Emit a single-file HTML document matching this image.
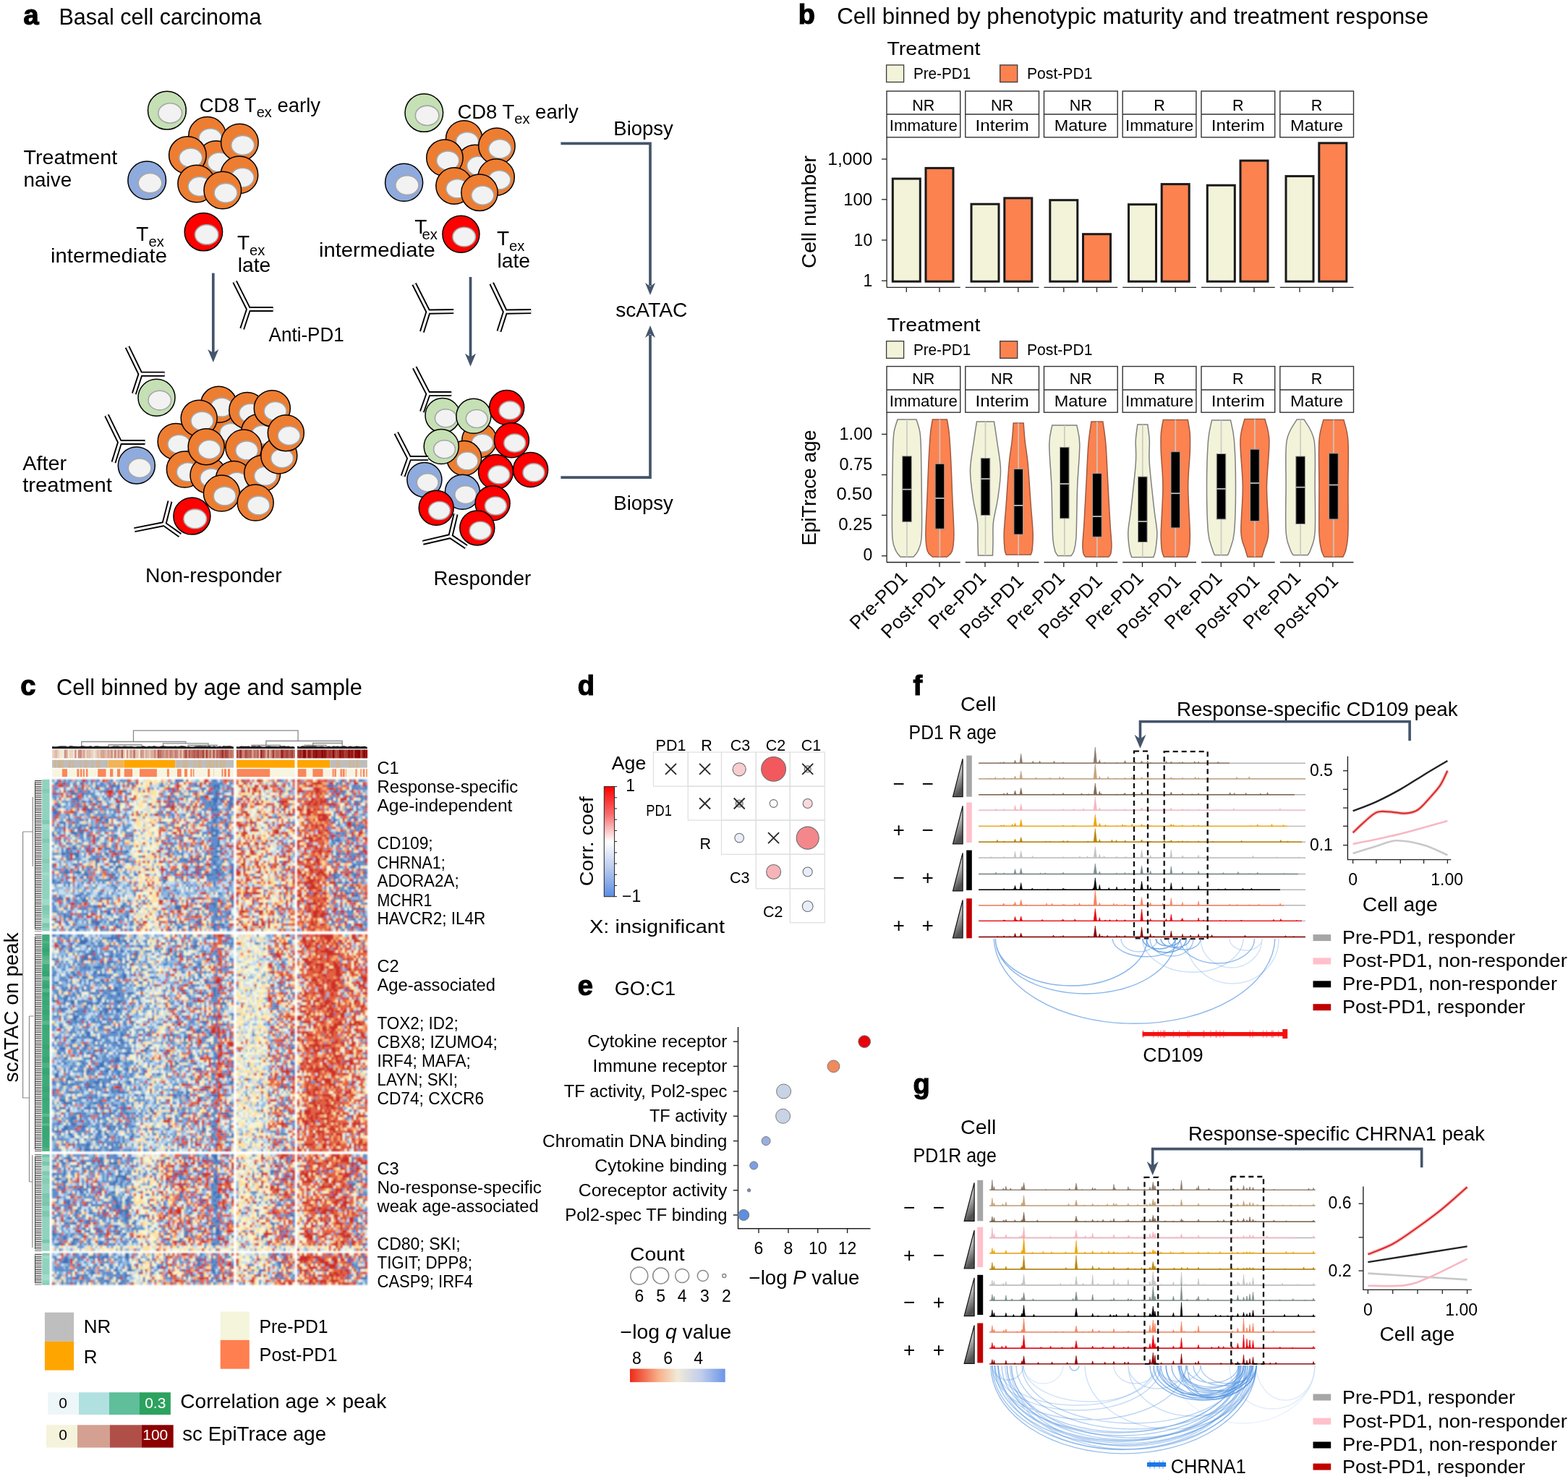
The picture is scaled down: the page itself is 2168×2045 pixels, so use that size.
<!DOCTYPE html>
<html><head><meta charset="utf-8"><title>Figure</title>
<style>html,body{margin:0;padding:0;background:#fff;}svg{display:block;}text{font-family:'Liberation Sans', Arial, sans-serif;}</style>
</head><body>
<svg width="2168" height="2045" viewBox="0 0 2168 2045">
<rect width="2168" height="2045" fill="#fff"/>
<text x="32.6" y="34.0" font-size="38" font-weight="bold" stroke="#000" stroke-width="1.2">a</text>
<text x="81.5" y="34.0" font-size="30.5" textLength="280" lengthAdjust="spacingAndGlyphs">Basal cell carcinoma</text>
<circle cx="230.9" cy="152.7" r="26.4" fill="#c5e0b4" stroke="#000" stroke-width="1.5"/>
<ellipse cx="235.2" cy="156.5" rx="16.4" ry="13.7" fill="#f2f2f2" stroke="#a6a6a6" stroke-width="1.6"/>
<circle cx="203.2" cy="249.4" r="26.3" fill="#8faadc" stroke="#000" stroke-width="1.5"/>
<ellipse cx="207.5" cy="253.2" rx="16.3" ry="13.7" fill="#f2f2f2" stroke="#a6a6a6" stroke-width="1.6"/>
<circle cx="286.6" cy="187.4" r="25.8" fill="#ed7d31" stroke="#000" stroke-width="1.5"/>
<ellipse cx="290.9" cy="191.2" rx="16.0" ry="13.4" fill="#f2f2f2" stroke="#a6a6a6" stroke-width="1.6"/>
<circle cx="298.8" cy="220.6" r="25.8" fill="#ed7d31" stroke="#000" stroke-width="1.5"/>
<ellipse cx="303.1" cy="224.4" rx="16.0" ry="13.4" fill="#f2f2f2" stroke="#a6a6a6" stroke-width="1.6"/>
<circle cx="331.4" cy="197.0" r="25.8" fill="#ed7d31" stroke="#000" stroke-width="1.5"/>
<ellipse cx="335.7" cy="200.8" rx="16.0" ry="13.4" fill="#f2f2f2" stroke="#a6a6a6" stroke-width="1.6"/>
<circle cx="259.4" cy="214.6" r="25.8" fill="#ed7d31" stroke="#000" stroke-width="1.5"/>
<ellipse cx="263.7" cy="218.4" rx="16.0" ry="13.4" fill="#f2f2f2" stroke="#a6a6a6" stroke-width="1.6"/>
<circle cx="330.9" cy="241.8" r="25.8" fill="#ed7d31" stroke="#000" stroke-width="1.5"/>
<ellipse cx="335.2" cy="245.6" rx="16.0" ry="13.4" fill="#f2f2f2" stroke="#a6a6a6" stroke-width="1.6"/>
<circle cx="271.7" cy="254.0" r="25.8" fill="#ed7d31" stroke="#000" stroke-width="1.5"/>
<ellipse cx="276.0" cy="257.8" rx="16.0" ry="13.4" fill="#f2f2f2" stroke="#a6a6a6" stroke-width="1.6"/>
<circle cx="307.8" cy="263.0" r="25.8" fill="#ed7d31" stroke="#000" stroke-width="1.5"/>
<ellipse cx="312.1" cy="266.8" rx="16.0" ry="13.4" fill="#f2f2f2" stroke="#a6a6a6" stroke-width="1.6"/>
<circle cx="281.4" cy="320.6" r="26.2" fill="#ff0000" stroke="#000" stroke-width="1.5"/>
<ellipse cx="285.7" cy="324.4" rx="16.2" ry="13.6" fill="#f2f2f2" stroke="#a6a6a6" stroke-width="1.6"/>
<circle cx="586.3" cy="156.0" r="26.3" fill="#c5e0b4" stroke="#000" stroke-width="1.5"/>
<ellipse cx="590.6" cy="159.8" rx="16.3" ry="13.7" fill="#f2f2f2" stroke="#a6a6a6" stroke-width="1.6"/>
<circle cx="558.6" cy="252.3" r="26.0" fill="#8faadc" stroke="#000" stroke-width="1.5"/>
<ellipse cx="562.9" cy="256.1" rx="16.1" ry="13.5" fill="#f2f2f2" stroke="#a6a6a6" stroke-width="1.6"/>
<circle cx="641.7" cy="191.9" r="25.2" fill="#ed7d31" stroke="#000" stroke-width="1.5"/>
<ellipse cx="646.0" cy="195.7" rx="15.6" ry="13.1" fill="#f2f2f2" stroke="#a6a6a6" stroke-width="1.6"/>
<circle cx="656.9" cy="225.5" r="25.2" fill="#ed7d31" stroke="#000" stroke-width="1.5"/>
<ellipse cx="661.2" cy="229.3" rx="15.6" ry="13.1" fill="#f2f2f2" stroke="#a6a6a6" stroke-width="1.6"/>
<circle cx="686.9" cy="202.1" r="25.2" fill="#ed7d31" stroke="#000" stroke-width="1.5"/>
<ellipse cx="691.2" cy="205.9" rx="15.6" ry="13.1" fill="#f2f2f2" stroke="#a6a6a6" stroke-width="1.6"/>
<circle cx="614.9" cy="218.2" r="25.2" fill="#ed7d31" stroke="#000" stroke-width="1.5"/>
<ellipse cx="619.2" cy="222.0" rx="15.6" ry="13.1" fill="#f2f2f2" stroke="#a6a6a6" stroke-width="1.6"/>
<circle cx="686.1" cy="245.0" r="25.2" fill="#ed7d31" stroke="#000" stroke-width="1.5"/>
<ellipse cx="690.4" cy="248.8" rx="15.6" ry="13.1" fill="#f2f2f2" stroke="#a6a6a6" stroke-width="1.6"/>
<circle cx="628.0" cy="257.0" r="25.2" fill="#ed7d31" stroke="#000" stroke-width="1.5"/>
<ellipse cx="632.3" cy="260.8" rx="15.6" ry="13.1" fill="#f2f2f2" stroke="#a6a6a6" stroke-width="1.6"/>
<circle cx="663.0" cy="266.3" r="25.2" fill="#ed7d31" stroke="#000" stroke-width="1.5"/>
<ellipse cx="667.3" cy="270.1" rx="15.6" ry="13.1" fill="#f2f2f2" stroke="#a6a6a6" stroke-width="1.6"/>
<circle cx="637.4" cy="323.8" r="25.5" fill="#ff0000" stroke="#000" stroke-width="1.5"/>
<ellipse cx="641.7" cy="327.6" rx="15.8" ry="13.3" fill="#f2f2f2" stroke="#a6a6a6" stroke-width="1.6"/>
<text x="275.7" y="154.9" font-size="27.5">CD8 T<tspan font-size="20" dy="7">ex</tspan><tspan dy="-7"> early</tspan></text>
<text x="32.6" y="226.8" font-size="28" textLength="129.6" lengthAdjust="spacingAndGlyphs">Treatment</text>
<text x="32.6" y="257.5" font-size="28" textLength="66.6" lengthAdjust="spacingAndGlyphs">naive</text>
<text x="188.3" y="332.8" font-size="28">T<tspan font-size="20.2" dy="8" dx="0">ex</tspan></text>
<text x="70.1" y="363.2" font-size="28" textLength="160.8" lengthAdjust="spacingAndGlyphs">intermediate</text>
<text x="327.9" y="344.5" font-size="28">T<tspan font-size="20.2" dy="8" dx="0">ex</tspan></text>
<text x="328.7" y="375.7" font-size="28" textLength="45.6" lengthAdjust="spacingAndGlyphs">late</text>
<text x="632.4" y="164.2" font-size="27.5">CD8 T<tspan font-size="20" dy="7">ex</tspan><tspan dy="-7"> early</tspan></text>
<text x="573.3" y="323.2" font-size="28">T<tspan font-size="20.2" dy="8" dx="-7">ex</tspan></text>
<text x="441.0" y="354.7" font-size="28" textLength="160.8" lengthAdjust="spacingAndGlyphs">intermediate</text>
<text x="687.0" y="339.2" font-size="28">T<tspan font-size="20.2" dy="8" dx="0">ex</tspan></text>
<text x="687.5" y="369.9" font-size="28" textLength="45.6" lengthAdjust="spacingAndGlyphs">late</text>
<text x="848.3" y="186.6" font-size="27.5">Biopsy</text>
<text x="851.2" y="438.4" font-size="27.5" textLength="99.1" lengthAdjust="spacingAndGlyphs">scATAC</text>
<text x="848.3" y="704.5" font-size="27.5">Biopsy</text>
<text x="371.6" y="472.4" font-size="27.5" textLength="104.1" lengthAdjust="spacingAndGlyphs">Anti-PD1</text>
<text x="31.2" y="650.3" font-size="28" textLength="60.9" lengthAdjust="spacingAndGlyphs">After</text>
<text x="31.2" y="680.2" font-size="28" textLength="123.7" lengthAdjust="spacingAndGlyphs">treatment</text>
<text x="201.0" y="805.2" font-size="28" textLength="188.8" lengthAdjust="spacingAndGlyphs">Non-responder</text>
<text x="599.4" y="809.2" font-size="28" textLength="134.8" lengthAdjust="spacingAndGlyphs">Responder</text>
<line x1="294.8" y1="377.6" x2="294.8" y2="489" stroke="#44546a" stroke-width="3.7"/>
<path d="M287.3 483L294.8 501L302.3 483L294.8 488z" fill="#44546a"/>
<line x1="650.5" y1="383" x2="650.5" y2="494.7" stroke="#44546a" stroke-width="3.7"/>
<path d="M643.0 488.7L650.5 506.7L658.0 488.7L650.5 493.7z" fill="#44546a"/>
<path d="M775.4 198.3H899V395" fill="none" stroke="#44546a" stroke-width="3.7"/>
<path d="M892 391L899 408L906 391L899 396z" fill="#44546a"/>
<path d="M775.4 660.1H899V463" fill="none" stroke="#44546a" stroke-width="3.7"/>
<path d="M892 467L899 450L906 467L899 462z" fill="#44546a"/>
<path d="M324.6 389.5L343.7 427.5L377.6 427.5M343.7 427.5L334.7 454.7" fill="none" stroke="#000" stroke-width="7" stroke-linejoin="miter"/>
<path d="M324.6 389.5L343.7 427.5L377.6 427.5M343.7 427.5L334.7 454.7" fill="none" stroke="#fff" stroke-width="3.2" stroke-linejoin="miter"/>
<path d="M572.6 392.6L592.1 431.1L627.1 430.6M592.1 431.1L583.4 458.9" fill="none" stroke="#000" stroke-width="7" stroke-linejoin="miter"/>
<path d="M572.6 392.6L592.1 431.1L627.1 430.6M592.1 431.1L583.4 458.9" fill="none" stroke="#fff" stroke-width="3.2" stroke-linejoin="miter"/>
<path d="M679.7 391.7L698.6 431.1L734.2 430.6M698.6 431.1L689.9 458.3" fill="none" stroke="#000" stroke-width="7" stroke-linejoin="miter"/>
<path d="M679.7 391.7L698.6 431.1L734.2 430.6M698.6 431.1L689.9 458.3" fill="none" stroke="#fff" stroke-width="3.2" stroke-linejoin="miter"/>
<circle cx="216.5" cy="549.8" r="25.5" fill="#c5e0b4" stroke="#000" stroke-width="1.5"/>
<ellipse cx="220.8" cy="553.6" rx="15.8" ry="13.3" fill="#f2f2f2" stroke="#a6a6a6" stroke-width="1.6"/>
<path d="M176.0 479.7L194.2 517.2L227.7 517.2M194.2 517.2L185.3 544.4" fill="none" stroke="#000" stroke-width="7" stroke-linejoin="miter"/>
<path d="M176.0 479.7L194.2 517.2L227.7 517.2M194.2 517.2L185.3 544.4" fill="none" stroke="#fff" stroke-width="3.2" stroke-linejoin="miter"/>
<circle cx="188.8" cy="643.5" r="25.5" fill="#8faadc" stroke="#000" stroke-width="1.5"/>
<ellipse cx="193.1" cy="647.3" rx="15.8" ry="13.3" fill="#f2f2f2" stroke="#a6a6a6" stroke-width="1.6"/>
<path d="M147.5 574.2L165.7 611.5L200.5 611.5M165.7 611.5L157.0 639.4" fill="none" stroke="#000" stroke-width="7" stroke-linejoin="miter"/>
<path d="M147.5 574.2L165.7 611.5L200.5 611.5M165.7 611.5L157.0 639.4" fill="none" stroke="#fff" stroke-width="3.2" stroke-linejoin="miter"/>
<circle cx="315.1" cy="594.6" r="25.0" fill="#ed7d31" stroke="#000" stroke-width="1.5"/>
<ellipse cx="319.4" cy="598.4" rx="15.5" ry="13.0" fill="#f2f2f2" stroke="#a6a6a6" stroke-width="1.6"/>
<circle cx="302.4" cy="559.3" r="25.0" fill="#ed7d31" stroke="#000" stroke-width="1.5"/>
<ellipse cx="306.7" cy="563.1" rx="15.5" ry="13.0" fill="#f2f2f2" stroke="#a6a6a6" stroke-width="1.6"/>
<circle cx="341.8" cy="567.5" r="25.0" fill="#ed7d31" stroke="#000" stroke-width="1.5"/>
<ellipse cx="346.1" cy="571.3" rx="15.5" ry="13.0" fill="#f2f2f2" stroke="#a6a6a6" stroke-width="1.6"/>
<circle cx="358.6" cy="597.3" r="25.0" fill="#ed7d31" stroke="#000" stroke-width="1.5"/>
<ellipse cx="362.9" cy="601.1" rx="15.5" ry="13.0" fill="#f2f2f2" stroke="#a6a6a6" stroke-width="1.6"/>
<circle cx="376.3" cy="564.7" r="25.0" fill="#ed7d31" stroke="#000" stroke-width="1.5"/>
<ellipse cx="380.6" cy="568.5" rx="15.5" ry="13.0" fill="#f2f2f2" stroke="#a6a6a6" stroke-width="1.6"/>
<circle cx="336.9" cy="619.1" r="25.0" fill="#ed7d31" stroke="#000" stroke-width="1.5"/>
<ellipse cx="341.2" cy="622.9" rx="15.5" ry="13.0" fill="#f2f2f2" stroke="#a6a6a6" stroke-width="1.6"/>
<circle cx="243.1" cy="610.4" r="25.0" fill="#ed7d31" stroke="#000" stroke-width="1.5"/>
<ellipse cx="247.4" cy="614.2" rx="15.5" ry="13.0" fill="#f2f2f2" stroke="#a6a6a6" stroke-width="1.6"/>
<circle cx="255.4" cy="649.0" r="25.0" fill="#ed7d31" stroke="#000" stroke-width="1.5"/>
<ellipse cx="259.7" cy="652.8" rx="15.5" ry="13.0" fill="#f2f2f2" stroke="#a6a6a6" stroke-width="1.6"/>
<circle cx="288.0" cy="657.1" r="25.0" fill="#ed7d31" stroke="#000" stroke-width="1.5"/>
<ellipse cx="292.3" cy="660.9" rx="15.5" ry="13.0" fill="#f2f2f2" stroke="#a6a6a6" stroke-width="1.6"/>
<circle cx="323.3" cy="662.5" r="25.0" fill="#ed7d31" stroke="#000" stroke-width="1.5"/>
<ellipse cx="327.6" cy="666.3" rx="15.5" ry="13.0" fill="#f2f2f2" stroke="#a6a6a6" stroke-width="1.6"/>
<circle cx="275.2" cy="578.3" r="25.0" fill="#ed7d31" stroke="#000" stroke-width="1.5"/>
<ellipse cx="279.5" cy="582.1" rx="15.5" ry="13.0" fill="#f2f2f2" stroke="#a6a6a6" stroke-width="1.6"/>
<circle cx="285.2" cy="617.7" r="25.0" fill="#ed7d31" stroke="#000" stroke-width="1.5"/>
<ellipse cx="289.5" cy="621.5" rx="15.5" ry="13.0" fill="#f2f2f2" stroke="#a6a6a6" stroke-width="1.6"/>
<circle cx="362.7" cy="654.4" r="25.0" fill="#ed7d31" stroke="#000" stroke-width="1.5"/>
<ellipse cx="367.0" cy="658.2" rx="15.5" ry="13.0" fill="#f2f2f2" stroke="#a6a6a6" stroke-width="1.6"/>
<circle cx="385.8" cy="629.9" r="25.0" fill="#ed7d31" stroke="#000" stroke-width="1.5"/>
<ellipse cx="390.1" cy="633.7" rx="15.5" ry="13.0" fill="#f2f2f2" stroke="#a6a6a6" stroke-width="1.6"/>
<circle cx="395.3" cy="598.7" r="25.0" fill="#ed7d31" stroke="#000" stroke-width="1.5"/>
<ellipse cx="399.6" cy="602.5" rx="15.5" ry="13.0" fill="#f2f2f2" stroke="#a6a6a6" stroke-width="1.6"/>
<circle cx="306.4" cy="682.1" r="25.0" fill="#ed7d31" stroke="#000" stroke-width="1.5"/>
<ellipse cx="310.7" cy="685.9" rx="15.5" ry="13.0" fill="#f2f2f2" stroke="#a6a6a6" stroke-width="1.6"/>
<circle cx="353.2" cy="695.1" r="25.0" fill="#ed7d31" stroke="#000" stroke-width="1.5"/>
<ellipse cx="357.5" cy="698.9" rx="15.5" ry="13.0" fill="#f2f2f2" stroke="#a6a6a6" stroke-width="1.6"/>
<circle cx="265.4" cy="713.6" r="25.5" fill="#ff0000" stroke="#000" stroke-width="1.5"/>
<ellipse cx="269.7" cy="717.4" rx="15.8" ry="13.3" fill="#f2f2f2" stroke="#a6a6a6" stroke-width="1.6"/>
<path d="M235.0 693.1L226.9 724.5L185.9 732.6M226.9 724.5L249.0 740.2" fill="none" stroke="#000" stroke-width="7" stroke-linejoin="miter"/>
<path d="M235.0 693.1L226.9 724.5L185.9 732.6M226.9 724.5L249.0 740.2" fill="none" stroke="#fff" stroke-width="3.2" stroke-linejoin="miter"/>
<circle cx="662.7" cy="608.8" r="24.0" fill="#ed7d31" stroke="#000" stroke-width="1.5"/>
<ellipse cx="667.0" cy="612.6" rx="14.9" ry="12.5" fill="#f2f2f2" stroke="#a6a6a6" stroke-width="1.6"/>
<circle cx="641.7" cy="633.6" r="24.0" fill="#ed7d31" stroke="#000" stroke-width="1.5"/>
<ellipse cx="646.0" cy="637.4" rx="14.9" ry="12.5" fill="#f2f2f2" stroke="#a6a6a6" stroke-width="1.6"/>
<circle cx="612.0" cy="574.4" r="24.0" fill="#c5e0b4" stroke="#000" stroke-width="1.5"/>
<ellipse cx="616.3" cy="578.2" rx="14.9" ry="12.5" fill="#f2f2f2" stroke="#a6a6a6" stroke-width="1.6"/>
<circle cx="654.9" cy="575.2" r="24.0" fill="#c5e0b4" stroke="#000" stroke-width="1.5"/>
<ellipse cx="659.2" cy="579.0" rx="14.9" ry="12.5" fill="#f2f2f2" stroke="#a6a6a6" stroke-width="1.6"/>
<circle cx="610.2" cy="617.5" r="24.0" fill="#c5e0b4" stroke="#000" stroke-width="1.5"/>
<ellipse cx="614.5" cy="621.3" rx="14.9" ry="12.5" fill="#f2f2f2" stroke="#a6a6a6" stroke-width="1.6"/>
<circle cx="700.7" cy="563.6" r="24.0" fill="#ff0000" stroke="#000" stroke-width="1.5"/>
<ellipse cx="705.0" cy="567.4" rx="14.9" ry="12.5" fill="#f2f2f2" stroke="#a6a6a6" stroke-width="1.6"/>
<circle cx="707.4" cy="608.8" r="24.0" fill="#ff0000" stroke="#000" stroke-width="1.5"/>
<ellipse cx="711.7" cy="612.6" rx="14.9" ry="12.5" fill="#f2f2f2" stroke="#a6a6a6" stroke-width="1.6"/>
<circle cx="685.5" cy="652.6" r="24.0" fill="#ff0000" stroke="#000" stroke-width="1.5"/>
<ellipse cx="689.8" cy="656.4" rx="14.9" ry="12.5" fill="#f2f2f2" stroke="#a6a6a6" stroke-width="1.6"/>
<circle cx="733.6" cy="649.6" r="24.0" fill="#ff0000" stroke="#000" stroke-width="1.5"/>
<ellipse cx="737.9" cy="653.4" rx="14.9" ry="12.5" fill="#f2f2f2" stroke="#a6a6a6" stroke-width="1.6"/>
<circle cx="586.9" cy="663.4" r="24.0" fill="#8faadc" stroke="#000" stroke-width="1.5"/>
<ellipse cx="591.2" cy="667.2" rx="14.9" ry="12.5" fill="#f2f2f2" stroke="#a6a6a6" stroke-width="1.6"/>
<circle cx="639.4" cy="680.3" r="24.0" fill="#8faadc" stroke="#000" stroke-width="1.5"/>
<ellipse cx="643.7" cy="684.1" rx="14.9" ry="12.5" fill="#f2f2f2" stroke="#a6a6a6" stroke-width="1.6"/>
<circle cx="603.2" cy="702.2" r="24.0" fill="#ff0000" stroke="#000" stroke-width="1.5"/>
<ellipse cx="607.5" cy="706.0" rx="14.9" ry="12.5" fill="#f2f2f2" stroke="#a6a6a6" stroke-width="1.6"/>
<circle cx="681.1" cy="695.7" r="24.0" fill="#ff0000" stroke="#000" stroke-width="1.5"/>
<ellipse cx="685.4" cy="699.5" rx="14.9" ry="12.5" fill="#f2f2f2" stroke="#a6a6a6" stroke-width="1.6"/>
<circle cx="659.8" cy="729.9" r="24.0" fill="#ff0000" stroke="#000" stroke-width="1.5"/>
<ellipse cx="664.1" cy="733.7" rx="14.9" ry="12.5" fill="#f2f2f2" stroke="#a6a6a6" stroke-width="1.6"/>
<path d="M573.2 508.1L592.1 544.6L624.2 544.6M592.1 544.6L583.4 569.4" fill="none" stroke="#000" stroke-width="7" stroke-linejoin="miter"/>
<path d="M573.2 508.1L592.1 544.6L624.2 544.6M592.1 544.6L583.4 569.4" fill="none" stroke="#fff" stroke-width="3.2" stroke-linejoin="miter"/>
<path d="M547.8 598.6L565.9 633.6L592.1 633.6M565.9 633.6L557.1 658.4" fill="none" stroke="#000" stroke-width="7" stroke-linejoin="miter"/>
<path d="M547.8 598.6L565.9 633.6L592.1 633.6M565.9 633.6L557.1 658.4" fill="none" stroke="#fff" stroke-width="3.2" stroke-linejoin="miter"/>
<path d="M630.1 710.9L622.8 741.5L584.8 750.3M622.8 741.5L644.6 756.1" fill="none" stroke="#000" stroke-width="7" stroke-linejoin="miter"/>
<path d="M630.1 710.9L622.8 741.5L584.8 750.3M622.8 741.5L644.6 756.1" fill="none" stroke="#fff" stroke-width="3.2" stroke-linejoin="miter"/>
<text x="1103.8" y="32.6" font-size="38" font-weight="bold" stroke="#000" stroke-width="1.2">b</text>
<text x="1157.2" y="32.6" font-size="31" textLength="818" lengthAdjust="spacingAndGlyphs">Cell binned by phenotypic maturity and treatment response</text>
<text x="1226.4" y="76.1" font-size="26" textLength="129" lengthAdjust="spacingAndGlyphs">Treatment</text>
<rect x="1225.6" y="89.9" width="24" height="23.6" fill="#f3f3da" stroke="#3a3a3a" stroke-width="1.3"/>
<rect x="1382.7" y="89.9" width="24" height="23.6" fill="#fc8250" stroke="#3a3a3a" stroke-width="1.3"/>
<text x="1262.9" y="109.3" font-size="22.5" textLength="79.4" lengthAdjust="spacingAndGlyphs">Pre-PD1</text>
<text x="1420.0" y="109.3" font-size="22.5" textLength="90.5" lengthAdjust="spacingAndGlyphs">Post-PD1</text>
<rect x="1226.0" y="126" width="101.7" height="63.8" fill="#fff" stroke="#333" stroke-width="1.4"/>
<line x1="1226.0" y1="158" x2="1327.7" y2="158" stroke="#333" stroke-width="1.4"/>
<text x="1276.8" y="152.5" font-size="21.5" text-anchor="middle">NR</text>
<text x="1276.8" y="181.2" font-size="22" text-anchor="middle" textLength="94" lengthAdjust="spacingAndGlyphs">Immature</text>
<rect x="1334.8" y="126" width="101.7" height="63.8" fill="#fff" stroke="#333" stroke-width="1.4"/>
<line x1="1334.8" y1="158" x2="1436.5" y2="158" stroke="#333" stroke-width="1.4"/>
<text x="1385.6" y="152.5" font-size="21.5" text-anchor="middle">NR</text>
<text x="1385.6" y="181.2" font-size="22" text-anchor="middle" textLength="74" lengthAdjust="spacingAndGlyphs">Interim</text>
<rect x="1443.5" y="126" width="101.7" height="63.8" fill="#fff" stroke="#333" stroke-width="1.4"/>
<line x1="1443.5" y1="158" x2="1545.2" y2="158" stroke="#333" stroke-width="1.4"/>
<text x="1494.3" y="152.5" font-size="21.5" text-anchor="middle">NR</text>
<text x="1494.3" y="181.2" font-size="22" text-anchor="middle" textLength="73" lengthAdjust="spacingAndGlyphs">Mature</text>
<rect x="1552.2" y="126" width="101.7" height="63.8" fill="#fff" stroke="#333" stroke-width="1.4"/>
<line x1="1552.2" y1="158" x2="1654.0" y2="158" stroke="#333" stroke-width="1.4"/>
<text x="1603.1" y="152.5" font-size="21.5" text-anchor="middle">R</text>
<text x="1603.1" y="181.2" font-size="22" text-anchor="middle" textLength="94" lengthAdjust="spacingAndGlyphs">Immature</text>
<rect x="1661.0" y="126" width="101.7" height="63.8" fill="#fff" stroke="#333" stroke-width="1.4"/>
<line x1="1661.0" y1="158" x2="1762.7" y2="158" stroke="#333" stroke-width="1.4"/>
<text x="1711.8" y="152.5" font-size="21.5" text-anchor="middle">R</text>
<text x="1711.8" y="181.2" font-size="22" text-anchor="middle" textLength="74" lengthAdjust="spacingAndGlyphs">Interim</text>
<rect x="1769.8" y="126" width="101.7" height="63.8" fill="#fff" stroke="#333" stroke-width="1.4"/>
<line x1="1769.8" y1="158" x2="1871.5" y2="158" stroke="#333" stroke-width="1.4"/>
<text x="1820.6" y="152.5" font-size="21.5" text-anchor="middle">R</text>
<text x="1820.6" y="181.2" font-size="22" text-anchor="middle" textLength="73" lengthAdjust="spacingAndGlyphs">Mature</text>
<line x1="1226.1" y1="189.8" x2="1226.1" y2="397.4" stroke="#222" stroke-width="1.3"/>
<line x1="1219" y1="220" x2="1226" y2="220" stroke="#222" stroke-width="1.3"/>
<text x="1206.2" y="228.0" font-size="23" text-anchor="end" textLength="62" lengthAdjust="spacingAndGlyphs">1,000</text>
<line x1="1219" y1="275.8" x2="1226" y2="275.8" stroke="#222" stroke-width="1.3"/>
<text x="1206.2" y="283.8" font-size="23" text-anchor="end" textLength="40" lengthAdjust="spacingAndGlyphs">100</text>
<line x1="1219" y1="332" x2="1226" y2="332" stroke="#222" stroke-width="1.3"/>
<text x="1206.2" y="340.0" font-size="23" text-anchor="end">10</text>
<line x1="1219" y1="388.2" x2="1226" y2="388.2" stroke="#222" stroke-width="1.3"/>
<text x="1206.2" y="396.2" font-size="23" text-anchor="end">1</text>
<text x="0" y="0" font-size="28" text-anchor="middle" transform="translate(1127.5 293) rotate(-90)" textLength="156" lengthAdjust="spacingAndGlyphs">Cell number</text>
<rect x="1234.3" y="247.1" width="38" height="142.1" fill="#f3f3da" stroke="#1a1a1a" stroke-width="3"/>
<rect x="1280.0" y="232.4" width="38" height="156.8" fill="#fc8250" stroke="#1a1a1a" stroke-width="3"/>
<line x1="1226.0" y1="397.4" x2="1327.7" y2="397.4" stroke="#222" stroke-width="1.3"/>
<line x1="1253.3" y1="397.4" x2="1253.3" y2="404" stroke="#222" stroke-width="1.3"/>
<line x1="1299.0" y1="397.4" x2="1299.0" y2="404" stroke="#222" stroke-width="1.3"/>
<rect x="1343.0" y="282.2" width="38" height="107.0" fill="#f3f3da" stroke="#1a1a1a" stroke-width="3"/>
<rect x="1388.8" y="273.9" width="38" height="115.3" fill="#fc8250" stroke="#1a1a1a" stroke-width="3"/>
<line x1="1334.8" y1="397.4" x2="1436.5" y2="397.4" stroke="#222" stroke-width="1.3"/>
<line x1="1362.0" y1="397.4" x2="1362.0" y2="404" stroke="#222" stroke-width="1.3"/>
<line x1="1407.8" y1="397.4" x2="1407.8" y2="404" stroke="#222" stroke-width="1.3"/>
<rect x="1451.8" y="276.7" width="38" height="112.5" fill="#f3f3da" stroke="#1a1a1a" stroke-width="3"/>
<rect x="1497.5" y="323.7" width="38" height="65.5" fill="#fc8250" stroke="#1a1a1a" stroke-width="3"/>
<line x1="1443.5" y1="397.4" x2="1545.2" y2="397.4" stroke="#222" stroke-width="1.3"/>
<line x1="1470.8" y1="397.4" x2="1470.8" y2="404" stroke="#222" stroke-width="1.3"/>
<line x1="1516.5" y1="397.4" x2="1516.5" y2="404" stroke="#222" stroke-width="1.3"/>
<rect x="1560.5" y="282.7" width="38" height="106.5" fill="#f3f3da" stroke="#1a1a1a" stroke-width="3"/>
<rect x="1606.2" y="254.6" width="38" height="134.6" fill="#fc8250" stroke="#1a1a1a" stroke-width="3"/>
<line x1="1552.2" y1="397.4" x2="1654.0" y2="397.4" stroke="#222" stroke-width="1.3"/>
<line x1="1579.5" y1="397.4" x2="1579.5" y2="404" stroke="#222" stroke-width="1.3"/>
<line x1="1625.2" y1="397.4" x2="1625.2" y2="404" stroke="#222" stroke-width="1.3"/>
<rect x="1669.3" y="256.2" width="38" height="133.0" fill="#f3f3da" stroke="#1a1a1a" stroke-width="3"/>
<rect x="1715.0" y="222.1" width="38" height="167.1" fill="#fc8250" stroke="#1a1a1a" stroke-width="3"/>
<line x1="1661.0" y1="397.4" x2="1762.7" y2="397.4" stroke="#222" stroke-width="1.3"/>
<line x1="1688.3" y1="397.4" x2="1688.3" y2="404" stroke="#222" stroke-width="1.3"/>
<line x1="1734.0" y1="397.4" x2="1734.0" y2="404" stroke="#222" stroke-width="1.3"/>
<rect x="1778.0" y="243.6" width="38" height="145.6" fill="#f3f3da" stroke="#1a1a1a" stroke-width="3"/>
<rect x="1823.8" y="197.8" width="38" height="191.4" fill="#fc8250" stroke="#1a1a1a" stroke-width="3"/>
<line x1="1769.8" y1="397.4" x2="1871.5" y2="397.4" stroke="#222" stroke-width="1.3"/>
<line x1="1797.0" y1="397.4" x2="1797.0" y2="404" stroke="#222" stroke-width="1.3"/>
<line x1="1842.8" y1="397.4" x2="1842.8" y2="404" stroke="#222" stroke-width="1.3"/>
<text x="1226.4" y="458.2" font-size="26" textLength="129" lengthAdjust="spacingAndGlyphs">Treatment</text>
<rect x="1225.6" y="471.7" width="24" height="23.6" fill="#f3f3da" stroke="#3a3a3a" stroke-width="1.3"/>
<rect x="1382.7" y="471.7" width="24" height="23.6" fill="#fc8250" stroke="#3a3a3a" stroke-width="1.3"/>
<text x="1262.9" y="490.5" font-size="22.5" textLength="79.4" lengthAdjust="spacingAndGlyphs">Pre-PD1</text>
<text x="1420.0" y="490.5" font-size="22.5" textLength="90.5" lengthAdjust="spacingAndGlyphs">Post-PD1</text>
<rect x="1226.0" y="506.6" width="101.7" height="63.6" fill="#fff" stroke="#333" stroke-width="1.4"/>
<line x1="1226.0" y1="539" x2="1327.7" y2="539" stroke="#333" stroke-width="1.4"/>
<text x="1276.8" y="530.5" font-size="21.5" text-anchor="middle">NR</text>
<text x="1276.8" y="562.0" font-size="22" text-anchor="middle" textLength="94" lengthAdjust="spacingAndGlyphs">Immature</text>
<rect x="1334.8" y="506.6" width="101.7" height="63.6" fill="#fff" stroke="#333" stroke-width="1.4"/>
<line x1="1334.8" y1="539" x2="1436.5" y2="539" stroke="#333" stroke-width="1.4"/>
<text x="1385.6" y="530.5" font-size="21.5" text-anchor="middle">NR</text>
<text x="1385.6" y="562.0" font-size="22" text-anchor="middle" textLength="74" lengthAdjust="spacingAndGlyphs">Interim</text>
<rect x="1443.5" y="506.6" width="101.7" height="63.6" fill="#fff" stroke="#333" stroke-width="1.4"/>
<line x1="1443.5" y1="539" x2="1545.2" y2="539" stroke="#333" stroke-width="1.4"/>
<text x="1494.3" y="530.5" font-size="21.5" text-anchor="middle">NR</text>
<text x="1494.3" y="562.0" font-size="22" text-anchor="middle" textLength="73" lengthAdjust="spacingAndGlyphs">Mature</text>
<rect x="1552.2" y="506.6" width="101.7" height="63.6" fill="#fff" stroke="#333" stroke-width="1.4"/>
<line x1="1552.2" y1="539" x2="1654.0" y2="539" stroke="#333" stroke-width="1.4"/>
<text x="1603.1" y="530.5" font-size="21.5" text-anchor="middle">R</text>
<text x="1603.1" y="562.0" font-size="22" text-anchor="middle" textLength="94" lengthAdjust="spacingAndGlyphs">Immature</text>
<rect x="1661.0" y="506.6" width="101.7" height="63.6" fill="#fff" stroke="#333" stroke-width="1.4"/>
<line x1="1661.0" y1="539" x2="1762.7" y2="539" stroke="#333" stroke-width="1.4"/>
<text x="1711.8" y="530.5" font-size="21.5" text-anchor="middle">R</text>
<text x="1711.8" y="562.0" font-size="22" text-anchor="middle" textLength="74" lengthAdjust="spacingAndGlyphs">Interim</text>
<rect x="1769.8" y="506.6" width="101.7" height="63.6" fill="#fff" stroke="#333" stroke-width="1.4"/>
<line x1="1769.8" y1="539" x2="1871.5" y2="539" stroke="#333" stroke-width="1.4"/>
<text x="1820.6" y="530.5" font-size="21.5" text-anchor="middle">R</text>
<text x="1820.6" y="562.0" font-size="22" text-anchor="middle" textLength="73" lengthAdjust="spacingAndGlyphs">Mature</text>
<line x1="1226.1" y1="570.2" x2="1226.1" y2="777.5" stroke="#222" stroke-width="1.3"/>
<line x1="1219" y1="600.4" x2="1226" y2="600.4" stroke="#222" stroke-width="1.3"/>
<line x1="1219" y1="656.5" x2="1226" y2="656.5" stroke="#222" stroke-width="1.3"/>
<line x1="1219" y1="712.4" x2="1226" y2="712.4" stroke="#222" stroke-width="1.3"/>
<line x1="1219" y1="768.6" x2="1226" y2="768.6" stroke="#222" stroke-width="1.3"/>
<text x="1206.2" y="608.0" font-size="23" text-anchor="end" textLength="45.6" lengthAdjust="spacingAndGlyphs">1.00</text>
<text x="1206.2" y="649.6" font-size="23" text-anchor="end" textLength="45.6" lengthAdjust="spacingAndGlyphs">0.75</text>
<text x="1206.2" y="691.1" font-size="23" text-anchor="end" textLength="49.8" lengthAdjust="spacingAndGlyphs">0.50</text>
<text x="1206.2" y="732.6" font-size="23" text-anchor="end" textLength="47" lengthAdjust="spacingAndGlyphs">0.25</text>
<text x="1206.2" y="775.0" font-size="23" text-anchor="end">0</text>
<text x="0" y="0" font-size="28" text-anchor="middle" transform="translate(1127.5 674.5) rotate(-90)" textLength="160" lengthAdjust="spacingAndGlyphs">EpiTrace age</text>
<path d="M1241.0 580.0L1267.0 580.0C1267.8 583.0 1270.9 590.5 1272.0 598.0C1273.1 605.5 1273.1 608.0 1273.5 625.0C1273.9 642.0 1274.4 680.0 1274.5 700.0C1274.6 720.0 1274.9 734.7 1274.0 745.0C1273.1 755.3 1270.8 757.8 1269.0 762.0C1267.2 766.2 1264.0 768.7 1263.0 770.0L1245.0 770.0C1244.0 768.7 1240.8 766.2 1239.0 762.0C1237.2 757.8 1234.9 755.3 1234.0 745.0C1233.1 734.7 1233.4 720.0 1233.5 700.0C1233.6 680.0 1234.1 642.0 1234.5 625.0C1234.9 608.0 1234.9 605.5 1236.0 598.0C1237.1 590.5 1240.2 583.0 1241.0 580.0z" fill="#f3f3da" stroke="#808080" stroke-width="1.5"/>
<line x1="1254.0" y1="580.0" x2="1254.0" y2="770.0" stroke="#c9c9c0" stroke-width="1.6"/>
<rect x="1247.7" y="630.8" width="12.6" height="90.8" fill="#000" stroke="#999" stroke-width="1"/>
<line x1="1247.7" y1="676.7" x2="1260.3" y2="676.7" stroke="#bbb" stroke-width="1.8"/>
<path d="M1289.4 580.0L1309.4 580.0C1309.9 583.3 1311.5 590.0 1312.4 600.0C1313.3 610.0 1314.2 625.0 1314.9 640.0C1315.7 655.0 1316.2 673.3 1316.9 690.0C1317.6 706.7 1319.0 728.0 1318.9 740.0C1318.8 752.0 1318.0 757.0 1316.4 762.0C1314.8 767.0 1310.6 768.7 1309.4 770.0L1289.4 770.0C1288.2 768.7 1284.0 767.0 1282.4 762.0C1280.8 757.0 1280.0 752.0 1279.9 740.0C1279.8 728.0 1281.2 706.7 1281.9 690.0C1282.6 673.3 1283.2 655.0 1283.9 640.0C1284.7 625.0 1285.5 610.0 1286.4 600.0C1287.3 590.0 1288.9 583.3 1289.4 580.0z" fill="#fc8250" stroke="#a05a40" stroke-width="1.5"/>
<line x1="1299.4" y1="580.0" x2="1299.4" y2="770.0" stroke="#c9c9c0" stroke-width="1.6"/>
<rect x="1293.1" y="641.3" width="12.6" height="89.9" fill="#000" stroke="#999" stroke-width="1"/>
<line x1="1293.1" y1="688.9" x2="1305.7" y2="688.9" stroke="#bbb" stroke-width="1.8"/>
<path d="M1350.5 583.0L1374.5 583.0C1375.2 587.5 1377.0 598.8 1378.5 610.0C1380.0 621.2 1383.3 636.7 1383.5 650.0C1383.7 663.3 1381.2 678.0 1379.5 690.0C1377.8 702.0 1374.6 712.0 1373.5 722.0C1372.4 732.0 1373.2 742.3 1373.0 750.0C1372.8 757.7 1372.6 765.0 1372.5 768.0L1352.5 768.0C1352.4 765.0 1352.2 757.7 1352.0 750.0C1351.8 742.3 1352.6 732.0 1351.5 722.0C1350.4 712.0 1347.2 702.0 1345.5 690.0C1343.8 678.0 1341.3 663.3 1341.5 650.0C1341.7 636.7 1345.0 621.2 1346.5 610.0C1348.0 598.8 1349.8 587.5 1350.5 583.0z" fill="#f3f3da" stroke="#808080" stroke-width="1.5"/>
<line x1="1362.5" y1="583.0" x2="1362.5" y2="768.0" stroke="#c9c9c0" stroke-width="1.6"/>
<rect x="1356.2" y="633.6" width="12.6" height="78.8" fill="#000" stroke="#999" stroke-width="1"/>
<line x1="1356.2" y1="662.1" x2="1368.8" y2="662.1" stroke="#bbb" stroke-width="1.8"/>
<path d="M1401.2 585.0L1415.2 585.0C1415.5 589.2 1416.2 600.7 1417.2 610.0C1418.2 619.3 1419.9 626.5 1421.2 641.0C1422.5 655.5 1424.0 680.8 1425.2 697.0C1426.4 713.2 1427.9 727.5 1428.2 738.0C1428.5 748.5 1427.7 755.2 1427.2 760.0C1426.7 764.8 1425.5 765.8 1425.2 767.0L1391.2 767.0C1390.9 765.8 1389.7 764.8 1389.2 760.0C1388.7 755.2 1387.9 748.5 1388.2 738.0C1388.5 727.5 1390.0 713.2 1391.2 697.0C1392.4 680.8 1393.9 655.5 1395.2 641.0C1396.5 626.5 1398.2 619.3 1399.2 610.0C1400.2 600.7 1400.9 589.2 1401.2 585.0z" fill="#fc8250" stroke="#a05a40" stroke-width="1.5"/>
<line x1="1408.2" y1="585.0" x2="1408.2" y2="767.0" stroke="#c9c9c0" stroke-width="1.6"/>
<rect x="1401.9" y="648.5" width="12.6" height="90.5" fill="#000" stroke="#999" stroke-width="1"/>
<line x1="1401.9" y1="698.9" x2="1414.5" y2="698.9" stroke="#bbb" stroke-width="1.8"/>
<path d="M1454.8 588.0L1488.8 588.0C1489.5 592.3 1492.6 600.5 1492.8 614.0C1493.0 627.5 1490.5 653.0 1489.8 669.0C1489.1 685.0 1489.1 697.3 1488.8 710.0C1488.5 722.7 1488.5 736.3 1487.8 745.0C1487.1 753.7 1486.0 758.1 1484.8 762.0C1483.6 765.9 1481.5 767.5 1480.8 768.6L1462.8 768.6C1462.1 767.5 1460.0 765.9 1458.8 762.0C1457.6 758.1 1456.5 753.7 1455.8 745.0C1455.1 736.3 1455.1 722.7 1454.8 710.0C1454.5 697.3 1454.5 685.0 1453.8 669.0C1453.1 653.0 1450.6 627.5 1450.8 614.0C1451.0 600.5 1454.1 592.3 1454.8 588.0z" fill="#f3f3da" stroke="#808080" stroke-width="1.5"/>
<line x1="1471.8" y1="588.0" x2="1471.8" y2="768.6" stroke="#c9c9c0" stroke-width="1.6"/>
<rect x="1465.5" y="618.4" width="12.6" height="98.5" fill="#000" stroke="#999" stroke-width="1"/>
<line x1="1465.5" y1="669" x2="1478.1" y2="669" stroke="#bbb" stroke-width="1.8"/>
<path d="M1508.9 583.0L1524.9 583.0C1525.6 588.2 1527.7 599.7 1528.9 614.0C1530.1 628.3 1530.9 650.7 1531.9 669.0C1532.9 687.3 1534.1 710.2 1534.9 724.0C1535.7 737.8 1536.7 745.2 1536.9 752.0C1537.1 758.8 1536.6 762.0 1535.9 765.0C1535.2 768.0 1533.4 769.2 1532.9 770.0L1500.9 770.0C1500.4 769.2 1498.6 768.0 1497.9 765.0C1497.2 762.0 1496.7 758.8 1496.9 752.0C1497.1 745.2 1498.1 737.8 1498.9 724.0C1499.7 710.2 1500.9 687.3 1501.9 669.0C1502.9 650.7 1503.7 628.3 1504.9 614.0C1506.1 599.7 1508.2 588.2 1508.9 583.0z" fill="#fc8250" stroke="#a05a40" stroke-width="1.5"/>
<line x1="1516.9" y1="583.0" x2="1516.9" y2="770.0" stroke="#c9c9c0" stroke-width="1.6"/>
<rect x="1510.6" y="654.6" width="12.6" height="87.7" fill="#000" stroke="#999" stroke-width="1"/>
<line x1="1510.6" y1="714.1" x2="1523.2" y2="714.1" stroke="#bbb" stroke-width="1.8"/>
<path d="M1572.8 587.0L1586.8 587.0C1587.2 590.7 1588.9 600.0 1589.3 609.0C1589.7 618.0 1588.2 625.2 1589.3 641.0C1590.4 656.8 1594.0 688.2 1595.8 704.0C1597.5 719.8 1599.5 726.7 1599.8 736.0C1600.1 745.3 1598.6 754.2 1597.8 760.0C1597.0 765.8 1595.3 768.8 1594.8 770.6L1564.8 770.6C1564.3 768.8 1562.6 765.8 1561.8 760.0C1561.0 754.2 1559.5 745.3 1559.8 736.0C1560.1 726.7 1562.0 719.8 1563.8 704.0C1565.5 688.2 1569.2 656.8 1570.3 641.0C1571.4 625.2 1569.9 618.0 1570.3 609.0C1570.7 600.0 1572.4 590.7 1572.8 587.0z" fill="#f3f3da" stroke="#808080" stroke-width="1.5"/>
<line x1="1579.8" y1="587.0" x2="1579.8" y2="770.6" stroke="#c9c9c0" stroke-width="1.6"/>
<rect x="1573.5" y="659.1" width="12.6" height="90.4" fill="#000" stroke="#999" stroke-width="1"/>
<line x1="1573.5" y1="721" x2="1586.1" y2="721" stroke="#bbb" stroke-width="1.8"/>
<path d="M1608.3 580.5L1642.3 580.5C1642.8 583.8 1644.8 592.6 1645.3 600.0C1645.8 607.4 1645.7 612.9 1645.3 625.0C1644.9 637.1 1642.7 654.2 1642.7 672.7C1642.7 691.2 1645.0 721.5 1645.3 736.0C1645.6 750.5 1645.0 754.3 1644.3 760.0C1643.6 765.7 1641.8 768.3 1641.3 770.0L1609.3 770.0C1608.8 768.3 1607.0 765.7 1606.3 760.0C1605.6 754.3 1605.0 750.5 1605.3 736.0C1605.6 721.5 1607.9 691.2 1607.9 672.7C1607.9 654.2 1605.7 637.1 1605.3 625.0C1604.9 612.9 1604.8 607.4 1605.3 600.0C1605.8 592.6 1607.8 583.8 1608.3 580.5z" fill="#fc8250" stroke="#a05a40" stroke-width="1.5"/>
<line x1="1625.3" y1="580.5" x2="1625.3" y2="770.0" stroke="#c9c9c0" stroke-width="1.6"/>
<rect x="1619.0" y="624.7" width="12.6" height="105.2" fill="#000" stroke="#999" stroke-width="1"/>
<line x1="1619.0" y1="682.2" x2="1631.6" y2="682.2" stroke="#bbb" stroke-width="1.8"/>
<path d="M1675.5 581.0L1701.5 581.0C1702.3 585.8 1705.3 594.2 1706.5 609.5C1707.7 624.8 1708.5 651.6 1708.5 672.7C1708.5 693.8 1707.8 721.5 1706.5 736.0C1705.2 750.5 1702.0 754.8 1700.5 760.0C1699.0 765.2 1698.0 766.2 1697.5 767.5L1679.5 767.5C1679.0 766.2 1678.0 765.2 1676.5 760.0C1675.0 754.8 1671.8 750.5 1670.5 736.0C1669.2 721.5 1668.5 693.8 1668.5 672.7C1668.5 651.6 1669.3 624.8 1670.5 609.5C1671.7 594.2 1674.7 585.8 1675.5 581.0z" fill="#f3f3da" stroke="#808080" stroke-width="1.5"/>
<line x1="1688.5" y1="581.0" x2="1688.5" y2="767.5" stroke="#c9c9c0" stroke-width="1.6"/>
<rect x="1682.2" y="627.5" width="12.6" height="90.4" fill="#000" stroke="#999" stroke-width="1"/>
<line x1="1682.2" y1="675.9" x2="1694.8" y2="675.9" stroke="#bbb" stroke-width="1.8"/>
<path d="M1720.9 579.5L1748.9 579.5C1749.9 584.5 1754.5 594.0 1754.9 609.5C1755.3 625.0 1751.7 651.6 1751.5 672.7C1751.3 693.8 1754.5 721.5 1753.9 736.0C1753.3 750.5 1749.4 754.3 1747.9 760.0C1746.4 765.7 1745.4 768.3 1744.9 770.0L1724.9 770.0C1724.4 768.3 1723.4 765.7 1721.9 760.0C1720.4 754.3 1716.5 750.5 1715.9 736.0C1715.3 721.5 1718.5 693.8 1718.3 672.7C1718.1 651.6 1714.5 625.0 1714.9 609.5C1715.3 594.0 1719.9 584.5 1720.9 579.5z" fill="#fc8250" stroke="#a05a40" stroke-width="1.5"/>
<line x1="1734.9" y1="579.5" x2="1734.9" y2="770.0" stroke="#c9c9c0" stroke-width="1.6"/>
<rect x="1728.6" y="621.2" width="12.6" height="99.2" fill="#000" stroke="#999" stroke-width="1"/>
<line x1="1728.6" y1="668" x2="1741.2" y2="668" stroke="#bbb" stroke-width="1.8"/>
<path d="M1793.1 580.0L1803.1 580.0C1805.4 584.9 1814.6 594.0 1817.1 609.5C1819.6 625.0 1817.9 651.6 1818.1 672.7C1818.3 693.8 1819.1 721.5 1818.1 736.0C1817.1 750.5 1813.8 754.8 1812.1 760.0C1810.4 765.2 1808.8 766.2 1808.1 767.5L1788.1 767.5C1787.4 766.2 1785.8 765.2 1784.1 760.0C1782.4 754.8 1779.1 750.5 1778.1 736.0C1777.1 721.5 1777.9 693.8 1778.1 672.7C1778.3 651.6 1776.6 625.0 1779.1 609.5C1781.6 594.0 1790.8 584.9 1793.1 580.0z" fill="#f3f3da" stroke="#808080" stroke-width="1.5"/>
<line x1="1798.1" y1="580.0" x2="1798.1" y2="767.5" stroke="#c9c9c0" stroke-width="1.6"/>
<rect x="1791.8" y="631" width="12.6" height="93.5" fill="#000" stroke="#999" stroke-width="1"/>
<line x1="1791.8" y1="673.7" x2="1804.4" y2="673.7" stroke="#bbb" stroke-width="1.8"/>
<path d="M1829.9 580.5L1857.9 580.5C1858.9 585.3 1862.9 594.1 1863.9 609.5C1864.9 624.9 1863.9 651.6 1863.9 672.7C1863.9 693.8 1864.4 721.5 1863.9 736.0C1863.4 750.5 1862.1 754.3 1860.9 760.0C1859.7 765.7 1857.6 768.3 1856.9 770.0L1830.9 770.0C1830.2 768.3 1828.1 765.7 1826.9 760.0C1825.7 754.3 1824.4 750.5 1823.9 736.0C1823.4 721.5 1823.9 693.8 1823.9 672.7C1823.9 651.6 1822.9 624.9 1823.9 609.5C1824.9 594.1 1828.9 585.3 1829.9 580.5z" fill="#fc8250" stroke="#a05a40" stroke-width="1.5"/>
<line x1="1843.9" y1="580.5" x2="1843.9" y2="770.0" stroke="#c9c9c0" stroke-width="1.6"/>
<rect x="1837.6" y="626.9" width="12.6" height="91.0" fill="#000" stroke="#999" stroke-width="1"/>
<line x1="1837.6" y1="670.5" x2="1850.2" y2="670.5" stroke="#bbb" stroke-width="1.8"/>
<line x1="1226.0" y1="777.5" x2="1327.7" y2="777.5" stroke="#222" stroke-width="1.3"/>
<line x1="1253.3" y1="777.5" x2="1253.3" y2="784" stroke="#222" stroke-width="1.3"/>
<text x="0" y="0" font-size="26" text-anchor="end" transform="translate(1256.3 801) rotate(-45)" textLength="100" lengthAdjust="spacingAndGlyphs">Pre-PD1</text>
<line x1="1299.0" y1="777.5" x2="1299.0" y2="784" stroke="#222" stroke-width="1.3"/>
<text x="0" y="0" font-size="26" text-anchor="end" transform="translate(1308.0 805) rotate(-45)" textLength="112" lengthAdjust="spacingAndGlyphs">Post-PD1</text>
<line x1="1334.8" y1="777.5" x2="1436.5" y2="777.5" stroke="#222" stroke-width="1.3"/>
<line x1="1362.0" y1="777.5" x2="1362.0" y2="784" stroke="#222" stroke-width="1.3"/>
<text x="0" y="0" font-size="26" text-anchor="end" transform="translate(1365.0 801) rotate(-45)" textLength="100" lengthAdjust="spacingAndGlyphs">Pre-PD1</text>
<line x1="1407.8" y1="777.5" x2="1407.8" y2="784" stroke="#222" stroke-width="1.3"/>
<text x="0" y="0" font-size="26" text-anchor="end" transform="translate(1416.8 805) rotate(-45)" textLength="112" lengthAdjust="spacingAndGlyphs">Post-PD1</text>
<line x1="1443.5" y1="777.5" x2="1545.2" y2="777.5" stroke="#222" stroke-width="1.3"/>
<line x1="1470.8" y1="777.5" x2="1470.8" y2="784" stroke="#222" stroke-width="1.3"/>
<text x="0" y="0" font-size="26" text-anchor="end" transform="translate(1473.8 801) rotate(-45)" textLength="100" lengthAdjust="spacingAndGlyphs">Pre-PD1</text>
<line x1="1516.5" y1="777.5" x2="1516.5" y2="784" stroke="#222" stroke-width="1.3"/>
<text x="0" y="0" font-size="26" text-anchor="end" transform="translate(1525.5 805) rotate(-45)" textLength="112" lengthAdjust="spacingAndGlyphs">Post-PD1</text>
<line x1="1552.2" y1="777.5" x2="1654.0" y2="777.5" stroke="#222" stroke-width="1.3"/>
<line x1="1579.5" y1="777.5" x2="1579.5" y2="784" stroke="#222" stroke-width="1.3"/>
<text x="0" y="0" font-size="26" text-anchor="end" transform="translate(1582.5 801) rotate(-45)" textLength="100" lengthAdjust="spacingAndGlyphs">Pre-PD1</text>
<line x1="1625.2" y1="777.5" x2="1625.2" y2="784" stroke="#222" stroke-width="1.3"/>
<text x="0" y="0" font-size="26" text-anchor="end" transform="translate(1634.2 805) rotate(-45)" textLength="112" lengthAdjust="spacingAndGlyphs">Post-PD1</text>
<line x1="1661.0" y1="777.5" x2="1762.7" y2="777.5" stroke="#222" stroke-width="1.3"/>
<line x1="1688.3" y1="777.5" x2="1688.3" y2="784" stroke="#222" stroke-width="1.3"/>
<text x="0" y="0" font-size="26" text-anchor="end" transform="translate(1691.3 801) rotate(-45)" textLength="100" lengthAdjust="spacingAndGlyphs">Pre-PD1</text>
<line x1="1734.0" y1="777.5" x2="1734.0" y2="784" stroke="#222" stroke-width="1.3"/>
<text x="0" y="0" font-size="26" text-anchor="end" transform="translate(1743.0 805) rotate(-45)" textLength="112" lengthAdjust="spacingAndGlyphs">Post-PD1</text>
<line x1="1769.8" y1="777.5" x2="1871.5" y2="777.5" stroke="#222" stroke-width="1.3"/>
<line x1="1797.0" y1="777.5" x2="1797.0" y2="784" stroke="#222" stroke-width="1.3"/>
<text x="0" y="0" font-size="26" text-anchor="end" transform="translate(1800.0 801) rotate(-45)" textLength="100" lengthAdjust="spacingAndGlyphs">Pre-PD1</text>
<line x1="1842.8" y1="777.5" x2="1842.8" y2="784" stroke="#222" stroke-width="1.3"/>
<text x="0" y="0" font-size="26" text-anchor="end" transform="translate(1851.8 805) rotate(-45)" textLength="112" lengthAdjust="spacingAndGlyphs">Post-PD1</text>
<text x="28.2" y="961.4" font-size="38" font-weight="bold" stroke="#000" stroke-width="1.2">c</text>
<text x="78.0" y="961.4" font-size="31" textLength="422.8" lengthAdjust="spacingAndGlyphs">Cell binned by age and sample</text>
<defs><filter id="hb" x="-0.01" y="-0.01" width="1.02" height="1.02"><feGaussianBlur stdDeviation="1.05"/></filter></defs>
<g filter="url(#hb)">
<g transform="translate(72.1 1077.8) scale(3.1362 3.6155)" fill="none" stroke-width="1.04">
<path stroke="#3f6fb5" d="M0.5 5v1m0 4v1m0 1v1m0 4v1m0 2v2m0 3v1m0 4v1m0 1v2m0 4v2m0 2v1m0 2v1m0 1v1m0 5v1m0 1v1M1.5 1v1m0 5v1m0 3v3m0 4v1m0 27v1m0 3v1m0 6v1M2.5 0v2m0 3v1m0 3v2m0 1v1m0 7v1m0 18v1m0 5v1m0 8v1M3.5 10v1m0 5v1m0 4v1m0 1v1m0 11v1m0 3v1m0 4v2m0 2v1M4.5 1v1m0 14v1m0 9v3m0 16v1M5.5 0v1m0 2v1m0 6v1m0 5v2m0 5v1m0 1v1m0 2v1m0 4v1m0 1v1m0 4v1m0 8v1m0 1v3M6.5 6v1m0 6v1m0 10v1m0 1v2m0 1v1m0 4v2m0 2v1m0 15v2M7.5 4v1m0 9v2m0 2v1m0 2v1m0 6v1m0 1v1m0 4v1m0 1v1m0 1v2m0 4v2m0 3v1m0 1v1M8.5 5v1m0 14v1m0 6v1m0 20v1m0 3v2M9.5 4v2m0 1v1m0 12v1m0 4v2m0 1v1m0 3v1m0 7v1M10.5 5v1m0 1v1m0 4v2m0 3v1m0 2v2m0 4v1m0 1v2m0 2v1m0 2v1m0 1v1m0 6v1m0 1v1m0 1v1m0 2v1m0 1v2m0 2v1M11.5 3v1m0 3v2m0 1v1m0 3v1m0 1v1m0 1v2m0 8v2m0 1v1m0 2v2m0 4v1m0 3v1m0 7v1m0 4v1M12.5 1v1m0 2v1m0 10v1m0 1v2m0 1v1m0 14v1m0 1v1m0 6v1m0 2v1m0 1v1m0 1v1m0 4v1M13.5 1v1m0 3v2m0 1v1m0 10v2m0 2v1m0 10v1m0 2v1m0 1v1m0 3v1m0 2v1m0 5v1m0 3v1M14.5 8v1m0 26v2m0 1v1m0 6v2m0 2v1m0 1v1m0 1v1m0 2v1M15.5 10v2m0 3v1m0 1v1m0 3v1m0 14v2m0 8v1m0 4v1m0 2v1M16.5 4v1m0 3v1m0 2v2m0 5v1m0 1v1m0 5v2m0 2v1m0 3v1m0 3v1M17.5 0v2m0 3v1m0 2v1m0 3v1m0 5v2m0 18v1m0 11v1m0 1v1m0 1v1M18.5 29v1m0 9v1m0 1v1m0 3v1m0 2v1m0 5v1M19.5 2v2m0 3v1m0 1v1m0 1v1m0 2v1m0 3v1m0 9v1m0 1v3m0 4v1m0 2v1m0 7v1m0 1v1m0 3v2M20.5 0v1m0 7v1m0 13v1m0 8v1m0 22v2M21.5 1v1m0 6v1m0 5v2m0 2v1m0 14v1m0 2v1m0 1v1m0 4v1m0 1v1m0 4v1m0 5v2M22.5 14v1m0 19v1m0 4v1m0 5v1m0 1v2M23.5 4v1m0 2v1m0 2v1m0 4v1m0 2v1m0 1v1m0 3v3m0 1v1m0 5v1m0 3v1m0 9v1m0 5v1M24.5 3v1m0 2v1m0 8v2m0 1v1m0 7v1m0 1v2m0 6v1m0 1v1m0 6v1m0 4v2m0 1v1m0 2v2M25.5 1v1m0 5v1m0 6v1m0 2v1m0 8v1m0 4v1m0 1v1m0 3v2m0 6v1m0 4v2m0 2v1M26.5 0v1m0 1v2m0 2v1m0 9v1m0 8v1m0 1v1m0 3v1m0 1v1m0 2v1m0 3v1m0 2v1m0 11v1m0 1v1M27.5 2v1m0 2v1m0 6v1m0 1v1m0 3v1m0 2v1m0 5v1m0 3v2m0 3v1m0 5v1m0 10v2M28.5 4v1m0 5v1m0 7v1m0 2v1m0 7v3m0 1v2m0 2v1m0 3v1m0 9v1m0 3v2M29.5 2v2m0 2v1m0 2v3m0 3v1m0 17v1m0 8v1m0 1v1m0 4v1m0 3v1m0 2v1M30.5 0v1m0 7v1m0 16v1m0 1v1m0 5v1m0 14v1m0 3v1m0 4v1M31.5 4v1m0 3v1m0 8v1m0 6v1m0 19v1m0 2v2M32.5 4v1m0 8v1m0 13v1m0 3v1m0 2v1m0 17v1M33.5 1v1m0 3v1m0 2v1m0 2v1m0 2v1m0 12v1m0 3v1m0 4v1m0 3v1m0 5v1m0 4v3M34.5 29v1m0 25v1m0 1v1M35.5 1v2m0 18v1m0 1v1m0 30v1M36.5 36v1m0 3v1m0 2v1M37.5 36v1m0 5v1m0 13v1M38.5 3v1m0 9v1m0 33v1m0 1v1M39.5 55v1M40.5 14v1m0 29v1m0 1v2M42.5 27v1m0 6v1m0 1v1M43.5 47v1M45.5 31v1M47.5 16v1m0 1v1m0 7v1m0 23v2m0 2v1M48.5 1v2m0 2v1m0 10v1m0 19v1M49.5 10v1m0 5v1m0 21v2m0 5v1m0 5v1M50.5 12v1m0 12v1m0 12v1m0 6v1M51.5 8v1m0 1v1m0 1v1m0 10v1m0 3v3m0 14v1m0 7v1m0 1v1m0 2v1M52.5 1v1m0 1v1m0 4v1m0 10v1m0 15v1m0 9v1m0 9v1m0 1v1M53.5 6v1m0 1v1m0 4v2m0 3v1m0 3v1m0 2v1m0 2v1m0 16v1m0 8v1M54.5 0v1m0 3v1m0 2v1m0 18v1m0 7v2m0 1v1m0 4v1m0 3v1m0 1v2m0 4v2M55.5 0v1m0 7v1m0 18v1m0 3v1m0 2v1m0 8v1m0 4v2m0 6v2M56.5 0v1m0 20v1m0 8v1m0 17v2m0 4v1m0 1v1M57.5 0v1m0 16v1m0 5v1m0 2v1m0 1v1m0 4v1m0 2v1m0 1v1m0 16v1m0 1v1M58.5 6v1m0 6v1m0 16v1m0 3v1m0 4v1m0 15v1M59.5 18v1m0 2v1m0 9v1m0 3v1m0 4v1m0 8v1m0 2v1M60.5 4v1m0 31v1m0 4v1m0 9v1m0 4v2M61.5 9v1m0 2v1m0 1v1m0 16v2m0 4v1m0 2v1m0 5v1M62.5 11v1m0 2v1m0 7v1m0 2v1m0 4v1m0 4v1m0 1v1m0 8v1m0 2v1m0 6v1M63.5 1v2m0 1v1m0 1v2m0 8v1m0 5v1m0 3v1m0 3v1m0 2v1m0 1v1m0 6v1m0 2v1m0 3v1m0 1v1m0 2v1M64.5 20v1m0 8v1m0 1v2m0 1v1m0 1v1m0 12v1m0 1v1m0 2v2M65.5 13v1m0 12v1m0 2v1m0 4v1m0 2v1m0 15v1m0 1v1M66.5 3v2m0 1v1m0 4v1m0 2v1m0 6v1m0 11v1m0 11v1m0 2v1m0 1v1M67.5 3v1m0 3v1m0 4v1m0 7v1m0 8v2m0 1v1m0 3v1m0 10v2m0 2v1M68.5 5v1m0 11v1m0 10v1m0 7v2m0 17v1M69.5 5v1m0 2v2m0 6v1m0 5v1m0 2v1m0 7v1m0 2v1m0 1v1m0 8v1m0 2v1M70.5 5v1m0 1v1m0 2v3m0 4v5m0 2v2m0 2v1m0 1v1m0 5v1m0 10v1m0 6v1m0 1v1M71.5 0v1m0 1v2m0 3v3m0 1v1m0 3v2m0 2v1m0 1v1m0 4v1m0 2v1m0 1v2m0 1v1m0 4v2m0 4v1m0 1v2m0 6v3M72.5 2v1m0 1v5m0 1v2m0 1v2m0 2v1m0 1v3m0 3v1m0 1v1m0 1v1m0 4v2m0 1v1m0 13v2m0 2v1M73.5 2v2m0 19v3m0 1v1m0 1v1m0 3v1m0 1v1m0 7v1m0 1v1m0 3v1m0 5v1M74.5 1v1m0 5v2m0 6v1m0 9v1m0 1v2m0 5v1m0 1v1m0 11v1m0 6v1M75.5 6v2m0 11v1m0 10v2m0 3v1m0 1v1m0 9v1m0 4v1m0 2v2M76.5 4v1m0 11v2m0 20v1m0 15v1M77.5 2v1m0 3v1m0 6v1m0 3v1m0 2v2m0 8v1m0 10v2m0 8v1m0 4v2M78.5 7v5m0 2v1m0 8v1m0 2v1m0 8v1m0 4v1m0 4v1m0 4v2M79.5 4v1m0 2v1m0 1v1m0 22v7m0 7v3"/>
<path stroke="#5d8fcc" d="M0.5 0v1m0 2v1m0 2v1m0 6v2m0 13v1m0 7v2m0 6v1m0 3v3m0 6v1M1.5 2v3m0 1v1m0 8v1m0 3v1m0 1v1m0 1v2m0 3v1m0 1v1m0 3v1m0 3v3m0 4v1m0 2v2m0 4v1M2.5 3v1m0 4v1m0 9v1m0 4v1m0 2v1m0 1v1m0 5v1m0 2v1m0 12v2m0 4v1M3.5 4v1m0 4v1m0 3v1m0 4v3m0 4v1m0 5v2m0 1v1m0 3v1m0 12v1m0 1v1m0 3v1M4.5 8v1m0 6v1m0 2v1m0 10v1m0 5v3m0 8v2m0 2v2M5.5 2v1m0 5v1m0 5v1m0 5v1m0 1v1m0 8v1m0 2v1m0 4v1m0 14v1m0 2v1M6.5 1v1m0 6v2m0 1v1m0 16v1m0 1v1m0 1v1m0 3v1m0 2v1m0 6v1m0 2v1m0 1v2M7.5 0v3m0 10v1m0 3v1m0 6v1m0 2v1m0 1v1m0 17v1m0 3v1m0 3v1m0 1v1M8.5 0v1m0 2v1m0 3v4m0 4v3m0 6v1m0 1v1m0 23v1m0 5v2M9.5 1v2m0 6v2m0 2v1m0 4v2m0 10v1m0 3v3m0 6v1m0 2v1m0 2v1m0 6v1M10.5 0v2m0 4v1m0 1v2m0 5v2m0 1v1m0 6v1m0 4v1m0 14v1m0 1v1m0 7v1M11.5 4v2m0 9v1m0 4v1m0 3v1m0 5v1m0 1v2m0 2v1m0 4v1m0 4v2m0 1v1m0 3v1m0 2v1M12.5 3v1m0 5v2m0 2v1m0 7v2m0 1v1m0 1v1m0 3v1m0 12v1m0 1v1M13.5 4v1m0 5v1m0 2v1m0 1v1m0 1v1m0 3v2m0 4v1m0 8v1m0 8v1m0 2v4m0 2v1M14.5 5v1m0 11v2m0 6v2m0 1v2m0 1v1m0 9v2m0 1v1m0 12v1M15.5 0v2m0 1v4m0 5v2m0 6v1m0 1v1m0 2v1m0 7v3m0 3v1m0 3v2m0 3v3m0 4v1M16.5 2v1m0 2v1m0 1v1m0 1v1m0 3v2m0 7v3m0 8v1m0 2v1m0 6v1m0 1v1m0 1v2M17.5 3v1m0 2v1m0 3v1m0 4v3m0 3v1m0 4v1m0 1v3m0 4v2m0 5v1m0 5v1m0 4v1m0 1v1M18.5 4v4m0 2v2m0 6v1m0 11v1m0 3v1m0 14v2m0 2v1m0 1v1m0 1v1M19.5 0v2m0 4v1m0 1v1m0 4v1m0 3v1m0 2v1m0 1v2m0 1v1m0 3v1m0 3v1m0 4v1m0 6v1m0 3v1m0 1v1M20.5 2v1m0 9v2m0 2v2m0 1v1m0 5v1m0 3v1m0 8v2m0 3v2m0 1v1M21.5 2v1m0 1v1m0 5v1m0 2v1m0 2v1m0 2v1m0 1v1m0 6v2m0 12v1m0 6v1m0 1v1m0 1v2M22.5 1v2m0 1v1m0 1v1m0 3v2m0 1v1m0 3v3m0 1v1m0 2v1m0 4v1m0 1v1m0 1v1m0 4v1m0 11v1m0 2v1m0 3v1M23.5 2v2m0 1v1m0 5v3m0 2v1m0 2v1m0 2v2m0 3v1m0 17v1m0 11v1M24.5 1v1m0 6v2m0 4v1m0 19v2m0 4v1m0 2v2m0 4v1M25.5 0v1m0 2v1m0 5v1m0 1v2m0 6v1m0 1v1m0 8v1m0 18v1m0 5v1M26.5 11v1m0 1v2m0 4v1m0 1v1m0 8v1m0 4v1m0 3v1m0 5v3m0 1v1m0 1v2m0 1v1M27.5 7v1m0 3v1m0 1v1m0 3v1m0 1v1m0 2v1m0 1v3m0 7v1m0 2v2m0 1v2M28.5 2v2m0 8v1m0 1v1m0 4v1m0 2v1m0 12v1m0 2v1m0 14v1M29.5 1v1m0 25v4m0 1v1m0 3v1m0 2v1m0 14v1M30.5 6v2m0 7v1m0 7v1m0 6v1m0 18v1m0 3v1m0 1v2M31.5 0v2m0 9v1m0 1v1m0 2v1m0 1v2m0 2v2m0 3v2m0 6v1m0 2v1m0 2v1m0 9v1m0 1v1M32.5 0v1m0 4v1m0 6v1m0 5v3m0 1v1m0 2v1m0 2v1m0 1v1m0 4v2m0 10v2m0 1v2M33.5 15v1m0 1v2m0 1v3m0 6v2m0 17v1m0 1v1M34.5 1v1m0 5v1m0 3v1m0 5v1m0 2v1m0 4v2m0 4v1m0 5v1m0 8v1m0 1v2m0 4v1M35.5 10v1m0 4v1m0 4v1m0 1v1m0 2v1m0 5v2m0 9v1m0 6v1m0 5v1m0 1v1M36.5 35v1m0 8v1M37.5 39v1m0 6v1m0 3v1M38.5 4v1m0 24v1m0 12v1M39.5 1v1m0 10v1m0 7v1m0 6v1m0 1v1m0 23v1M40.5 33v1m0 6v1M41.5 41v1M42.5 9v1m0 36v1M43.5 13v1m0 8v1m0 1v1m0 32v1M44.5 3v1M45.5 10v1m0 25v1M46.5 3v1m0 3v1m0 4v1m0 20v1m0 18v1M47.5 2v1m0 4v1m0 1v1m0 1v3m0 8v1m0 2v1m0 2v1m0 5v1M48.5 10v1m0 2v1m0 10v1m0 12v2m0 4v1M49.5 4v1m0 1v1m0 4v1m0 1v2m0 8v1m0 7v1m0 9v2M50.5 6v1m0 2v1m0 7v2m0 2v1m0 4v1m0 7v3m0 12v1M51.5 2v1m0 1v1m0 9v1m0 4v1m0 1v2m0 1v1m0 7v2m0 1v1m0 7v1m0 7v1m0 1v1M52.5 4v1m0 1v2m0 1v1m0 2v2m0 2v2m0 3v1m0 3v3m0 19v1m0 1v1M53.5 5v1m0 11v1m0 6v1m0 5v1m0 4v2m0 5v1m0 9v1m0 3v1M54.5 1v1m0 1v1m0 2v1m0 3v1m0 10v1m0 1v2m0 2v1m0 1v1m0 2v1m0 5v1m0 1v2m0 11v1M55.5 7v1m0 1v1m0 1v1m0 10v1m0 5v1m0 8v1m0 8v1m0 4v1m0 3v1M56.5 4v2m0 8v1m0 3v1m0 3v1m0 5v1m0 2v1m0 5v1M57.5 5v1m0 3v1m0 3v1m0 4v1m0 3v1m0 2v1m0 1v1m0 1v3m0 14v1M58.5 9v1m0 10v1m0 10v1m0 4v1M59.5 6v2m0 4v1m0 4v1m0 6v2m0 1v1m0 2v1m0 12v1M60.5 2v1m0 3v1m0 4v1m0 2v1m0 1v1m0 4v1m0 6v2m0 3v1m0 5v1m0 4v1m0 3v1m0 1v1m0 1v1m0 1v2M61.5 2v1m0 1v1m0 16v1m0 13v1m0 9v1m0 7v1m0 3v1M62.5 1v2m0 1v1m0 3v1m0 4v1m0 2v1m0 16v1m0 19v1m0 1v1M63.5 14v1m0 5v1m0 10v1m0 8v1M64.5 2v1m0 12v2m0 7v1m0 25v1m0 2v1M65.5 3v1m0 2v2m0 1v1m0 2v1m0 2v1m0 3v1m0 2v1m0 2v1m0 5v1m0 3v2m0 19v1M66.5 7v2m0 11v1m0 6v1m0 2v2m0 2v1m0 6v1M67.5 8v4m0 1v2m0 2v1m0 4v1m0 5v1m0 5v1m0 7v1m0 6v1M68.5 2v1m0 1v1m0 3v4m0 4v1m0 2v3m0 1v2m0 13v1m0 15v1M69.5 2v1m0 7v1m0 7v2m0 7v1m0 9v1m0 3v1m0 6v2M70.5 0v3m0 1v1m0 3v2m0 3v1m0 1v2m0 5v2m0 3v1m0 1v1m0 1v5m0 1v2m0 3v1m0 2v1m0 2v3m0 1v2M71.5 1v1m0 2v3m0 3v1m0 1v1m0 1v1m0 3v1m0 3v4m0 1v2m0 1v1m0 4v4m0 4v1m0 2v1m0 2v6M72.5 0v2m0 1v1m0 5v1m0 2v1m0 2v2m0 1v1m0 3v3m0 1v1m0 1v1m0 1v4m0 2v1m0 1v1m0 2v1m0 3v6m0 2v1m0 2v2M73.5 1v1m0 2v1m0 1v2m0 1v1m0 1v2m0 1v1m0 1v1m0 2v2m0 9v1m0 1v1m0 1v1m0 2v2m0 2v1m0 10v2m0 3v1M74.5 0v1m0 4v1m0 3v1m0 4v1m0 5v1m0 10v2m0 2v1m0 7v2m0 5v1m0 1v3m0 1v1M75.5 1v2m0 1v2m0 7v1m0 1v1m0 10v1m0 9v1m0 1v1m0 7v1m0 1v1m0 1v1M76.5 7v1m0 3v1m0 6v2m0 2v1m0 1v2m0 7v1m0 2v1m0 10v1m0 2v4m0 2v1M77.5 4v1m0 4v3m0 2v1m0 1v1m0 11v1m0 21v1m0 3v1M78.5 0v4m0 2v1m0 6v1m0 1v1m0 4v1m0 1v1m0 6v1m0 1v2m0 1v1m0 11v1m0 10v1M79.5 1v1m0 4v1m0 1v1m0 3v1m0 3v1m0 4v2m0 5v1m0 14v1m0 8v1"/>
<path stroke="#8fb8df" d="M0.5 7v1m0 14v2m0 3v1m0 1v1m0 4v1m0 11v1M1.5 10v1m0 25v1m0 4v2m0 9v1M2.5 6v1m0 4v1m0 4v1m0 2v1m0 4v1m0 6v1m0 6v1m0 2v3m0 5v1M3.5 6v1m0 7v2m0 1v1m0 10v1m0 1v1m0 2v1m0 3v1m0 3v1m0 8v1M4.5 0v1m0 9v1m0 2v2m0 4v1m0 4v1m0 8v1m0 5v1m0 1v1m0 2v1m0 3v1m0 3v1M5.5 7v1m0 5v1m0 13v1m0 1v1m0 7v2m0 3v1m0 1v1m0 3v1M6.5 0v1m0 3v1m0 5v1m0 20v1m0 9v1m0 1v1m0 3v1m0 2v1M7.5 5v1m0 2v1m0 1v2m0 10v1m0 2v1m0 5v1m0 1v2m0 6v2M8.5 18v1m0 3v1m0 2v1m0 5v2m0 6v1m0 3v1m0 2v1M9.5 3v1m0 10v2m0 5v1m0 1v1m0 3v1m0 13v1m0 2v1m0 8v2M10.5 11v1m0 10v1m0 1v1m0 2v1m0 10v1m0 2v1m0 8v1m0 1v1m0 3v1M11.5 0v1m0 1v1m0 9v1m0 4v1m0 4v1m0 3v1m0 11v2m0 2v2m0 10v2M12.5 0v1m0 1v1m0 5v1m0 16v1m0 1v3m0 6v1m0 2v3m0 4v1m0 6v1m0 1v1m0 1v1M13.5 7v1m0 10v1m0 5v1m0 4v1m0 1v2m0 5v1m0 1v1m0 1v1m0 1v1m0 8v1m0 1v1m0 1v1M14.5 1v1m0 11v1m0 1v1m0 7v1m0 3v1m0 6v1m0 20v1M15.5 8v1m0 5v1m0 1v1m0 6v1m0 14v1m0 14v1m0 3v1M16.5 0v1m0 18v1m0 11v1m0 8v2m0 2v1m0 5v1m0 4v1m0 1v1M17.5 2v1m0 19v1m0 1v2m0 8v1m0 5v2m0 1v1m0 2v1m0 2v1m0 6v1M18.5 3v1m0 8v2m0 1v3m0 19v1m0 18v1M19.5 19v1m0 4v1m0 11v1m0 4v1m0 2v1m0 1v1M20.5 4v1m0 1v1m0 2v1m0 1v1m0 9v1m0 1v1m0 12v2m0 7v1m0 3v1m0 6v1M21.5 5v1m0 6v1m0 7v1m0 3v1m0 2v1m0 2v1m0 4v1m0 8v1M22.5 7v1m0 7v1m0 10v2m0 13v1m0 1v1m0 7v1m0 2v2M23.5 1v1m0 6v1m0 30v1m0 1v1m0 2v1m0 7v2m0 1v1M24.5 7v1m0 3v1m0 1v1m0 5v1m0 1v1m0 1v2m0 12v1m0 4v1m0 12v1M25.5 10v1m0 2v1m0 14v2m0 4v2m0 4v2m0 2v1m0 2v1M26.5 1v1m0 22v1m0 1v1m0 11v1m0 2v1m0 2v1M27.5 4v1m0 15v1m0 2v1m0 5v1m0 5v1m0 7v1m0 4v1m0 6v1M28.5 0v1m0 8v1m0 5v1m0 1v1m0 9v1m0 12v1m0 2v3m0 2v3M29.5 0v1m0 6v1m0 5v1m0 10v1m0 10v1m0 1v1m0 2v1m0 10v2m0 2v1M30.5 12v1m0 1v1m0 4v2m0 11v1m0 1v1m0 4v1m0 2v1m0 8v1M31.5 3v1m0 21v1m0 5v1m0 1v1m0 6v1m0 2v1m0 2v1m0 5v1m0 1v2m0 1v1M32.5 2v1m0 6v2m0 3v1m0 2v1m0 8v1m0 13v4M33.5 13v1m0 2v1m0 8v2m0 1v1m0 8v1m0 1v1m0 5v1m0 8v1m0 2v1M34.5 4v1m0 17v2m0 11v1m0 2v1m0 1v3m0 13v1M35.5 8v1m0 3v1m0 6v1m0 10v1m0 6v1m0 5v1m0 8v2M36.5 0v2m0 28v1m0 1v1m0 18v1M37.5 21v1M38.5 19v1m0 34v1m0 1v1M39.5 25v2m0 19v1m0 1v1M40.5 6v1m0 10v1m0 4v1M41.5 8v1m0 40v1M42.5 6v1m0 43v1m0 2v1M43.5 2v2M44.5 13v1m0 6v1m0 11v2m0 6v1m0 8v1m0 4v1m0 1v1M45.5 22v2m0 4v1m0 1v1M46.5 16v1m0 23v1m0 9v1M47.5 1v1m0 4v1m0 23v1m0 6v1m0 7v1m0 10v1M48.5 11v1m0 2v1m0 10v1m0 13v4m0 1v1M49.5 2v1m0 2v1m0 1v1m0 9v1m0 8v1m0 1v1m0 14v2m0 2v1m0 8v1M50.5 1v1m0 5v1m0 8v1m0 3v1m0 2v1m0 7v2m0 7v1m0 1v3m0 3v1M51.5 42v1m0 2v1m0 3v2M52.5 0v1m0 13v1m0 7v2m0 12v1m0 3v1m0 1v1m0 5v1m0 4v1M53.5 1v1m0 25v1m0 3v1m0 8v2m0 1v1m0 4v2M54.5 8v1m0 7v1m0 11v1m0 10v1m0 3v1m0 1v1m0 5v1M55.5 24v1m0 14v1m0 2v1m0 1v1m0 2v1M56.5 6v1m0 3v1m0 2v1m0 21v1m0 2v1m0 3v2m0 11v1M57.5 3v1m0 2v1m0 4v1m0 2v1m0 9v1m0 9v1m0 4v2m0 3v1m0 11v1M58.5 4v1m0 5v1m0 3v1m0 6v1m0 5v1m0 7v1m0 5v3m0 8v1M59.5 8v1m0 11v1m0 11v1m0 4v1m0 1v1m0 4v2m0 9v1M60.5 5v1m0 3v1m0 14v2m0 4v1m0 3v1m0 2v1m0 2v1m0 1v2m0 3v1M61.5 6v1m0 11v1m0 9v1m0 4v1m0 9v1m0 5v1m0 1v1m0 2v1M62.5 7v1m0 11v1m0 16v1m0 2v5m0 3v1m0 2v1m0 3v1M63.5 0v1m0 16v1m0 7v1m0 2v1m0 10v1m0 3v1M64.5 0v1m0 3v1m0 5v1m0 1v1m0 9v2m0 1v1m0 1v1m0 9v1m0 2v1m0 1v1m0 1v1m0 11v1M65.5 23v1m0 4v1m0 10v1m0 2v1m0 1v1M66.5 1v1m0 40v1m0 4v1m0 3v1M67.5 5v1m0 21v1m0 5v1m0 18v1m0 4v1M68.5 14v1m0 7v1m0 16v1m0 3v1m0 7v1m0 4v1M69.5 17v1m0 17v1m0 6v2m0 12v1M70.5 39v1m0 1v1M71.5 20v1m0 20v2M72.5 39v2m0 1v1M73.5 8v1m0 6v1m0 2v1m0 2v1m0 9v1m0 12v1M74.5 2v2m0 7v1m0 18v1m0 2v1m0 3v1m0 1v1m0 5v1M75.5 10v2m0 2v1m0 2v1m0 5v1m0 3v1m0 13v5m0 5v1m0 5v1M76.5 2v2m0 8v1m0 7v1m0 2v1m0 2v1m0 1v2m0 13v1m0 1v2m0 8v1M77.5 15v1m0 11v1m0 3v1m0 1v4m0 2v1m0 4v1m0 8v1m0 1v1M78.5 4v1m0 25v1m0 7v1m0 2v2m0 1v1m0 4v1M79.5 13v1m0 10v1m0 1v1m0 3v1m0 8v4m0 10v1m0 2v1"/>
<path stroke="#c5def0" d="M0.5 1v1m0 7v1m0 9v1m0 6v1m0 13v1m0 2v1m0 7v1M1.5 0v1m0 15v2m0 8v1m0 4v1m0 5v1m0 9v1M2.5 4v1m0 2v1m0 13v1m0 3v1m0 4v1m0 2v1m0 6v1m0 3v1m0 2v2m0 3v2m0 3v1M3.5 3v1m0 22v2m0 8v1m0 5v2M4.5 17v1m0 2v1m0 1v1m0 8v2m0 7v1m0 1v2m0 10v1M5.5 5v1m0 3v1m0 1v1m0 14v1m0 14v1m0 1v1m0 1v1m0 1v1m0 7v2M6.5 3v1m0 10v1m0 1v3m0 2v1m0 1v1m0 16v1m0 12v1m0 2v1M7.5 7v1m0 1v1m0 10v1m0 11v1m0 3v1m0 1v1m0 4v2m0 4v1m0 4v1m0 1v1M8.5 1v1m0 12v1m0 18v1m0 7v1m0 3v1M9.5 31v1m0 1v1m0 16v1m0 1v1M10.5 36v1m0 2v2m0 1v2m0 5v1M11.5 13v1m0 23v1m0 7v1M12.5 11v1m0 4v1m0 6v1m0 9v1m0 20v1M13.5 12v1m0 1v1m0 15v1m0 10v1M14.5 3v1m0 2v2m0 12v1m0 1v1m0 7v1m0 8v1m0 3v1m0 6v1m0 1v1m0 1v1M15.5 7v1m0 1v1m0 18v1m0 1v2m0 8v1m0 1v1M16.5 1v1m0 14v1m0 12v1m0 12v1m0 3v1m0 6v1m0 2v1M17.5 4v1m0 27v1m0 6v1m0 4v1M18.5 1v1m0 6v1m0 10v1m0 5v1m0 2v1m0 13v3m0 2v1m0 4v1M19.5 4v2m0 21v1m0 7v1m0 3v1m0 3v1m0 3v1M20.5 1v1m0 38v1m0 1v1m0 10v1M21.5 0v1m0 5v1m0 10v1m0 4v1m0 8v2m0 4v1m0 1v3m0 13v1M22.5 3v1m0 5v1m0 13v1m0 8v1m0 7v1m0 3v1M23.5 6v1m0 22v1m0 3v1m0 6v1m0 1v2m0 5v1m0 1v1M24.5 2v1m0 24v1m0 3v1m0 1v1m0 7v1m0 10v1m0 1v1M25.5 8v1m0 33v1m0 3v1m0 5v1M26.5 8v1m0 3v1m0 19v1m0 9v1m0 5v1M27.5 3v1m0 2v1m0 1v2m0 23v1m0 5v1m0 4v1m0 1v1m0 4v1M28.5 5v2m0 6v1m0 6v1m0 15v1m0 5v1m0 11v1m0 2v1M29.5 16v1m0 1v1m0 2v1m0 3v1m0 12v1m0 4v1M30.5 2v1m0 14v2m0 3v1m0 1v1m0 11v1m0 3v2m0 1v2m0 1v2M31.5 6v1m0 5v1m0 2v1m0 10v1m0 2v1m0 6v1m0 2v1m0 5v1M32.5 15v1m0 13v1m0 2v1m0 6v1m0 9v1m0 4v1m0 1v1M33.5 3v2m0 1v2m0 2v1m0 1v1m0 22v1m0 5v4m0 4v1m0 5v2M34.5 3v1m0 4v1m0 4v1m0 1v2m0 1v2m0 7v2m0 3v1m0 10v1m0 1v1m0 5v2M35.5 11v1m0 5v2m0 5v1m0 4v1m0 5v1m0 3v2m0 3v4m0 8v1M36.5 3v1m0 12v1m0 4v1m0 5v1m0 6v1m0 13v1m0 6v1M37.5 8v2m0 9v1m0 2v1m0 9v1m0 2v1m0 1v2m0 1v1m0 8v1M38.5 7v1m0 6v1m0 8v1m0 9v2m0 13v1m0 2v1m0 1v1M39.5 3v1m0 11v1m0 6v1m0 8v1m0 9v1m0 9v1M40.5 0v1m0 2v1m0 3v1m0 3v1m0 4v1m0 1v1m0 1v1m0 4v1m0 1v1m0 7v1m0 3v1m0 2v1M41.5 11v1m0 7v1m0 5v1m0 4v1m0 2v1m0 10v1m0 1v1m0 4v1M42.5 7v1m0 2v3m0 3v1m0 1v1m0 4v1m0 4v1m0 1v1M43.5 5v1m0 1v1m0 6v1m0 8v1m0 3v1m0 8v1m0 17v1M44.5 2v1m0 11v1m0 16v1m0 4v1M45.5 2v1m0 6v1m0 1v1m0 5v1m0 8v1m0 14v1m0 9v1m0 4v2M46.5 2v1m0 11v1m0 26v2m0 5v1m0 2v1M47.5 3v2m0 12v1m0 17v1m0 8v1M48.5 7v1m0 13v1m0 5v3m0 15v1m0 2v1m0 1v1m0 5v1M49.5 20v2m0 3v1m0 3v1m0 3v1m0 1v2m0 11v1m0 3v1m0 2v1M50.5 0v1m0 3v2m0 21v1m0 5v1m0 5v1m0 7v1M51.5 18v1m0 11v1m0 8v2m0 5v2m0 7v1M52.5 39v1m0 1v1m0 2v1M53.5 12v1m0 10v1m0 8v1m0 6v1M54.5 13v2m0 10v1m0 18v1m0 7v1m0 3v2M55.5 6v1m0 8v1m0 13v1m0 2v1m0 8v1m0 3v1M56.5 8v1m0 3v1m0 26v1m0 1v1m0 2v1M57.5 8v1m0 3v1m0 28v1m0 1v1m0 6v1m0 1v1M58.5 16v1m0 11v1m0 11v1m0 3v1m0 1v1M59.5 2v1m0 1v1m0 10v1m0 3v1m0 8v1m0 13v1m0 7v1m0 3v1m0 2v1M60.5 12v1m0 10v1m0 11v1m0 2v1M61.5 0v1m0 14v1m0 18v1m0 3v2m0 1v1m0 2v1M62.5 0v1m0 2v1m0 22v3m0 5v1m0 9v1m0 6v1M63.5 12v1m0 5v1m0 4v1m0 14v1m0 2v1m0 4v1m0 1v1M64.5 3v1m0 39v1m0 2v2M65.5 8v1m0 2v1m0 28v2M66.5 13v1m0 4v2m0 6v1m0 12v1m0 4v1m0 8v1M67.5 2v1m0 16v1m0 3v1m0 7v1m0 8v2m0 4v1M68.5 26v1m0 14v2m0 3v1M69.5 0v1m0 5v1m0 5v2m0 1v1m0 8v1m0 6v1m0 12v1m0 7v2M70.5 6v1m0 37v1m0 12v1M71.5 33v1m0 10v1M72.5 54v1M73.5 0v1m0 9v1m0 15v1m0 1v1m0 11v1m0 1v1M74.5 4v1m0 14v1m0 3v2m0 15v3M75.5 9v1m0 11v1m0 2v1m0 4v1m0 9v1m0 9v1m0 4v1M76.5 5v1m0 8v1m0 20v1m0 3v2m0 1v1m0 14v1M77.5 19v1m0 6v1m0 2v1m0 2v1m0 4v2m0 1v1M78.5 12v1m0 11v1m0 2v2m0 8v1M79.5 2v1m0 16v2m0 10v1m0 17v1m0 1v1m0 5v1"/>
<path stroke="#f5f5d6" d="M0.5 24v1m0 6v1m0 9v1m0 12v1M1.5 25v1m0 3v1m0 5v1m0 7v1m0 11v1M2.5 29v1m0 2v1m0 22v1M3.5 29v1m0 10v1m0 15v1M4.5 3v2m0 2v1m0 1v1m0 1v2m0 10v1m0 31v1M5.5 15v1m0 8v1m0 25v1M6.5 19v2m0 23v1M7.5 3v1m0 44v1M8.5 2v1m0 20v1m0 12v1m0 1v1m0 1v1m0 1v1m0 1v1m0 10v1M9.5 6v1m0 15v1m0 6v1m0 27v1M10.5 19v1m0 11v1M11.5 1v1m0 48v1M12.5 12v1m0 18v1m0 2v1m0 15v1M13.5 26v1m0 1v1m0 6v1M14.5 21v1m0 2v1m0 7v1m0 4v1m0 2v1M15.5 18v1M16.5 6v1m0 3v1m0 4v1m0 35v1M17.5 47v1m0 9v1M18.5 20v1m0 19v1M19.5 12v1m0 13v1M20.5 5v1m0 18v1m0 7v1m0 1v2m0 5v1m0 8v2m0 5v1M21.5 7v1m0 39v1M22.5 5v1m0 14v1m0 1v1m0 26v1m0 2v1M23.5 9v1m0 11v1m0 9v1m0 15v1M24.5 12v1m0 17v1m0 8v1m0 8v1M25.5 15v1m0 2v1m0 1v1m0 3v1m0 18v1m0 12v1M26.5 7v1m0 10v1m0 15v1m0 15v1m0 2v1m0 2v1M27.5 0v1m0 14v2m0 13v1m0 21v1M28.5 1v1m0 14v1m0 6v1m0 8v1m0 19v1M29.5 19v2m0 20v1m0 6v1M30.5 3v1m0 6v2m0 1v1m0 7v1m0 7v1m0 1v1m0 13v1M31.5 5v1m0 1v1m0 1v2m0 23v1m0 21v1M32.5 33v1m0 3v1m0 6v2m0 7v1M33.5 19v1m0 12v1m0 5v1M34.5 6v1m0 2v1m0 2v1m0 1v1m0 18v1m0 19v1M35.5 4v3m0 2v1m0 4v1m0 1v1m0 9v2m0 8v1m0 11v1m0 2v1M36.5 5v1m0 2v4m0 2v1m0 2v2m0 3v1m0 3v1m0 1v2m0 7v1m0 9v1m0 1v1m0 2v1m0 3v2M37.5 10v2m0 6v1m0 1v1m0 2v2m0 1v1m0 1v1m0 1v1m0 12v3m0 7v1M38.5 0v3m0 2v2m0 1v1m0 2v2m0 5v1m0 1v1m0 1v1m0 2v2m0 1v1m0 9v1m0 2v1m0 1v1m0 2v1m0 3v1M39.5 0v1m0 6v1m0 3v1m0 4v2m0 1v1m0 3v1m0 4v1m0 1v1m0 1v1m0 1v1m0 1v1m0 3v1m0 2v1m0 1v1m0 3v2M40.5 1v2m0 2v1m0 3v2m0 1v1m0 8v1m0 1v1m0 2v1m0 5v1m0 3v3m0 4v1m0 1v1m0 2v1m0 3v2m0 2v2M41.5 4v2m0 3v1m0 4v2m0 4v1m0 1v1m0 3v1m0 1v1m0 6v1m0 3v1m0 3v1m0 4v1m0 1v1m0 2v1M42.5 1v1m0 6v1m0 4v1m0 1v1m0 1v1m0 3v2m0 1v3m0 8v1m0 2v1m0 2v1m0 1v1m0 1v1m0 8v3M43.5 8v1m0 8v1m0 1v1m0 6v1m0 4v2m0 4v1m0 1v1m0 2v1m0 1v2m0 2v2m0 2v2m0 1v2M44.5 0v2m0 4v1m0 2v1m0 1v2m0 5v2m0 2v5m0 8v1m0 7v1m0 3v1m0 3v1m0 3v1m0 1v1M45.5 3v1m0 3v1m0 6v1m0 3v4m0 3v1m0 1v1m0 5v2m0 2v1m0 1v1m0 7v2m0 3v2M46.5 0v1m0 3v3m0 4v1m0 3v1m0 1v2m0 1v2m0 4v1m0 3v2m0 2v3m0 1v1m0 6v1m0 1v1m0 6v2M47.5 0v1m0 22v2m0 11v1m0 2v1m0 8v2m0 7v1M48.5 3v1m0 4v2m0 10v1m0 1v1m0 7v1m0 1v1m0 20v1m0 1v1M49.5 9v1m0 2v1m0 2v1m0 16v1m0 7v1m0 5v1m0 6v1m0 3v1M50.5 11v1m0 2v2m0 34v1M51.5 5v1m0 5v1m0 3v1m0 4v1m0 13v1m0 2v1M52.5 2v1m0 12v1m0 2v1m0 11v1m0 1v1m0 5v1m0 12v1m0 4v1M53.5 0v1m0 1v1m0 18v1m0 15v1m0 15v1M54.5 19v1M55.5 12v1m0 7v1m0 2v1m0 29v1M56.5 1v1m0 1v1m0 7v1m0 4v2m0 9v1m0 4v3m0 5v1m0 6v1M57.5 1v1m0 13v2m0 2v1m0 22v1m0 2v1m0 7v1M58.5 0v1m0 1v2m0 14v1m0 3v2m0 14v1m0 8v1m0 2v1M59.5 1v1m0 7v1m0 3v1m0 8v1m0 6v1m0 11v1m0 14v1M60.5 0v1m0 6v2m0 4v1m0 1v1m0 2v1m0 8v1m0 4v1m0 13v1M61.5 5v1m0 1v1m0 18v1m0 15v1M62.5 15v1m0 5v1m0 10v1m0 5v1M63.5 3v1m0 17v1m0 22v1M64.5 9v1m0 1v1m0 2v1m0 3v1m0 7v1m0 21v1m0 8v1M65.5 0v1m0 4v1m0 10v1m0 3v2m0 5v1m0 4v1m0 5v1m0 7v1m0 1v1m0 1v1M66.5 12v1m0 9v1m0 2v1m0 2v1m0 6v1m0 2v1m0 10v1m0 7v1M67.5 4v1m0 11v1m0 1v1m0 2v1m0 15v2m0 5v1m0 9v1M68.5 1v1m0 1v1m0 8v1m0 16v2m0 19v1m0 2v1M69.5 14v1M72.5 43v2M74.5 6v1m0 3v1m0 2v1m0 3v1m0 3v1m0 35v1M75.5 18v1M76.5 32v1m0 11v1M77.5 1v1m0 3v1m0 1v1m0 15v1M78.5 5v1m0 12v1m0 24v1m0 8v1m0 1v1M79.5 11v1m0 5v1m0 5v1m0 26v1m0 3v1"/>
<path stroke="#fde2a0" d="M0.5 8v1m0 9v1m0 37v1M1.5 20v1m0 6v1m0 23v1m0 4v1M2.5 15v1m0 19v1M3.5 8v1m0 2v1m0 37v1M4.5 49v1M5.5 6v1m0 23v1m0 1v1m0 13v1M6.5 7v1m0 17v1m0 31v1M8.5 13v1m0 7v1m0 32v1M9.5 11v1m0 5v1m0 6v1M11.5 23v1m0 1v1M12.5 42v1M13.5 16v1M14.5 16v1M15.5 24v1m0 4v1m0 2v1m0 12v1M16.5 3v1m0 50v1M17.5 13v1m0 31v1M18.5 2v1m0 28v3m0 12v1M19.5 10v1m0 10v1m0 20v1M20.5 33v1m0 13v1M21.5 3v1m0 19v1M22.5 8v1m0 19v1m0 17v1M23.5 37v1m0 8v1M25.5 16v1m0 5v1m0 2v1m0 6v1m0 15v1m0 4v1M26.5 10v1M27.5 10v1m0 34v1M28.5 46v2M29.5 26v1m0 7v1m0 12v1m0 9v1M30.5 1v1m0 7v1m0 25v1m0 1v2M31.5 20v2m0 20v1M32.5 1v1m0 14v1m0 6v1m0 22v1M33.5 23v1m0 9v2m0 12v1M34.5 2v1m0 21v1m0 11v1m0 7v1M35.5 0v1m0 27v1m0 5v1m0 3v1m0 2v1M36.5 4v1m0 7v2m0 6v1m0 2v3m0 7v1m0 4v1m0 2v1m0 3v2m0 3v1m0 3v1M37.5 2v6m0 6v4m0 9v1m0 1v1m0 1v1m0 1v2m0 12v1m0 3v2m0 2v1M38.5 9v2m0 4v3m0 3v1m0 2v1m0 5v1m0 5v2m0 1v2m0 11v1M39.5 2v1m0 1v3m0 1v3m0 2v2m0 3v1m0 2v1m0 2v1m0 8v1m0 1v1m0 1v3m0 4v1m0 7v1m0 1v1m0 2v1M40.5 13v1m0 1v1m0 12v1m0 1v1m0 3v1m0 14v3M41.5 0v4m0 3v1m0 2v1m0 1v1m0 3v3m0 2v1m0 1v2m0 2v1m0 1v1m0 1v2m0 4v1m0 2v1m0 1v1m0 12v2M42.5 0v1m0 1v1m0 2v1m0 8v1m0 4v2m0 8v1m0 2v2m0 8v1m0 1v1m0 2v3m0 1v2m0 4v1M43.5 0v1m0 3v1m0 1v1m0 3v3m0 2v1m0 2v1m0 1v2m0 3v1m0 2v3m0 2v3m0 5v1m0 4v1m0 3v1M44.5 4v2m0 1v2m0 6v2m0 4v1m0 5v1m0 1v2m0 7v1m0 3v1m0 1v3m0 1v1m0 1v1m0 1v2M45.5 0v2m0 2v3m0 1v1m0 3v1m0 3v1m0 7v1m0 7v1m0 2v1m0 2v1m0 1v1m0 1v5m0 3v1m0 3v2M46.5 1v1m0 7v2m0 8v1m0 4v2m0 2v2m0 2v1m0 4v1m0 1v1m0 6v1m0 2v1m0 6v2M47.5 32v2m0 6v1m0 2v1m0 9v1M48.5 15v1m0 1v1m0 33v1M49.5 0v2m0 20v1m0 4v1M50.5 2v1m0 26v2m0 22v1M51.5 1v1m0 14v1m0 8v1m0 12v1M52.5 20v1m0 16v1m0 14v1M53.5 19v1m0 6v1m0 2v1m0 8v1m0 8v1m0 7v1m0 1v1M54.5 5v1m0 3v1m0 1v1m0 5v1m0 13v1m0 18v1M55.5 5v1m0 4v1m0 6v1m0 7v2m0 3v1m0 2v1m0 1v1m0 2v1m0 15v1M56.5 29v1m0 16v1m0 10v1M57.5 2v1m0 1v1m0 15v1m0 28v1M58.5 5v1m0 1v2m0 2v2m0 13v1m0 2v1m0 7v1m0 7v1m0 5v1m0 2v1m0 1v1M59.5 5v1m0 8v1m0 8v1M60.5 17v1m0 8v1m0 22v1M61.5 3v1m0 6v2m0 4v1m0 2v1m0 3v1m0 31v1M62.5 6v1m0 2v1m0 19v1m0 18v1m0 8v1M63.5 8v1m0 41v1M64.5 1v1m0 15v1m0 3v1m0 17v1M65.5 4v1m0 13v1m0 11v1m0 20v1M66.5 0v1m0 1v1m0 2v1m0 4v1m0 18v1m0 2v1m0 19v1m0 1v1m0 1v1M67.5 24v1m0 25v1m0 4v2M68.5 25v1m0 31v1M69.5 21v1m0 7v1m0 4v1m0 11v1m0 7v1M70.5 40v1m0 2v1M73.5 47v1m0 3v1M75.5 12v1m0 19v1M76.5 8v1m0 22v1M77.5 22v1m0 22v1m0 1v1M78.5 47v1M79.5 14v2"/>
<path stroke="#f7a86a" d="M0.5 52v1M1.5 8v1M2.5 27v1M4.5 53v1M6.5 33v1m0 8v1M7.5 19v1M8.5 37v1M9.5 0v1M10.5 4v1m0 29v1M11.5 48v1M12.5 38v1M13.5 9v1m0 37v1M14.5 2v1m0 11v1m0 18v1M15.5 2v1M16.5 17v1m0 14v1m0 16v1M17.5 7v1m0 23v1M18.5 38v1M20.5 7v1m0 6v1m0 12v1m0 24v1M21.5 25v1m0 8v1M22.5 12v1m0 23v2M23.5 17v1m0 38v1M24.5 17v1m0 7v1M25.5 23v1m0 15v1m0 17v1M26.5 9v1M30.5 16v1M31.5 32v1m0 17v1M32.5 3v1m0 20v1m0 13v1M33.5 24v1M34.5 30v1m0 3v1M35.5 33v1M38.5 31v1M39.5 47v1M40.5 8v1m0 32v1M42.5 37v1M43.5 16v1m0 21v1M44.5 37v1M45.5 15v1M46.5 22v1M47.5 14v1M48.5 0v1m0 3v1M49.5 3v1m0 14v1m0 31v1M50.5 13v1m0 5v1m0 26v1m0 5v1m0 1v3M52.5 28v1m0 4v1M53.5 7v1M55.5 14v1M56.5 26v1m0 25v1M57.5 32v1m0 14v1M60.5 20v1M61.5 17v1M62.5 24v1M63.5 11v1m0 1v1m0 18v1m0 4v1m0 15v1M64.5 5v2M66.5 15v1m0 30v1M68.5 33v2m0 10v1M69.5 7v1m0 32v1m0 4v1m0 9v1m0 1v1M70.5 51v1M71.5 17v1M73.5 17v1m0 30v1m0 5v1M74.5 29v1m0 19v1M75.5 20v1m0 4v1m0 8v1m0 18v1M76.5 10v1m0 26v1m0 10v1M77.5 48v1M78.5 17v1m0 18v1M79.5 18v1"/>
<path stroke="#e4613f" d="M0.5 2v1m0 1v1m0 10v2M1.5 22v1m0 10v1M2.5 2v1m0 11v1m0 7v1m0 13v1m0 9v1M3.5 1v1m0 3v1m0 40v1m0 5v1M4.5 6v1m0 18v1m0 4v1m0 3v1m0 22v1M5.5 12v1m0 8v1m0 14v1M6.5 2v1m0 2v1m0 6v1m0 2v1m0 6v1m0 25v1M7.5 6v1m0 5v1m0 3v1m0 6v1m0 29v1M8.5 6v1m0 4v1m0 23v1M9.5 39v1m0 2v1m0 2v1m0 2v1m0 2v1M10.5 3v1m0 6v1m0 3v1m0 8v1M11.5 21v1m0 29v1M12.5 5v3m0 6v1m0 33v1m0 3v1M13.5 25v1M14.5 4v1m0 4v1m0 2v1m0 35v1M15.5 19v1m0 21v1m0 5v1m0 8v1M16.5 35v1m0 1v1M17.5 9v1m0 4v1m0 5v1m0 2v1m0 13v1M18.5 0v1m0 26v1m0 7v2M19.5 15v2m0 17v1m0 17v1m0 4v1M20.5 18v1m0 1v1m0 7v1M21.5 9v1m0 1v1m0 36v1M22.5 25v1m0 4v1m0 4v1M23.5 0v1m0 13v1m0 17v1m0 2v2M24.5 0v1m0 4v1m0 14v1m0 25v2M26.5 5v1m0 9v1m0 1v1m0 2v1m0 7v1M27.5 47v1m0 2v1m0 5v1M28.5 11v1m0 12v1m0 1v1m0 12v1M29.5 4v2m0 8v1m0 7v2m0 7v1m0 13v2m0 3v1M30.5 5v1m0 22v1m0 25v1M32.5 8v1m0 2v1M33.5 9v1M34.5 0v1m0 46v1M35.5 3v1M36.5 2v1m0 4v1m0 23v1m0 7v1m0 2v1m0 10v1M37.5 13v1m0 11v1m0 15v1m0 12v1m0 2v1M38.5 32v1m0 11v2m0 11v1M39.5 56v1M40.5 19v1m0 35v1M41.5 6v1m0 6v1m0 24v1m0 6v1m0 1v1m0 9v1M42.5 4v1m0 34v1M43.5 40v1m0 10v1M44.5 41v1M45.5 49v1M46.5 8v1m0 35v1M47.5 5v1m0 4v1m0 4v1m0 3v1m0 1v1m0 7v1m0 8v1m0 2v1m0 10v1M48.5 6v1m0 11v2m0 27v1m0 1v1m0 4v1M49.5 54v1M50.5 3v1m0 4v1m0 13v1m0 1v1m0 26v1m0 5v1M51.5 0v1m0 12v1m0 3v1m0 13v1m0 4v1m0 11v1M52.5 11v1m0 17v1m0 4v1m0 8v1M53.5 15v1m0 17v2m0 15v2M54.5 2v1m0 12v1m0 2v1m0 3v1m0 7v1m0 2v1M55.5 4v1m0 8v1m0 5v1m0 1v1m0 14v1m0 3v1m0 11v1M56.5 2v1m0 4v1m0 1v1m0 5v1m0 8v2m0 10v1m0 8v1m0 5v1m0 1v1M57.5 35v1m0 12v1m0 2v1M58.5 15v1m0 1v1m0 7v1m0 6v2m0 14v1m0 4v1m0 3v1M59.5 3v1m0 6v1m0 40v1m0 1v1M60.5 1v1m0 1v1m0 15v1m0 25v1m0 7v1M61.5 1v1m0 6v1m0 4v1m0 8v1m0 1v1m0 22v2m0 1v1m0 1v1M62.5 5v1m0 11v2m0 1v1m0 10v1m0 20v1M63.5 10v1m0 4v1m0 3v1m0 4v1m0 4v1m0 6v1m0 18v2M64.5 7v2m0 10v1m0 8v1m0 23v1M65.5 17v1m0 15v1m0 9v1m0 5v1m0 2v1m0 4v1M66.5 16v2m0 6v1m0 11v1m0 18v1M67.5 25v2m0 8v1m0 9v1M68.5 7v1m0 5v1m0 1v1m0 15v1m0 8v1m0 3v1m0 2v1M69.5 3v1m0 7v1m0 14v1m0 1v1m0 10v1M70.5 46v1m0 8v1M73.5 39v1m0 16v1M74.5 16v1m0 1v1m0 27v1M75.5 0v1m0 2v1m0 12v1m0 5v1m0 17v1M76.5 1v1m0 7v1m0 11v1m0 8v1m0 3v1M77.5 0v1m0 23v1m0 21v1m0 2v1M78.5 16v1m0 2v1m0 13v1m0 14v1m0 4v1m0 2v1M79.5 0v1m0 9v1m0 16v1m0 1v1"/>
<path stroke="#cc2d27" d="M0.5 11v1m0 23v1M1.5 5v1m0 3v1m0 4v1m0 17v1m0 11v1m0 8v1M2.5 13v1m0 3v1M3.5 0v1m0 1v1m0 4v1m0 4v1m0 9v1m0 1v1m0 22v1m0 6v2M4.5 2v1m0 2v1m0 15v1m0 16v1m0 17v1M5.5 1v1m0 2v1m0 13v2M6.5 37v1m0 7v1M7.5 26v1M8.5 4v1m0 7v1m0 6v1m0 8v3m0 3v1m0 12v1m0 1v1m0 1v1M9.5 8v1m0 3v1m0 3v1m0 20v2m0 8v1m0 7v1M10.5 2v1m0 30v1M11.5 6v1m0 2v1m0 1v1m0 15v1M12.5 19v1m0 12v1M13.5 0v1m0 1v2m0 7v1m0 21v1M14.5 0v1m0 9v2m0 7v1m0 27v1M15.5 26v2m0 24v1M16.5 21v1m0 3v1m0 2v1m0 10v1m0 12v1M17.5 11v1m0 15v1m0 5v1m0 17v1M18.5 9v1m0 4v1m0 6v4m0 1v1m0 24v1M19.5 53v1m0 2v1M20.5 3v1m0 6v1m0 4v1m0 10v1m0 3v1m0 17v1M21.5 26v1m0 19v1m0 5v1M22.5 0v1m0 15v1m0 25v1m0 13v1M23.5 30v1m0 19v1M24.5 4v1m0 5v1m0 11v1m0 9v1M25.5 2v1m0 1v3m0 20v1m0 8v1M26.5 4v1m0 17v2m0 5v1m0 7v1M27.5 1v1m0 26v1m0 20v1m0 7v1M28.5 7v2m0 16v1m0 2v1M29.5 8v1m0 3v1m0 4v1M30.5 4v1m0 21v1m0 23v1M31.5 2v1m0 11v1m0 15v1m0 6v1m0 11v1M32.5 6v2m0 13v1m0 33v1m0 1v1M33.5 0v1m0 1v1M34.5 5v1m0 4v1m0 10v1m0 17v1m0 10v1M35.5 7v1m0 5v1m0 36v1M36.5 6v1m0 8v1m0 3v1M37.5 0v2m0 10v1m0 35v1M38.5 27v1m0 7v1m0 19v1M39.5 42v1M40.5 4v1m0 19v1m0 4v1m0 1v1m0 22v1M41.5 34v1m0 1v1m0 15v1m0 1v1M42.5 3v1m0 27v1m0 8v1M43.5 1v1m0 7v1m0 33v1M44.5 10v1m0 6v1m0 10v1m0 5v1m0 4v1M45.5 13v1m0 15v1M46.5 13v1m0 9v1m0 3v1m0 15v1m0 9v1M47.5 8v1m0 11v1m0 6v1m0 3v1m0 10v1m0 3v2m0 7v1M48.5 12v1m0 10v1m0 2v1m0 4v1m0 1v3m0 10v1m0 5v1m0 4v1M49.5 8v1m0 10v1m0 4v1m0 5v1m0 3v1m0 2v1m0 11v1M50.5 10v1m0 17v1m0 8v1m0 3v1M51.5 3v1m0 2v2m0 1v1m0 16v1m0 14v1m0 14v1M52.5 5v1m0 4v1m0 13v1m0 6v1m0 14v1m0 3v1m0 3v1M53.5 3v2m0 4v3m0 4v1m0 3v1m0 23v1m0 1v1M54.5 12v1m0 7v1m0 15v1m0 10v1M55.5 1v3m0 12v1m0 1v1m0 31v1M56.5 19v2m0 2v1m0 26v1M57.5 7v1m0 2v1m0 10v1m0 15v1m0 16v1M58.5 1v1m0 17v1m0 4v1m0 24v1M59.5 0v1m0 10v1m0 4v1m0 9v1m0 6v2m0 1v1m0 1v1m0 7v3M60.5 10v1m0 11v1m0 8v1M61.5 20v1m0 4v1m0 1v1m0 1v2m0 5v1m0 19v1M62.5 10v1m0 1v1m0 10v1m0 21v1M63.5 5v1m0 3v1m0 17v1m0 6v1m0 12v1m0 4v1m0 4v1M64.5 13v1m0 16v1m0 2v1m0 1v1m0 2v1m0 2v1m0 3v1M65.5 1v2m0 7v1m0 3v1m0 9v1m0 20v1m0 1v1m0 6v1M66.5 9v1m0 13v1m0 13v1m0 2v1m0 2v1M67.5 0v2m0 4v1m0 8v1m0 23v1m0 3v1m0 9v1M68.5 0v1m0 5v1m0 11v1m0 8v1m0 4v1m0 2v1m0 12v2m0 2v1M69.5 1v1m0 2v1m0 15v1m0 2v1m0 6v1m0 1v1m0 18v1M70.5 3v1m0 10v1m0 11v1M71.5 13v1M73.5 5v1m0 7v1m0 8v1m0 13v1m0 9v1m0 3v1M74.5 12v1m0 9v1m0 3v1m0 11v1m0 8v1m0 3v1M75.5 8v1m0 19v1m0 4v1M76.5 0v1m0 5v1m0 6v1m0 1v1m0 11v1m0 13v1m0 7v1M77.5 3v1m0 4v1m0 3v1m0 5v1m0 6v1m0 17v1m0 8v1M78.5 21v1m0 3v1m0 13v1m0 15v1M79.5 3v1m0 1v1m0 19v1m0 18v2m0 9v1"/>
</g>
<g transform="translate(326.9 1077.8) scale(3.1000 3.6155)" fill="none" stroke-width="1.04">
<path stroke="#3f6fb5" d="M1.5 7v1M3.5 0v1M4.5 6v1m0 3v1m0 33v1M7.5 36v1m0 3v1M8.5 16v1M9.5 37v1m0 12v1m0 3v1M10.5 6v1M11.5 14v1m0 42v1M13.5 7v1m0 34v1M16.5 1v1m0 15v1M17.5 7v1m0 6v1m0 7v1m0 26v1M18.5 8v1m0 40v1M19.5 0v1m0 30v1m0 3v1m0 15v1M20.5 11v1m0 14v1m0 9v1m0 16v1m0 2v1M21.5 33v1m0 10v2m0 6v1M22.5 13v1m0 41v1M23.5 1v1m0 2v1m0 10v1m0 1v1M24.5 48v1M25.5 3v1m0 3v1m0 5v1m0 2v1m0 7v1m0 9v1m0 9v1"/>
<path stroke="#5d8fcc" d="M0.5 57v1M2.5 26v1m0 27v1M3.5 28v1M5.5 44v1M6.5 36v1m0 12v1m0 6v1M8.5 46v1M11.5 18v1M12.5 16v1m0 12v1m0 13v1m0 5v1m0 6v1M13.5 10v1m0 13v1m0 3v2M14.5 18v1M15.5 32v1m0 8v1M16.5 14v1m0 8v1m0 30v1M17.5 13v1M18.5 2v1m0 11v1m0 3v1m0 7v1m0 13v1m0 9v1m0 2v1M19.5 7v1m0 1v1m0 30v1M20.5 0v1m0 22v1m0 4v1m0 2v1m0 2v1m0 19v1M21.5 24v1M22.5 18v1m0 5v1m0 15v1m0 8v1M23.5 2v1m0 7v1m0 10v1m0 19v1M24.5 9v1m0 6v1m0 10v1m0 2v1m0 3v1m0 2v1M25.5 23v1m0 4v1m0 16v1"/>
<path stroke="#8fb8df" d="M0.5 7v1m0 15v1m0 9v1m0 11v1m0 3v1M1.5 19v1m0 2v1m0 11v1M2.5 18v1m0 38v1M3.5 3v1m0 7v1m0 2v1m0 1v1m0 9v1m0 14v1m0 5v1M4.5 34v1M5.5 16v1m0 9v1m0 5v1m0 7v1m0 8v1m0 1v1M6.5 2v1m0 3v1m0 11v1m0 6v1m0 6v1m0 6v1m0 10v2M7.5 31v1m0 2v1m0 13v1M8.5 18v1m0 6v1m0 1v1m0 19v1m0 4v1m0 1v1m0 1v1M9.5 11v1m0 9v1m0 1v1m0 23v1m0 4v2M10.5 13v1m0 9v1m0 2v1M11.5 1v1m0 39v1M12.5 4v1M13.5 1v1m0 3v1m0 48v1M14.5 22v1m0 14v1m0 3v1m0 5v1m0 4v1M15.5 0v1m0 34v1m0 11v1M16.5 7v1m0 5v1m0 35v1m0 2v1M17.5 10v1m0 26v2M18.5 4v1m0 11v1m0 5v2m0 1v1m0 10v1m0 1v1m0 12v1m0 5v1M19.5 20v1m0 4v1m0 1v1m0 11v1m0 14v1M20.5 1v1m0 1v1m0 1v1m0 7v1m0 8v1m0 2v1m0 7v1m0 8v2m0 4v1m0 1v1m0 1v1M21.5 0v1m0 2v2m0 14v1m0 7v1m0 9v1m0 9v1m0 3v1M22.5 1v1m0 4v1m0 10v1m0 5v1m0 2v1m0 5v1m0 3v1m0 16v1m0 3v1M23.5 5v1m0 5v1m0 10v1m0 19v1m0 10v1m0 3v1M24.5 0v1m0 2v1m0 1v1m0 23v1m0 14v1m0 2v1M25.5 4v2m0 9v1m0 13v1m0 1v1m0 17v1"/>
<path stroke="#c5def0" d="M0.5 18v1m0 11v1m0 1v1m0 17v1M1.5 4v1m0 4v1m0 2v1m0 1v1m0 23v1m0 1v1m0 3v1m0 7v1m0 3v1M2.5 8v1m0 25v1m0 2v1m0 8v1M3.5 15v1m0 21v1m0 2v1m0 7v1M4.5 8v1m0 10v1m0 6v1m0 3v1m0 17v1M5.5 1v1m0 21v1m0 7v1m0 7v1m0 2v1m0 10v1m0 3v1M6.5 0v1m0 11v1m0 1v1m0 5v1m0 9v1m0 9v1M7.5 44v1m0 6v1M8.5 1v1m0 4v1m0 1v1m0 1v1m0 2v2m0 19v1m0 1v1m0 3v1m0 3v1m0 3v1M9.5 7v1m0 19v1m0 10v1m0 1v1m0 16v1M10.5 3v1m0 10v1m0 2v1m0 2v1m0 10v1m0 4v1m0 3v1M11.5 3v1m0 21v1m0 4v1m0 4v1M12.5 6v1m0 11v2m0 21v1M13.5 11v1m0 3v1m0 9v1m0 5v1m0 6v1m0 4v1m0 9v1M14.5 1v2m0 1v1m0 2v1m0 5v1m0 1v2m0 2v1m0 4v1m0 5v1m0 2v1m0 12v1M15.5 4v1m0 1v1m0 1v1m0 1v2m0 4v2m0 1v1m0 2v1m0 1v1m0 2v1m0 1v1m0 15v1m0 2v1M16.5 8v1m0 16v1m0 1v2m0 7v1m0 5v1m0 1v1m0 12v1M17.5 5v1m0 5v1m0 4v2m0 3v1m0 2v1m0 1v3m0 13v1M18.5 6v1m0 5v1m0 21v1m0 9v2M19.5 2v1m0 8v1m0 12v1m0 1v1m0 1v1m0 27v1M20.5 19v1m0 1v1M21.5 6v1m0 7v1m0 1v1m0 1v1m0 4v1m0 11v1M22.5 22v1m0 5v1m0 1v1m0 19v2m0 2v1m0 1v1M23.5 14v1m0 9v1m0 10v1m0 2v1m0 9v1M24.5 2v1m0 14v1m0 14v1m0 3v1m0 19v1M25.5 30v1m0 11v1m0 4v1"/>
<path stroke="#f5f5d6" d="M0.5 3v3m0 4v1m0 4v1m0 3v1m0 7v1m0 9v1m0 2v1m0 10v2m0 1v1m0 1v1M1.5 1v1m0 1v1m0 2v1m0 8v1m0 5v1m0 3v1m0 19v4m0 6v1M2.5 14v2m0 3v1m0 2v2m0 7v1m0 3v2m0 4v1M3.5 2v1m0 4v1m0 15v1m0 1v1m0 3v1m0 8v1m0 10v1m0 3v1M4.5 3v2m0 6v1m0 6v1m0 6v1m0 2v1m0 3v1m0 13v2m0 5v1M5.5 9v2m0 1v1m0 5v3m0 6v1m0 7v1m0 10v1m0 8v1M6.5 4v1m0 2v1m0 5v1m0 7v2m0 1v1m0 8v1m0 3v1m0 3v1m0 3v1m0 1v1m0 4v1m0 1v1M7.5 1v2m0 3v1m0 4v3m0 1v1m0 1v1m0 2v1m0 3v1m0 4v2m0 1v1m0 2v1m0 2v1m0 11v1m0 2v1M8.5 0v1m0 4v1m0 5v2m0 8v1m0 7v1m0 21v1m0 1v1M9.5 1v1m0 3v1m0 4v1m0 5v1m0 3v1m0 13v1m0 1v1m0 7v1m0 3v1m0 2v1M10.5 2v1m0 5v1m0 1v1m0 5v1m0 1v1m0 6v1m0 2v1m0 3v1m0 5v1m0 3v1m0 1v1m0 1v1m0 2v1m0 2v1m0 1v2m0 1v1M11.5 4v2m0 1v1m0 2v1m0 1v1m0 3v2m0 1v2m0 1v1m0 4v1m0 3v1m0 2v1m0 7v2M12.5 0v1m0 4v1m0 1v1m0 1v1m0 1v1m0 5v1m0 10v1m0 1v1m0 5v2m0 8v3m0 1v1m0 1v2M13.5 4v1m0 1v1m0 5v1m0 1v1m0 3v1m0 1v2m0 8v1m0 1v1m0 3v2m0 1v3m0 2v1m0 1v1m0 5v1m0 2v2M14.5 6v1m0 4v1m0 9v1m0 5v1m0 1v1m0 4v2m0 12v2m0 7v1M15.5 3v1m0 1v1m0 7v1m0 1v1m0 4v1m0 4v2m0 4v1m0 4v1m0 7v1m0 8v1m0 1v2M16.5 5v1m0 9v1m0 10v1m0 4v1m0 13v2M17.5 0v1m0 7v2m0 13v1m0 15v1m0 1v1m0 3v1m0 2v1m0 2v2m0 2v1M18.5 1v1m0 5v1m0 2v1m0 16v1m0 1v3m0 1v1m0 1v1m0 3v1m0 2v2m0 2v1m0 5v1M19.5 15v2m0 5v1m0 7v1m0 1v1m0 9v1m0 10v1m0 1v1M20.5 12v1m0 5v1m0 11v1m0 8v1m0 1v1m0 3v1M21.5 15v1m0 23v1m0 2v1m0 3v1m0 1v1M22.5 2v1m0 2v1m0 5v2m0 2v1m0 3v1m0 13v1m0 18v1M23.5 0v1m0 2v1m0 19v1m0 8v1m0 12v1m0 1v1m0 8v1M24.5 1v1m0 4v1m0 1v1m0 1v1m0 1v1m0 2v1m0 4v2m0 1v1m0 1v1m0 12v1m0 13v1M25.5 14v1m0 3v1m0 2v2m0 3v1m0 5v1m0 13v1m0 1v1"/>
<path stroke="#fde2a0" d="M0.5 2v1m0 3v1m0 4v2m0 8v2m0 6v1m0 18v1M1.5 0v1m0 9v1m0 9v1m0 6v1m0 1v1m0 2v1m0 4v1m0 11v1M2.5 1v1m0 3v1m0 18v1m0 5v1m0 8v1m0 2v3m0 8v1m0 2v1M3.5 5v1m0 7v1m0 31v1m0 5v1m0 2v1m0 2v1M4.5 5v1m0 15v2m0 4v1m0 3v1m0 1v1m0 1v1m0 15v1m0 2v1M5.5 2v1m0 2v2m0 4v1m0 3v1m0 1v1m0 10v1m0 1v1m0 16v1m0 8v1M6.5 3v1m0 1v1m0 2v1m0 2v1m0 17v1m0 4v2m0 6v1m0 3v1m0 8v1M7.5 7v1m0 1v1m0 4v1m0 8v1m0 2v1m0 12v1M8.5 15v1m0 4v1m0 1v1m0 3v1m0 6v1m0 4v2m0 17v1M9.5 13v1m0 3v2m0 9v3m0 11v1M10.5 11v1m0 7v1m0 4v1m0 2v1M11.5 6v1m0 8v1m0 5v1m0 11v1m0 3v1m0 1v1m0 4v1m0 1v1m0 1v2m0 2v1M12.5 1v1m0 6v1m0 5v2m0 4v1m0 1v2m0 3v1m0 4v1m0 2v1m0 2v1m0 1v1m0 4v1m0 5v1m0 5v1M13.5 0v1m0 7v1m0 8v1m0 4v1m0 3v1m0 6v2m0 16v1m0 5v1M14.5 8v1m0 1v1m0 1v1m0 10v1m0 2v1m0 13v1m0 1v1m0 7v1M15.5 1v1m0 5v1m0 22v1m0 6v2m0 1v1m0 5v1m0 2v1m0 2v1m0 4v1M16.5 18v1m0 3v1m0 1v1m0 4v2m0 4v1m0 1v4m0 6v1m0 7v2M17.5 12v1m0 2v1m0 9v1m0 8v1m0 8v2m0 1v1m0 3v1m0 2v2m0 2v1M18.5 5v1m0 3v1m0 11v1m0 33v2M19.5 1v1m0 11v1m0 5v1m0 14v1m0 1v1m0 1v1m0 8v1M20.5 6v1m0 3v1m0 3v1m0 29v1m0 2v1M21.5 5v1m0 15v1m0 8v1m0 23v1m0 1v1M22.5 3v2m0 33v1m0 6v1M23.5 8v1m0 10v2m0 15v2m0 1v2m0 2v2m0 1v1m0 4v1m0 2v1M24.5 11v1m0 2v1m0 13v1m0 2v1m0 1v1m0 5v2m0 13v1M25.5 8v1m0 1v1m0 32v1m0 8v1m0 3v1"/>
<path stroke="#f7a86a" d="M0.5 42v1M1.5 5v1m0 5v1m0 19v1m0 10v1m0 10v1M2.5 6v1m0 9v1m0 16v1m0 13v1M3.5 39v1m0 2v1m0 3v1m0 8v1M4.5 2v1m0 12v1m0 24v1m0 14v1M5.5 14v1m0 6v1m0 14v1m0 11v1M6.5 9v1m0 43v1M7.5 25v1m0 30v1M8.5 23v1m0 11v1m0 9v1m0 3v1M9.5 3v2m0 1v1m0 7v1m0 41v1M10.5 21v1M11.5 9v1m0 1v1m0 1v1m0 9v1m0 5v1m0 10v1m0 4v1m0 10v1M12.5 12v2m0 7v1m0 3v1m0 8v1M13.5 19v1m0 29v1M14.5 0v1m0 2v1m0 1v1m0 25v1m0 4v1m0 1v1m0 4v1M15.5 12v1m0 21v1m0 4v1m0 2v1M16.5 34v1m0 8v1M17.5 3v1m0 2v1m0 11v1M18.5 13v1m0 27v1m0 5v1M19.5 33v1m0 3v1m0 6v1m0 1v1m0 2v1m0 2v1M20.5 35v1m0 10v1m0 10v1M21.5 13v1m0 12v1m0 26v1M22.5 14v1m0 14v1m0 14v1M23.5 28v1M24.5 19v1m0 30v1m0 6v1M25.5 9v1m0 10v1m0 6v1m0 26v1"/>
<path stroke="#e4613f" d="M0.5 0v1m0 13v1m0 2v1m0 6v1m0 3v1m0 2v1m0 6v2m0 7v1m0 7v1M1.5 8v1m0 4v1m0 2v1m0 6v2m0 5v1m0 5v1m0 4v1m0 1v1m0 6v1M2.5 2v2m0 7v3m0 6v2m0 3v1m0 2v1m0 9v1m0 6v1m0 5v2M3.5 8v3m0 6v2m0 3v1m0 4v1m0 8v1m0 6v1m0 8v1M4.5 0v2m0 5v1m0 6v1m0 2v1m0 5v2m0 12v1m0 1v1m0 5v1m0 4v1M5.5 8v1m0 13v1m0 10v1m0 3v1m0 7v1m0 4v1m0 1v1m0 1v1M6.5 10v1m0 6v1m0 5v1m0 4v1m0 2v1m0 6v1m0 4v1m0 13v1M7.5 0v1m0 3v1m0 5v1m0 22v1m0 3v1m0 3v2m0 2v1m0 3v1m0 7v1M8.5 28v1m0 1v3m0 8v2M9.5 12v1m0 2v1m0 6v1m0 2v1m0 13v1m0 6v1m0 2v1M10.5 1v1m0 3v1m0 1v1m0 1v1m0 5v1m0 14v1m0 2v1m0 5v1m0 3v1m0 1v1m0 2v1m0 4v1M11.5 0v1m0 1v1m0 21v1m0 3v1m0 3v1m0 18v1M12.5 2v1m0 7v1m0 15v1m0 12v1m0 2v1m0 11v1M13.5 9v1m0 17v1m0 20v1m0 1v1M14.5 20v1m0 7v1m0 16v1m0 5v1M15.5 9v1m0 8v1m0 2v1m0 21v1m0 7v1m0 2v1M16.5 0v1m0 1v3m0 4v1m0 9v2m0 11v2m0 7v1m0 6v1m0 1v1M17.5 1v1m0 2v1m0 24v1m0 2v1m0 3v1m0 10v1m0 8v1M18.5 3v1m0 7v1m0 3v1m0 1v1m0 6v1m0 12v1M19.5 4v1m0 1v1m0 14v1m0 23v1m0 4v1M20.5 2v1m0 4v1m0 7v3m0 11v1m0 7v1m0 2v1m0 14v1M21.5 1v1m0 5v1m0 1v1m0 2v1m0 7v1m0 1v1m0 2v1m0 8v1m0 3v1m0 1v1m0 2v1m0 5v2m0 4v1M22.5 0v1m0 6v1m0 1v1m0 6v1m0 17v2m0 1v1m0 1v1m0 3v1M23.5 6v2m0 1v1m0 6v1m0 1v1m0 6v2m0 4v1m0 18v1m0 4v1M24.5 4v1m0 30v1m0 6v1m0 6v1m0 3v1m0 1v1M25.5 1v2m0 3v1m0 29v2m0 2v2m0 8v2m0 1v1"/>
<path stroke="#cc2d27" d="M0.5 1v1m0 6v2m0 3v1m0 2v1m0 3v1m0 4v2m0 7v3m0 4v1m0 1v2m0 1v1m0 6v1M1.5 2v1m0 14v2m0 7v1m0 1v1m0 4v1m0 1v1m0 3v1m0 11v1m0 2v1m0 2v1M2.5 0v1m0 3v1m0 2v1m0 1v2m0 6v1m0 9v1m0 1v1m0 2v1m0 7v1m0 7v3m0 4v1M3.5 1v1m0 2v1m0 1v1m0 5v1m0 6v3m0 2v1m0 5v6m0 8v1m0 5v1m0 5v1M4.5 9v1m0 2v2m0 2v1m0 3v1m0 8v1m0 6v1m0 1v1m0 2v3m0 5v1m0 2v1m0 3v2M5.5 0v1m0 2v2m0 2v1m0 5v1m0 10v2m0 3v1m0 4v1m0 3v1m0 2v1m0 1v1M6.5 1v1m0 13v2m0 2v1m0 6v2m0 16v1m0 3v1M7.5 3v1m0 1v1m0 2v1m0 7v1m0 1v2m0 1v2m0 4v2m0 14v1m0 2v2m0 4v1m0 1v2M8.5 2v3m0 2v1m0 1v1m0 7v1m0 1v1m0 4v1m0 12v1m0 5v1m0 6v1m0 4v1M9.5 0v1m0 1v1m0 5v2m0 9v1m0 4v1m0 1v1m0 4v3m0 1v1m0 5v1m0 1v1m0 1v1m0 9v1M10.5 0v1m0 3v1m0 7v1m0 9v1m0 6v1m0 4v2m0 1v1m0 3v1m0 5v1m0 2v2m0 4v1M11.5 8v1m0 17v1m0 9v1m0 1v1m0 8v1m0 2v1m0 2v3M12.5 3v1m0 20v1m0 6v1m0 1v1m0 10v1m0 10v1M13.5 2v2m0 9v1m0 2v1m0 6v1m0 11v1m0 9v1m0 1v1M14.5 9v1m0 4v1m0 2v1m0 7v1m0 6v1m0 6v1m0 4v1m0 8v4M15.5 2v1m0 11v1m0 8v1m0 4v1m0 4v1m0 16v1M16.5 6v1m0 3v3m0 3v1m0 4v1m0 29v1m0 1v1M17.5 2v1m0 16v2m0 9v2m0 1v1m0 1v1m0 4v1M18.5 0v1m0 18v2m0 7v1m0 3v1m0 15v1m0 5v1M19.5 3v1m0 1v1m0 2v1m0 1v1m0 1v1m0 1v1m0 2v2m0 4v1m0 5v1m0 11v1m0 1v1m0 4v1m0 8v1M20.5 4v1m0 3v2m0 10v1m0 3v1m0 2v1m0 4v1m0 5v1m0 10v1m0 1v1M21.5 2v1m0 5v1m0 1v2m0 5v1m0 10v2m0 1v2m0 3v1m0 4v1m0 15v1M22.5 8v1m0 1v1m0 9v2m0 3v1m0 1v1m0 3v1m0 9v2m0 3v3M23.5 12v2m0 13v1m0 1v2m0 2v2m0 14v1m0 2v1M24.5 7v1m0 5v1m0 4v1m0 3v1m0 1v1m0 1v1m0 14v1m0 1v1m0 1v2m0 4v1M25.5 0v1m0 10v2m0 4v1m0 1v1m0 5v1m0 7v1m0 1v1m0 2v2m0 15v1m0 1v1"/>
</g>
<g transform="translate(411.1 1077.8) scale(3.1194 3.6155)" fill="none" stroke-width="1.04">
<path stroke="#3f6fb5" d="M0.5 18v1m0 38v1M1.5 1v1m0 5v1M2.5 29v1M3.5 46v1m0 9v1M4.5 10v1m0 29v1M5.5 24v1m0 18v1M12.5 41v1m0 10v1M13.5 2v1m0 4v2m0 9v1m0 31v1m0 3v1M14.5 2v1m0 7v1m0 10v1m0 9v1m0 9v1m0 9v1M15.5 2v1m0 4v1m0 15v1m0 1v1m0 1v1m0 8v1m0 9v1m0 3v1m0 2v2M16.5 10v1m0 4v2m0 7v1m0 4v1m0 6v3m0 6v1M17.5 1v1m0 1v2m0 2v1m0 12v1m0 2v1m0 4v1m0 1v2m0 3v1m0 1v1m0 2v1m0 2v1m0 7v1M18.5 6v1m0 3v1m0 1v1m0 3v2m0 2v1m0 1v2m0 4v1m0 7v1m0 2v1m0 12v1m0 3v1M19.5 0v2m0 16v1m0 11v1m0 2v1m0 5v1m0 2v1m0 1v1m0 1v1m0 4v1m0 2v1M20.5 4v2m0 2v1m0 11v1m0 4v1m0 5v1m0 8v1m0 10v1m0 1v1m0 3v1M21.5 13v1m0 17v1m0 3v1m0 3v1m0 2v2m0 3v1m0 8v1M22.5 8v1m0 2v2m0 5v1m0 3v1m0 3v1m0 12v1m0 3v1m0 1v1m0 4v1m0 1v1M23.5 6v2m0 6v1m0 7v1m0 2v1m0 7v1m0 7v1m0 10v1m0 2v1M24.5 3v1m0 7v1m0 2v1m0 2v1m0 4v1m0 3v1m0 3v1m0 2v1m0 1v1m0 3v1m0 1v1m0 7v2m0 2v1m0 3v1M25.5 2v1m0 5v1m0 3v1m0 1v1m0 2v2m0 6v1m0 3v1m0 2v2m0 2v2m0 1v1m0 1v1m0 2v1m0 1v1m0 6v1M26.5 3v1m0 2v1m0 1v4m0 3v1m0 3v1m0 4v1m0 3v1m0 2v1m0 4v1m0 1v2m0 3v2m0 4v1M27.5 0v1m0 1v1m0 3v1m0 10v1m0 11v1m0 2v2m0 15v1m0 1v1M28.5 0v1m0 2v1m0 2v3m0 9v1m0 6v1m0 1v2m0 8v1m0 1v1m0 2v1m0 3v1m0 2v1m0 7v1M29.5 13v1m0 4v1m0 6v1m0 3v1m0 1v1m0 2v1m0 1v1m0 8v1m0 3v1m0 1v1m0 5v1M30.5 2v2m0 3v1m0 1v1m0 2v1m0 1v1m0 4v1m0 12v1m0 2v1m0 1v1m0 9v1m0 7v1"/>
<path stroke="#5d8fcc" d="M0.5 20v1m0 8v1m0 19v1M1.5 9v1m0 37v1M2.5 0v1m0 4v1M3.5 4v1m0 2v1m0 15v1m0 26v1m0 4v1M4.5 16v1m0 2v1M5.5 29v1M6.5 43v1M8.5 33v1M10.5 43v1M12.5 26v1M13.5 5v1m0 25v1m0 6v1m0 10v1M14.5 0v1m0 3v1m0 2v1m0 8v1m0 1v2m0 2v1m0 14v2m0 3v1m0 6v1m0 5v1M15.5 4v1m0 1v1m0 3v1m0 3v1m0 5v1m0 3v1m0 3v1m0 1v3m0 10v1m0 3v1m0 7v1M16.5 0v1m0 1v1m0 2v2m0 1v1m0 3v3m0 8v1m0 9v1m0 7v1m0 6v1m0 3v1m0 1v1M17.5 2v1m0 5v1m0 6v1m0 1v1m0 3v2m0 2v1m0 1v1m0 1v1m0 6v1m0 2v1m0 5v1m0 1v2m0 1v1M18.5 1v1m0 2v1m0 6v1m0 12v1m0 1v1m0 3v1m0 2v1m0 3v1m0 4v1m0 2v1m0 4v1m0 3v1M19.5 2v1m0 2v1m0 8v1m0 5v2m0 1v1m0 2v1m0 1v1m0 2v1m0 4v1m0 1v1m0 2v1m0 7v1m0 6v2M20.5 6v1m0 9v1m0 4v1m0 5v2m0 1v1m0 3v1m0 2v1m0 3v2m0 6v1m0 2v1m0 1v1M21.5 0v2m0 2v1m0 5v2m0 4v2m0 1v2m0 2v2m0 3v1m0 9v1m0 9v1m0 1v1M22.5 2v1m0 12v1m0 14v1m0 10v1m0 7v1m0 1v1m0 3v3M23.5 4v1m0 3v2m0 2v1m0 2v1m0 3v2m0 3v1m0 3v1m0 1v1m0 11v2m0 1v1m0 4v2m0 1v1m0 2v1M24.5 0v1m0 1v1m0 2v1m0 4v1m0 2v1m0 2v1m0 2v1m0 3v1m0 3v3m0 1v2m0 3v1m0 9v1m0 4v1M25.5 3v1m0 12v1m0 4v3m0 4v1m0 14v1m0 10v1m0 1v1M26.5 2v1m0 11v1m0 3v1m0 13v1m0 1v1m0 7v1m0 11v1m0 1v1M27.5 3v1m0 4v1m0 2v1m0 4v1m0 1v2m0 7v1m0 3v1m0 3v1m0 1v1m0 6v3m0 6v1m0 3v1M28.5 5v1m0 4v1m0 2v1m0 3v1m0 5v1m0 7v2m0 1v1m0 3v1m0 8v1m0 2v1m0 2v1M29.5 0v1m0 2v2m0 1v2m0 2v2m0 5v1m0 10v1m0 1v1m0 1v1m0 4v1m0 1v1m0 3v1m0 3v1m0 4v1m0 1v2M30.5 20v1m0 4v2m0 7v1m0 1v1m0 15v1m0 1v1m0 1v1"/>
<path stroke="#8fb8df" d="M0.5 27v1M1.5 26v1m0 6v1m0 3v1m0 19v1M2.5 27v1m0 2v1m0 7v1M3.5 14v1m0 32v1M4.5 27v1M5.5 46v1M6.5 26v1m0 21v1M7.5 30v1M8.5 19v1M10.5 10v1M11.5 29v1m0 11v1M12.5 11v1M13.5 1v1M14.5 24v2m0 17v1m0 3v1M15.5 11v1m0 3v1m0 36v1m0 4v1M16.5 20v1m0 1v1m0 33v1M18.5 0v1m0 14v1m0 18v1m0 13v1M19.5 17v1m0 4v1M20.5 11v1m0 6v1m0 3v2m0 5v1m0 3v1m0 5v1M21.5 5v1m0 24v1m0 6v1M22.5 13v1m0 15v1m0 12v1m0 1v1M23.5 1v1m0 34v1m0 11v1M24.5 6v1m0 2v1m0 27v1m0 7v1M25.5 35v1m0 9v1m0 2v1m0 3v1M26.5 4v2m0 39v1m0 11v1M27.5 13v2m0 7v1m0 1v1m0 1v1M28.5 2v1m0 8v1m0 2v2m0 13v1m0 21v1m0 2v1M29.5 40v1m0 15v1M30.5 0v1m0 3v2m0 7v1m0 7v1m0 7v1m0 9v1m0 10v2"/>
<path stroke="#c5def0" d="M0.5 15v1m0 12v1m0 24v1m0 2v1M1.5 5v1M2.5 21v1m0 11v1m0 6v1m0 2v1M3.5 51v1M4.5 1v1m0 40v1M5.5 3v1m0 23v1m0 23v1M6.5 3v1m0 16v1M7.5 6v1m0 17v1m0 11v1M8.5 20v1m0 3v1M9.5 25v1M10.5 33v1m0 20v1M13.5 52v1M14.5 11v1m0 11v1m0 6v1M15.5 19v1m0 24v1m0 6v1M16.5 19v1m0 6v2m0 14v1M17.5 13v1m0 4v1m0 5v1m0 13v1m0 13v1M18.5 8v1m0 38v1M19.5 37v1M20.5 17v1m0 28v1m0 1v1M22.5 7v1m0 13v1m0 11v1m0 4v1m0 1v1m0 7v1m0 5v1M23.5 2v1m0 31v1m0 4v1M24.5 1v1m0 40v1M25.5 10v1m0 13v1m0 6v1m0 6v1M26.5 7v1m0 22v1m0 2v1m0 19v1M27.5 1v1m0 8v1m0 1v1m0 25v1M28.5 4v1m0 7v1m0 9v1m0 1v1m0 19v1M29.5 8v1m0 44v1M30.5 38v1m0 10v1"/>
<path stroke="#f5f5d6" d="M0.5 9v1m0 2v1m0 3v2m0 4v1m0 18v1M1.5 6v1m0 15v1m0 1v1m0 5v1m0 17v1M2.5 15v1m0 2v1m0 7v1m0 8v1m0 8v1m0 3v1m0 3v1M3.5 12v1m0 3v1m0 8v1m0 8v1m0 6v1m0 3v1M4.5 3v1m0 17v1m0 1v1m0 10v1m0 18v1M5.5 7v1m0 44v1M6.5 31v1M7.5 0v1M10.5 39v1m0 13v1M11.5 49v1M12.5 6v1m0 18v1M13.5 6v1m0 5v1m0 20v3m0 3v1m0 1v2m0 5v1M14.5 8v1m0 5v1m0 14v1m0 3v2m0 5v1m0 4v1m0 4v1m0 3v1M15.5 12v2m0 21v1m0 4v1M16.5 7v1m0 9v1m0 10v1m0 28v1M17.5 14v1m0 1v1m0 38v1M18.5 35v1m0 4v1m0 5v1m0 2v1M19.5 6v1m0 2v2m0 4v1m0 16v1m0 1v1M20.5 9v1m0 2v1m0 11v1m0 13v1M21.5 49v1m0 3v1M22.5 0v1m0 3v1m0 5v1M23.5 3v1m0 9v1m0 12v1m0 5v1m0 16v1m0 4v1M24.5 8v1m0 3v1m0 12v1m0 28v2M25.5 7v1m0 3v1m0 38v1M26.5 20v1m0 6v1m0 23v1M27.5 42v1m0 4v1m0 6v1M28.5 1v1m0 7v1m0 20v1m0 2v1M29.5 9v1m0 4v1m0 4v1m0 3v1M30.5 33v1m0 12v1"/>
<path stroke="#fde2a0" d="M0.5 6v1m0 6v1m0 19v1m0 11v1m0 5v1M1.5 2v1m0 11v2m0 2v1m0 21v1M2.5 3v1m0 4v1m0 11v1m0 3v1m0 17v1m0 6v1m0 3v1M3.5 3v1m0 6v2m0 17v1m0 1v1m0 11v1m0 13v1M4.5 6v1m0 22v1m0 6v1m0 18v1M6.5 37v1M8.5 15v1M9.5 12v1m0 40v1M11.5 28v1m0 2v2m0 7v1M12.5 10v1m0 1v1M13.5 30v1m0 13v1m0 1v1M14.5 5v1m0 6v1M15.5 34v1m0 6v1m0 14v1M16.5 1v1m0 9v1m0 13v1m0 6v1m0 20v1M17.5 0v1m0 45v1M18.5 7v1m0 6v1m0 4v1m0 23v1m0 13v1M19.5 11v1m0 4v1m0 8v1m0 3v1m0 10v1m0 11v1M20.5 1v1m0 1v1m0 22v1m0 5v1m0 14v1m0 7v2M21.5 15v1m0 2v1m0 22v1m0 4v1m0 10v1M22.5 5v1m0 13v1m0 12v1m0 14v1M23.5 5v1m0 15v1m0 22v1M24.5 15v1m0 2v1M25.5 27v1m0 6v1M26.5 0v1m0 40v1m0 5v2M27.5 7v1m0 7v1m0 36v1M28.5 26v1m0 9v1m0 11v1M29.5 5v1m0 15v1m0 11v1M30.5 48v1"/>
<path stroke="#f7a86a" d="M0.5 38v1M1.5 10v1m0 5v2m0 1v1m0 7v2m0 5v1m0 15v2m0 3v2M2.5 2v1m0 9v1m0 1v1m0 32v1M3.5 0v1m0 23v1m0 12v2m0 15v1M4.5 35v1m0 9v1m0 5v1M5.5 1v1m0 3v1m0 8v1m0 2v2m0 1v1m0 7v1m0 24v1M6.5 11v1m0 1v3m0 5v1m0 24v1m0 9v1M7.5 2v1m0 2v1m0 8v1m0 1v1m0 5v1m0 10v1m0 8v1m0 5v2m0 3v1M8.5 0v1m0 13v1m0 13v1m0 8v1m0 2v1m0 16v1M9.5 2v1m0 13v1m0 4v1m0 7v1m0 14v1m0 2v1m0 6v2m0 1v1M10.5 2v1m0 3v1m0 5v1m0 5v1m0 11v2M11.5 1v1m0 1v1m0 1v1m0 10v1m0 5v1m0 10v1m0 3v2m0 3v1m0 1v1m0 9v1m0 2v1M12.5 1v1m0 1v1m0 13v1m0 2v1m0 2v2m0 6v2m0 2v1m0 11v1M13.5 4v1m0 5v1m0 10v1m0 2v1m0 11v1m0 3v1m0 2v1m0 9v1m0 1v2M14.5 28v1m0 15v1m0 1v1m0 1v1M15.5 17v1m0 8v1m0 11v1m0 6v1m0 2v2M16.5 30v1M17.5 19v1M18.5 2v1m0 6v1m0 8v1m0 12v1M19.5 55v1M20.5 10v1m0 25v1m0 6v1m0 1v1M21.5 3v1m0 4v1m0 13v1m0 3v2m0 4v1m0 18v1M22.5 14v1m0 5v1m0 4v1M23.5 10v1m0 12v1m0 13v1M25.5 4v1m0 15v1m0 5v1m0 13v1m0 10v1m0 5v1M26.5 13v1m0 2v1m0 4v1M27.5 23v1m0 15v1M28.5 21v1m0 13v1m0 4v2m0 3v1M29.5 16v1m0 3v1m0 21v1m0 1v1m0 1v1m0 1v1M30.5 8v1"/>
<path stroke="#e4613f" d="M0.5 1v3m0 1v1m0 1v2m0 12v1m0 10v1m0 3v2m0 2v1m0 2v1m0 6v1m0 3v2M1.5 0v1m0 7v1m0 4v1m0 7v1m0 3v1m0 6v1m0 3v1m0 1v2m0 1v2m0 2v2m0 6v2M2.5 1v1m0 4v2m0 1v1m0 1v1m0 5v1m0 4v2m0 1v1m0 5v1m0 2v1m0 4v1m0 10v1m0 4v1M3.5 2v1m0 2v2m0 2v1m0 3v1m0 1v1m0 1v1m0 1v2m0 7v1m0 1v1m0 1v1m0 2v1m0 6v1m0 1v1m0 3v1m0 4v1M4.5 0v1m0 1v1m0 1v2m0 1v2m0 5v1m0 3v1m0 1v1m0 5v1m0 1v1m0 3v1m0 5v1m0 7v1m0 1v2m0 2v1m0 1v1m0 1v2M5.5 0v1m0 3v1m0 1v1m0 3v1m0 4v1m0 10v1m0 4v2m0 2v2m0 3v1m0 3v2m0 8v2m0 1v1M6.5 0v2m0 2v1m0 1v1m0 2v2m0 5v1m0 1v2m0 4v1m0 2v3m0 2v2m0 2v1m0 5v1m0 1v2m0 3v4M7.5 4v1m0 3v1m0 1v1m0 1v2m0 3v4m0 2v1m0 1v2m0 1v2m0 1v1m0 2v2m0 3v1m0 5v1m0 8v1m0 1v1M8.5 2v1m0 3v2m0 2v4m0 2v1m0 5v1m0 4v1m0 4v1m0 2v1m0 2v2m0 2v1m0 1v3m0 1v1m0 4v1m0 1v2M9.5 5v1m0 1v4m0 6v2m0 4v2m0 1v1m0 1v1m0 4v2m0 2v1m0 2v2m0 1v1m0 1v1m0 3v1m0 1v2m0 3v1M10.5 0v1m0 2v2m0 6v1m0 2v1m0 1v1m0 2v1m0 1v1m0 1v3m0 3v1m0 2v1m0 3v3m0 2v1m0 3v2m0 2v2m0 5v2M11.5 0v1m0 1v1m0 1v1m0 1v2m0 1v4m0 6v3m0 1v1m0 1v3m0 2v1m0 3v1m0 11v3m0 4v1m0 2v1M12.5 2v1m0 1v2m0 3v1m0 6v1m0 1v1m0 3v1m0 4v2m0 1v1m0 2v1m0 4v3m0 1v1m0 1v1m0 3v3m0 3v4M13.5 0v1m0 2v1m0 7v1m0 1v1m0 1v3m0 2v1m0 2v1m0 2v1m0 1v1m0 3v1m0 12v1m0 11v1M14.5 6v1m0 6v1m0 3v1m0 8v1m0 5v1m0 19v1m0 3v1M15.5 0v1m0 7v1m0 9v1m0 10v1m0 7v1m0 4v1M16.5 3v1m0 30v1m0 11v2m0 3v1m0 3v1M17.5 6v1m0 2v3m0 14v1m0 5v3m0 6v1m0 2v1m0 8v2M18.5 3v1m0 9v1m0 7v1m0 5v1m0 10v1m0 2v1m0 9v1m0 1v1M19.5 3v1m0 23v1m0 25v1M20.5 2v1m0 11v1m0 4v1m0 15v1M21.5 2v1m0 9v1m0 1v1m0 10v1m0 7v2m0 9v2M22.5 6v1m0 2v1m0 13v1m0 7v1m0 3v1m0 1v1m0 15v1M23.5 18v1m0 8v1m0 3v1m0 8v1m0 6v1m0 9v1M24.5 7v1m0 26v1m0 12v1M25.5 6v1m0 6v1m0 5v1m0 22v1M26.5 17v1m0 5v1m0 5v1m0 5v1m0 1v1M27.5 4v2m0 24v1m0 9v1m0 2v1m0 6v1m0 5v1M28.5 43v1m0 8v1M29.5 12v1m0 11v1m0 13v1m0 2v1M30.5 1v1m0 9v1m0 3v1m0 1v1m0 6v1m0 15v3m0 1v1m0 12v1"/>
<path stroke="#cc2d27" d="M0.5 0v1m0 3v1m0 5v2m0 2v1m0 4v1m0 3v4m0 3v2m0 2v2m0 3v1m0 2v1m0 1v1m0 1v3m0 3v1M1.5 3v2m0 6v2m0 7v1m0 2v1m0 5v1m0 1v1m0 3v1m0 7v2m0 4v1m0 2v1M2.5 4v1m0 5v1m0 2v1m0 2v1m0 2v1m0 8v1m0 3v1m0 3v2m0 3v1m0 3v2m0 4v1m0 2v1m0 1v2M3.5 1v1m0 6v1m0 9v1m0 2v2m0 3v2m0 5v1m0 2v1m0 2v2m0 8v1m0 2v1M4.5 9v1m0 1v3m0 1v1m0 1v1m0 4v1m0 1v2m0 4v2m0 1v1m0 3v1m0 1v1m0 1v1m0 1v2m0 2v1m0 2v1M5.5 2v1m0 5v2m0 1v3m0 2v1m0 2v1m0 1v3m0 1v1m0 4v1m0 2v2m0 2v3m0 1v2m0 4v4m0 5v1M6.5 2v1m0 2v1m0 1v2m0 3v1m0 4v1m0 4v2m0 1v1m0 4v1m0 3v2m0 2v4m0 5v1m0 5v3m0 1v1M7.5 1v1m0 1v1m0 3v1m0 1v1m0 1v1m0 3v1m0 5v1m0 5v1m0 4v1m0 4v2m0 1v2m0 1v2m0 1v2m0 2v3m0 2v1m0 1v1M8.5 1v1m0 1v3m0 2v2m0 7v2m0 2v1m0 1v1m0 1v2m0 2v3m0 2v1m0 1v1m0 4v1m0 1v1m0 3v1m0 1v4m0 1v1M9.5 0v2m0 1v2m0 1v1m0 4v1m0 1v3m0 3v2m0 1v1m0 4v1m0 2v3m0 2v2m0 1v2m0 2v1m0 3v1m0 1v1m0 1v1M10.5 1v1m0 3v1m0 1v3m0 3v1m0 1v1m0 1v1m0 2v1m0 1v1m0 3v3m0 5v2m0 4v1m0 1v1m0 1v1m0 2v2m0 2v2m0 2v1M11.5 8v1m0 4v3m0 1v2m0 5v1m0 10v2m0 2v1m0 3v1m0 1v1m0 4v3m0 2v1M12.5 0v1m0 6v2m0 4v3m0 3v1m0 1v1m0 7v1m0 4v1m0 1v2m0 5v1m0 1v2m0 4v1m0 1v1M13.5 9v1m0 4v1m0 4v1m0 2v1m0 2v1m0 1v1m0 1v1m0 7v1m0 9v1m0 3v1M14.5 1v1m0 1v1m0 5v1m0 5v1m0 4v1m0 6v1m0 7v2m0 2v1m0 13v1m0 3v1M15.5 1v1m0 1v1m0 1v1m0 3v1m0 6v1m0 4v2m0 10v1m0 5v1M16.5 4v1m0 4v1m0 8v1m0 2v1m0 9v1m0 3v1m0 3v2m0 2v2m0 4v2M17.5 5v1m0 6v1m0 29v1m0 6v1m0 6v2M18.5 5v1m0 19v1m0 3v1m0 2v1m0 11v1m0 10v1M19.5 4v1m0 2v2m0 3v2m0 5v1m0 4v1m0 10v1m0 7v1m0 1v1m0 1v2m0 1v1M20.5 0v1m0 6v1m0 5v1m0 1v1m0 28v1m0 5v1M21.5 6v2m0 1v1m0 11v1m0 7v1m0 6v1m0 3v1m0 11v1m0 1v2M22.5 1v1m0 1v1m0 12v2m0 6v1m0 2v2m0 5v1m0 1v1m0 9v1M23.5 0v1m0 10v1m0 4v2m0 11v1m0 5v1m0 2v1m0 7v1M24.5 4v1m0 15v2m0 2v1m0 13v1m0 1v1m0 2v2m0 3v1m0 3v1m0 3v1M25.5 0v2m0 3v1m0 3v1m0 5v1m0 14v1m0 16v1m0 1v1m0 5v1M26.5 1v1m0 10v1m0 9v1m0 2v2m0 13v1m0 5v1m0 3v1m0 1v1m0 2v1M27.5 9v1m0 10v2m0 3v1m0 2v1m0 5v1m0 1v1m0 4v1m0 6v1m0 6v1M28.5 16v1m0 2v2m0 34v2M29.5 1v2m0 12v1m0 6v1m0 3v2m0 7v1m0 14v1M30.5 6v1m0 3v1m0 5v1m0 1v1m0 3v2m0 3v2m0 1v2m0 11v1m0 1v1m0 7v1"/>
</g>
<g transform="translate(72.1 1292.1) scale(3.1362 3.6120)" fill="none" stroke-width="1.04">
<path stroke="#3f6fb5" d="M0.5 0v1m0 8v1m0 2v1m0 2v1m0 3v1m0 4v2m0 10v1m0 5v1m0 13v1m0 2v1m0 1v1m0 12v1m0 2v2M1.5 11v1m0 2v1m0 3v1m0 6v1m0 5v1m0 7v2m0 2v1m0 3v1m0 2v2m0 1v2m0 4v1m0 6v1m0 2v1m0 5v1M2.5 1v1m0 7v1m0 2v1m0 5v1m0 3v2m0 6v1m0 8v1m0 5v1m0 6v3m0 12v1m0 4v1m0 1v2m0 1v1m0 3v1M3.5 0v1m0 2v1m0 2v1m0 4v1m0 5v1m0 1v1m0 7v2m0 2v1m0 2v2m0 2v1m0 4v1m0 1v1m0 9v1m0 3v1m0 3v1m0 2v1m0 5v1m0 3v1m0 1v1m0 3v1M4.5 0v1m0 3v2m0 2v1m0 1v1m0 9v1m0 1v1m0 5v2m0 5v1m0 7v2m0 3v1m0 5v1m0 1v2m0 3v1m0 1v1m0 2v1m0 7v1M5.5 4v1m0 16v1m0 2v3m0 1v1m0 3v1m0 10v1m0 1v1m0 1v1m0 1v1m0 1v2m0 4v1m0 5v2m0 1v1m0 2v1m0 3v2m0 5v1M6.5 10v1m0 6v1m0 2v1m0 2v2m0 3v1m0 4v1m0 5v1m0 7v1m0 7v2m0 2v1m0 4v1m0 2v1m0 5v2m0 4v1M7.5 0v1m0 15v1m0 4v1m0 5v1m0 26v2m0 4v1m0 3v1m0 1v2m0 7v2M8.5 3v4m0 5v1m0 1v1m0 3v1m0 2v1m0 3v2m0 1v1m0 5v1m0 2v1m0 2v1m0 1v2m0 6v2m0 3v1m0 1v1m0 2v1m0 1v1m0 1v1m0 5v3m0 3v2M9.5 7v1m0 3v1m0 2v2m0 6v2m0 1v2m0 3v3m0 2v2m0 3v2m0 7v1m0 5v1m0 1v1m0 2v1m0 2v1m0 5v2m0 1v2m0 3v1m0 3v1M10.5 1v1m0 2v1m0 4v2m0 4v1m0 8v1m0 4v1m0 1v3m0 6v1m0 13v1m0 1v1m0 6v1m0 4v1m0 1v1m0 1v1M11.5 0v1m0 10v1m0 4v1m0 4v2m0 2v1m0 3v1m0 1v1m0 7v1m0 6v1m0 10v1m0 2v1m0 5v1m0 1v1m0 4v1m0 1v1m0 2v3M12.5 1v3m0 13v2m0 4v1m0 6v1m0 5v1m0 7v1m0 3v1m0 1v1m0 5v1m0 1v2m0 2v1m0 5v1m0 1v2m0 4v1m0 4v2M13.5 0v1m0 1v2m0 5v2m0 5v1m0 3v2m0 3v1m0 3v1m0 2v1m0 5v1m0 1v1m0 4v1m0 3v1m0 2v1m0 7v1m0 6v1m0 5v2m0 5v1M14.5 1v3m0 4v2m0 2v1m0 3v1m0 8v1m0 1v2m0 10v1m0 1v3m0 3v1m0 9v1m0 4v1m0 3v1m0 1v1m0 4v1m0 4v1m0 3v1M15.5 2v1m0 1v1m0 2v3m0 6v1m0 9v1m0 6v3m0 1v2m0 3v1m0 2v1m0 6v2m0 2v1m0 1v2m0 3v1m0 2v1m0 13v3M16.5 4v1m0 2v1m0 4v2m0 3v2m0 2v1m0 4v1m0 2v1m0 7v3m0 5v1m0 1v1m0 3v2m0 4v2m0 6v2m0 2v1m0 2v1m0 7v1m0 1v1M17.5 1v1m0 1v1m0 1v3m0 1v2m0 6v1m0 4v1m0 3v2m0 11v1m0 3v1m0 3v1m0 10v1m0 3v2m0 12v1m0 1v1M18.5 4v1m0 1v1m0 1v2m0 2v1m0 1v3m0 5v1m0 9v2m0 5v3m0 2v3m0 2v1m0 2v1m0 3v1m0 1v1m0 5v1m0 1v1m0 4v1m0 10v1M19.5 9v1m0 2v1m0 1v1m0 6v1m0 4v1m0 13v1m0 5v2m0 2v1m0 5v2m0 1v1m0 1v2m0 1v1m0 1v3m0 5v1m0 2v2M20.5 3v1m0 8v1m0 2v1m0 2v1m0 3v1m0 1v3m0 1v1m0 3v1m0 8v1m0 8v2m0 1v1m0 1v2m0 11v1m0 1v2m0 1v1m0 1v2m0 5v1M21.5 2v1m0 1v1m0 7v1m0 1v2m0 1v1m0 5v2m0 4v2m0 2v1m0 1v1m0 7v1m0 1v1m0 3v2m0 1v1m0 2v1m0 3v1m0 3v2m0 10v1m0 1v1m0 3v1M22.5 1v1m0 5v2m0 1v2m0 3v1m0 1v2m0 2v1m0 1v1m0 2v1m0 1v1m0 3v1m0 1v1m0 4v1m0 2v1m0 1v1m0 3v3m0 2v1m0 2v3m0 3v1m0 2v2m0 2v1m0 2v1m0 7v1M23.5 15v1m0 6v1m0 2v2m0 1v3m0 1v1m0 1v1m0 8v1m0 2v1m0 5v1m0 5v1m0 1v1m0 7v1m0 3v1m0 2v2m0 4v1M24.5 1v1m0 8v2m0 7v2m0 3v1m0 1v1m0 1v2m0 3v1m0 2v1m0 3v1m0 3v1m0 6v2m0 7v1m0 1v2m0 10v1m0 1v3m0 1v1M25.5 1v1m0 1v2m0 3v1m0 1v1m0 1v1m0 2v2m0 4v1m0 1v1m0 3v1m0 6v1m0 1v1m0 4v1m0 6v2m0 1v1m0 2v3m0 5v1m0 3v1m0 1v2m0 3v2m0 2v1m0 4v1M26.5 0v3m0 1v1m0 1v3m0 1v1m0 6v1m0 3v1m0 1v1m0 5v1m0 3v1m0 3v1m0 15v1m0 1v1m0 2v3m0 3v1m0 3v1m0 1v1m0 4v1m0 4v3M27.5 1v1m0 11v2m0 5v2m0 6v1m0 3v1m0 2v1m0 1v1m0 3v1m0 3v1m0 2v1m0 2v1m0 13v1m0 1v1m0 5v2m0 2v1m0 1v1M28.5 0v2m0 4v1m0 1v1m0 7v1m0 3v2m0 3v1m0 2v2m0 2v1m0 3v1m0 4v1m0 5v2m0 2v1m0 11v1m0 1v1m0 9v1m0 4v1M29.5 1v2m0 6v1m0 8v1m0 3v2m0 1v2m0 1v2m0 5v2m0 3v1m0 1v1m0 2v1m0 1v2m0 3v3m0 1v2m0 1v2m0 10v2m0 1v1m0 2v1m0 1v1m0 1v1M30.5 0v1m0 4v2m0 2v2m0 1v1m0 12v1m0 6v1m0 4v5m0 1v1m0 6v1m0 4v1m0 1v2m0 1v1m0 8v1m0 10v1M31.5 2v1m0 3v1m0 7v4m0 1v1m0 3v1m0 12v1m0 1v1m0 2v1m0 3v1m0 8v1m0 5v1m0 3v4m0 2v1m0 6v3M32.5 2v2m0 6v1m0 4v2m0 17v1m0 2v1m0 5v1m0 1v2m0 2v1m0 1v1m0 1v1m0 12v1m0 1v1m0 3v1m0 2v1m0 4v1M33.5 3v1m0 2v1m0 3v1m0 11v1m0 4v1m0 2v1m0 5v1m0 7v2m0 5v1m0 4v1m0 5v1m0 1v1m0 3v3m0 1v1M34.5 2v1m0 6v1m0 1v1m0 1v1m0 3v1m0 1v1m0 2v1m0 8v2m0 2v1m0 1v1m0 5v1m0 1v1m0 7v1m0 2v1m0 14v1m0 5v2m0 3v1M35.5 4v1m0 4v1m0 12v1m0 1v1m0 2v1m0 5v2m0 16v1m0 13v1m0 7v1m0 2v2M36.5 0v1m0 8v1m0 9v1m0 20v2m0 8v1m0 4v1m0 3v1m0 1v1m0 6v1m0 1v1M37.5 2v1m0 3v3m0 4v1m0 3v1m0 5v2m0 9v1m0 2v1m0 11v1m0 1v1m0 9v1m0 7v1M38.5 4v1m0 5v1m0 7v1m0 1v1m0 4v2m0 9v1m0 8v1m0 12v2m0 8v1m0 11v1M39.5 4v2m0 7v1m0 1v1m0 2v1m0 1v2m0 1v1m0 14v1m0 7v2m0 13v1m0 5v1M40.5 17v1m0 10v1m0 7v2m0 1v1m0 4v1m0 3v1m0 2v3m0 3v1m0 3v1m0 20v1M41.5 2v1m0 3v1m0 2v1m0 28v1m0 4v2m0 2v1m0 16v1m0 3v1m0 5v1M42.5 11v1m0 6v1m0 8v1m0 9v1m0 5v1m0 6v1m0 4v1M43.5 12v1m0 3v1m0 3v1m0 15v1m0 1v1m0 3v1m0 5v1m0 11v1m0 5v2m0 1v1M44.5 7v1m0 8v1m0 12v1m0 20v1m0 2v1m0 13v2m0 9v1m0 3v1M45.5 5v1m0 19v1m0 1v1m0 35v2m0 1v1m0 9v1M46.5 3v1m0 1v1m0 2v1m0 7v1m0 2v1m0 33v1m0 11v1m0 8v1M47.5 6v1m0 27v1m0 14v1m0 3v1m0 23v1M48.5 5v1m0 17v1m0 17v1m0 2v1m0 13v1m0 2v1m0 2v1m0 10v1M49.5 3v1m0 7v1m0 9v1m0 2v1m0 43v1m0 1v1M50.5 9v1m0 21v1m0 6v1m0 2v1m0 3v1m0 3v2m0 2v1m0 9v1m0 16v1m0 1v1M51.5 5v3m0 15v1m0 1v1m0 13v2m0 4v1m0 15v1m0 10v1m0 1v1m0 2v1M52.5 1v2m0 5v1m0 10v2m0 5v1m0 1v1m0 3v1m0 4v1m0 3v1m0 1v1m0 7v1m0 2v1m0 4v1m0 6v1m0 3v1M53.5 4v1m0 23v1m0 9v2m0 6v1m0 3v1m0 4v1m0 3v1m0 1v1m0 2v1m0 2v1m0 9v1M54.5 2v2m0 2v3m0 5v1m0 1v1m0 16v1m0 1v1m0 12v2m0 2v1m0 8v2m0 6v1m0 6v1M55.5 8v1m0 9v1m0 1v1m0 4v1m0 7v1m0 2v1m0 12v1m0 4v1m0 2v1m0 2v1m0 6v1M56.5 11v1m0 4v1m0 4v1m0 4v1m0 12v1m0 8v1m0 12v1m0 1v1M57.5 8v1m0 3v1m0 1v1m0 7v1m0 3v1m0 4v1m0 1v1m0 26v1m0 7v1m0 4v1m0 6v2M58.5 5v1m0 11v1m0 3v1m0 7v1m0 9v2m0 9v1M59.5 3v1m0 1v1m0 3v1m0 12v1m0 3v1m0 9v1m0 2v1m0 1v1m0 10v1m0 4v1m0 1v4M60.5 1v1m0 9v1m0 8v1m0 2v2m0 10v2m0 9v1m0 13v1m0 1v1m0 5v1M61.5 0v1m0 7v1m0 10v1m0 13v1m0 7v2m0 2v3m0 6v2m0 15v1m0 7v1M62.5 4v2m0 1v1m0 4v2m0 2v2m0 1v1m0 4v1m0 3v1m0 10v1m0 3v1m0 5v1m0 27v1m0 3v1M63.5 2v3m0 7v1m0 12v1m0 6v1m0 4v1m0 3v1m0 7v1m0 1v1m0 26v1M64.5 11v1m0 5v1m0 1v1m0 2v1m0 7v2m0 4v2m0 5v1m0 7v1m0 4v1m0 14v1M65.5 11v1m0 1v1m0 1v2m0 19v1m0 14v2m0 2v1m0 6v1m0 3v1m0 9v1m0 4v1M66.5 22v2m0 9v1m0 1v1m0 18v1m0 3v1m0 6v1m0 7v2m0 2v1m0 4v1M67.5 6v1m0 7v1m0 3v1m0 2v1m0 5v1m0 2v1m0 2v2m0 1v1m0 2v1m0 3v1m0 7v1m0 7v1m0 3v1m0 4v2m0 4v1M68.5 1v1m0 15v2m0 3v1m0 13v1m0 2v1m0 5v1m0 4v1m0 8v1m0 7v1m0 1v1m0 8v1M69.5 0v2m0 2v1m0 9v1m0 11v1m0 10v2m0 2v2m0 28v1m0 3v1m0 5v1M70.5 9v2m0 13v1m0 6v1m0 2v1m0 3v1m0 4v1m0 3v1m0 1v1m0 3v1m0 7v1m0 1v1m0 9v1m0 2v2M71.5 1v1m0 8v1m0 7v1m0 1v4m0 3v1m0 2v1m0 14v1m0 3v1m0 3v1m0 7v1m0 4v1m0 4v1m0 1v1M72.5 6v1m0 1v1m0 6v1m0 10v1m0 4v3m0 1v1m0 1v2m0 7v2m0 2v1m0 5v1m0 4v1m0 5v1m0 4v1m0 1v1m0 3v1m0 2v1M73.5 8v1m0 1v1m0 8v1m0 2v1m0 18v1m0 2v1m0 20v1M74.5 5v1m0 7v1m0 12v1m0 1v1m0 3v1m0 35v1m0 7v1M75.5 2v1m0 2v1m0 2v1m0 12v1m0 3v2m0 7v1m0 3v2m0 13v1m0 3v1m0 1v1m0 8v1m0 7v1M76.5 7v1m0 6v1m0 11v1m0 7v1m0 3v1m0 13v1m0 8v1m0 6v1m0 8v1m0 1v1M77.5 0v1m0 16v1m0 15v1m0 15v1m0 3v2m0 13v2m0 9v1m0 1v1M78.5 1v1m0 2v1m0 4v1m0 2v1m0 3v1m0 7v1m0 12v2m0 5v2m0 8v1m0 1v1m0 7v1m0 1v2m0 1v1m0 3v2m0 5v1m0 1v1M79.5 3v1m0 8v1m0 2v1m0 1v2m0 6v1m0 4v1m0 17v2m0 6v1m0 2v1m0 7v1m0 8v2"/>
<path stroke="#5d8fcc" d="M0.5 13v2m0 1v3m0 2v1m0 1v1m0 3v1m0 1v1m0 1v2m0 1v2m0 5v1m0 8v1m0 6v1m0 6v1m0 1v1m0 3v1m0 1v2m0 1v1m0 6v1M1.5 0v1m0 4v1m0 3v2m0 4v1m0 5v2m0 12v1m0 20v2m0 2v3m0 4v1m0 4v1m0 7v3M2.5 2v2m0 15v1m0 1v1m0 2v1m0 3v2m0 1v1m0 9v2m0 1v1m0 4v1m0 11v1m0 2v1m0 6v1m0 1v1m0 2v1m0 1v1m0 3v1M3.5 2v1m0 9v1m0 2v2m0 6v2m0 14v2m0 1v1m0 1v1m0 2v1m0 1v1m0 6v1m0 1v1m0 3v1m0 6v1M4.5 3v1m0 9v1m0 2v2m0 1v1m0 1v1m0 2v1m0 1v1m0 7v1m0 2v1m0 3v2m0 3v1m0 3v1m0 7v1m0 3v1m0 1v1m0 5v1m0 4v1m0 1v4M5.5 0v2m0 4v1m0 4v3m0 2v2m0 2v1m0 2v1m0 5v1m0 1v1m0 4v1m0 4v1m0 2v1m0 3v1m0 5v1m0 7v1m0 5v1m0 2v1m0 3v1m0 2v1M6.5 1v2m0 4v2m0 5v2m0 2v1m0 6v1m0 4v1m0 15v1m0 2v1m0 3v1m0 3v1m0 2v1m0 4v1m0 4v1m0 1v1m0 5v1M7.5 1v1m0 1v1m0 1v2m0 4v2m0 2v1m0 7v1m0 1v1m0 8v1m0 2v1m0 1v1m0 2v1m0 5v1m0 2v3m0 3v2m0 3v1m0 5v4m0 1v2M8.5 0v1m0 16v1m0 1v1m0 3v2m0 5v1m0 1v2m0 2v1m0 1v1m0 2v1m0 12v1m0 3v1m0 4v1m0 1v1m0 3v1m0 3v2m0 5v1M9.5 2v2m0 1v1m0 4v1m0 8v1m0 9v1m0 3v1m0 3v1m0 1v1m0 3v3m0 4v1m0 1v1m0 15v1m0 2v1m0 2v1m0 4v1M10.5 12v2m0 7v1m0 1v1m0 10v1m0 2v1m0 1v1m0 3v3m0 4v1m0 1v1m0 4v1m0 1v3m0 2v1m0 4v1m0 3v1m0 1v1m0 2v1M11.5 3v2m0 1v2m0 7v1m0 4v1m0 5v1m0 1v1m0 1v1m0 2v1m0 2v1m0 1v1m0 3v1m0 5v1m0 2v2m0 3v1m0 5v2m0 7v1m0 4v1m0 4v1M12.5 0v1m0 5v1m0 1v7m0 7v1m0 2v2m0 1v2m0 2v3m0 2v1m0 1v1m0 2v1m0 8v2m0 10v2m0 9v2m0 4v1M13.5 6v1m0 5v2m0 14v1m0 1v2m0 3v1m0 3v1m0 3v2m0 1v1m0 1v1m0 1v2m0 1v2m0 1v1m0 2v1m0 2v1m0 1v2m0 2v2m0 2v1m0 2v1M14.5 6v2m0 3v1m0 1v3m0 1v3m0 1v1m0 8v1m0 1v1m0 3v2m0 6v1m0 3v3m0 7v1m0 10v2m0 1v1m0 1v3m0 3v2M15.5 1v1m0 3v1m0 5v3m0 5v3m0 3v1m0 1v2m0 7v1m0 2v1m0 3v1m0 3v1m0 1v1m0 1v1m0 9v2m0 2v1m0 3v5m0 5v1M16.5 6v1m0 12v2m0 1v1m0 2v1m0 2v1m0 3v1m0 2v1m0 6v1m0 1v1m0 8v1m0 1v2m0 3v2m0 2v1m0 2v1m0 3v1m0 2v4m0 1v1m0 1v1M17.5 2v1m0 5v1m0 6v1m0 8v2m0 5v3m0 7v1m0 3v1m0 3v1m0 2v2m0 1v3m0 3v1m0 2v1m0 1v1m0 3v1m0 2v1m0 8v1M18.5 3v1m0 13v2m0 7v1m0 2v1m0 5v3m0 4v1m0 5v1m0 2v1m0 1v1m0 1v1m0 5v2m0 5v2m0 3v1m0 1v1m0 2v1m0 2v1M19.5 0v1m0 1v1m0 1v5m0 4v1m0 1v2m0 1v2m0 2v3m0 6v1m0 1v1m0 3v1m0 1v1m0 2v1m0 8v1m0 6v1m0 1v1m0 11v2m0 2v1m0 2v1m0 2v1M20.5 4v1m0 3v2m0 1v1m0 1v1m0 7v1m0 8v2m0 1v1m0 1v2m0 3v1m0 1v1m0 1v1m0 2v1m0 1v1m0 7v3m0 3v2m0 4v1m0 2v1m0 1v1m0 2v4M21.5 0v1m0 2v1m0 1v3m0 1v1m0 1v1m0 1v1m0 5v1m0 5v1m0 1v1m0 6v1m0 1v1m0 1v3m0 1v1m0 19v1m0 2v1m0 4v1m0 5v1m0 5v1M22.5 3v2m0 7v1m0 9v1m0 6v1m0 1v1m0 3v2m0 1v1m0 2v1m0 1v1m0 2v2m0 4v1m0 2v1m0 4v1m0 3v1m0 2v1m0 2v1m0 2v1m0 5v1M23.5 1v1m0 4v1m0 1v1m0 4v2m0 1v1m0 1v2m0 1v1m0 5v1m0 10v4m0 3v1m0 1v2m0 1v2m0 1v5m0 6v1m0 1v1m0 2v3m0 1v1m0 4v2m0 2v1M24.5 2v1m0 3v1m0 1v1m0 3v1m0 2v2m0 1v1m0 2v3m0 6v3m0 1v1m0 3v2m0 1v2m0 2v1m0 1v3m0 3v1m0 1v2m0 9v1m0 1v2m0 1v1m0 7v1m0 1v2M25.5 6v2m0 3v1m0 6v1m0 3v1m0 1v3m0 3v1m0 2v1m0 3v2m0 1v1m0 2v2m0 1v1m0 12v1m0 3v1m0 8v1m0 6v2M26.5 9v1m0 2v2m0 1v1m0 8v1m0 3v1m0 1v1m0 1v1m0 2v1m0 2v1m0 2v2m0 3v2m0 4v1m0 9v1m0 2v1m0 6v3m0 4v1M27.5 0v1m0 3v2m0 4v2m0 7v1m0 3v5m0 3v1m0 4v1m0 1v3m0 1v2m0 3v1m0 1v2m0 1v1m0 2v1m0 1v1m0 1v4m0 5v1m0 7v1m0 1v1m0 2v2M28.5 2v1m0 1v2m0 1v1m0 2v1m0 1v2m0 3v2m0 3v3m0 1v2m0 2v2m0 1v1m0 3v2m0 3v1m0 1v1m0 1v1m0 2v1m0 2v2m0 1v1m0 1v1m0 1v2m0 5v2m0 1v1m0 2v1m0 3v1m0 2v1m0 1v2M29.5 3v1m0 3v2m0 2v1m0 1v1m0 2v1m0 2v3m0 9v2m0 10v1m0 2v1m0 16v1m0 2v1m0 1v2m0 3v1m0 4v1m0 3v1M30.5 2v2m0 3v2m0 2v1m0 1v1m0 1v2m0 1v7m0 2v4m0 11v1m0 2v1m0 2v1m0 3v1m0 9v1m0 1v2m0 1v1m0 5v2M31.5 0v2m0 2v1m0 3v1m0 2v1m0 1v1m0 8v1m0 1v2m0 2v1m0 2v1m0 1v2m0 2v1m0 2v1m0 1v2m0 5v1m0 1v1m0 7v1m0 1v2m0 5v1m0 3v1m0 1v1m0 7v1M32.5 0v1m0 3v1m0 2v3m0 1v2m0 5v2m0 1v1m0 3v2m0 3v1m0 1v2m0 1v2m0 1v1m0 2v1m0 5v2m0 1v1m0 1v1m0 1v1m0 1v1m0 1v1m0 1v1m0 2v1m0 1v1m0 1v1m0 3v1m0 2v1m0 7v1M33.5 13v1m0 4v1m0 1v1m0 2v2m0 4v1m0 2v1m0 2v1m0 3v1m0 1v3m0 2v1m0 2v2m0 1v1m0 1v2m0 1v1m0 2v1m0 2v1m0 9v1m0 2v1m0 5v1M34.5 4v1m0 1v3m0 3v1m0 1v2m0 7v1m0 5v1m0 9v1m0 4v1m0 3v2m0 4v1m0 2v1m0 1v1m0 8v1m0 1v1m0 1v4M35.5 2v1m0 4v1m0 2v1m0 4v1m0 2v1m0 7v1m0 1v1m0 2v1m0 7v1m0 1v1m0 3v1m0 2v2m0 2v3m0 4v1m0 2v1m0 1v1m0 3v1m0 1v1m0 4v1m0 4v1M36.5 1v1m0 4v1m0 1v1m0 1v1m0 3v1m0 9v1m0 1v1m0 12v1m0 3v1m0 8v1m0 3v1m0 6v1m0 7v1m0 1v1m0 8v1M37.5 4v1m0 4v1m0 11v1m0 7v2m0 5v1m0 2v1m0 6v1m0 5v1m0 2v1m0 7v1m0 11v1m0 1v1M38.5 3v1m0 10v1m0 9v1m0 25v1m0 2v1m0 8v3m0 1v1m0 10v1M39.5 11v1m0 4v1m0 9v1m0 9v1m0 3v2m0 9v1m0 1v1m0 2v1m0 2v1m0 3v1m0 4v4M40.5 2v1m0 7v1m0 2v1m0 6v1m0 2v1m0 5v1m0 1v1m0 8v1m0 21v2m0 1v2m0 7v1m0 5v1M41.5 0v1m0 2v2m0 3v1m0 1v1m0 15v1m0 1v1m0 5v1m0 10v1m0 12v1m0 12v1m0 3v1m0 2v1m0 3v1M42.5 1v1m0 2v1m0 1v1m0 5v1m0 1v1m0 4v1m0 8v1m0 3v1m0 2v1m0 6v1m0 6v1m0 13v1m0 6v1m0 5v1m0 1v1M43.5 6v1m0 7v1m0 11v1m0 5v1m0 4v1m0 6v1m0 25v2M44.5 1v1m0 12v1m0 8v1m0 7v1m0 3v1m0 37v4M45.5 0v1m0 3v1m0 11v1m0 19v2m0 1v1m0 16v1m0 5v1m0 11v1m0 4v1m0 2v1M46.5 12v1m0 1v1m0 14v2m0 3v1m0 24v1m0 1v1M47.5 17v1m0 5v1m0 4v1m0 15v1m0 15v1m0 2v1M48.5 0v1m0 17v1m0 13v1m0 1v1m0 31v1m0 9v1M49.5 1v1m0 5v1m0 14v1m0 3v1m0 1v1m0 22v1m0 5v1m0 6v1m0 1v1m0 2v1m0 6v1M50.5 2v1m0 7v2m0 2v1m0 1v1m0 3v1m0 12v1m0 13v1m0 3v1m0 2v1m0 4v1m0 14v1M51.5 14v2m0 20v1m0 1v1m0 25v1m0 3v1m0 4v1M52.5 0v1m0 8v1m0 1v2m0 9v1m0 1v1m0 31v1m0 11v1m0 7v1m0 5v1M53.5 2v1m0 4v1m0 1v1m0 8v1m0 6v2m0 13v3m0 4v1m0 5v1m0 3v2m0 1v1m0 1v1m0 3v1m0 13v1m0 1v1M54.5 4v1m0 18v1m0 3v1m0 2v1m0 7v1m0 7v1m0 3v1m0 5v2m0 6v1m0 5v2m0 3v1M55.5 10v2m0 15v1m0 10v1m0 3v2m0 1v1m0 5v1m0 7v1m0 1v1m0 4v1m0 3v2m0 7v4M56.5 0v1m0 5v1m0 6v1m0 5v1m0 9v2m0 1v1m0 2v1m0 6v1m0 7v3m0 2v1m0 4v1m0 1v1m0 1v1m0 3v2M57.5 1v1m0 1v1m0 2v2m0 3v1m0 1v1m0 5v1m0 8v1m0 6v1m0 1v1m0 3v1m0 1v1m0 3v2m0 7v1m0 7v1m0 1v2m0 3v1m0 5v1M58.5 11v1m0 2v1m0 16v2m0 2v1m0 1v2m0 2v2m0 2v1m0 2v1m0 5v1m0 6v1m0 4v2m0 2v1m0 1v2m0 4v1M59.5 1v1m0 2v1m0 3v1m0 1v1m0 12v1m0 8v1m0 5v1m0 9v1m0 1v1m0 5v1m0 6v1m0 4v1m0 1v2m0 2v1m0 3v1m0 1v1M60.5 0v1m0 7v1m0 7v2m0 8v2m0 5v2m0 8v1m0 3v1m0 2v1m0 1v1m0 1v1m0 3v1m0 7v2m0 8v1M61.5 20v1m0 3v1m0 1v2m0 4v1m0 5v1m0 1v1m0 8v1m0 7v1m0 10v1m0 8v1m0 2v2M62.5 1v3m0 5v2m0 9v3m0 8v4m0 11v1m0 13v3m0 2v1m0 6v2M63.5 5v1m0 4v1m0 3v1m0 2v1m0 1v1m0 4v1m0 11v1m0 15v1m0 15v2M64.5 4v1m0 5v1m0 1v1m0 1v2m0 12v1m0 16v2m0 13v1m0 4v1m0 1v1m0 4v1m0 1v1M65.5 0v1m0 5v1m0 3v1m0 1v1m0 11v1m0 8v1m0 3v1m0 4v1m0 3v1m0 23v1m0 4v1m0 3v1M66.5 4v3m0 7v1m0 4v1m0 11v1m0 7v3m0 2v3m0 15v1m0 6v1m0 8v1M67.5 1v1m0 6v2m0 12v1m0 3v1m0 13v1m0 4v1m0 4v1m0 4v1m0 1v1m0 7v1m0 9v1M68.5 0v1m0 2v1m0 1v1m0 1v1m0 8v1m0 7v1m0 7v1m0 4v1m0 3v1m0 1v1m0 11v1m0 4v1m0 21v1M69.5 8v1m0 9v1m0 12v1m0 11v1m0 13v1m0 3v2m0 3v2m0 11v1M70.5 1v1m0 2v1m0 2v2m0 7v1m0 1v1m0 1v2m0 3v1m0 3v1m0 2v2m0 8v1m0 1v1m0 9v2m0 8v1m0 3v2m0 1v2m0 1v1m0 5v1M71.5 2v1m0 3v2m0 7v1m0 1v1m0 6v2m0 2v2m0 2v1m0 6v4m0 1v1m0 1v3m0 1v1m0 3v2m0 6v2m0 1v1m0 1v4m0 1v1m0 2v4m0 1v2M72.5 1v1m0 3v1m0 1v1m0 1v1m0 2v3m0 5v6m0 2v2m0 9v3m0 3v1m0 6v1m0 4v2m0 1v1m0 1v1m0 5v1m0 1v1m0 2v1m0 1v1m0 1v1m0 1v1M73.5 23v1m0 10v1m0 20v1m0 8v1M74.5 16v1m0 1v1m0 2v1m0 8v1m0 5v1m0 2v1m0 7v1m0 8v1m0 17v1M75.5 3v1m0 5v1m0 2v2m0 3v1m0 6v1m0 3v2m0 3v1m0 18v1m0 7v1m0 3v1m0 5v1m0 7v1m0 3v1M76.5 0v2m0 1v2m0 6v1m0 1v1m0 10v1m0 2v1m0 8v1m0 6v1m0 5v1m0 15v1m0 9v1M77.5 2v2m0 8v2m0 7v1m0 1v1m0 12v1m0 7v1m0 7v1m0 2v1m0 1v1m0 1v1m0 1v1m0 4v1m0 3v1m0 5v2M78.5 0v1m0 2v1m0 18v1m0 7v1m0 15v1m0 3v1m0 6v1m0 3v1m0 9v2m0 2v1m0 1v1m0 1v1M79.5 1v2m0 1v1m0 4v2m0 10v1m0 9v2m0 1v1m0 4v1m0 6v1m0 4v2m0 4v1m0 2v1m0 3v1m0 4v1"/>
<path stroke="#8fb8df" d="M0.5 2v1m0 1v1m0 2v2m0 13v1m0 7v1m0 8v1m0 7v1m0 1v1m0 2v2m0 4v1m0 4v1m0 1v1m0 5v1m0 7v3M1.5 13v1m0 5v2m0 7v2m0 2v2m0 2v1m0 5v1m0 12v1m0 2v1m0 6v1m0 2v1m0 2v1m0 1v1m0 2v1m0 1v2M2.5 0v1m0 6v2m0 2v1m0 2v1m0 17v1m0 5v1m0 8v2m0 2v1m0 4v1m0 12v2M3.5 4v1m0 2v1m0 2v1m0 9v1m0 4v1m0 7v1m0 3v1m0 8v1m0 5v1m0 1v1m0 2v1m0 2v1m0 4v1m0 1v1m0 9v1M4.5 1v1m0 4v2m0 1v1m0 1v2m0 1v1m0 3v1m0 6v1m0 13v1m0 7v1m0 11v1m0 11v2M5.5 5v1m0 1v1m0 10v2m0 7v1m0 7v1m0 1v2m0 3v1m0 7v1m0 5v1m0 3v2m0 8v1m0 5v2M6.5 0v1m0 3v2m0 5v1m0 4v1m0 2v1m0 1v1m0 9v2m0 3v1m0 3v1m0 7v1m0 1v1m0 3v1m0 3v1m0 23v1M7.5 18v1m0 11v1m0 1v1m0 5v1m0 2v1m0 4v1m0 2v2m0 8v1m0 3v1m0 13v3M8.5 9v1m0 5v1m0 6v1m0 4v1m0 17v1m0 1v3m0 6v1m0 4v1m0 20v1M9.5 1v1m0 4v1m0 2v1m0 3v1m0 2v1m0 3v1m0 13v1m0 13v1m0 2v1m0 2v1m0 1v1m0 8v2m0 9v1M10.5 0v1m0 5v1m0 7v1m0 1v1m0 2v1m0 2v1m0 4v1m0 2v1m0 4v2m0 1v1m0 2v1m0 4v1m0 1v2m0 3v1m0 26v3M11.5 1v1m0 8v1m0 1v2m0 4v1m0 8v1m0 4v1m0 2v1m0 5v1m0 3v1m0 4v1m0 4v1m0 3v1m0 4v2m0 1v1m0 4v1M12.5 4v2m0 13v2m0 6v1m0 12v2m0 7v1m0 3v2m0 2v1m0 2v1m0 5v2m0 4v1m0 4v1M13.5 7v1m0 6v2m0 1v1m0 1v1m0 4v1m0 1v1m0 7v1m0 1v1m0 10v1m0 10v1m0 2v1m0 8v1m0 6v1m0 3v2M14.5 5v1m0 17v1m0 7v1m0 1v1m0 4v1m0 16v2m0 2v1m0 1v1m0 2v1m0 6v1M15.5 3v1m0 20v1m0 4v2m0 13v1m0 19v1m0 3v1m0 7v1m0 1v1M16.5 0v1m0 1v2m0 7v1m0 2v1m0 8v1m0 17v1m0 21v1m0 4v1m0 4v1m0 4v1M17.5 0v1m0 3v1m0 6v3m0 14v2m0 6v1m0 3v1m0 1v1m0 1v1m0 14v1m0 5v1m0 2v1m0 3v1m0 6v2M18.5 1v1m0 3v1m0 5v1m0 1v1m0 9v1m0 6v2m0 11v1m0 6v1m0 3v1m0 2v1m0 1v1m0 5v1m0 1v1m0 9v1M19.5 10v2m0 13v1m0 1v1m0 1v1m0 2v1m0 1v1m0 3v1m0 9v1m0 3v1m0 2v1m0 7v1m0 6v1m0 9v1M20.5 1v2m0 4v1m0 2v1m0 5v1m0 2v2m0 8v1m0 7v1m0 5v1m0 2v1m0 1v1m0 13v1M21.5 16v1m0 1v1m0 18v1m0 8v3m0 7v1m0 1v1m0 1v2m0 5v2m0 3v1m0 1v1m0 3v1M22.5 0v1m0 5v1m0 9v1m0 3v1m0 6v1m0 2v1m0 6v1m0 7v1m0 13v1m0 11v1m0 5v1m0 3v2M23.5 0v1m0 3v1m0 6v2m0 10v2m0 6v1m0 30v1M24.5 0v1m0 8v1m0 33v1m0 6v1m0 7v1m0 5v1m0 7v1M25.5 0v1m0 1v1m0 28v1m0 15v1m0 9v2m0 1v2m0 2v1m0 5v1m0 4v2M26.5 18v1m0 3v1m0 20v2m0 4v1m0 4v1m0 2v1m0 3v1m0 5v1m0 3v1m0 4v1M27.5 7v2m0 7v3m0 11v1m0 15v1m0 6v1m0 9v2m0 4v1m0 1v1m0 8v1M28.5 11v1m0 2v1m0 4v1m0 41v1m0 2v1m0 5v1m0 2v1m0 3v2M29.5 6v1m0 5v1m0 1v2m0 8v1m0 5v1m0 2v1m0 3v3m0 4v1m0 4v1m0 11v1m0 2v2m0 14v1M30.5 1v1m0 2v1m0 9v1m0 11v1m0 8v2m0 7v1m0 8v1m0 18v1m0 4v3m0 2v1M31.5 5v1m0 21v1m0 7v1m0 12v1m0 1v1m0 2v1m0 2v1M32.5 5v1m0 14v1m0 1v1m0 1v1m0 6v1m0 12v1m0 10v1m0 1v1m0 1v1m0 4v1m0 4v1m0 6v1m0 1v2m0 1v1M33.5 21v1m0 6v1m0 11v1m0 7v1m0 4v1m0 7v1m0 5v1m0 10v2m0 1v1M34.5 1v1m0 3v1m0 10v1m0 3v2m0 5v2m0 5v1m0 3v1m0 3v1m0 7v1m0 7v1m0 2v1m0 2v1m0 2v1m0 1v1m0 6v1m0 4v1M35.5 0v2m0 4v1m0 12v3m0 13v1m0 21v1m0 2v1m0 5v2m0 3v2m0 1v1m0 6v2M36.5 4v1m0 6v1m0 10v1m0 4v1m0 2v2m0 1v1m0 2v1m0 1v1m0 3v1m0 1v1m0 8v1m0 3v1m0 8v2m0 1v1m0 2v1m0 3v2M37.5 0v1m0 2v1m0 7v1m0 4v1m0 3v1m0 10v2m0 5v1m0 8v1m0 9v1m0 1v1m0 2v1m0 4v1m0 3v1m0 1v2m0 7v1M38.5 6v2m0 3v2m0 8v1m0 1v1m0 3v1m0 3v1m0 2v1m0 20v3m0 3v1m0 7v2m0 2v1M39.5 8v1m0 1v1m0 1v1m0 1v1m0 4v1m0 9v1m0 1v1m0 3v1m0 9v1m0 4v1m0 1v1m0 2v1m0 2v1m0 1v1M40.5 0v1m0 3v1m0 1v2m0 7v1m0 5v1m0 8v1m0 2v1m0 4v1m0 7v1m0 9v1m0 3v1m0 3v1m0 2v1m0 1v1m0 7v1m0 3v1M41.5 1v1m0 5v1m0 3v1m0 1v1m0 5v2m0 1v1m0 1v1m0 2v1m0 1v1m0 3v1m0 3v1m0 2v1m0 7v1m0 2v1m0 3v1m0 1v1m0 1v1m0 3v1m0 1v1m0 1v1m0 12v1M42.5 0v1m0 23v1m0 1v1m0 12v2m0 3v2m0 1v2m0 8v1m0 6v1m0 1v1m0 1v1m0 13v1M43.5 3v1m0 5v1m0 1v1m0 12v1m0 3v1m0 5v2m0 3v2m0 5v1m0 8v1m0 5v1M44.5 9v1m0 3v1m0 3v3m0 8v1m0 1v1m0 2v1m0 2v1m0 2v1m0 1v1m0 2v1m0 3v1m0 2v1m0 2v1m0 6v2m0 1v2m0 5v1M45.5 6v1m0 2v3m0 2v2m0 4v1m0 3v1m0 1v1m0 6v1m0 7v1m0 1v1m0 5v2m0 2v2m0 3v3m0 11v1m0 8v1M46.5 0v2m0 4v1m0 10v1m0 5v1m0 4v1m0 3v1m0 3v1m0 4v1m0 3v1m0 3v1m0 1v1m0 2v1m0 2v2m0 7v2m0 2v2m0 7v1m0 1v1M47.5 0v1m0 1v1m0 2v1m0 1v2m0 2v1m0 14v1m0 5v2m0 7v1m0 1v1m0 4v1m0 2v2m0 1v1m0 1v1m0 1v1m0 2v1m0 2v2m0 4v1m0 3v1m0 1v1m0 3v1M48.5 7v1m0 2v2m0 9v1m0 16v3m0 1v1m0 5v1m0 4v1m0 1v1m0 3v1m0 8v2m0 3v1m0 4v2M49.5 9v2m0 1v1m0 4v1m0 22v1m0 2v2m0 1v1m0 12v1m0 13v2m0 3v1m0 1v1M50.5 5v2m0 1v1m0 9v1m0 2v1m0 13v3m0 14v1m0 4v1m0 3v1m0 6v1m0 1v1m0 4v3m0 1v1M51.5 2v1m0 1v1m0 5v2m0 4v3m0 10v1m0 1v1m0 9v1m0 5v1m0 2v3m0 2v1m0 2v3m0 5v1m0 12v1M52.5 4v1m0 5v1m0 7v1m0 2v1m0 1v1m0 1v1m0 7v1m0 13v1m0 4v1m0 2v1m0 22v3M53.5 5v2m0 1v1m0 1v2m0 7v1m0 3v1m0 3v1m0 5v1m0 3v1m0 7v1m0 2v1m0 5v1m0 8v1m0 11v2m0 1v1M54.5 9v2m0 1v1m0 4v1m0 16v1m0 1v1m0 2v1m0 1v2m0 1v1m0 9v2m0 4v1m0 16v1m0 1v1M55.5 0v1m0 5v1m0 6v1m0 5v1m0 1v1m0 7v2m0 15v2m0 14v1m0 5v2m0 2v2M56.5 1v1m0 3v1m0 6v1m0 12v1m0 11v2m0 1v1m0 2v1m0 9v2m0 1v1m0 1v2m0 7v1m0 7v1m0 1v3M57.5 4v1m0 12v2m0 8v1m0 16v1m0 5v2m0 3v1m0 5v1m0 1v1m0 6v1m0 1v1m0 2v2M58.5 2v1m0 5v1m0 4v1m0 2v1m0 1v1m0 24v2m0 11v1m0 1v1m0 3v2m0 1v1m0 5v1m0 3v1m0 5v1M59.5 0v1m0 5v1m0 6v1m0 3v2m0 2v1m0 6v1m0 5v2m0 11v1m0 16v1m0 1v1m0 9v1m0 4v1M60.5 5v1m0 6v1m0 6v1m0 2v1m0 2v1m0 3v2m0 18v1m0 11v1m0 2v1M61.5 2v2m0 1v1m0 1v1m0 1v1m0 2v2m0 1v2m0 6v1m0 1v1m0 8v1m0 8v2m0 5v1m0 2v1m0 9v1m0 2v2m0 4v2M62.5 15v1m0 7v1m0 2v1m0 3v1m0 16v1m0 6v2m0 1v1m0 16v1m0 1v1m0 2v1M63.5 1v1m0 9v1m0 10v1m0 3v2m0 2v1m0 3v1m0 4v2m0 2v2m0 3v1m0 8v1m0 5v1m0 2v2m0 7v1m0 1v1m0 3v1M64.5 2v1m0 3v2m0 1v1m0 6v1m0 4v1m0 5v1m0 6v2m0 14v1m0 15v1m0 8v1m0 3v1m0 2v1M65.5 5v1m0 3v1m0 8v1m0 7v2m0 1v1m0 9v1m0 3v1m0 5v1m0 8v1m0 1v1m0 8v1M66.5 1v2m0 6v1m0 6v1m0 4v1m0 12v1m0 18v1m0 6v1m0 2v1m0 15v1M67.5 11v1m0 1v1m0 1v1m0 9v1m0 5v1m0 3v1m0 1v1m0 3v1m0 10v1m0 8v2m0 8v3m0 2v2m0 2v1m0 1v1M68.5 6v1m0 7v1m0 19v1m0 3v1m0 18v1m0 3v1m0 1v1m0 13v1M69.5 6v1m0 3v2m0 5v1m0 14v1m0 3v1m0 2v1m0 5v1m0 6v1m0 7v1m0 4v1m0 4v1m0 2v1m0 4v1m0 1v1M70.5 0v1m0 18v1m0 6v1m0 23v1m0 5v1m0 1v1m0 7v1m0 8v1M71.5 11v1M72.5 10v1m0 8v1M73.5 67v1M74.5 23v1m0 5v1m0 5v1m0 12v1m0 10v1m0 13v1m0 5v1M75.5 11v1m0 2v1m0 4v1m0 11v1m0 3v1m0 6v1m0 1v1m0 1v1m0 11v1m0 14v1M76.5 9v1m0 7v3m0 3v1m0 4v1m0 13v1m0 5v1m0 5v1m0 1v1m0 5v1m0 3v1m0 14v1M77.5 6v1m0 3v1m0 14v1m0 1v2m0 2v1m0 15v1m0 8v1m0 3v1m0 11v1m0 1v1M78.5 2v1m0 5v1m0 1v1m0 9v1m0 2v1m0 10v2m0 15v1m0 13v1m0 2v1M79.5 5v1m0 17v1m0 16v1m0 13v1m0 8v1m0 7v1m0 3v1"/>
<path stroke="#c5def0" d="M0.5 1v1m0 1v1m0 2v1m0 19v1m0 10v1m0 5v1m0 1v2m0 4v1m0 10v1m0 4v1m0 1v1M1.5 7v1m0 8v2m0 8v2m0 9v2m0 6v2m0 1v2m0 2v1m0 10v1M2.5 5v1m0 7v1m0 1v3m0 9v1m0 5v3m0 4v1m0 2v1m0 6v1m0 7v1m0 3v1m0 2v1M3.5 8v1m0 4v2m0 33v1m0 1v1m0 2v1m0 10v1m0 3v1m0 4v2m0 5v1M4.5 23v1m0 3v1m0 2v2m0 1v1m0 2v1m0 1v1m0 1v1m0 4v1m0 3v1m0 1v1m0 1v1m0 19v1m0 8v1M5.5 3v1m0 4v3m0 3v2m0 14v1m0 2v1m0 25v1m0 21v1M6.5 3v1m0 8v2m0 13v1m0 1v1m0 4v1m0 3v1m0 2v1m0 1v1m0 1v1m0 5v2m0 8v1m0 4v1m0 1v2m0 6v2M7.5 8v3m0 2v2m0 2v1m0 2v1m0 3v1m0 1v1m0 1v2m0 5v1m0 4v1m0 2v1m0 21v1m0 6v1m0 8v2M8.5 2v1m0 5v1m0 2v1m0 40v1m0 14v1m0 10v2M9.5 0v1m0 7v1m0 12v1m0 2v1m0 28v1m0 4v2m0 7v1m0 7v1m0 2v1m0 3v1M10.5 3v1m0 1v1m0 5v1m0 5v2m0 7v1m0 1v1m0 18v1m0 14v1m0 3v2M11.5 8v1m0 15v1m0 9v1m0 2v1m0 2v1m0 3v1m0 8v1m0 16v1M12.5 7v1m0 8v1m0 4v1m0 2v1m0 6v1m0 6v1m0 4v1m0 2v1m0 31v2M13.5 1v1m0 2v2m0 12v1m0 38v1m0 5v1m0 2v1M14.5 0v1m0 3v1m0 19v1m0 15v1m0 4v1m0 6v1m0 7v1m0 2v1m0 1v1m0 1v1m0 11v1M15.5 6v1m0 3v1m0 3v1m0 2v2m0 4v1m0 7v2m0 7v1m0 5v1m0 1v1m0 5v2m0 4v1m0 6v1M16.5 1v1m0 13v1m0 11v1m0 2v2m0 1v1m0 2v1m0 3v1m0 7v1m0 21v1M17.5 14v1m0 3v2m0 1v1m0 8v1m0 3v2m0 2v1m0 11v1m0 20v1M18.5 0v1m0 1v1m0 17v1m0 4v1m0 34v1m0 2v1m0 8v1m0 1v1m0 1v1m0 3v1M19.5 3v1m0 13v1m0 2v1m0 9v1m0 4v1m0 9v1m0 19v1m0 5v1m0 3v1M20.5 0v1m0 4v2m0 10v1m0 9v1m0 6v1m0 10v1m0 6v1m0 1v1m0 6v1m0 4v1m0 14v1M21.5 1v1m0 6v1m0 11v1m0 1v1m0 3v1m0 1v1m0 3v1m0 8v1m0 9v1m0 2v1m0 14v1m0 3v1m0 6v1M22.5 13v2m0 9v1m0 8v1m0 6v1m0 10v1m0 2v1m0 6v1m0 13v2m0 1v1M23.5 3v1m0 29v1m0 3v1m0 11v1M24.5 7v1m0 6v1m0 10v1m0 9v1m0 10v1m0 7v1m0 6v1m0 5v1M25.5 5v1m0 11v1m0 11v1m0 9v1m0 2v1m0 9v2m0 11v1m0 12v1M26.5 5v1m0 5v1m0 2v1m0 4v1m0 5v1m0 1v1m0 3v1m0 2v1m0 1v1m0 2v2m0 4v1m0 17v1m0 2v1M27.5 2v1m0 6v1m0 12v1m0 6v1m0 14v1m0 11v1m0 9v1m0 8v1M28.5 9v1m0 25v1m0 3v2m0 2v1m0 1v1m0 8v1m0 13v1M29.5 5v1m0 35v1m0 9v1m0 3v1m0 11v1m0 7v2M30.5 17v1m0 16v1m0 11v2m0 1v1m0 6v1m0 4v1m0 1v1m0 6v1M31.5 3v1m0 3v1m0 1v1m0 2v1m0 7v1m0 8v1m0 2v1m0 6v1m0 6v1m0 5v1m0 2v1m0 2v1m0 16v1m0 5v1M32.5 6v1m0 6v2m0 12v1m0 1v1m0 10v1m0 1v1m0 18v2M33.5 1v1m0 3v1m0 1v1m0 7v2m0 2v1m0 5v2m0 7v1m0 30v1m0 8v1m0 2v1M34.5 3v1m0 14v1m0 17v1m0 28v1m0 13v2M35.5 3v1m0 12v1m0 13v1m0 12v1m0 14v1m0 2v1m0 17v1M36.5 5v1m0 10v1m0 4v1m0 1v1m0 8v1m0 2v1m0 1v1m0 7v1m0 3v1m0 4v1m0 5v1m0 3v1m0 9v1m0 3v2m0 1v1M37.5 1v1m0 12v2m0 9v1m0 1v2m0 11v2m0 1v1m0 4v1m0 7v1m0 1v1m0 6v1m0 2v1m0 7v1m0 3v2M38.5 1v1m0 3v1m0 11v1m0 12v1m0 1v1m0 2v1m0 1v1m0 1v1m0 1v1m0 1v2m0 3v1m0 2v1m0 19v1m0 3v2M39.5 1v2m0 6v1m0 14v2m0 7v1m0 8v1m0 6v1m0 4v1m0 7v1m0 3v1m0 7v1m0 4v1M40.5 3v1m0 4v2m0 15v1m0 1v1m0 7v1m0 7v1m0 5v1m0 4v2m0 2v2m0 8v1m0 2v2m0 3v1m0 2v1M41.5 16v1m0 13v1m0 4v1m0 10v1m0 14v1m0 4v1m0 14v1M42.5 8v1m0 1v1m0 5v2m0 3v3m0 7v1m0 14v1m0 9v1m0 4v2m0 6v1m0 1v2m0 1v1m0 2v1m0 1v1m0 1v1M43.5 0v1m0 4v1m0 1v2m0 4v1m0 1v1m0 3v1m0 1v1m0 11v1m0 11v1m0 3v1m0 2v1m0 3v1m0 6v3m0 11v2m0 1v1M44.5 12v1m0 2v1m0 6v1m0 1v1m0 2v1m0 6v1m0 7v1m0 3v1m0 2v1m0 8v1m0 4v1m0 2v1m0 2v1m0 7v1m0 1v3M45.5 1v1m0 1v1m0 3v1m0 5v1m0 3v1m0 3v1m0 6v1m0 1v1m0 3v2m0 12v1m0 3v1m0 4v1m0 3v1m0 3v1m0 5v1m0 1v1m0 4v1m0 1v1M46.5 11v1m0 6v1m0 1v2m0 3v1m0 1v1m0 5v1m0 1v1m0 3v2m0 28v1m0 5v1M47.5 9v1m0 5v2m0 1v1m0 10v1m0 1v1m0 6v1m0 3v1m0 14v1m0 11v1m0 1v1m0 3v1m0 3v1m0 1v2M48.5 1v1m0 2v1m0 7v1m0 2v3m0 1v2m0 1v1m0 1v1m0 1v1m0 1v1m0 2v1m0 1v1m0 9v1m0 1v3m0 1v1m0 1v1m0 5v1m0 9v1m0 2v1m0 1v1m0 1v1M49.5 0v1m0 12v4m0 2v1m0 7v1m0 1v2m0 1v1m0 3v1m0 11v1m0 3v1m0 8v3m0 1v1m0 13v1m0 2v1M50.5 4v1m0 7v1m0 6v1m0 3v1m0 4v1m0 1v1m0 1v1m0 6v2m0 1v1m0 12v1m0 4v1m0 4v3m0 10v1m0 2v1M51.5 12v1m0 7v1m0 1v1m0 10v1m0 9v1m0 5v1m0 6v1m0 18v2M52.5 3v1m0 9v1m0 2v1m0 10v1m0 2v1m0 4v1m0 6v1m0 14v1m0 11v1m0 2v1m0 1v2m0 5v1M53.5 12v1m0 1v1m0 2v1m0 4v1m0 1v1m0 31v1m0 11v1m0 5v1M54.5 19v2m0 4v2m0 5v1m0 18v1m0 11v1m0 1v2m0 7v1m0 7v1M55.5 2v2m0 5v1m0 2v1m0 2v1m0 1v1m0 8v1m0 8v1m0 5v1m0 6v1m0 3v1m0 3v1m0 6v1M56.5 14v1m0 7v1m0 1v1m0 3v1m0 2v1m0 12v1m0 2v1m0 24v1M57.5 10v1m0 4v1m0 14v1m0 1v1m0 5v2m0 2v1m0 6v1m0 3v1m0 5v1m0 5v1m0 16v1M58.5 15v1m0 9v1m0 1v1m0 8v1m0 14v2m0 2v1m0 3v2m0 13v1m0 1v1m0 5v1M59.5 2v1m0 26v2m0 2v1m0 10v1m0 4v1m0 3v2m0 14v1m0 7v1m0 4v1M60.5 4v1m0 8v1m0 7v1m0 52v2m0 2v1M61.5 10v1m0 20v1m0 5v1m0 13v2m0 3v1m0 13v1M62.5 35v1m0 5v1m0 25v1M63.5 6v2m0 10v1m0 1v1m0 2v1m0 7v1m0 1v1m0 1v1m0 6v1m0 2v1m0 14v1m0 12v2M64.5 1v1m0 11v1m0 6v1m0 23v1m0 3v2m0 3v1m0 4v1m0 17v1m0 4v1M65.5 4v1m0 3v1m0 10v1m0 3v1m0 8v1m0 17v1m0 13v1m0 6v1m0 2v1M66.5 0v1m0 2v1m0 13v1m0 2v1m0 8v2m0 5v1m0 12v1m0 1v1m0 12v1M67.5 4v2m0 13v1m0 3v1m0 25v1m0 6v1m0 13v1m0 8v1M68.5 2v1m0 1v1m0 6v1m0 9v1m0 3v1m0 1v1m0 1v1m0 12v1m0 13v1m0 9v1m0 4v1m0 7v1m0 1v1M69.5 2v1m0 2v1m0 9v2m0 4v1m0 2v1m0 21v1m0 17v1M70.5 15v1m0 11v1m0 17v2m0 10v1m0 4v1m0 19v1M71.5 8v1m0 42v1m0 4v1m0 22v1M72.5 2v1m0 45v1M73.5 12v1m0 2v1M74.5 15v1m0 39v1m0 4v1m0 9v3M75.5 1v1m0 4v1m0 20v1m0 2v1m0 12v1m0 3v1m0 3v1m0 4v1m0 6v1m0 2v1m0 7v1M76.5 21v1m0 11v1m0 1v1m0 8v1m0 1v1m0 4v1m0 6v1m0 12v1m0 2v1m0 5v1M77.5 5v1m0 2v1m0 6v2m0 3v1m0 8v2m0 6v3m0 18v1m0 3v1m0 10v1m0 1v1m0 2v1m0 1v1M78.5 6v1m0 6v1m0 3v1m0 7v1m0 3v1m0 2v1m0 22v1m0 3v2m0 17v1M79.5 7v2m0 4v1m0 2v1m0 2v1m0 2v1m0 5v2m0 13v1m0 18v1m0 3v1m0 13v2"/>
<path stroke="#f5f5d6" d="M0.5 10v2m0 28v1m0 3v1m0 9v1m0 13v1m0 7v1M1.5 1v2m0 3v1m0 1v1m0 3v1m0 10v1m0 6v1m0 10v1m0 32v1m0 2v1M2.5 6v1m0 13v1m0 16v1m0 19v1M3.5 18v1M4.5 15v1m0 16v1m0 19v1m0 12v1m0 1v1m0 1v1m0 6v1m0 4v1M5.5 34v1m0 32v1m0 4v1m0 9v1M6.5 9v1m0 12v1m0 3v1m0 17v1m0 17v1m0 12v1M7.5 19v1m0 16v1m0 10v1m0 8v1m0 4v1M8.5 7v1m0 2v1m0 20v1m0 3v1m0 3v1m0 13v1m0 12v1m0 8v1m0 5v1M9.5 4v1m0 12v1m0 20v1m0 8v1m0 13v1m0 2v1M10.5 25v1m0 25v1m0 3v1m0 20v2m0 1v1M11.5 5v1m0 13v1m0 29v1m0 11v1m0 15v1M12.5 47v1M13.5 22v2m0 13v1m0 38v1m0 1v2M14.5 20v1m0 1v1m0 11v1m0 11v1m0 6v1m0 23v1M15.5 0v1m0 21v1m0 27v1m0 23v1m0 2v1M16.5 5v1m0 2v1m0 37v1m0 2v1m0 9v1M17.5 37v1m0 29v1m0 6v2m0 5v1M18.5 21v1m0 2v1m0 3v1m0 18v1M19.5 41v1m0 1v1m0 9v1M20.5 14v1m0 23v2m0 20v1m0 6v1M21.5 57v1m0 13v1M22.5 25v1m0 48v1M23.5 7v1m0 1v1m0 10v1m0 21v1m0 1v1m0 16v1m0 12v1m0 2v1m0 2v1M24.5 57v1m0 1v1m0 10v1M25.5 19v1m0 25v1m0 4v1m0 30v1M26.5 16v1m0 3v1m0 35v1m0 12v1M27.5 6v1m0 8v1m0 56v1M28.5 3v1m0 30v1m0 21v1m0 5v1m0 11v1M29.5 27v1M30.5 31v1m0 1v1m0 17v1m0 24v1M31.5 10v1m0 19v1m0 13v1m0 26v1m0 1v1m0 2v1M32.5 23v1m0 53v1M33.5 2v1m0 5v2m0 1v2m0 1v1m0 22v1m0 9v1m0 10v1M34.5 10v1m0 13v2m0 14v2m0 4v1m0 5v1m0 2v1m0 6v2M35.5 5v1m0 7v2m0 8v1m0 8v1m0 3v3m0 3v1m0 1v1m0 1v2m0 2v1m0 4v2M36.5 2v1m0 9v1m0 5v1m0 1v1m0 13v1m0 11v3m0 13v1m0 17v1M37.5 12v1m0 9v1m0 3v1m0 6v1m0 1v1m0 6v1m0 7v1m0 2v1m0 6v1m0 5v1m0 5v1m0 5v1M38.5 19v1m0 2v1m0 6v1m0 3v1m0 12v2m0 6v1m0 5v1m0 4v1m0 1v1m0 4v1m0 5v1M39.5 3v1m0 24v1m0 1v1m0 1v1m0 4v1m0 1v1m0 3v1m0 4v1m0 16v1m0 7v1m0 3v1m0 3v2M40.5 1v1m0 10v1m0 5v1m0 5v1m0 1v1m0 5v1m0 17v1m0 22v1m0 1v1M41.5 12v1m0 1v2m0 2v1m0 2v1m0 1v1m0 1v1m0 6v1m0 3v1m0 2v1m0 2v1m0 6v2m0 2v1m0 6v1m0 1v1m0 6v1m0 2v1m0 3v1M42.5 2v2m0 1v1m0 14v1m0 4v1m0 3v2m0 3v1m0 6v1m0 10v1m0 1v1m0 3v3m0 19v1M43.5 10v1m0 6v1m0 4v1m0 4v1m0 1v3m0 11v1m0 6v1m0 2v1m0 8v1m0 9v1m0 2v2m0 2v1M44.5 0v1m0 2v1m0 1v2m0 1v1m0 11v1m0 4v2m0 13v1m0 2v1m0 1v1m0 6v1m0 6v1M45.5 8v1m0 3v1m0 9v1m0 9v1m0 5v1m0 3v1m0 24v1m0 2v1M46.5 7v1m0 1v1m0 3v1m0 8v1m0 1v1m0 17v3m0 1v1m0 1v1m0 3v1m0 2v2m0 3v1m0 3v1m0 7v2m0 3v1M47.5 1v1m0 1v1m0 6v1m0 1v2m0 6v2m0 5v1m0 12v1m0 4v1m0 13v1m0 2v1m0 3v1m0 6v1m0 4v1M48.5 2v1m0 3v1m0 2v1m0 15v1m0 3v2m0 5v2m0 12v1m0 1v1m0 10v1m0 13v1m0 2v2M49.5 2v1m0 2v1m0 2v1m0 16v1m0 8v2m0 1v1m0 4v1m0 6v1m0 3v2m0 3v1m0 13v1M50.5 0v1m0 2v1m0 9v1m0 8v1m0 33v1m0 1v1m0 14v1M51.5 1v1m0 6v2m0 9v1m0 14v1m0 11v1m0 6v1m0 11v1m0 12v1m0 1v1m0 1v1M52.5 14v1m0 2v1m0 21v1m0 13v1m0 4v1m0 1v1m0 1v3m0 12v1M53.5 0v1m0 2v1m0 27v2m0 2v1m0 29v1m0 3v3M54.5 15v1m0 5v2m0 14v1m0 5v1m0 1v1m0 12v1m0 21v2M55.5 1v1m0 3v1m0 10v1m0 11v1m0 11v1m0 3v1m0 5v1m0 4v1m0 2v1m0 5v2m0 8v1m0 1v1M56.5 3v1m0 32v1m0 8v1m0 24v1m0 11v1M57.5 0v1m0 22v2m0 9v1m0 1v1M58.5 6v2m0 1v2m0 9v1m0 2v1m0 2v1m0 1v1m0 1v1m0 2v1M59.5 7v1m0 6v1m0 1v1m0 3v1m0 3v1m0 15v1m0 10v1m0 21v1M60.5 3v1m0 2v2m0 29v1m0 15v1m0 2v1m0 2v1m0 12v1m0 4v1m0 1v3M61.5 6v1m0 7v1m0 2v1m0 12v1m0 28v1m0 2v1m0 6v1m0 5v1m0 6v1M62.5 0v1m0 7v1m0 2v1m0 30v1m0 1v2m0 4v1m0 1v1m0 3v1m0 1v1m0 4v1m0 2v1m0 8v1m0 2v1m0 1v1m0 1v1M63.5 0v1m0 8v1m0 5v2m0 21v1m0 7v2m0 10v1m0 3v1m0 7v1M64.5 3v1m0 14v1m0 4v1m0 2v1m0 2v1m0 17v1m0 20v1M65.5 1v2m0 14v1m0 2v1m0 13v1m0 13v1m0 7v2m0 3v1m0 3v1m0 1v1m0 4v2m0 8v1M66.5 15v1m0 2v1m0 5v1m0 2v1m0 14v1m0 7v1m0 4v1m0 5v1m0 18v2M67.5 12v1m0 3v1m0 27v1M68.5 8v1m0 6v1m0 10v1m0 1v1m0 1v1m0 17v2m0 1v1m0 12v1m0 9v3M69.5 13v1m0 20v1m0 5v1m0 3v1m0 6v1m0 1v1m0 20v1m0 1v1M70.5 2v1m0 36v2m0 7v1m0 10v1m0 7v1m0 2v1m0 10v1M71.5 33v1M72.5 43v1m0 25v1M73.5 4v1m0 22v1m0 38v1M75.5 4v1m0 2v1m0 2v1m0 7v1m0 4v1m0 8v1m0 7v1m0 24v1m0 1v1m0 3v2M76.5 16v1m0 15v1m0 8v1m0 13v1m0 17v1M77.5 4v1m0 4v1m0 9v1m0 2v1m0 9v1m0 30v2m0 6v1M78.5 7v1m0 3v1m0 3v1m0 10v3m0 33v1M79.5 6v1m0 26v1m0 2v1m0 10v1m0 22v1m0 1v1"/>
<path stroke="#fde2a0" d="M0.5 5v1m0 27v1M1.5 24v1m0 9v1m0 9v1m0 19v1M2.5 63v1m0 2v1m0 1v1m0 10v1M3.5 9v1m0 11v2m0 7v1m0 39v1m0 8v1m0 1v1M4.5 60v1M5.5 2v1m0 19v1m0 23v1m0 8v1m0 2v1m0 20v1M6.5 6v1m0 28v1m0 27v1m0 7v1M7.5 7v1m0 23v1M8.5 1v1m0 11v1m0 15v1M9.5 18v1m0 9v1m0 13v1m0 19v1M10.5 7v1m0 34v1m0 15v1M11.5 2v1m0 6v1m0 7v1m0 5v1m0 23v1m0 21v1M12.5 35v1m0 19v1m0 5v1M13.5 42v1m0 12v1M14.5 10v1m0 15v1m0 24v1m0 2v1M16.5 10v1m0 5v1M17.5 16v1m0 6v1m0 53v1M18.5 27v1m0 6v1m0 3v1m0 40v1M19.5 1v1m0 34v1m0 44v1M20.5 23v1M22.5 2v1m0 16v1M23.5 2v1m0 7v1m0 24v1m0 29v1m0 1v1M24.5 3v1m0 23v1m0 47v1M25.5 13v2m0 20v1m0 35v1M26.5 3v1m0 47v1M27.5 33v1M28.5 15v1m0 55v1M29.5 50v1M30.5 75v1M31.5 18v1m0 38v1m0 22v1M32.5 1v1m0 37v1M33.5 0v1m0 32v1m0 25v1m0 15v1m0 4v1M34.5 30v1m0 16v1m0 3v1m0 8v1M35.5 8v1m0 3v1m0 4v1m0 11v1m0 10v1m0 22v1M36.5 3v1m0 9v1m0 11v1m0 2v2m0 35v1m0 9v1M37.5 5v1m0 4v1m0 7v2m0 24v1m0 9v1m0 9v1m0 5v1m0 8v1M38.5 0v1m0 1v1m0 5v2m0 3v1m0 2v1m0 25v1m0 6v1m0 2v1m0 28v1M39.5 0v1m0 5v2m0 9v1m0 16v1m0 22v1m0 6v1m0 10v1m0 2v1m0 1v1M40.5 5v1m0 8v1m0 1v1m0 2v1m0 2v1m0 18v1m0 3v1m0 1v1m0 22v1m0 7v1M41.5 5v1m0 25v1m0 9v1m0 12v1m0 22v1m0 1v1M42.5 7v1m0 1v1m0 3v1m0 1v1m0 20v1m0 14v1m0 1v1m0 11v1m0 1v1m0 5v1m0 1v1M43.5 1v2m0 1v1m0 13v1m0 6v1m0 15v1m0 5v1m0 3v1m0 6v1m0 9v1m0 4v1m0 8v1M44.5 2v1m0 1v1m0 5v2m0 9v1m0 16v1m0 16v3m0 2v1m0 9v1m0 1v1M45.5 2v1m0 15v1m0 10v1m0 1v1m0 13v1m0 1v1m0 3v1m0 3v1m0 19v1m0 1v1M46.5 15v1m0 15v1m0 5v1m0 12v1m0 11v2m0 4v1m0 7v1m0 3v1m0 1v1M47.5 14v1m0 7v1m0 1v2m0 4v1m0 4v3m0 1v1m0 10v1m0 4v1m0 11v2m0 3v1M48.5 8v1m0 4v1m0 13v1m0 7v1m0 18v1m0 7v1m0 2v1m0 5v1m0 10v1M49.5 4v1m0 1v1m0 13v1m0 10v1m0 9v1m0 5v1m0 7v1m0 4v1m0 6v1m0 7v1m0 5v1M50.5 25v1m0 3v1m0 4v1m0 8v1m0 4v1m0 13v1m0 6v1m0 2v1M51.5 0v1m0 20v1m0 2v1m0 1v2m0 2v1m0 26v1m0 4v1m0 4v1m0 1v1M52.5 7v1m0 26v1m0 10v1M53.5 16v1m0 32v1m0 22v2m0 7v1M54.5 1v1m0 27v1m0 10v1m0 6v1m0 19v2M55.5 7v1m0 6v1m0 8v1m0 13v1M56.5 2v1m0 12v1m0 2v1m0 8v1m0 18v1m0 2v1m0 7v1m0 15v2m0 1v1m0 4v1M57.5 5v1m0 10v1m0 23v1m0 5v1m0 5v1m0 5v1M58.5 4v1m0 19v1m0 24v1m0 19v1M59.5 11v1m0 3v1m0 21v1m0 4v1m0 3v1m0 8v1m0 9v1m0 1v1m0 7v1M60.5 10v1m0 30v1m0 6v1m0 6v1M61.5 1v1m0 19v2m0 5v1m0 31v1M62.5 6v1m0 7v1m0 3v1m0 8v1m0 10v1m0 1v1M63.5 29v1m0 20v1m0 2v2M64.5 5v1m0 55v1m0 7v1m0 7v1M65.5 7v1m0 23v1m0 6v1m0 5v2m0 22v1m0 8v1M66.5 10v2m0 1v1m0 12v1m0 1v1m0 19v1m0 7v2m0 8v2M67.5 0v1m0 19v1m0 11v1m0 9v1m0 11v1m0 5v1m0 6v1m0 10v1M68.5 12v2m0 6v1m0 19v1m0 32v1M69.5 22v1m0 6v1m0 3v1m0 21v1m0 7v1m0 4v1M70.5 11v2m0 1v1m0 13v1m0 1v1m0 10v1M71.5 9v1M74.5 4v1m0 20v1m0 7v1M75.5 15v1m0 34v1m0 11v1m0 16v1m0 1v1M76.5 5v1m0 19v1m0 3v2M77.5 18v1m0 7v1m0 13v1m0 5v1M78.5 31v1m0 1v1m0 9v1m0 14v1m0 4v1m0 12v1M79.5 0v1m0 26v1m0 25v1m0 7v1m0 12v1m0 3v1m0 3v1"/>
<path stroke="#f7a86a" d="M2.5 46v1m0 8v1M3.5 51v1M6.5 37v1m0 42v1M8.5 44v1m0 14v1M9.5 12v1M13.5 27v1M15.5 15v1M16.5 43v1M17.5 54v1M18.5 10v1m0 8v1M19.5 28v1M23.5 17v1M27.5 12v1m0 57v1M29.5 4v1m0 5v1M31.5 47v1m0 15v1M34.5 0v1M36.5 51v1M38.5 79v1M39.5 27v1M40.5 11v1M41.5 73v1M43.5 23v1M45.5 23v1m0 16v1m0 5v1m0 22v1M46.5 26v1m0 20v1M49.5 50v1M51.5 13v1m0 23v1m0 43v1M52.5 31v1m0 4v1m0 7v1m0 26v1M53.5 36v1m0 7v1m0 6v1M54.5 53v1m0 19v1M55.5 75v1M56.5 41v1m0 24v1M57.5 62v1M58.5 3v1m0 42v1M59.5 25v1M60.5 69v1M63.5 65v1M64.5 33v1m0 25v1m0 18v1M66.5 32v1m0 5v1m0 4v1m0 26v1m0 5v1M67.5 10v1m0 35v1m0 17v1M68.5 35v1m0 8v1m0 9v1M69.5 27v1m0 26v1m0 4v1M70.5 3v1m0 13v1M71.5 14v1m0 4v1m0 18v1m0 19v1m0 23v1M72.5 11v1m0 15v1m0 2v1m0 11v1m0 1v1m0 9v1M73.5 14v1m0 9v1m0 3v1m0 4v1m0 6v1m0 11v1m0 19v2m0 7v2M74.5 38v1m0 12v1m0 10v1m0 1v2m0 3v1M75.5 55v1m0 19v1m0 4v1M77.5 11v1M78.5 47v1M79.5 68v1"/>
<path stroke="#e4613f" d="M0.5 38v1m0 9v1m0 6v1M1.5 70v1M2.5 26v1m0 32v2m0 19v1M3.5 1v1m0 24v1m0 2v1m0 11v1m0 19v1M4.5 2v1m0 52v1M5.5 39v1m0 13v1m0 11v1M6.5 42v1m0 38v1M7.5 4v1m0 17v1m0 21v2M8.5 46v1m0 21v1M10.5 2v1m0 5v1m0 56v1m0 5v1M11.5 58v1m0 15v1m0 7v1M12.5 15v1m0 49v1M13.5 11v1m0 29v1M14.5 35v1M15.5 41v1m0 33v1M16.5 9v1m0 24v1m0 19v1M17.5 20v1m0 39v1m0 8v1M18.5 70v1M19.5 49v1m0 19v1M20.5 65v1M21.5 31v1m0 21v1M22.5 5v1m0 3v1m0 53v1M23.5 5v1m0 30v1m0 22v1m0 3v1M24.5 4v2m0 7v1m0 23v1M26.5 26v1m0 23v1m0 26v2M27.5 3v1m0 30v1m0 23v1M29.5 17v1m0 52v1M30.5 54v1m0 4v1m0 11v1M31.5 21v1m0 47v1M32.5 17v1m0 52v1M33.5 4v1m0 12v1m0 13v1m0 39v1M35.5 25v1m0 43v1m0 8v1M36.5 17v1M37.5 45v1M38.5 15v1m0 12v1m0 45v1m0 7v1M39.5 76v1M40.5 42v1M41.5 70v1M43.5 54v1M44.5 37v1M45.5 44v1M46.5 4v1m0 5v1M47.5 4v1m0 14v1m0 26v1M48.5 14v1m0 41v1M49.5 38v1m0 17v1m0 20v1M50.5 1v1m0 13v1m0 1v1m0 6v1m0 1v1m0 37v1M51.5 3v1m0 38v1m0 11v1M52.5 15v1m0 13v1m0 10v1m0 5v1m0 1v1m0 12v1M53.5 1v1m0 18v1m0 8v1m0 22v1m0 26v1M54.5 5v1m0 5v1m0 6v1m0 5v1m0 6v1m0 27v1m0 12v1m0 5v1M55.5 22v1m0 1v1m0 14v1m0 37v1M56.5 4v1m0 4v1m0 7v1m0 2v1m0 2v1m0 9v1M57.5 20v1m0 4v1m0 19v1m0 8v1m0 24v1M58.5 1v1m0 32v1m0 18v1m0 10v1m0 14v2M59.5 12v1m0 30v1m0 1v1m0 12v1m0 13v1M60.5 2v1m0 6v1m0 5v1m0 2v1m0 9v1m0 2v2m0 9v1m0 2v1m0 17v1m0 1v1m0 5v1m0 1v1m0 8v1M61.5 11v1m0 17v1m0 6v1m0 2v1m0 18v1m0 5v1m0 11v1M62.5 29v1m0 6v1m0 11v1m0 4v1m0 10v1m0 3v2m0 1v1M63.5 55v1m0 3v1m0 4v1m0 11v1m0 5v1M64.5 0v1m0 37v4m0 10v1m0 2v1m0 1v1m0 12v1m0 2v1M65.5 3v1m0 10v1m0 6v1m0 8v1m0 23v1m0 23v1m0 1v1M66.5 8v1m0 43v1m0 15v1M67.5 3v1m0 24v1m0 9v1m0 8v1M68.5 10v1m0 8v1m0 3v1m0 23v1m0 5v1m0 8v1m0 7v1m0 1v1m0 7v1M69.5 3v1m0 15v1m0 3v1m0 1v1m0 2v1m0 6v1m0 33v1m0 7v1M70.5 5v1m0 16v1m0 12v1m0 15v2m0 26v1M71.5 4v2m0 7v1m0 2v1m0 17v1m0 17v1m0 11v1M72.5 0v1m0 2v2m0 11v1m0 19v1m0 12v1m0 3v1m0 5v1m0 3v1m0 1v2m0 9v1M73.5 1v3m0 2v2m0 12v1m0 5v1m0 2v1m0 2v1m0 12v1m0 4v2m0 5v1m0 1v1m0 3v1m0 4v2m0 4v1m0 1v1m0 1v2M74.5 1v3m0 2v1m0 1v2m0 1v2m0 9v1m0 14v1m0 2v2m0 8v1m0 1v1m0 8v1m0 5v1m0 9v2m0 1v1m0 1v1M75.5 16v1m0 3v1m0 1v1m0 22v1m0 3v1m0 19v1m0 7v1M76.5 6v1m0 1v1m0 13v1m0 8v1m0 5v1m0 15v1m0 6v1m0 2v1m0 3v1m0 2v1m0 1v1m0 3v1m0 1v1M77.5 14v1m0 19v2m0 6v1m0 8v1m0 15v1M78.5 5v1m0 12v1m0 17v1m0 3v1m0 7v2m0 20v1m0 10v1M79.5 11v1m0 2v1m0 5v1m0 3v1m0 1v1m0 8v1m0 1v2m0 5v1m0 13v1m0 6v1m0 7v1"/>
<path stroke="#cc2d27" d="M0.5 20v1m0 7v1m0 31v1M1.5 3v2M2.5 4v1m0 5v1m0 14v1m0 10v1M3.5 5v1m0 26v1m0 3v1m0 34v1m0 3v1M4.5 68v1M5.5 40v1M7.5 2v1m0 30v1m0 46v1M8.5 16v1m0 3v1M9.5 27v1m0 18v1m0 33v1M10.5 20v1m0 53v1M11.5 14v1m0 28v1m0 10v1M12.5 45v1m0 23v1m0 3v1M13.5 8v1m0 24v1m0 37v1M14.5 29v1M15.5 57v1M16.5 24v1m0 25v1m0 11v1M17.5 46v1m0 1v1m0 2v1M18.5 7v1M19.5 44v1m0 9v1M21.5 10v1m0 10v1m0 22v1m0 21v1m0 12v1M22.5 68v1M24.5 17v1m0 47v1m0 7v1M25.5 9v1m0 10v1m0 7v1m0 3v1m0 34v1M26.5 48v1M27.5 54v1M28.5 50v1m0 7v1M29.5 0v1m0 33v1m0 23v1m0 3v1M30.5 66v1m0 1v1m0 12v1M31.5 26v1M32.5 28v1m0 44v1M33.5 38v1m0 27v1M34.5 26v1m0 6v1m0 32v1M35.5 11v1M36.5 7v1m0 7v1m0 42v1M38.5 38v1m0 1v1M39.5 22v1m0 21v1m0 27v1M40.5 34v1M41.5 17v1m0 34v1m0 3v1M42.5 33v1m0 4v1M43.5 57v1m0 1v1m0 14v1m0 6v1M44.5 32v1m0 14v1M45.5 19v1m0 48v1M46.5 2v1m0 35v1m0 39v1M47.5 47v1M48.5 3v1m0 56v1M49.5 18v1m0 4v1m0 9v1m0 5v1m0 5v1m0 25v1M50.5 7v1m0 19v1m0 16v1m0 1v1m0 24v1M51.5 28v1m0 3v1m0 2v1m0 8v1m0 3v1m0 14v1m0 6v2M52.5 5v2m0 31v1m0 10v2m0 14v1m0 1v1m0 5v1M53.5 13v1m0 1v1m0 5v1m0 8v1m0 3v1m0 8v1M54.5 0v1m0 12v1m0 14v1M55.5 4v1m0 26v2m0 1v1m0 18v1m0 24v1M56.5 7v2m0 1v1m0 23v1m0 30v1m0 5v1m0 8v1M57.5 2v1m0 6v1m0 11v1m0 7v1m0 27v1m0 11v1m0 4v1m0 3v1M58.5 0v1m0 11v1m0 6v1m0 2v1m0 24v1m0 9v1m0 10v1m0 8v1M59.5 19v1m0 7v1m0 3v1m0 47v1M60.5 14v1m0 23v3m0 3v1m0 6v1m0 5v1m0 12v1M61.5 4v1m0 13v1m0 16v1m0 12v1m0 12v1m0 3v1m0 8v1m0 3v1M62.5 25v1m0 11v1m0 13v1m0 7v1m0 10v1M63.5 8v1m0 4v1m0 7v1m0 6v1m0 27v1m0 4v1m0 9v2m0 6v2M64.5 8v1m0 15v2m0 6v1m0 9v1m0 11v1m0 7v3m0 15v1M65.5 22v1m0 2v1m0 2v1m0 6v1m0 4v2m0 5v1m0 5v1m0 5v1m0 3v1M66.5 7v1m0 4v1m0 12v1m0 11v1m0 9v1m0 11v1m0 11v2m0 2v1M67.5 2v1m0 4v1m0 9v1m0 6v1m0 4v1m0 18v1m0 4v1m0 4v1m0 7v1m0 14v1M68.5 9v1m0 21v1m0 1v1m0 12v1m0 5v1m0 5v1m0 6v1m0 2v1M69.5 7v1m0 1v1m0 2v1m0 7v1m0 9v1m0 16v4m0 5v1m0 1v1m0 13v1m0 9v1M70.5 6v1m0 6v1m0 9v1m0 12v2m0 22v1m0 4v1m0 12v1M71.5 0v1m0 2v1m0 8v1m0 13v1m0 4v1m0 3v3m0 5v1m0 13v1m0 1v2m0 13v1M72.5 17v2m0 15v1m0 16v1m0 3v1m0 8v1m0 6v1m0 8v1m0 1v1M73.5 0v1m0 4v1m0 3v1m0 1v1m0 1v1m0 2v3m0 2v1m0 3v1m0 4v2m0 3v5m0 2v2m0 2v4m0 3v2m0 1v1m0 1v1m0 1v3m0 7v2m0 3v1m0 1v1m0 2v1M74.5 0v1m0 6v1m0 2v1m0 3v1m0 2v1m0 1v2m0 3v1m0 2v1m0 3v1m0 2v1m0 7v5m0 2v1m0 3v2m0 2v2m0 4v1m0 2v1m0 8v1m0 5v1M75.5 0v1m0 35v2m0 3v1m0 6v1m0 5v1m0 6v1M76.5 2v1m0 7v1m0 1v1m0 2v1m0 4v1m0 18v2m0 4v1m0 1v1m0 2v1m0 6v1m0 1v1m0 4v1m0 4v1m0 12v1M77.5 1v1m0 5v1m0 16v1m0 16v1m0 1v1m0 1v1m0 2v1m0 1v1m0 14v1m0 16v1M78.5 14v1m0 4v1m0 1v1m0 17v1m0 1v2m0 9v2M79.5 41v2m0 2v1m0 4v1m0 4v1m0 23v1"/>
</g>
<g transform="translate(326.9 1292.1) scale(3.1000 3.6120)" fill="none" stroke-width="1.04">
<path stroke="#3f6fb5" d="M0.5 19v1M2.5 46v1M4.5 12v1m0 48v1M5.5 49v1m0 5v1M7.5 38v1m0 37v1m0 1v1M9.5 0v1m0 2v1m0 70v1M12.5 5v1M14.5 34v1m0 19v1m0 5v1m0 18v1M15.5 6v1m0 36v2M16.5 2v1m0 4v1m0 5v1m0 1v1m0 12v1m0 11v1m0 29v1m0 9v1M17.5 8v1m0 15v1m0 2v1m0 19v1m0 1v1m0 15v2M18.5 3v1m0 14v1m0 8v1m0 42v1m0 8v1m0 2v1M19.5 11v1m0 7v1m0 15v1m0 1v1m0 3v1m0 5v1m0 10v1M20.5 10v1m0 8v1m0 10v1m0 11v1m0 14v2m0 20v1M21.5 18v1m0 21v1m0 18v1m0 16v1m0 4v2M22.5 9v1m0 33v1m0 3v1m0 2v1m0 6v1m0 5v1m0 8v1M23.5 2v2m0 19v2m0 8v1m0 2v1m0 2v1m0 14v1m0 4v1m0 8v1m0 3v1M24.5 6v1m0 13v2m0 19v1m0 1v1m0 4v2m0 2v1m0 1v1m0 8v1M25.5 22v1m0 13v1m0 1v1m0 1v1m0 2v1m0 5v1m0 2v2m0 14v1m0 2v1m0 1v1"/>
<path stroke="#5d8fcc" d="M0.5 26v1M2.5 76v1M3.5 82v1M4.5 21v1M5.5 50v1m0 30v1M6.5 21v1M7.5 37v1M8.5 3v1m0 66v1M9.5 17v1m0 46v1m0 2v1M10.5 47v1m0 29v1M11.5 57v1m0 24v1M12.5 3v1m0 11v1m0 18v1m0 34v1m0 3v1M13.5 24v1m0 22v1M14.5 0v1m0 5v1m0 2v1m0 4v1m0 3v1m0 19v1m0 11v1m0 1v1M15.5 10v1m0 5v2m0 2v1m0 1v1m0 5v1m0 7v1m0 3v2m0 4v1m0 7v1m0 6v1m0 5v1m0 7v1m0 6v1M16.5 0v1m0 4v2m0 5v1m0 7v1m0 1v1m0 2v3m0 4v1m0 3v1m0 22v1m0 15v1m0 2v1M17.5 11v1m0 14v1m0 1v1m0 2v1m0 1v1m0 4v1m0 2v1m0 6v1m0 2v1m0 17v1m0 5v2M18.5 10v1m0 1v2m0 15v1m0 9v1m0 14v1m0 4v1m0 1v1m0 2v1M19.5 17v1m0 3v1m0 7v1m0 2v1m0 5v1m0 6v1m0 2v1m0 1v1m0 3v1m0 10v1m0 10v1M20.5 0v1m0 12v1m0 7v1m0 10v1m0 10v1m0 1v2m0 6v1m0 10v1m0 2v1m0 6v3m0 1v1m0 3v1M21.5 7v1m0 2v2m0 1v1m0 2v1m0 3v1m0 1v1m0 2v1m0 18v1m0 19v2m0 1v1m0 2v1M22.5 35v1m0 13v1m0 4v1m0 7v1m0 7v2m0 4v1m0 1v1M23.5 14v1m0 5v1m0 25v1m0 4v1m0 5v2m0 5v1m0 5v1m0 11v1M24.5 2v2m0 8v1m0 4v1m0 4v1m0 19v1m0 13v1m0 15v1m0 6v2M25.5 0v1m0 23v1m0 14v1m0 2v1m0 2v1m0 5v1m0 20v1m0 7v1"/>
<path stroke="#8fb8df" d="M0.5 1v1m0 3v1m0 9v1m0 4v1m0 9v1m0 6v1m0 6v1m0 12v1m0 1v1m0 8v1m0 3v1M1.5 5v1m0 4v1m0 19v1m0 4v1m0 19v1m0 7v1m0 10v1m0 1v1m0 1v1m0 2v1M2.5 12v1m0 2v1m0 6v1m0 14v1m0 16v1m0 1v3m0 2v1m0 13v1m0 2v1m0 3v1M3.5 26v1m0 4v1m0 2v1m0 4v1m0 7v1m0 7v1m0 4v1M4.5 29v1m0 4v1m0 2v1m0 6v1m0 14v2m0 3v1m0 6v1m0 1v1m0 1v1m0 2v1m0 3v1M5.5 8v1m0 2v1m0 4v1m0 6v1m0 3v1m0 5v1m0 19v1m0 2v1m0 6v1m0 11v1M6.5 1v1m0 4v1m0 8v2m0 5v1m0 4v1m0 4v1m0 8v1m0 2v1m0 6v1m0 3v1m0 4v1m0 3v2m0 13v3M7.5 8v1m0 7v1m0 11v2m0 4v1m0 1v1m0 3v2m0 1v1m0 14v2m0 11v1M8.5 2v1m0 10v1m0 6v1m0 10v2m0 1v1m0 3v1m0 5v1m0 5v1m0 7v1m0 6v1m0 8v1m0 3v2M9.5 8v1m0 1v1m0 2v1m0 10v1m0 27v1m0 3v1m0 8v1m0 9v1M10.5 3v1m0 5v1m0 26v1m0 12v1m0 5v3m0 9v1m0 2v1M11.5 9v1m0 5v2m0 1v1m0 11v1m0 1v1m0 5v1m0 3v1m0 3v1m0 14v3m0 1v2m0 3v1m0 3v1m0 3v1M12.5 1v1m0 12v1m0 3v1m0 5v1m0 1v1m0 10v1m0 8v1m0 4v1m0 1v1m0 4v1m0 5v2m0 2v1m0 3v1m0 1v1m0 4v1m0 1v1M13.5 0v1m0 8v1m0 10v1m0 4v1m0 7v2m0 4v1m0 13v1m0 3v1m0 5v1m0 10v2M14.5 1v2m0 14v1m0 10v1m0 7v1m0 2v2m0 7v1m0 2v1m0 7v1m0 6v1m0 2v2m0 4v1M15.5 0v2m0 2v1m0 29v1m0 7v1m0 6v2m0 1v1m0 5v1m0 1v1m0 7v1m0 7v1m0 1v1m0 1v1M16.5 9v2m0 7v1m0 11v1m0 3v1m0 7v2m0 33v1M17.5 17v1m0 2v1m0 1v1m0 7v1m0 6v1m0 5v1m0 17v2m0 8v1m0 9v1M18.5 11v1m0 7v2m0 10v1m0 6v1m0 4v1m0 11v1m0 7v1m0 1v1m0 12v1M19.5 12v1m0 39v1m0 2v1m0 5v1m0 13v1m0 4v1M20.5 4v1m0 4v1m0 18v1m0 15v1m0 4v1m0 10v1m0 8v1m0 10v1M21.5 0v1m0 8v1m0 7v1m0 1v1m0 1v1m0 6v2m0 3v1m0 1v1m0 1v1m0 9v1m0 3v1m0 10v2m0 10v2M22.5 11v1m0 30v1m0 2v1m0 14v1m0 6v1M23.5 5v1m0 12v1m0 9v2m0 10v1m0 15v1m0 4v1m0 17v1M24.5 0v2m0 22v1m0 44v1m0 8v1m0 3v1M25.5 5v1m0 42v1m0 17v1m0 11v1"/>
<path stroke="#c5def0" d="M0.5 6v1m0 1v3m0 2v1m0 3v1m0 7v1m0 24v1m0 14v1m0 8v1M1.5 0v1m0 3v1m0 2v1m0 9v1m0 3v1m0 4v1m0 1v1m0 7v1m0 2v2m0 5v1m0 1v1m0 3v1m0 1v1m0 3v2m0 2v1m0 4v1m0 1v1m0 5v1M2.5 1v1m0 3v1m0 4v1m0 3v1m0 6v1m0 2v1m0 13v1m0 1v1m0 3v1m0 7v1m0 10v1m0 3v1m0 2v1m0 3v1M3.5 0v1m0 2v1m0 2v1m0 2v1m0 2v1m0 4v3m0 12v1m0 2v3m0 4v2m0 1v1m0 2v3m0 3v1m0 2v1m0 6v1m0 3v1m0 1v1m0 2v1m0 5v1M4.5 2v1m0 1v2m0 3v1m0 5v1m0 1v1m0 1v1m0 2v2m0 9v1m0 2v1m0 5v1m0 4v1m0 2v2m0 22v1m0 5v1M5.5 2v1m0 11v1m0 2v1m0 1v1m0 2v1m0 2v2m0 2v1m0 4v2m0 4v1m0 5v1m0 12v1m0 1v1m0 3v1m0 2v3m0 1v1m0 4v1M6.5 3v2m0 6v1m0 8v1m0 8v1m0 8v2m0 7v1m0 8v1m0 1v1m0 3v1m0 3v1m0 3v2M7.5 0v3m0 3v2m0 2v2m0 3v1m0 2v2m0 1v1m0 1v3m0 6v1m0 6v1m0 6v1m0 5v2m0 2v1m0 9v2m0 2v1m0 6v1m0 4v1M8.5 1v1m0 8v2m0 3v1m0 11v1m0 1v1m0 3v1m0 2v1m0 4v1m0 4v2m0 1v1m0 5v1m0 1v1m0 2v1m0 10v1m0 4v1m0 4v1M9.5 7v1m0 1v1m0 4v1m0 3v1m0 3v1m0 9v1m0 1v1m0 11v2m0 1v1m0 10v1m0 5v1m0 11v2m0 2v1M10.5 1v1m0 2v2m0 7v1m0 3v1m0 2v1m0 8v1m0 8v1m0 4v1m0 1v1m0 14v1m0 2v1m0 1v1m0 2v1m0 13v1M11.5 2v1m0 2v2m0 1v1m0 1v3m0 13v1m0 2v1m0 21v1m0 4v1m0 7v1m0 6v1m0 9v1M12.5 9v2m0 11v1m0 10v1m0 10v1m0 5v1m0 3v2m0 6v1m0 8v1m0 3v1m0 2v1M13.5 1v3m0 4v1m0 7v2m0 4v1m0 6v1m0 5v1m0 6v1m0 1v2m0 4v2m0 7v1m0 4v1m0 6v1m0 4v1m0 1v3m0 1v1M14.5 3v1m0 6v1m0 4v1m0 14v1m0 4v1M15.5 3v1m0 4v1m0 22v1m0 6v2m0 5v1m0 16v1m0 1v1m0 16v1M16.5 3v1m0 12v1m0 7v1m0 8v1m0 11v1M17.5 10v1m0 7v1m0 15v1m0 10v1m0 4v1m0 23v1m0 7v1M18.5 33v1m0 17v1m0 25v1M19.5 13v1m0 2v1m0 10v2m0 14v1m0 15v1m0 3v1m0 10v1m0 7v1M20.5 5v1m0 2v1m0 18v1m0 8v1m0 2v1m0 8v1m0 32v1M21.5 38v1m0 2v1m0 8v1m0 2v1m0 14v1m0 2v1m0 7v1M22.5 10v1m0 1v1m0 8v1m0 1v2m0 8v1m0 3v1m0 17v2m0 4v1m0 15v1M23.5 13v1m0 23v2m0 2v1m0 23v1m0 8v1M24.5 7v1m0 2v1m0 3v1m0 11v1m0 23v1m0 2v1m0 5v1m0 5v1m0 7v2M25.5 3v1m0 4v1m0 5v1m0 18v1"/>
<path stroke="#f5f5d6" d="M0.5 0v1m0 3v1m0 2v1m0 4v1m0 8v1m0 2v1m0 2v1m0 4v1m0 1v1m0 1v1m0 1v1m0 2v2m0 2v2m0 2v1m0 2v1m0 1v1m0 1v1m0 1v1m0 2v2m0 3v1m0 3v2m0 1v1m0 3v1m0 1v1m0 1v1M1.5 1v1m0 7v1m0 1v3m0 2v1m0 5v1m0 4v1m0 3v1m0 1v1m0 7v2m0 2v1m0 3v2m0 10v1m0 3v1m0 2v1m0 1v1m0 1v2m0 3v1m0 4v1M2.5 9v1m0 1v1m0 4v1m0 1v3m0 2v1m0 1v1m0 7v1m0 1v1m0 6v1m0 2v1m0 2v1m0 1v1m0 2v1m0 1v1m0 4v1m0 1v1m0 3v1m0 1v2m0 1v1M3.5 2v1m0 2v1m0 1v1m0 3v1m0 2v1m0 8v1m0 1v1m0 1v3m0 10v2m0 4v1m0 4v1m0 1v1m0 4v2m0 1v1m0 5v1m0 3v1m0 2v2m0 1v2M4.5 1v1m0 1v1m0 3v1m0 2v1m0 2v2m0 1v1m0 1v1m0 6v2m0 4v2m0 2v1m0 2v2m0 5v2m0 1v1m0 4v1m0 2v2m0 7v2m0 1v2m0 2v1m0 4v1m0 1v1m0 1v1M5.5 1v1m0 1v2m0 5v1m0 2v1m0 1v1m0 2v1m0 5v1m0 5v2m0 4v4m0 1v1m0 1v3m0 1v1m0 3v1m0 5v1m0 2v1m0 10v1m0 1v1m0 4v2M6.5 5v1m0 1v1m0 1v2m0 1v3m0 2v3m0 5v1m0 7v4m0 5v1m0 2v1m0 2v1m0 5v1m0 2v1m0 3v1m0 1v1m0 3v1m0 1v1m0 2v2m0 4v1m0 3v1M7.5 3v2m0 7v3m0 2v1m0 4v1m0 3v1m0 3v2m0 1v1m0 8v1m0 1v2m0 2v1m0 2v1m0 10v2m0 4v1m0 3v2m0 1v1m0 4v1M8.5 0v1m0 3v3m0 1v2m0 2v1m0 1v1m0 1v2m0 4v5m0 1v1m0 6v1m0 1v1m0 10v1m0 5v1m0 4v1m0 3v1m0 2v1m0 5v2m0 1v1m0 6v1M9.5 2v1m0 2v1m0 5v1m0 3v1m0 3v3m0 1v1m0 3v1m0 1v2m0 2v1m0 3v1m0 3v2m0 1v2m0 2v1m0 1v1m0 2v3m0 3v1m0 1v1m0 1v1m0 5v2m0 1v1m0 3v1m0 3v1M10.5 0v1m0 5v2m0 7v1m0 2v2m0 1v1m0 2v1m0 1v1m0 3v2m0 1v1m0 5v1m0 2v1m0 1v1m0 3v1m0 2v1m0 6v1m0 3v1m0 1v1m0 1v1m0 2v1m0 1v3m0 5v2M11.5 0v1m0 2v2m0 8v2m0 6v1m0 1v1m0 3v2m0 4v2m0 1v2m0 1v3m0 1v1m0 5v2m0 3v1m0 14v1m0 6v1m0 2v1M12.5 0v1m0 6v1m0 4v2m0 3v1m0 3v1m0 1v1m0 1v1m0 2v2m0 1v1m0 3v1m0 2v1m0 1v1m0 1v2m0 1v1m0 3v1m0 9v1m0 1v1m0 1v1m0 2v2m0 8v2m0 2v1m0 1v1M13.5 4v1m0 1v2m0 2v4m0 5v1m0 6v1m0 1v1m0 3v1m0 5v1m0 4v1m0 4v1m0 3v1m0 1v2m0 2v1m0 6v2m0 1v3m0 1v2m0 7v1M14.5 8v1m0 7v1m0 2v1m0 6v1m0 2v1m0 1v1m0 15v1m0 1v1m0 3v1m0 22v1m0 3v1M15.5 9v1m0 8v1m0 2v1m0 11v1m0 25v1m0 5v1m0 4v1m0 1v1M16.5 1v1m0 2v1m0 39v1m0 4v1m0 1v1m0 1v1m0 7v2m0 1v1m0 4v1M17.5 15v1m0 3v1m0 1v1m0 7v1m0 2v1m0 9v1m0 15v1m0 1v1m0 3v1m0 5v1m0 6v1M18.5 0v1m0 1v1m0 6v1m0 7v1m0 3v1m0 2v1m0 5v1m0 4v1m0 37v1M19.5 4v1m0 19v1m0 11v1m0 7v1m0 4v1m0 3v1m0 6v1m0 9v1m0 2v1m0 3v1M20.5 34v1m0 12v1m0 11v1m0 1v1m0 8v1M21.5 6v1m0 17v1m0 11v1m0 19v1m0 3v1M22.5 1v1m0 5v2m0 7v1m0 1v2m0 6v1m0 1v1m0 7v1m0 7v1m0 19v1m0 3v2m0 4v2m0 4v1M23.5 1v1m0 4v1m0 15v1m0 2v1m0 1v1m0 4v1m0 2v1m0 12v1m0 1v1m0 25v3m0 2v1M24.5 9v1m0 1v1m0 6v1m0 10v1m0 31v2m0 13v1M25.5 2v1m0 18v1m0 3v2m0 17v1m0 19v1m0 4v1m0 5v1m0 1v1"/>
<path stroke="#fde2a0" d="M0.5 2v1m0 8v1m0 2v1m0 1v1m0 5v2m0 4v2m0 1v1m0 1v1m0 1v1m0 3v2m0 6v2m0 4v1m0 1v1m0 4v1m0 3v1m0 2v1m0 1v1m0 5v2m0 1v1m0 1v1m0 1v1M1.5 2v1m0 3v1m0 1v1m0 5v1m0 3v3m0 2v3m0 3v1m0 2v1m0 1v1m0 2v2m0 8v1m0 3v1m0 1v1m0 2v2m0 2v1m0 3v1m0 1v1m0 4v1m0 8v1M2.5 0v1m0 1v3m0 1v1m0 1v1m0 4v1m0 3v1m0 10v5m0 1v1m0 1v1m0 2v1m0 7v1m0 1v1m0 1v1m0 7v1m0 4v2m0 6v2m0 3v1m0 1v3M3.5 1v1m0 2v1m0 3v1m0 1v1m0 2v1m0 1v1m0 4v3m0 1v1m0 5v1m0 2v1m0 4v1m0 5v1m0 7v1m0 3v1m0 5v2m0 1v1m0 3v1m0 2v1m0 3v1m0 3v2M4.5 0v1m0 5v1m0 1v1m0 2v1m0 8v1m0 3v1m0 2v2m0 1v1m0 12v1m0 5v1m0 2v1m0 1v1m0 7v2m0 3v1m0 2v1M5.5 0v1m0 4v1m0 1v1m0 1v1m0 2v1m0 7v2m0 6v1m0 3v1m0 9v1m0 5v1m0 3v1m0 1v1m0 3v1m0 5v1m0 1v2m0 6v1m0 1v1m0 3v1m0 1v1M6.5 0v1m0 7v1m0 14v2m0 1v1m0 1v1m0 2v1m0 5v1m0 2v1m0 2v1m0 2v1m0 2v2m0 1v2m0 5v1m0 8v1m0 5v4M7.5 5v1m0 3v1m0 10v1m0 6v1m0 7v1m0 13v2m0 3v2m0 1v1m0 2v2m0 2v2m0 3v1m0 4v1m0 4v1m0 1v1M8.5 7v1m0 10v1m0 2v1m0 8v1m0 8v2m0 1v2m0 1v1m0 5v2m0 3v1m0 4v2m0 1v1m0 2v3m0 10v1M9.5 1v1m0 2v1m0 1v1m0 5v1m0 3v1m0 8v2m0 1v1m0 2v1m0 3v2m0 1v3m0 2v1m0 7v1m0 5v1m0 10v1m0 2v1m0 1v1m0 3v1m0 3v1M10.5 2v1m0 5v1m0 1v1m0 1v1m0 1v1m0 1v1m0 5v2m0 1v1m0 1v1m0 4v1m0 1v2m0 1v1m0 2v1m0 5v1m0 3v1m0 1v3m0 4v1m0 1v1m0 12v3m0 1v1m0 2v1M11.5 1v1m0 5v1m0 9v1m0 1v2m0 1v1m0 1v2m0 5v1m0 3v1m0 8v2m0 1v2m0 3v1m0 6v1m0 8v1m0 3v2M12.5 2v1m0 1v1m0 1v1m0 4v1m0 4v1m0 2v2m0 9v1m0 5v1m0 4v1m0 5v1m0 4v1m0 3v2m0 2v1m0 9v1M13.5 5v1m0 8v2m0 2v1m0 2v1m0 1v1m0 3v1m0 2v2m0 4v2m0 2v1m0 5v1m0 2v1m0 6v1m0 3v3m0 4v1M14.5 13v1m0 18v1m0 8v1m0 2v1m0 11v1m0 1v1m0 6v1m0 1v1m0 3v1m0 5v1m0 4v1M15.5 15v1m0 14v1m0 16v1m0 26v1m0 4v1M16.5 11v1m0 17v1m0 1v1m0 5v1m0 1v1m0 12v1m0 13v2m0 6v1m0 1v1M17.5 5v2m0 5v2m0 11v1m0 9v1m0 20v1M18.5 5v1m0 9v1m0 7v1m0 22v1m0 2v1m0 2v1m0 9v1m0 4v1m0 13v1M19.5 0v2m0 1v1m0 2v1m0 3v1m0 23v1m0 31v1m0 4v1M20.5 2v1m0 17v1m0 2v1m0 2v1m0 39v1M21.5 8v1m0 5v1m0 11v2m0 2v1m0 1v1m0 12v1m0 15v1m0 15v1M22.5 2v1m0 1v1m0 35v1m0 18v1M23.5 4v1m0 4v3m0 9v1m0 12v1m0 14v1m0 10v1m0 8v1m0 3v1m0 6v1M24.5 23v1m0 3v1m0 2v1m0 8v1m0 6v1m0 10v1m0 12v1M25.5 15v1m0 2v1m0 11v1m0 10v1m0 19v1m0 8v1"/>
<path stroke="#f7a86a" d="M0.5 51v1M4.5 76v1M6.5 30v1M7.5 47v1M11.5 55v1M12.5 32v1M14.5 7v1m0 12v1m0 6v1m0 34v2M15.5 13v1m0 9v1m0 45v1m0 1v1m0 5v1M16.5 17v1m0 23v1m0 6v1m0 5v1m0 2v2m0 6v1m0 5v1m0 1v1m0 8v1M17.5 1v1m0 12v1m0 24v1m0 12v1m0 19v1M18.5 16v1m0 5v1m0 14v1M19.5 23v1m0 2v1m0 6v1m0 5v1m0 16v1m0 11v1m0 12v1M20.5 29v1m0 1v1m0 5v2m0 38v1M21.5 1v1m0 13v1m0 27v1m0 36v1M22.5 6v1m0 6v1m0 15v1m0 11v1m0 6v1M23.5 8v1m0 62v1M24.5 5v1m0 13v1m0 14v1m0 12v1m0 18v1m0 14v1M25.5 4v1m0 5v1m0 2v1m0 2v1m0 2v1m0 15v1m0 27v1"/>
<path stroke="#e4613f" d="M0.5 3v1m0 14v1m0 24v1m0 19v1M1.5 43v1M2.5 7v1m0 18v1m0 16v1M4.5 40v2m0 16v1M5.5 6v1m0 55v1M6.5 2v1M8.5 77v1M9.5 62v1M10.5 11v1M11.5 77v1M12.5 27v1m0 11v1M13.5 41v1M14.5 5v1m0 6v1m0 8v2m0 14v1m0 19v1m0 14v2m0 7v1M15.5 2v1m0 2v1m0 19v3m0 27v3M16.5 47v1m0 7v2m0 11v1m0 10v1M17.5 0v1m0 2v2m0 4v1m0 6v1m0 6v1m0 16v1m0 3v1m0 1v1m0 10v1m0 1v1m0 8v1m0 10v1M18.5 4v1m0 9v1m0 10v1m0 10v1m0 3v2m0 2v1m0 2v1m0 5v1m0 2v3m0 1v1m0 5v1m0 1v1m0 3v1m0 1v2m0 4v1M19.5 2v1m0 4v1m0 6v2m0 6v1m0 2v1m0 4v2m0 8v1m0 1v1m0 3v1m0 4v1m0 5v1m0 4v1m0 1v1m0 13v1M20.5 1v1m0 1v1m0 3v1m0 4v1m0 1v1m0 2v2m0 14v1m0 1v1m0 5v1m0 12v1m0 7v1m0 5v1M21.5 2v1m0 28v1m0 2v1m0 7v1m0 3v1m0 1v2m0 4v1m0 2v1m0 15v1m0 4v1M22.5 5v1m0 9v1m0 14v2m0 2v1m0 4v1m0 18v1m0 7v1m0 12v1m0 1v2M23.5 7v1m0 4v1m0 2v2m0 9v1m0 3v1m0 12v3m0 7v1m0 9v1m0 2v1M24.5 4v1m0 8v1m0 1v1m0 15v1m0 1v1m0 2v1m0 3v1m0 3v1m0 6v1m0 3v1m0 4v1m0 6v1m0 3v1m0 3v1M25.5 6v1m0 5v1m0 4v1m0 2v1m0 6v1m0 1v1m0 1v1m0 15v1m0 2v1m0 5v2m0 2v1m0 1v1m0 2v1m0 13v1m0 2v1"/>
<path stroke="#cc2d27" d="M1.5 3v1m0 11v1m0 28v1m0 34v1M2.5 27v1m0 13v1M3.5 16v1m0 49v1M4.5 55v1M8.5 19v1m0 33v1M9.5 58v1M10.5 28v1m0 12v1M11.5 53v1m0 4v1m0 1v1m0 6v1m0 7v1m0 4v1M12.5 8v1m0 39v1M13.5 77v1M14.5 4v1m0 6v1m0 11v3m0 7v1m0 8v2m0 1v2m0 8v1m0 5v1m0 2v1m0 3v1m0 5v1m0 3v1M15.5 7v1m0 3v2m0 1v1m0 4v1m0 4v1m0 4v1m0 2v1m0 2v1m0 1v1m0 10v1m0 2v1m0 1v1m0 9v1m0 2v1m0 6v1M16.5 8v1m0 5v1m0 4v1m0 1v1m0 1v1m0 11v1m0 2v1m0 7v1m0 3v1m0 9v1m0 2v1m0 8v1m0 8v1M17.5 2v1m0 4v1m0 28v1m0 16v3m0 7v1m0 3v1m0 5v1m0 4v1m0 1v1M18.5 1v1m0 4v3m0 17v1m0 1v1m0 3v1m0 1v1m0 7v1m0 2v1m0 2v1m0 1v1m0 18v1m0 1v1m0 4v1M19.5 5v1m0 2v2m0 8v1m0 1v1m0 46v1m0 1v1m0 2v1m0 6v1M20.5 6v1m0 4v1m0 3v2m0 5v1m0 1v2m0 14v1m0 9v3m0 2v2m0 6v1m0 1v1m0 5v3M21.5 3v3m0 6v1m0 10v1m0 15v1m0 12v1m0 2v1m0 2v1m0 7v1m0 2v1m0 2v1M22.5 0v1m0 2v1m0 10v1m0 2v1m0 2v1m0 1v1m0 2v1m0 1v1m0 4v1m0 5v1m0 7v1m0 4v3m0 11v1m0 7v1M23.5 0v1m0 16v1m0 1v1m0 11v1m0 10v1m0 4v1m0 4v1m0 2v1m0 6v1m0 4v1m0 7v1M24.5 8v1m0 7v1m0 8v1m0 2v1m0 3v1m0 2v1m0 1v2m0 6v1m0 12v1m0 5v1m0 3v1m0 8v1M25.5 1v1m0 5v1m0 1v1m0 1v1m0 11v1m0 4v1m0 3v1m0 1v1m0 2v1m0 8v1m0 7v2m0 2v2m0 7v1m0 6v1m0 1v1m0 4v1"/>
</g>
<g transform="translate(411.1 1292.1) scale(3.1194 3.6120)" fill="none" stroke-width="1.04">
<path stroke="#3f6fb5" d="M0.5 74v1M1.5 0v1M2.5 80v1M3.5 59v1M5.5 82v1M6.5 63v1M7.5 28v1M10.5 44v1M11.5 38v1M12.5 44v1M16.5 27v1m0 2v1m0 25v1M18.5 8v1m0 46v1m0 10v1M19.5 12v1M20.5 18v1m0 3v1m0 17v1m0 7v1M21.5 20v1m0 42v1m0 6v1M22.5 10v1m0 10v1M23.5 57v1m0 9v1m0 1v1M25.5 68v1M26.5 76v1M27.5 16v1m0 12v1M28.5 40v1m0 22v1M29.5 3v1m0 5v1m0 14v1m0 20v1m0 29v1M30.5 69v1"/>
<path stroke="#5d8fcc" d="M0.5 9v1m0 5v1m0 41v1M1.5 33v2M3.5 11v1m0 28v1m0 4v1M6.5 6v1m0 39v1m0 9v1M7.5 56v1M8.5 62v1m0 8v1M9.5 57v1M12.5 24v1m0 16v1M14.5 50v1M15.5 5v1m0 34v1M18.5 3v1m0 20v1m0 13v1M19.5 9v2M20.5 4v1M21.5 13v1m0 52v1m0 10v1M22.5 43v1m0 26v1m0 8v1M23.5 30v1m0 45v1M25.5 29v1m0 22v1m0 24v1M27.5 5v1m0 76v1M28.5 17v1m0 41v1m0 5v1M29.5 25v1m0 15v1M30.5 32v1m0 7v1m0 5v1m0 4v1m0 10v1"/>
<path stroke="#8fb8df" d="M0.5 1v1m0 20v1m0 22v1m0 4v2m0 21v1m0 6v1M1.5 16v1m0 2v1m0 6v1m0 30v1m0 18v1M2.5 19v1m0 4v1m0 5v1m0 16v1m0 5v1m0 5v1M3.5 5v2m0 29v1M4.5 34v1m0 38v1M6.5 34v1m0 9v1M8.5 20v1M9.5 4v1m0 75v1M11.5 31v1m0 27v1M12.5 8v1m0 5v1M13.5 22v2m0 8v1M16.5 50v1M18.5 52v1M19.5 16v1m0 46v1M20.5 13v1m0 7v1m0 1v1m0 11v1m0 2v1m0 27v1M21.5 0v1m0 14v1m0 7v1m0 6v2m0 2v1m0 17v1m0 9v1m0 13v1M22.5 0v1m0 29v1m0 11v1m0 15v1m0 19v1M23.5 32v1m0 23v1m0 13v1M24.5 4v1m0 30v1m0 10v1m0 18v1M25.5 4v1m0 12v1m0 6v1m0 32v1M26.5 0v1m0 18v1m0 8v1m0 29v1m0 8v1m0 13v1M27.5 12v1m0 4v1m0 6v1m0 15v1M28.5 2v1m0 1v1m0 37v1m0 8v2M29.5 14v1m0 17v1m0 32v1M30.5 5v1m0 5v1m0 7v1m0 18v1m0 14v1"/>
<path stroke="#c5def0" d="M0.5 4v1m0 2v1m0 10v1m0 8v1m0 1v1m0 8v1m0 20v1M1.5 1v1m0 8v1m0 6v1m0 18v1m0 8v1m0 19v1M2.5 4v1m0 3v1m0 8v1m0 16v1m0 4v1m0 15v1m0 8v1m0 2v1m0 6v1M3.5 13v1m0 4v1m0 1v1m0 45v1M4.5 1v1m0 5v1m0 13v1m0 54v1M5.5 17v1m0 2v1m0 15v1M6.5 26v1M7.5 33v1M8.5 21v1m0 31v1m0 23v1M9.5 23v1m0 48v1M10.5 32v1m0 12v1M12.5 48v1M13.5 77v1m0 1v1M14.5 44v1m0 9v1m0 27v1M17.5 57v1M19.5 21v1m0 3v1M20.5 45v1m0 14v1M21.5 17v1m0 18v1M22.5 23v1m0 4v1m0 4v1m0 13v1m0 1v1m0 17v1M23.5 6v1m0 33v1m0 5v1m0 24v1m0 1v1m0 5v1m0 2v1M24.5 2v2m0 1v1m0 11v1m0 32v1m0 16v1m0 13v1M25.5 22v1m0 14v1m0 1v1m0 15v1M26.5 4v1m0 15v1m0 27v1m0 3v2m0 2v1m0 2v1m0 1v1m0 2v2M27.5 21v1m0 9v1m0 6v1m0 28v1m0 6v1M28.5 11v1m0 10v1m0 26v1m0 4v1m0 18v1M29.5 12v1m0 33v1m0 14v1M30.5 26v1m0 28v1m0 1v1"/>
<path stroke="#f5f5d6" d="M0.5 2v1m0 2v1m0 2v1m0 4v2m0 6v1m0 3v1m0 4v1m0 3v1m0 6v1m0 5v1m0 5v1m0 4v1m0 2v2m0 4v1M1.5 5v1m0 3v1m0 2v1m0 7v2m0 3v1m0 12v1m0 3v2m0 4v1m0 3v2m0 2v1m0 2v2m0 2v1m0 2v1m0 5v1m0 4v1M2.5 26v1m0 1v1m0 3v1m0 33v1m0 6v1m0 5v1M3.5 8v1m0 5v1m0 11v1m0 4v1m0 9v1m0 11v1m0 24v1m0 2v1M4.5 12v1m0 22v2m0 18v1m0 19v1m0 6v1M5.5 48v1m0 4v1m0 8v2M6.5 25v1m0 6v1m0 2v2M7.5 1v1m0 73v1M8.5 30v1m0 48v1M9.5 66v1M10.5 30v1m0 18v1M11.5 56v1M12.5 19v1m0 54v1M13.5 4v1m0 76v1M14.5 33v1m0 26v1M15.5 60v1M16.5 61v1m0 6v1M17.5 6v1m0 18v1M18.5 22v1m0 47v1m0 10v1M19.5 1v1m0 42v1m0 25v1M20.5 0v1m0 5v1m0 37v1m0 10v1m0 2v1m0 17v3M21.5 3v1m0 6v1m0 5v1m0 24v1m0 5v1m0 19v1m0 1v1m0 4v1m0 7v1M22.5 2v1m0 1v1m0 9v2m0 16v1m0 6v1m0 12v1m0 13v1m0 9v1m0 3v1M23.5 1v1m0 5v1m0 8v4m0 4v1m0 16v1m0 1v1m0 9v3m0 10v1m0 1v1m0 3v1m0 5v1M24.5 10v3m0 7v1m0 4v1m0 4v1m0 5v2m0 25v1m0 4v1m0 11v1m0 1v1M25.5 6v2m0 32v1m0 3v1m0 3v1m0 13v1m0 2v2m0 2v2m0 4v1M26.5 3v1m0 1v1m0 8v1m0 1v1m0 14v2m0 7v3m0 7v1m0 6v1m0 15v1m0 3v1M27.5 1v1m0 7v2m0 24v1m0 20v1m0 1v2m0 1v2M28.5 1v1m0 6v1m0 1v1m0 7v1m0 6v1m0 4v2m0 16v1m0 12v1m0 2v1m0 2v2m0 2v1m0 4v2M29.5 21v1m0 20v3m0 3v1m0 3v1m0 10v1m0 3v1m0 5v1M30.5 3v1m0 26v1m0 2v1m0 9v1m0 5v1m0 2v1m0 3v1m0 1v3m0 7v1m0 8v1"/>
<path stroke="#fde2a0" d="M0.5 12v1m0 4v1m0 1v2m0 12v1m0 12v1m0 1v2m0 5v1m0 10v1m0 2v1m0 9v1M1.5 11v1m0 2v1m0 8v1m0 6v1m0 16v1m0 14v1m0 1v1m0 6v1m0 3v1m0 3v1m0 1v1M2.5 10v1m0 11v1m0 21v1m0 11v1m0 4v1m0 6v2m0 12v1M3.5 19v1m0 14v1m0 3v1m0 13v1m0 8v1M4.5 18v1m0 23v1M6.5 30v1M7.5 7v1m0 16v1m0 12v1M8.5 26v1M9.5 8v1m0 25v1m0 4v1m0 5v1M10.5 74v1M12.5 20v1m0 33v1m0 14v1m0 1v1M13.5 11v1m0 34v1m0 28v1M14.5 12v1m0 34v1M15.5 12v1m0 51v1m0 7v1M17.5 45v1m0 8v1m0 19v1M18.5 28v1m0 2v1m0 3v1m0 1v1M19.5 4v1m0 38v1m0 11v1m0 1v1m0 7v1m0 2v1M20.5 2v1m0 2v1m0 4v1m0 4v1m0 10v1m0 6v1m0 9v1m0 8v1M21.5 7v1m0 10v1m0 3v1m0 15v1m0 3v1m0 7v1m0 3v1m0 10v1M22.5 6v1m0 11v1m0 10v1m0 16v1m0 7v2m0 17v1M23.5 0v1m0 37v1m0 25v1M24.5 19v1m0 6v2m0 5v1m0 18v1m0 6v1M25.5 9v1m0 6v1m0 3v2m0 6v1m0 6v1m0 9v2m0 13v1M26.5 6v1m0 1v1m0 12v1m0 16v1m0 12v1m0 10v1m0 5v1m0 10v1M27.5 3v1m0 11v1m0 12v1m0 3v1m0 10v1m0 2v1m0 3v1m0 1v1M28.5 6v1m0 16v2m0 1v1m0 5v1m0 2v1m0 7v1m0 9v1m0 16v1m0 10v1M29.5 0v2m0 21v1m0 7v1m0 21v1m0 3v1m0 1v1m0 17v1M30.5 29v1m0 18v1m0 5v1m0 15v1"/>
<path stroke="#f7a86a" d="M0.5 3v1m0 38v1m0 13v1M1.5 3v1m0 3v1m0 31v1m0 1v1m0 38v1M2.5 21v1m0 14v1m0 6v1m0 10v1m0 2v2m0 13v1m0 3v1M3.5 7v1m0 16v1m0 3v1m0 17v1m0 15v1m0 6v2m0 6v1M4.5 6v1m0 1v1m0 7v1m0 12v1m0 20v1m0 2v1m0 10v1m0 9v1M5.5 1v1m0 7v1m0 6v1m0 6v2m0 2v1m0 3v1m0 9v1m0 4v1m0 11v1m0 6v1M6.5 5v1m0 1v2m0 24v1m0 7v1m0 5v1m0 6v2m0 6v1m0 2v1m0 6v1M7.5 3v1m0 1v1m0 6v1m0 2v1m0 3v1m0 16v1m0 2v1m0 10v1m0 27v1M8.5 2v1m0 12v1m0 7v1m0 5v1m0 6v1m0 6v1m0 13v1m0 2v1m0 11v1m0 1v1m0 1v1m0 4v1M9.5 1v1m0 8v1m0 6v1m0 8v1m0 3v1m0 7v1m0 7v1m0 8v1m0 9v1m0 15v1M10.5 3v1m0 14v1m0 6v1m0 3v1m0 5v2m0 2v1m0 1v1m0 4v1m0 3v1m0 3v1m0 5v1m0 1v1m0 6v1m0 10v2M11.5 14v1m0 15v1m0 8v2m0 3v2m0 6v1m0 5v1m0 8v1m0 1v1m0 9v1M12.5 2v1m0 8v1m0 1v1m0 14v1m0 11v1m0 34v1m0 1v1M13.5 27v1m0 2v1m0 2v3m0 1v1m0 2v1m0 8v1m0 3v2m0 3v1m0 14v1M14.5 3v1m0 34v1m0 2v1m0 11v1m0 5v1m0 3v1M15.5 2v1m0 6v1m0 22v1m0 1v1m0 11v1m0 8v2m0 1v1m0 2v1m0 5v2m0 1v1m0 6v2m0 2v1M16.5 0v2m0 2v1m0 3v2m0 6v1m0 8v1m0 22v1m0 2v1m0 7v1m0 2v1m0 6v1m0 6v1m0 3v1M17.5 0v1m0 1v1m0 5v1m0 9v1m0 5v1m0 1v2m0 8v1m0 5v1m0 7v1m0 14v1m0 1v1m0 4v1m0 8v1M18.5 1v1m0 3v1m0 3v1m0 9v1m0 1v1m0 20v1m0 2v1m0 5v1m0 2v1m0 2v1m0 11v1m0 7v2M19.5 6v1m0 19v1m0 2v1m0 5v2m0 2v1m0 18v1m0 2v1m0 11v2m0 4v1M20.5 1v1m0 10v1m0 3v1m0 22v1m0 14v1m0 1v1m0 2v1m0 2v1m0 6v2m0 3v1m0 4v1M21.5 1v1m0 6v1m0 10v1m0 26v1m0 32v1M22.5 19v1m0 5v2m0 8v1m0 25v1m0 1v1m0 1v1m0 5v1M23.5 2v1m0 12v1m0 4v1m0 1v1m0 2v1m0 5v1m0 26v1m0 18v1M24.5 7v2m0 4v1m0 2v1m0 34v1m0 8v1m0 3v1m0 6v1m0 2v1M25.5 14v1m0 12v1m0 15v1m0 30v1m0 1v1M26.5 11v1m0 10v1m0 37v1m0 5v1m0 7v1m0 3v1M27.5 41v1m0 11v1m0 6v1m0 4v1m0 4v1M28.5 45v1M29.5 10v1m0 24v2m0 3v1m0 9v1m0 3v1m0 1v1m0 3v1m0 3v1m0 5v2m0 4v1m0 1v2M30.5 2v1m0 1v1m0 3v1m0 15v1m0 2v1m0 6v1m0 2v1m0 40v1"/>
<path stroke="#e4613f" d="M0.5 0v1m0 5v1m0 3v2m0 11v2m0 1v1m0 1v1m0 7v1m0 6v1m0 16v1m0 2v1m0 1v1m0 2v1m0 2v2m0 3v2M1.5 2v1m0 12v1m0 2v1m0 9v1m0 6v1m0 1v1m0 2v1m0 3v1m0 1v1m0 3v1m0 3v1m0 3v1m0 2v1m0 8v1m0 2v1m0 4v1M2.5 0v1m0 2v1m0 2v1m0 4v5m0 15v1m0 3v1m0 6v1m0 2v2m0 1v1m0 1v1m0 12v1m0 1v1m0 9v1m0 1v1M3.5 0v1m0 14v2m0 13v1m0 1v1m0 6v1m0 4v1m0 3v2m0 1v1m0 3v4m0 1v1m0 2v2m0 10v1m0 3v1M4.5 2v2m0 9v2m0 4v1m0 3v6m0 3v1m0 6v3m0 3v2m0 4v1m0 4v1m0 4v2m0 2v2m0 3v1m0 6v1m0 1v1m0 1v1M5.5 0v1m0 1v1m0 2v3m0 4v1m0 1v2m0 3v1m0 1v2m0 5v1m0 3v1m0 4v1m0 1v2m0 2v3m0 1v1m0 2v1m0 1v1m0 4v1m0 1v1m0 9v1m0 1v9m0 1v1M6.5 0v1m0 2v2m0 4v1m0 1v1m0 2v3m0 1v6m0 4v2m0 7v1m0 1v2m0 2v1m0 4v2m0 2v2m0 3v5m0 4v3m0 5v1m0 1v1m0 1v2m0 1v2M7.5 0v1m0 3v1m0 1v1m0 1v1m0 1v2m0 1v1m0 4v1m0 1v2m0 1v1m0 5v3m0 6v1m0 2v1m0 3v3m0 1v1m0 1v1m0 1v2m0 2v2m0 3v1m0 3v5m0 2v2m0 5v1m0 1v1M8.5 1v1m0 6v3m0 2v2m0 1v1m0 5v1m0 1v1m0 2v2m0 2v1m0 1v3m0 1v2m0 7v1m0 2v1m0 13v2m0 2v1m0 5v1m0 6v1m0 1v1M9.5 0v1m0 1v1m0 3v2m0 4v2m0 1v1m0 2v1m0 1v1m0 1v1m0 4v1m0 1v1m0 3v1m0 1v1m0 1v1m0 2v2m0 6v3m0 7v1m0 1v4m0 3v1m0 1v2m0 6v3m0 2v1M10.5 2v1m0 2v1m0 1v1m0 2v1m0 4v3m0 2v1m0 2v2m0 6v1m0 2v1m0 2v2m0 3v2m0 3v2m0 3v2m0 1v2m0 1v2m0 1v1m0 2v1m0 6v2m0 3v4M11.5 1v1m0 2v2m0 1v4m0 5v1m0 2v1m0 5v2m0 1v2m0 2v1m0 1v1m0 2v1m0 3v1m0 4v1m0 3v1m0 2v1m0 6v1m0 1v5m0 4v1m0 2v1m0 7v1M12.5 3v2m0 2v1m0 1v2m0 1v1m0 4v2m0 2v3m0 5v1m0 3v2m0 3v1m0 4v1m0 1v2m0 4v1m0 1v1m0 3v2m0 1v1m0 1v1m0 1v1m0 1v1m0 1v1m0 3v1m0 3v1m0 5v1M13.5 13v1m0 1v2m0 2v1m0 1v1m0 14v1m0 2v1m0 1v1m0 1v1m0 3v2m0 3v1m0 4v1m0 1v2m0 1v1m0 4v1m0 6v1m0 5v1m0 1v1M14.5 5v1m0 2v4m0 2v3m0 1v3m0 1v3m0 1v1m0 2v1m0 2v1m0 1v1m0 1v1m0 3v1m0 2v1m0 1v1m0 3v1m0 14v1m0 1v1m0 2v5m0 1v2m0 1v2m0 1v1M15.5 3v2m0 3v1m0 1v2m0 2v4m0 3v1m0 2v2m0 1v1m0 5v1m0 5v1m0 2v1m0 2v1m0 2v1m0 1v1m0 8v1m0 15v1m0 3v2M16.5 3v1m0 2v1m0 6v3m0 6v3m0 3v2m0 1v3m0 3v4m0 1v1m0 4v1m0 1v1m0 4v2m0 4v1m0 2v1m0 1v1m0 1v1m0 2v1m0 1v2m0 3v1m0 1v1M17.5 1v1m0 7v2m0 5v1m0 3v1m0 1v1m0 5v1m0 1v2m0 1v1m0 4v2m0 3v2m0 4v1m0 2v2m0 1v2m0 1v1m0 1v1m0 3v1m0 1v1m0 2v1m0 1v1m0 3v1m0 1v3M18.5 0v1m0 3v1m0 1v1m0 4v1m0 6v1m0 4v1m0 6v1m0 1v1m0 3v1m0 2v3m0 2v1m0 2v1m0 2v1m0 5v1m0 2v1m0 1v1m0 2v1m0 2v1m0 3v1m0 1v1m0 1v1M19.5 0v1m0 6v1m0 5v2m0 2v1m0 1v1m0 2v1m0 1v1m0 2v1m0 4v1m0 4v2m0 1v1m0 1v1m0 4v5m0 1v2m0 5v1m0 1v1m0 4v1m0 3v2m0 2v1m0 4v3M20.5 3v1m0 3v2m0 2v1m0 7v2m0 4v1m0 1v2m0 3v1m0 1v1m0 1v2m0 8v1m0 10v1m0 5v2m0 2v1m0 3v1m0 3v1m0 4v1m0 1v1M21.5 4v3m0 2v1m0 4v1m0 9v4m0 4v1m0 7v1m0 3v2m0 3v1m0 1v1m0 3v3m0 1v1m0 4v1m0 6v1m0 1v1m0 1v1m0 2v1m0 1v2M22.5 8v1m0 2v2m0 3v1m0 5v1m0 4v1m0 3v1m0 2v1m0 1v2m0 2v2m0 2v2m0 7v1m0 2v2m0 1v1m0 2v1m0 1v1m0 3v1m0 5v1m0 2v1m0 3v1M23.5 3v3m0 2v5m0 1v1m0 8v1m0 4v2m0 6v1m0 13v2m0 9v2m0 11v1M24.5 18v1m0 4v2m0 3v1m0 2v2m0 5v1m0 4v2m0 2v1m0 5v1m0 1v1m0 2v1m0 3v1m0 3v1m0 6v1m0 1v3m0 1v1M25.5 3v1m0 1v1m0 6v1m0 2v1m0 2v1m0 4v1m0 18v1m0 4v1m0 1v1m0 3v2m0 3v2m0 1v1m0 1v2m0 13v2M26.5 1v1m0 5v1m0 5v1m0 1v1m0 1v1m0 5v1m0 2v1m0 3v1m0 3v2m0 3v1m0 3v3m0 3v1m0 5v1m0 7v1m0 5v1m0 1v1m0 3v1m0 4v1m0 1v1M27.5 4v1m0 2v1m0 5v2m0 7v2m0 1v1m0 1v1m0 8v2m0 4v1m0 2v1m0 1v1m0 1v1m0 7v1m0 6v1m0 1v1m0 10v2M28.5 0v1m0 2v1m0 1v1m0 3v1m0 2v1m0 1v1m0 5v1m0 12v1m0 2v1m0 2v1m0 1v1m0 4v1m0 3v1m0 4v1m0 2v1m0 3v1m0 3v1m0 5v1m0 7v1M29.5 2v1m0 2v1m0 1v2m0 4v1m0 1v1m0 12v3m0 3v1m0 2v1m0 9v1m0 10v1m0 3v1m0 3v1m0 1v1m0 3v1m0 8v2M30.5 1v1m0 5v1m0 1v1m0 5v1m0 2v1m0 2v1m0 1v1m0 1v1m0 5v1m0 3v2m0 5v1m0 1v1m0 5v1m0 10v1m0 3v3m0 3v2m0 1v2m0 3v1m0 1v1"/>
<path stroke="#cc2d27" d="M0.5 16v1m0 14v2m0 2v1m0 1v1m0 1v2m0 3v1m0 7v1m0 1v1m0 9v1m0 5v1m0 4v1m0 2v1m0 2v2M1.5 4v1m0 1v1m0 1v1m0 4v1m0 8v1m0 1v1m0 2v1m0 1v1m0 1v2m0 16v1m0 1v1m0 3v1m0 11v3m0 4v1m0 7v1M2.5 1v2m0 2v1m0 1v1m0 1v1m0 6v1m0 1v1m0 1v1m0 2v1m0 1v1m0 1v1m0 1v1m0 3v1m0 3v2m0 1v2m0 7v1m0 1v2m0 7v1m0 1v1m0 7v2m0 6v1m0 2v1M3.5 1v4m0 4v2m0 1v1m0 4v1m0 3v3m0 1v1m0 1v1m0 1v1m0 3v1m0 1v1m0 1v1m0 4v2m0 3v1m0 2v1m0 3v1m0 10v1m0 1v2m0 2v4m0 1v1m0 3v1m0 1v1M4.5 0v1m0 3v2m0 3v3m0 3v1m0 1v1m0 2v1m0 1v1m0 7v2m0 1v1m0 3v2m0 4v2m0 2v3m0 2v1m0 1v1m0 2v4m0 2v1m0 3v3m0 1v2m0 5v1m0 1v1M5.5 3v2m0 3v1m0 1v2m0 1v1m0 4v1m0 6v2m0 2v2m0 2v3m0 2v1m0 3v1m0 6v1m0 1v1m0 2v3m0 3v2m0 2v1m0 1v3m0 1v1m0 9v1M6.5 1v2m0 7v1m0 1v2m0 3v1m0 6v1m0 2v1m0 3v1m0 6v1m0 3v1m0 2v1m0 4v2m0 12v1m0 4v3m0 1v1m0 1v1m0 1v1m0 2v1M7.5 2v1m0 6v1m0 4v1m0 1v2m0 4v1m0 2v3m0 4v1m0 1v2m0 4v1m0 1v3m0 3v1m0 3v1m0 2v1m0 3v3m0 1v3m0 5v2m0 3v2m0 1v1m0 1v1M8.5 0v1m0 2v5m0 3v2m0 4v3m0 5v1m0 6v1m0 6v4m0 1v2m0 1v2m0 1v3m0 1v3m0 1v2m0 1v1m0 3v2m0 1v3m0 4v1m0 2v1M9.5 3v1m0 1v1m0 3v1m0 1v1m0 2v1m0 1v1m0 2v1m0 1v1m0 2v2m0 2v1m0 2v2m0 3v1m0 5v3m0 2v1m0 3v4m0 1v1m0 2v1m0 4v1m0 3v1m0 2v1m0 1v4M10.5 0v2m0 2v1m0 1v1m0 1v2m0 1v4m0 4v1m0 1v2m0 3v3m0 4v1m0 6v1m0 10v1m0 5v1m0 5v1m0 1v4m0 1v1m0 2v1m0 1v1m0 6v1M11.5 0v1m0 1v2m0 2v1m0 4v3m0 1v1m0 1v2m0 1v5m0 2v1m0 5v1m0 1v2m0 5v2m0 3v3m0 1v1m0 2v2m0 1v1m0 3v1m0 6v1m0 1v1m0 1v2m0 1v4m0 1v2M12.5 0v2m0 3v2m0 8v2m0 8v3m0 2v3m0 2v3m0 1v1m0 2v1m0 4v1m0 1v2m0 1v1m0 2v2m0 2v1m0 1v1m0 1v1m0 1v1m0 1v1m0 2v1m0 2v1m0 4v4M13.5 0v4m0 1v6m0 1v1m0 1v1m0 2v2m0 1v1m0 3v3m0 1v2m0 1v1m0 6v1m0 3v1m0 1v2m0 4v2m0 3v2m0 4v1m0 1v4m0 1v5m0 3v1m0 1v1M14.5 0v3m0 1v1m0 1v2m0 5v1m0 3v1m0 3v1m0 3v1m0 1v2m0 1v2m0 3v1m0 1v1m0 1v1m0 2v1m0 3v1m0 1v1m0 2v2m0 2v4m0 2v2m0 2v1m0 1v2m0 5v1m0 2v1m0 2v1M15.5 0v2m0 4v2m0 5v1m0 4v3m0 1v2m0 2v1m0 1v4m0 3v4m0 2v1m0 1v2m0 2v1m0 1v1m0 1v4m0 2v1m0 4v2m0 1v2m0 2v1m0 1v1m0 1v2m0 1v1m0 5v1M16.5 2v1m0 2v1m0 1v1m0 2v3m0 4v5m0 4v1m0 7v3m0 4v1m0 1v4m0 5v2m0 3v2m0 5v1m0 1v1m0 4v1m0 2v2m0 2v1m0 2v2M17.5 3v3m0 1v1m0 3v5m0 1v1m0 1v1m0 1v1m0 1v1m0 5v1m0 2v1m0 1v2m0 1v1m0 2v2m0 4v3m0 2v1m0 7v1m0 1v3m0 4v1m0 1v1m0 2v1m0 2v1m0 3v1m0 1v1M18.5 2v1m0 4v1m0 2v1m0 1v6m0 2v1m0 4v3m0 1v1m0 3v2m0 8v1m0 2v1m0 1v2m0 3v1m0 4v1m0 1v1m0 1v2m0 1v1m0 2v1m0 3v1m0 1v1m0 1v1m0 2v2m0 1v1M19.5 2v2m0 1v1m0 2v1m0 2v1m0 3v1m0 2v1m0 1v1m0 2v1m0 4v1m0 1v2m0 1v2m0 6v1m0 3v2m0 5v1m0 3v1m0 2v1m0 4v1m0 1v1m0 2v1m0 6v3M20.5 9v1m0 4v1m0 2v1m0 6v1m0 4v3m0 9v2m0 4v1m0 1v3m0 1v1m0 7v1m0 3v1m0 2v1m0 3v2m0 7v1M21.5 2v1m0 8v2m0 8v1m0 6v2m0 3v1m0 1v1m0 1v1m0 1v1m0 3v1m0 4v1m0 4v1m0 4v1m0 1v2m0 6v1m0 3v1M22.5 1v1m0 1v1m0 1v1m0 1v1m0 1v1m0 3v1m0 3v1m0 2v1m0 3v1m0 13v1m0 9v1m0 1v2m0 8v1m0 8v1m0 2v1m0 2v1m0 6v1M23.5 13v1m0 7v1m0 4v2m0 5v3m0 1v1m0 1v1m0 2v1m0 1v2m0 1v3m0 2v1m0 6v2m0 2v1m0 1v1m0 9v1m0 4v2M24.5 0v2m0 4v1m0 2v1m0 4v2m0 5v2m0 6v1m0 4v1m0 4v4m0 2v1m0 2v2m0 4v1m0 1v2m0 3v1m0 7v2m0 1v1m0 5v1M25.5 0v3m0 5v1m0 1v2m0 1v1m0 5v1m0 5v2m0 3v5m0 1v1m0 1v1m0 2v1m0 8v2m0 4v1m0 10v1m0 3v3m0 6v3M26.5 2v1m0 6v2m0 1v1m0 5v1m0 5v2m0 1v1m0 1v1m0 3v1m0 2v2m0 8v2m0 6v1m0 15v1m0 1v1M27.5 0v1m0 1v1m0 3v1m0 1v1m0 2v1m0 6v3m0 5v1m0 3v1m0 2v2m0 4v1m0 4v1m0 3v1m0 2v1m0 2v2m0 7v1m0 4v2m0 1v3m0 1v2m0 2v3M28.5 7v1m0 5v1m0 1v2m0 2v1m0 1v1m0 5v3m0 4v1m0 2v2m0 5v1m0 2v1m0 8v2m0 2v1m0 8v1m0 4v2m0 2v2m0 2v1M29.5 4v1m0 1v1m0 4v1m0 4v5m0 1v1m0 3v2m0 5v1m0 4v2m0 9v1m0 1v1m0 3v1m0 13v1m0 4v1m0 5v1M30.5 0v1m0 5v1m0 3v1m0 1v3m0 1v2m0 2v1m0 1v1m0 5v1m0 10v1m0 1v1m0 3v1m0 1v1m0 15v2m0 8v1m0 2v1m0 3v1m0 1v1"/>
</g>
<g transform="translate(72.1 1596.1) scale(3.1362 3.6108)" fill="none" stroke-width="1.04">
<path stroke="#3f6fb5" d="M0.5 4v1m0 2v1m0 5v1m0 6v1m0 3v1m0 4v2m0 1v1M1.5 2v1m0 1v1m0 2v1m0 1v1m0 1v1m0 9v1m0 1v1m0 4v1m0 1v1m0 3v1M2.5 1v1m0 6v2m0 2v1m0 4v1m0 14v1m0 1v1M3.5 2v1m0 2v1m0 3v1m0 2v1m0 3v1m0 3v1m0 1v1m0 7v1m0 2v2m0 1v1M4.5 2v2m0 6v1m0 2v1m0 13v1M5.5 3v1m0 1v3m0 2v3m0 1v1m0 2v1m0 13v2M6.5 1v1m0 7v2m0 7v1m0 7v1M7.5 0v3m0 12v1m0 1v3m0 4v1m0 2v1M8.5 2v1m0 1v1m0 4v1m0 5v1m0 4v2m0 2v1m0 1v1m0 4v1m0 2v1M9.5 8v1m0 7v1m0 9v1m0 3v1m0 1v3M10.5 4v1m0 5v1m0 3v1m0 4v1m0 1v4m0 1v1m0 2v1m0 2v1M11.5 1v1m0 2v1m0 8v1m0 2v1m0 4v1m0 3v1m0 2v1m0 3v1M12.5 13v2m0 5v1m0 1v1m0 7v1m0 3v1M13.5 3v1m0 1v1m0 6v1m0 1v1m0 2v1m0 10v1m0 2v1m0 1v1M14.5 3v1m0 9v1m0 1v1m0 5v1m0 6v1M15.5 11v2m0 1v1m0 3v2m0 5v2m0 2v1M16.5 4v2m0 3v1m0 10v1m0 1v1m0 2v1m0 3v1m0 2v3M17.5 2v1m0 3v1m0 5v2m0 5v1m0 2v1m0 7v1M18.5 0v1m0 2v1m0 1v1m0 10v2m0 1v1m0 3v1m0 4v1M19.5 12v1m0 5v1m0 10v1M20.5 3v1m0 7v1m0 7v1m0 3v1m0 4v2m0 4v1M21.5 1v2m0 2v2m0 6v2m0 4v1m0 4v1m0 5v1m0 2v2M22.5 3v2m0 16v1m0 1v1M23.5 18v1m0 2v2m0 1v1m0 2v1m0 2v1M24.5 1v1m0 6v2m0 5v1m0 16v1M25.5 2v2m0 7v1m0 3v1m0 5v1m0 2v1m0 3v1m0 3v1m0 1v1M26.5 3v1m0 3v1m0 3v1m0 2v1m0 1v1m0 2v1M27.5 0v1m0 2v1m0 6v2m0 2v1m0 1v2m0 5v1m0 3v1m0 1v1m0 4v1M28.5 1v1m0 1v1m0 4v3m0 6v4m0 3v1m0 2v2m0 1v1M29.5 1v1m0 2v1m0 1v3m0 10v2m0 1v1m0 6v2m0 3v1M30.5 1v1m0 4v1m0 1v1m0 1v3m0 3v1m0 1v1m0 2v2M31.5 8v2m0 5v1m0 5v1m0 8v1m0 2v1M32.5 4v1m0 2v3m0 2v1m0 1v1m0 2v1m0 3v5m0 4v1m0 3v1M33.5 6v1m0 9v4m0 1v2m0 1v1m0 1v1m0 1v1M34.5 0v1m0 9v1m0 9v1m0 2v1m0 3v1m0 4v1M35.5 1v1m0 16v1m0 7v1m0 1v1m0 4v1M36.5 6v1m0 6v1m0 11v2m0 1v1m0 3v1M37.5 29v1M38.5 24v1M39.5 19v1m0 3v1M40.5 7v2m0 14v2M41.5 15v1m0 7v1M42.5 10v1m0 4v1m0 2v1M43.5 13v1M44.5 7v1m0 12v1M45.5 8v1m0 3v1m0 7v1m0 7v1M46.5 6v1m0 3v1m0 4v1m0 18v1M47.5 19v1M48.5 15v1m0 9v1M49.5 2v1m0 10v1m0 4v2m0 1v1m0 6v1m0 3v1M50.5 1v1m0 3v2m0 3v1m0 6v1m0 2v1m0 1v2m0 2v1m0 3v1m0 3v1M52.5 31v1M53.5 2v1m0 2v1m0 1v2m0 1v1m0 12v1M55.5 1v1m0 15v1m0 15v1M56.5 4v1m0 2v3m0 4v3m0 6v1m0 2v1m0 5v2M57.5 6v1m0 4v1m0 7v1M58.5 2v1m0 1v1m0 4v1m0 7v1m0 10v1m0 2v1m0 1v1M59.5 15v1m0 13v2M60.5 2v1m0 1v1m0 4v1m0 12v1M61.5 12v1m0 4v1m0 4v1m0 1v1m0 5v2M62.5 6v1m0 4v1m0 2v1M63.5 6v1m0 21v1M64.5 3v1m0 3v1m0 3v1m0 17v1M65.5 3v1m0 12v2m0 1v1m0 5v1M66.5 1v1m0 3v1m0 2v1m0 1v1m0 2v1m0 1v1m0 2v1m0 8v1m0 1v1M67.5 5v1m0 20v1m0 8v1M68.5 1v2m0 10v1m0 6v2m0 1v1m0 1v1m0 5v1M69.5 27v1M70.5 0v1m0 1v1m0 1v1m0 6v2m0 14v2m0 1v1m0 3v1M71.5 0v2m0 1v1m0 3v1m0 1v2m0 3v2m0 1v1m0 1v1m0 1v1m0 2v1m0 2v1m0 6v1M72.5 0v3m0 1v1m0 1v1m0 1v4m0 2v1m0 1v1m0 2v2m0 2v1m0 1v1m0 2v3M73.5 3v1m0 11v2m0 8v1m0 2v3m0 2v1M74.5 4v1m0 17v2m0 2v1M75.5 7v1m0 5v1m0 19v1M76.5 0v1m0 2v1m0 5v1m0 4v1m0 6v1M77.5 1v1M78.5 10v1M79.5 0v1m0 15v1m0 9v1m0 4v1"/>
<path stroke="#5d8fcc" d="M0.5 2v1m0 2v1m0 2v1m0 1v2m0 2v3m0 10v2m0 2v1m0 1v1M1.5 13v4m0 1v1m0 1v1m0 3v1m0 6v1M2.5 5v3m0 2v1m0 3v2m0 2v1m0 3v2m0 6v1M3.5 0v1m0 6v1m0 3v1m0 1v1m0 5v1m0 3v1m0 7v1M4.5 4v1m0 2v2m0 3v1m0 6v1m0 8v2m0 1v3M5.5 1v1m0 2v1m0 3v1m0 7v1m0 2v2m0 2v1m0 1v3m0 6v1M6.5 17v1m0 1v3m0 2v1m0 3v1m0 1v3M7.5 12v1m0 10v1m0 2v1m0 2v1M8.5 1v1m0 4v2m0 4v1m0 1v1m0 15v1m0 2v1m0 2v1M9.5 0v1m0 3v4m0 5v1m0 3v1m0 1v1m0 3v1m0 1v1m0 2v1M10.5 0v1m0 1v1m0 3v1m0 6v1m0 1v1m0 2v1m0 14v2M11.5 0v1m0 5v1m0 4v2m0 7v1m0 1v1m0 1v1m0 5v1m0 2v1m0 1v1M12.5 0v1m0 1v2m0 11v1m0 2v2m0 4v1m0 1v2m0 7v1M13.5 4v1m0 1v2m0 1v3m0 1v1m0 1v1m0 3v1m0 3v2m0 5v1m0 4v1M14.5 0v1m0 1v1m0 2v1m0 10v1m0 6v1m0 1v2m0 2v1m0 4v1M15.5 0v1m0 1v1m0 1v2m0 2v1m0 4v1m0 2v1m0 14v1m0 1v1M16.5 2v1m0 3v2m0 4v1m0 2v2m0 1v1m0 2v1m0 6v1m0 1v1M17.5 1v1m0 1v1m0 4v1m0 7v1m0 1v1m0 2v1m0 3v1M18.5 1v1m0 4v3m0 5v1m0 7v1m0 1v2m0 5v1M19.5 2v1m0 1v2m0 8v1m0 4v2m0 2v1m0 1v1m0 1v1M20.5 1v1m0 2v1m0 1v1m0 3v1m0 2v1m0 2v1m0 4v1m0 4v1m0 3v2m0 1v1M21.5 3v1m0 7v2m0 4v1m0 5v1m0 4v1m0 2v1M22.5 1v2m0 3v5m0 1v1m0 5v1m0 5v2m0 3v2m0 2v2M23.5 4v1m0 5v1m0 4v2m0 8v1m0 6v1M24.5 5v3m0 2v1m0 2v1m0 2v1m0 1v1m0 1v1m0 2v1m0 2v2m0 6v2M25.5 0v2m0 2v1m0 1v1m0 3v1m0 3v1m0 3v1m0 6v2m0 2v1M26.5 0v2m0 6v1m0 1v1m0 4v1m0 1v2m0 1v2m0 2v1m0 4v1m0 1v2m0 1v2M27.5 1v2m0 1v1m0 7v1m0 2v1m0 3v2m0 3v2m0 2v1m0 1v1M28.5 0v1m0 1v1m0 1v2m0 10v1m0 4v1m0 3v1m0 7v1M29.5 5v1m0 5v1m0 3v1m0 2v1m0 5v1m0 2v1M30.5 2v2m0 5v1m0 7v1m0 1v2m0 2v1m0 1v1m0 2v2m0 1v1m0 1v1m0 1v2M31.5 3v1m0 1v1m0 4v1m0 11v4m0 2v1m0 2v1m0 2v1M32.5 2v1m0 8v1m0 1v1m0 4v2m0 6v1m0 5v2M33.5 0v1m0 1v1m0 2v1m0 1v1m0 2v2m0 8v1m0 4v1m0 3v1m0 3v1M34.5 1v2m0 1v1m0 1v2m0 1v1m0 5v4m0 5v1m0 6v1M35.5 2v1m0 2v1m0 5v1m0 1v1m0 2v1m0 4v1m0 7v1M36.5 1v1m0 2v1m0 3v2m0 13v1m0 3v1m0 5v1M37.5 3v2m0 23v1m0 4v1M38.5 6v2m0 4v1m0 1v1m0 8v1m0 4v1M39.5 2v1m0 24v2M40.5 5v1m0 5v1m0 16v1M41.5 6v2m0 5v1m0 6v1m0 12v1M42.5 11v1m0 5v1m0 2v1m0 6v1M43.5 6v1m0 14v1m0 3v1M44.5 2v1m0 2v1m0 13v1m0 3v1m0 5v1M45.5 7v1m0 25v1M46.5 5v1M47.5 21v1m0 3v1m0 3v1m0 1v1M48.5 10v1m0 16v2m0 3v1M49.5 30v1m0 2v1M50.5 11v1m0 17v1M51.5 10v1m0 17v1m0 4v2M52.5 11v3m0 20v1M53.5 14v1m0 5v2M54.5 6v1m0 11v1m0 9v1M55.5 6v1m0 1v1m0 26v1M57.5 0v2m0 6v2m0 5v2m0 15v1M58.5 0v1m0 23v2m0 1v1m0 1v2M59.5 0v2m0 3v1m0 2v1m0 2v1m0 7v3M60.5 7v1m0 12v1m0 2v1m0 4v1M61.5 4v1m0 2v1m0 2v1m0 3v1m0 1v1m0 3v2m0 3v2M62.5 10v1m0 5v1m0 14v2M63.5 0v1m0 7v2M64.5 0v1m0 3v1m0 10v1m0 6v1m0 4v1M65.5 6v2m0 14v1m0 6v1m0 2v1M66.5 6v1M67.5 0v2m0 16v1m0 3v1m0 8v1m0 2v1M68.5 22v1M69.5 8v2m0 10v1m0 2v1M70.5 5v1m0 7v7m0 4v2m0 3v1m0 1v1m0 1v1M71.5 2v1m0 2v2m0 1v1m0 2v3m0 2v1m0 1v1m0 1v1m0 1v1m0 2v2m0 3v1m0 1v2m0 1v1M72.5 3v1m0 3v1m0 4v2m0 1v1m0 1v2m0 2v2m0 1v1m0 1v2m0 3v4m0 1v1M73.5 2v1m0 5v1m0 1v1m0 6v1m0 2v1m0 5v1m0 7v1M74.5 0v1m0 1v1m0 2v1m0 1v1m0 2v1m0 4v2m0 3v1m0 3v1m0 4v3M75.5 21v1m0 3v1M76.5 7v1m0 11v1m0 6v2M77.5 3v2m0 14v1m0 11v2M78.5 14v1m0 5v1m0 1v1m0 7v1M79.5 6v1m0 2v1m0 15v1"/>
<path stroke="#8fb8df" d="M0.5 0v1m0 2v1m0 19v1m0 10v1M1.5 26v1m0 5v1m0 2v2M2.5 19v1m0 7v1m0 1v1m0 1v1m0 1v1m0 1v1M3.5 21v1m0 2v3m0 1v1M4.5 0v2m0 4v1m0 2v1m0 6v1m0 19v1M5.5 9v1m0 5v1m0 13v2M6.5 0v1m0 2v1m0 2v2m0 5v3m0 6v2m0 1v1M7.5 3v1m0 17v1m0 3v1m0 2v1m0 1v2M8.5 11v1m0 1v1m0 3v2M9.5 22v1m0 8v1M10.5 11v1m0 15v1m0 2v1M11.5 17v1M12.5 7v1m0 9v1m0 3v1m0 6v1m0 2v2m0 3v1M13.5 1v1m0 14v1m0 9v1m0 7v1M14.5 10v1m0 13v1M15.5 32v1m0 1v1M16.5 0v2m0 6v1m0 2v1M17.5 0v1m0 3v1m0 5v1m0 4v1m0 1v1m0 14v1m0 1v2M18.5 4v1m0 10v1m0 11v1m0 2v1m0 5v1M19.5 3v1m0 9v1m0 3v1m0 4v1m0 12v1M20.5 15v1m0 8v2m0 1v1m0 4v1M21.5 0v1m0 6v1m0 2v1m0 11v1m0 4v1M22.5 0v1m0 16v1m0 9v2m0 2v1M23.5 7v3m0 1v1m0 1v1m0 5v2m0 5v1m0 1v1m0 4v1M24.5 3v1m0 8v1m0 1v1M25.5 8v1m0 8v1M26.5 4v3m0 2v1m0 12v1M27.5 6v4m0 3v1M28.5 11v1m0 20v1m0 3v1M29.5 9v2m0 5v2m0 5v1m0 8v1M30.5 7v1m0 6v2m0 8v1m0 5v1M31.5 2v1m0 3v1m0 4v2m0 1v1m0 11v1M32.5 1v1m0 1v1m0 2v1m0 3v1m0 16v3m0 6v1M33.5 32v1m0 3v1M34.5 5v1m0 5v1m0 1v2m0 13v2M35.5 3v1m0 4v1m0 25v1M36.5 19v1m0 2v1M37.5 1v1m0 6v1m0 16v1m0 1v1m0 6v1m0 1v1M38.5 9v1m0 17v1m0 8v1M39.5 11v1m0 23v1M40.5 0v1M41.5 4v1m0 6v1M42.5 25v1m0 2v1m0 1v1m0 2v1M43.5 4v1m0 22v1M44.5 12v1m0 13v1M45.5 3v2M46.5 3v1m0 10v1m0 2v1m0 3v2M47.5 2v1m0 6v1m0 8v1m0 7v1M48.5 11v1m0 9v1m0 7v1M49.5 1v1m0 1v1m0 8v1m0 13v1M50.5 15v1m0 2v2m0 5v1m0 7v1M51.5 15v1m0 4v1M52.5 0v1m0 8v1m0 15v1m0 1v1m0 2v1m0 1v1M53.5 1v1M54.5 15v1M55.5 18v1m0 11v1M56.5 27v1m0 1v1M57.5 5v1m0 11v1M58.5 8v1m0 5v1m0 3v1m0 2v2m0 3v1M59.5 22v1m0 4v1m0 6v1M60.5 5v2m0 23v1m0 5v1M62.5 18v1m0 15v1M63.5 2v1m0 12v1m0 14v1M64.5 18v1M65.5 0v1m0 1v1m0 23v1M66.5 0v1m0 2v1m0 7v1m0 2v1m0 11v1M67.5 10v1m0 2v3m0 11v1M68.5 34v1M69.5 1v1m0 1v1m0 1v1m0 4v3m0 16v1m0 6v1M70.5 1v1M74.5 17v1M75.5 3v1m0 20v1m0 2v1m0 1v1M76.5 1v1m0 14v1m0 5v1m0 5v1m0 2v2M77.5 7v1m0 5v1m0 6v2m0 2v2m0 8v1M78.5 0v1m0 8v1m0 8v2m0 4v1M79.5 14v1m0 8v1m0 12v1"/>
<path stroke="#c5def0" d="M0.5 1v1m0 4v1m0 5v1m0 8v1M1.5 0v1m0 7v1m0 24v1M2.5 2v1m0 22v1M3.5 3v1m0 6v1m0 4v1m0 1v2m0 8v1M4.5 5v1m0 9v1m0 1v1m0 3v1M5.5 2v1m0 19v1m0 1v1m0 3v1M6.5 5v1m0 5v1m0 4v1m0 12v1m0 5v2M7.5 4v1m0 1v1m0 4v1m0 2v1m0 17v1m0 3v1M8.5 8v1m0 19v2m0 5v1M9.5 9v1m0 1v1m0 15v1m0 1v1m0 6v1M10.5 1v1m0 3v1m0 19v1M11.5 2v1m0 11v2m0 2v1m0 12v1m0 2v1M12.5 1v1m0 3v2m0 1v3M13.5 20v1m0 6v1M14.5 8v1m0 2v1m0 2v1m0 2v1m0 2v1m0 14v1M15.5 7v1m0 7v1m0 4v3m0 13v1M16.5 10v1m0 3v1m0 8v1m0 3v1M17.5 20v1m0 2v1m0 7v1m0 1v1M18.5 9v1m0 8v1m0 15v1M19.5 6v1m0 4v1M20.5 0v1m0 8v1m0 8v1m0 17v1M21.5 8v2m0 8v1m0 13v1M23.5 0v2m0 4v1m0 5v1m0 16v1M24.5 24v2M25.5 5v1m0 6v2m0 8v1m0 10v1m0 1v1M26.5 12v2m0 12v1m0 1v1m0 1v1m0 2v1M27.5 26v1M28.5 26v1m0 7v1M29.5 0v1m0 11v3m0 13v1m0 2v1m0 1v1M30.5 0v1m0 3v2m0 21v1m0 6v1M31.5 1v1m0 5v1m0 8v1m0 1v1m0 13v1m0 2v1M32.5 5v1m0 10v1m0 14v1M33.5 4v1m0 10v1m0 18v1M34.5 3v1m0 4v1m0 25v1M35.5 0v1m0 8v1m0 4v1m0 4v1m0 2v2m0 1v1m0 6v1m0 3v1M36.5 0v1m0 4v1m0 28v1M37.5 2v1m0 7v1m0 3v1m0 11v1m0 3v1m0 1v1M38.5 1v1m0 1v2m0 3v1m0 11v2m0 3v1m0 8v1M39.5 4v2m0 1v2m0 4v1m0 10v1m0 8v1M40.5 6v1m0 12v1m0 5v1m0 6v1M41.5 3v1m0 27v1M42.5 0v1m0 6v1m0 1v1m0 12v1M43.5 16v1m0 12v1m0 4v1M44.5 6v1m0 1v1m0 26v1M45.5 0v1m0 12v1m0 1v1m0 20v1M46.5 7v1m0 1v1m0 2v1m0 6v2m0 5v3M47.5 0v2m0 11v1m0 6v1m0 11v2M48.5 7v1m0 26v1M49.5 10v1m0 6v1m0 4v1m0 2v1m0 5v1m0 3v1M50.5 21v1M51.5 0v1m0 1v1M52.5 3v1m0 19v1m0 2v1m0 9v1M53.5 0v1m0 23v1M54.5 2v1m0 1v2m0 4v1m0 16v1M55.5 3v3m0 3v2m0 1v1m0 10v1m0 7v1m0 2v1M56.5 19v1m0 10v2M57.5 28v1m0 6v1M59.5 2v1M60.5 3v1m0 9v1m0 1v1m0 5v1M61.5 0v1m0 1v1m0 8v1m0 7v1M62.5 4v1m0 2v1m0 5v1m0 3v1m0 2v1m0 1v1m0 4v1m0 1v1m0 5v1M63.5 7v1m0 9v1m0 5v2m0 2v1m0 1v1m0 4v2M64.5 12v1m0 3v1m0 4v1m0 14v1M65.5 1v1m0 12v1m0 5v1M66.5 9v1m0 6v1m0 14v1M67.5 6v1m0 14v1m0 2v2m0 6v1M68.5 27v2M69.5 6v1m0 10v1m0 13v1M70.5 22v1m0 12v1M71.5 23v1m0 5v1m0 1v1M73.5 0v1m0 20v1M74.5 6v1m0 1v1m0 18v1m0 5v1m0 1v1M75.5 1v1m0 3v2m0 3v1m0 23v2M76.5 2v1m0 21v1M77.5 2v1m0 11v1m0 2v1m0 4v1m0 12v1M78.5 5v1m0 9v2m0 15v1m0 1v1M79.5 8v1m0 6v1m0 8v1m0 5v1m0 2v1"/>
<path stroke="#f5f5d6" d="M0.5 17v1m0 7v1m0 9v1M1.5 6v1m0 10v1m0 4v1M2.5 24v1m0 1v1m0 1v1m0 7v1M3.5 4v1m0 9v1m0 14v1m0 5v1M4.5 20v1m0 5v1M5.5 0v1m0 34v2M6.5 34v1M7.5 7v2m0 7v1m0 16v1m0 1v1M8.5 3v1m0 1v1m0 17v1m0 3v1m0 4v1M9.5 1v1m0 1v1m0 10v1m0 9v1M10.5 3v1m0 4v1m0 11v1m0 14v1M11.5 5v1m0 13v1m0 16v1M12.5 11v1M13.5 8v1m0 12v2m0 6v1m0 6v1M14.5 1v1m0 2v1m0 7v1M15.5 1v1m0 1v1m0 13v1m0 5v2m0 3v1m0 1v1M16.5 3v1m0 9v1m0 5v1M17.5 27v3M18.5 11v1m0 8v1m0 8v1m0 3v1m0 1v1M19.5 7v1m0 13v1m0 9v1m0 4v1M20.5 35v1M21.5 16v1m0 8v1m0 10v1M22.5 14v3m0 3v1m0 11v1m0 2v1M23.5 3v1m0 13v1m0 17v2M24.5 21v1m0 14v1M25.5 9v1m0 9v1m0 11v1M26.5 2v1M27.5 22v1m0 12v2M28.5 6v2m0 5v2M29.5 26v1m0 8v1M30.5 13v1M31.5 17v1m0 11v1M32.5 0v1m0 14v1m0 19v1M33.5 30v2M34.5 12v1m0 8v1m0 4v1m0 6v1M35.5 7v1m0 2v1m0 6v1m0 2v1M36.5 2v2m0 3v1m0 2v2m0 8v2m0 2v1m0 6v1m0 3v1M37.5 11v1m0 3v3m0 2v1m0 2v2M38.5 0v1m0 4v1m0 4v1m0 2v1m0 1v2m0 2v1m0 6v1m0 2v1m0 2v2m0 1v1M39.5 0v1m0 9v1m0 1v1m0 7v3m0 2v1m0 3v1m0 6v1M40.5 1v1m0 2v1m0 8v5m0 3v2m0 6v2m0 2v2M41.5 1v2m0 2v1m0 3v2m0 1v1m0 3v4m0 4v2m0 1v4m0 3v1M42.5 1v2m0 2v2m0 1v1m0 5v1m0 1v1m0 4v1m0 4v1m0 5v1M43.5 2v2m0 3v1m0 4v1m0 1v2m0 2v1m0 3v3m0 3v1m0 2v3m0 1v2M44.5 0v2m0 1v2m0 4v1m0 1v1m0 1v1m0 4v1m0 3v1m0 4v2m0 2v2m0 1v1m0 1v1M45.5 1v2m0 7v2m0 2v1m0 8v5m0 4v1M46.5 0v2m0 6v1m0 7v1m0 7v1m0 4v1m0 5v1M47.5 15v3m0 10v1M48.5 5v1m0 6v2m0 4v1m0 7v1m0 9v1M49.5 6v1m0 1v2m0 1v1m0 2v1M50.5 2v1m0 10v1m0 10v1m0 3v1M51.5 12v3m0 14v1m0 1v1m0 3v2M52.5 14v1m0 1v1m0 1v1M53.5 3v1m0 9v1m0 22v1M54.5 12v1m0 1v1m0 5v1m0 3v1m0 1v1m0 5v1m0 3v1M55.5 19v1m0 5v1m0 10v1M56.5 1v1m0 16v1m0 16v1M57.5 18v1m0 2v3m0 6v2m0 4v1M58.5 19v1m0 12v1m0 2v1M59.5 36v1M60.5 10v1m0 6v1m0 9v1m0 6v2M61.5 8v1m0 4v1m0 19v1M62.5 23v1m0 1v1M63.5 3v2m0 17v1m0 3v1m0 6v1M64.5 5v1m0 14v1m0 14v1M65.5 5v1m0 6v2m0 21v1M66.5 12v1m0 12v1m0 8v2M67.5 16v1M68.5 14v1m0 20v2M69.5 0v1m0 13v1m0 3v1M70.5 7v1m0 1v1M71.5 36v1M73.5 1v1m0 2v1m0 30v1M74.5 36v1M75.5 12v1m0 2v2m0 13v1m0 5v1M76.5 8v1m0 21v1m0 5v1M77.5 6v1m0 29v1M78.5 1v1m0 1v2m0 12v1m0 3v1m0 9v1m0 1v1m0 1v1M79.5 11v2m0 22v1"/>
<path stroke="#fde2a0" d="M0.5 9v1m0 16v1m0 9v1M1.5 3v1m0 6v1m0 1v1M3.5 1v1m0 6v1M4.5 18v1m0 16v1M6.5 8v1M7.5 9v2m0 11v1M9.5 20v1m0 14v1M10.5 7v1m0 28v1M11.5 26v1M12.5 4v1m0 18v1M13.5 32v1M14.5 7v1m0 1v1m0 23v1m0 2v1M15.5 6v1m0 28v1M16.5 17v1m0 13v1m0 3v2M17.5 5v1m0 20v1M18.5 21v1M19.5 8v1m0 15v1m0 7v1m0 1v1M20.5 8v1m0 11v1M21.5 21v1m0 4v1M22.5 5v1m0 20v1m0 9v1M23.5 2v1M24.5 2v1m0 8v1m0 5v1M25.5 16v1m0 19v1M26.5 23v1m0 1v1m0 10v1M27.5 31v1M28.5 12v1m0 2v1m0 15v1m0 3v1M29.5 25v1m0 10v1M30.5 26v1M31.5 4v1m0 8v1m0 5v2m0 6v1m0 8v1M33.5 8v1m0 3v1m0 22v1M34.5 25v1m0 9v2M35.5 6v1m0 8v1m0 8v1m0 2v1m0 7v1M36.5 12v1m0 1v1m0 1v3m0 10v2M37.5 0v1m0 4v3m0 4v2m0 4v2m0 15v1M38.5 2v1m0 8v1m0 5v2m0 3v1m0 7v1M39.5 6v1m0 2v1m0 7v2m0 11v3M40.5 2v2m0 5v1m0 2v1m0 5v1m0 7v2m0 7v2M41.5 0v1m0 13v1m0 6v1m0 4v1m0 8v2M42.5 3v1m0 8v2m0 5v1m0 9v1m0 5v2M43.5 0v1m0 4v1m0 3v3m0 8v1m0 5v1m0 3v1M44.5 10v1m0 5v1m0 8v1m0 4v1m0 2v1M45.5 6v1m0 9v4m0 2v1m0 6v3m0 2v2M46.5 11v1m0 18v2m0 1v1M47.5 3v6m0 1v1M48.5 1v1m0 14v1m0 2v1m0 10v1m0 4v1M49.5 4v1M50.5 0v1m0 2v1m0 27v1m0 3v2M51.5 7v1m0 9v3M52.5 1v2m0 2v1m0 1v1m0 25v1M53.5 28v1m0 1v1m0 1v1m0 2v1M54.5 35v1M55.5 2v1m0 11v1m0 14v1m0 2v1M56.5 36v1M57.5 2v1m0 7v1m0 13v1m0 4v1M58.5 12v1m0 7v1m0 15v1M59.5 13v1m0 10v1m0 7v2m0 1v1M60.5 18v1M61.5 5v2m0 16v1m0 11v1M62.5 26v1m0 3v1m0 5v1M63.5 1v1m0 9v1m0 7v1m0 16v1M64.5 14v1m0 10v1m0 4v1m0 2v1M65.5 8v1m0 21v1m0 5v1M66.5 28v1M67.5 4v1m0 25v1m0 5v1M68.5 16v1M69.5 15v1m0 10v1m0 7v2M70.5 36v1M71.5 4v1m0 23v1M72.5 35v1M73.5 5v2M75.5 22v1M76.5 5v1m0 19v1M78.5 7v1m0 28v1M79.5 2v1m0 17v3m0 9v1"/>
<path stroke="#f7a86a" d="M0.5 18v1M1.5 19v1M4.5 22v1M6.5 2v1m0 1v1m0 7v1M7.5 13v1M8.5 0v1m0 9v1m0 14v1M9.5 21v1M10.5 9v1m0 6v1m0 14v1M14.5 22v1m0 7v1M17.5 24v1m0 11v1M18.5 32v1M19.5 0v1m0 15v1M20.5 5v1M21.5 35v1M22.5 11v1M27.5 33v1M29.5 2v2M33.5 13v1M34.5 22v1M37.5 9v1M39.5 15v1m0 10v1M40.5 10v1M41.5 8v1m0 13v1m0 9v1M43.5 1v1M44.5 21v1M46.5 13v1m0 9v1m0 8v1M47.5 22v1m0 12v2M48.5 23v1M49.5 0v1m0 14v2M50.5 27v1M51.5 5v1m0 5v1m0 11v2M52.5 6v1m0 8v1m0 1v1m0 1v1m0 9v1M53.5 16v2m0 9v1m0 3v1m0 2v1M54.5 25v1m0 5v1M55.5 13v1M56.5 3v1m0 1v1m0 7v1m0 20v1M57.5 3v1m0 21v1M58.5 7v1m0 7v1m0 7v1M59.5 10v1m0 5v1M60.5 12v1m0 18v1M61.5 36v1M62.5 8v1M63.5 12v1m0 12v1m0 6v1M64.5 10v1m0 2v1m0 17v1M65.5 10v1m0 12v2M66.5 20v1m0 1v1M67.5 9v1m0 9v1M68.5 4v1m0 24v1M69.5 24v1m0 8v1M70.5 10v1M74.5 1v1m0 12v1m0 4v1m0 8v1M76.5 6v1m0 22v1m0 5v1M77.5 18v1M78.5 27v1M79.5 28v1m0 5v1"/>
<path stroke="#e4613f" d="M1.5 1v1m0 3v1m0 21v1m0 1v1M2.5 3v2m0 6v1m0 1v1m0 7v1M3.5 6v1m0 25v1M4.5 11v1m0 11v1m0 6v1M5.5 21v1m0 11v1M6.5 27v1m0 5v1M7.5 34v1M8.5 19v1m0 2v1M9.5 10v1m0 1v1m0 2v1M10.5 17v1m0 10v1M11.5 7v2m0 14v1M12.5 16v1m0 16v1M13.5 0v1m0 17v1m0 6v1M14.5 18v1m0 8v1m0 4v1M15.5 9v1M17.5 7v1m0 1v1M18.5 10v1M19.5 9v1m0 16v1m0 3v1M20.5 7v1m0 4v1m0 4v1M21.5 20v1M22.5 13v1m0 5v1M23.5 5v1m0 25v1M24.5 4v1m0 23v1m0 2v1M25.5 23v1m0 3v1m0 2v1M26.5 27v1M27.5 18v1M28.5 23v1m0 5v1M32.5 20v1M33.5 14v1m0 12v1M34.5 19v1m0 10v1M35.5 12v1m0 17v1M36.5 36v1M37.5 31v1M39.5 1v1m0 1v1M40.5 20v1M42.5 4v1m0 19v1m0 6v1M43.5 17v1M44.5 14v2m0 1v1M45.5 21v1M46.5 4v1m0 13v1m0 6v1M47.5 12v1m0 10v1m0 6v1m0 3v1M48.5 0v1m0 5v1m0 2v1m0 12v1m0 1v1M49.5 5v1m0 1v1m0 19v1m0 1v1m0 4v1m0 1v1M50.5 4v1m0 2v2m0 5v1M51.5 3v2m0 1v1m0 1v1m0 7v1m0 4v2m0 2v1M52.5 35v1M53.5 11v1m0 3v1m0 2v2m0 2v1m0 2v2M54.5 0v2m0 7v1m0 1v1m0 1v1m0 2v2m0 4v2m0 5v2M55.5 0v1m0 14v2m0 7v1M56.5 0v1m0 9v1m0 9v1m0 3v1m0 3v1M57.5 20v1m0 5v1m0 6v2M58.5 10v1m0 2v1m0 2v1M59.5 6v2m0 1v1m0 4v1m0 2v2m0 6v2m0 1v1M60.5 0v1m0 10v1m0 2v1m0 9v1M61.5 18v1m0 8v1m0 1v1m0 2v1M62.5 0v2m0 3v1m0 3v1m0 5v1m0 3v1m0 4v1M63.5 13v2m0 3v1m0 1v1m0 10v1M64.5 2v1m0 3v1m0 1v1m0 8v1m0 6v1m0 1v1m0 1v1m0 3v1m0 1v1M65.5 4v1m0 6v1m0 9v1m0 5v2m0 2v1m0 1v2M66.5 19v1m0 1v1m0 1v1M67.5 3v1m0 7v2M68.5 6v1m0 1v1m0 3v1m0 2v1m0 1v2m0 11v1m0 2v1M69.5 4v1m0 8v1m0 5v1m0 2v1m0 2v1m0 6v1M70.5 3v1m0 16v2m0 1v1M72.5 5v1M73.5 7v1m0 1v1m0 2v1m0 6v1m0 2v2m0 12v1M74.5 12v1m0 5v1m0 2v1m0 3v1M75.5 2v1m0 1v1m0 3v1m0 2v1m0 11v1m0 2v1m0 4v1M76.5 11v2m0 4v2m0 4v1M77.5 12v1m0 15v1m0 1v1M78.5 6v1m0 1v1m0 2v1m0 11v1m0 2v1m0 1v1M79.5 1v1m0 8v1m0 8v1m0 7v1"/>
<path stroke="#cc2d27" d="M0.5 19v1m0 2v1M1.5 25v1M2.5 0v1m0 15v1m0 3v1M4.5 14v1m0 9v2m0 8v1M5.5 13v1m0 4v1M7.5 5v1m0 14v1M8.5 16v1M9.5 2v1m0 15v1M10.5 12v1M11.5 3v1m0 5v2m0 16v1m0 1v1M12.5 12v1m0 12v1m0 3v1M13.5 2v1M14.5 6v1m0 12v1m0 11v1M15.5 10v1m0 16v1M16.5 24v1m0 1v1M17.5 11v1m0 2v1M18.5 2v1m0 9v2m0 12v1M19.5 1v1m0 8v1m0 4v1m0 12v1m0 4v1M20.5 2v1m0 11v1m0 7v1M21.5 4v1m0 10v1m0 13v1M22.5 22v1M23.5 14v1m0 8v1m0 10v1M24.5 0v1m0 18v1m0 2v1m0 6v2m0 2v1M25.5 7v1m0 12v1M27.5 5v1m0 15v1m0 10v1M28.5 22v1M29.5 21v1M30.5 32v1M31.5 0v1M33.5 1v1m0 1v1m0 5v1m0 13v1M35.5 4v1m0 26v1M36.5 15v1M37.5 21v2M38.5 31v1M39.5 14v1m0 1v1m0 17v1M40.5 31v1M42.5 23v1m0 10v1M43.5 8v1m0 10v1M44.5 24v1M45.5 5v1m0 3v1M46.5 2v1m0 33v1M47.5 11v1m0 2v1m0 9v1m0 2v1M48.5 2v3m0 3v1m0 5v1m0 2v1m0 2v1m0 10v1m0 1v1M49.5 20v1m0 2v2M50.5 9v1m0 2v1m0 3v1m0 15v1M51.5 1v1m0 7v1m0 16v2m0 2v1m0 1v1M52.5 4v1m0 3v1m0 1v1m0 9v3m0 1v1m0 3v1M53.5 4v1m0 1v1m0 2v1m0 2v1m0 16v1m0 3v1M54.5 3v1m0 3v2m0 10v1m0 1v1m0 11v2M55.5 7v1m0 3v1m0 8v3m0 3v3M56.5 2v1m0 3v1m0 4v2m0 4v1m0 3v2m0 2v1M57.5 4v1m0 2v1m0 4v3m0 12v1M58.5 1v1m0 1v1m0 1v2m0 4v1m0 22v1M59.5 3v2m0 7v1m0 10v1m0 7v1M60.5 1v1m0 6v1m0 7v1m0 2v1m0 5v2m0 2v1m0 2v2M61.5 1v1m0 1v1m0 5v1m0 5v1m0 12v1m0 5v1M62.5 2v2m0 8v1m0 8v1m0 6v1m0 4v1M63.5 5v1m0 4v1m0 5v1m0 4v1M64.5 1v1m0 7v1m0 9v1m0 3v1M65.5 9v1m0 5v1m0 2v1M66.5 2v1m0 1v1m0 2v1m0 9v1m0 6v1m0 5v1m0 1v2m0 2v1M67.5 2v1m0 4v2m0 8v1m0 2v1m0 2v1m0 4v2m0 3v1M68.5 0v1m0 2v1m0 1v1m0 1v1m0 1v3m0 7v1m0 4v1m0 1v1m0 5v1M69.5 2v1m0 4v1m0 8v1m0 4v1m0 6v1m0 1v1M70.5 6v1m0 1v1m0 17v1m0 5v1M73.5 11v1m0 1v2m0 3v1m0 5v1m0 2v1m0 3v2M74.5 3v1m0 5v1m0 1v1m0 1v1m0 18v1m0 1v1M75.5 0v1m0 8v1m0 4v1m0 2v4m0 7v1m0 3v1M76.5 4v1m0 5v1m0 2v1m0 1v1m0 4v1m0 12v2M77.5 0v1m0 4v1m0 2v4m0 3v2m0 6v1m0 2v2m0 1v1m0 3v1M78.5 2v1m0 9v2m0 11v1m0 3v1M79.5 3v3m0 1v1m0 5v1m0 3v2m0 10v1"/>
</g>
<g transform="translate(326.9 1596.1) scale(3.1000 3.6108)" fill="none" stroke-width="1.04">
<path stroke="#3f6fb5" d="M0.5 13v1M1.5 3v1M2.5 22v1M3.5 5v1m0 23v1M5.5 10v1m0 9v1M7.5 0v1m0 6v1m0 10v1M8.5 14v1m0 1v1M9.5 5v1m0 15v1m0 1v1M10.5 16v1m0 1v1m0 5v1M11.5 6v1m0 1v1m0 3v1m0 10v1m0 7v2M12.5 1v1m0 2v1m0 26v1M13.5 18v1M15.5 6v2m0 18v1M16.5 6v1m0 19v3M17.5 2v2m0 7v1m0 3v1m0 4v1m0 2v1m0 11v1M18.5 6v2m0 8v1m0 2v1m0 6v1m0 1v1M19.5 2v1m0 8v1m0 7v1m0 10v1M20.5 3v1m0 6v1m0 16v1m0 1v1m0 1v1M21.5 5v1m0 2v1m0 4v1m0 16v1M22.5 1v1m0 5v1m0 1v1m0 2v1m0 7v1m0 2v1m0 4v1M23.5 1v1m0 15v1M24.5 0v1m0 17v1m0 3v2m0 10v1M25.5 15v1m0 7v1m0 1v1m0 1v1"/>
<path stroke="#5d8fcc" d="M0.5 2v1m0 13v1m0 9v1M2.5 31v1M3.5 14v1m0 7v1M5.5 34v1M6.5 14v1M7.5 9v1m0 4v2m0 13v1M8.5 9v1m0 26v1M9.5 19v1m0 2v1m0 8v1M10.5 6v1M12.5 23v1M13.5 33v2M14.5 19v1M15.5 18v1m0 2v1m0 10v1M16.5 2v1m0 4v1m0 3v1m0 17v1M17.5 8v1m0 8v1M18.5 5v1m0 12v1M19.5 4v1m0 4v1m0 8v1m0 4v1m0 8v1M20.5 11v1m0 1v1m0 1v1m0 3v1m0 3v1m0 10v1M21.5 18v1m0 4v1m0 5v1m0 4v1m0 1v1M22.5 5v1m0 11v1M23.5 2v2m0 3v1m0 15v1m0 3v1m0 3v2M24.5 1v1m0 6v1m0 1v1m0 4v1m0 1v1m0 2v1m0 8v2M25.5 5v1m0 4v1m0 1v1m0 4v1m0 4v1m0 1v1m0 1v1m0 2v1m0 1v1"/>
<path stroke="#8fb8df" d="M0.5 4v1m0 5v3m0 2v1m0 16v1M1.5 25v1m0 7v1m0 1v1M2.5 23v1m0 8v1m0 2v1M3.5 2v1m0 17v1m0 13v1M4.5 29v1m0 4v1M5.5 23v1m0 9v1M6.5 1v1m0 3v1m0 13v1m0 1v1m0 14v1M7.5 6v1m0 4v1M8.5 0v1m0 14v1m0 11v1M9.5 7v1m0 2v1m0 3v1m0 15v1M10.5 4v2m0 21v1M11.5 16v2m0 17v1M12.5 3v1m0 11v1m0 18v1M13.5 28v1M14.5 2v2m0 4v1m0 1v1m0 6v1m0 3v1m0 2v1M15.5 0v1m0 4v1m0 3v1m0 15v1M16.5 5v1m0 17v1M17.5 0v1m0 17v1m0 7v1m0 4v1M18.5 3v1M19.5 35v1M20.5 7v2m0 13v1M21.5 2v1m0 1v1m0 12v1M23.5 9v1m0 14v1m0 3v1m0 1v1"/>
<path stroke="#c5def0" d="M0.5 18v1m0 10v1m0 1v1M1.5 2v1m0 2v1m0 1v2m0 5v1m0 9v1m0 11v1M2.5 2v1m0 18v1m0 11v1M3.5 12v2m0 4v1m0 2v1m0 1v1m0 9v1m0 2v1M4.5 6v1m0 1v1m0 10v1m0 1v1m0 1v1m0 2v1m0 4v2m0 3v1M5.5 1v1m0 2v1m0 3v1m0 20v1m0 5v1M6.5 3v1m0 4v1m0 3v1m0 2v1m0 1v1m0 2v1m0 1v1m0 2v1m0 8v1M7.5 2v1m0 9v1m0 12v1m0 2v1m0 5v1M8.5 17v1m0 7v1m0 9v1M9.5 3v2m0 13v1m0 7v2m0 5v1M10.5 21v1M11.5 14v2m0 3v1m0 13v1M12.5 2v1m0 15v1m0 5v1m0 2v1M13.5 0v1m0 4v1m0 26v1M14.5 6v1m0 8v1M15.5 3v1m0 6v1m0 23v2M16.5 0v1m0 3v1m0 12v1m0 13v1m0 3v1M17.5 10v1m0 13v1m0 11v1M18.5 1v1m0 18v1M19.5 12v1m0 1v1m0 11v1m0 9v1M20.5 6v1m0 11v1m0 6v1m0 10v1M21.5 12v1m0 19v1m0 2v1M23.5 13v1m0 7v1m0 14v1M24.5 7v1M25.5 20v1m0 14v1"/>
<path stroke="#f5f5d6" d="M0.5 0v1m0 5v1m0 2v1m0 7v1m0 2v2m0 2v1m0 3v1m0 1v1m0 3v2M1.5 1v1m0 4v1m0 6v1m0 2v2m0 1v1m0 6v1m0 1v2m0 1v2M2.5 4v1m0 1v2m0 1v1m0 2v1m0 1v2m0 1v1m0 2v1m0 4v4m0 1v1m0 5v1M3.5 3v1m0 2v1m0 1v3m0 8v1m0 4v2m0 6v1M4.5 0v1m0 1v1m0 2v1m0 4v1m0 2v1m0 1v2m0 10v1M5.5 0v1m0 1v2m0 11v1m0 3v1m0 2v1m0 2v3m0 2v2m0 4v1M6.5 2v1m0 1v1m0 1v2m0 2v2m0 11v1m0 2v1m0 1v1m0 2v3m0 1v1M7.5 1v1m0 1v1m0 9v1m0 5v1m0 1v1m0 9v1M8.5 1v1m0 2v3m0 1v1m0 10v2m0 1v2m0 5v1m0 3v1M9.5 1v1m0 6v1m0 6v3m0 2v1m0 3v1m0 10v1M10.5 0v1m0 1v2m0 3v1m0 2v2m0 1v2m0 2v1m0 1v2m0 1v1m0 6v3m0 2v2M11.5 18v1m0 1v3m0 2v1m0 2v3m0 5v1M12.5 0v1m0 4v1m0 2v2m0 1v2m0 6v1m0 1v1m0 3v1m0 2v1m0 6v2M13.5 3v2m0 6v1m0 1v2m0 4v1m0 3v1m0 2v1m0 8v1M14.5 7v1m0 3v2m0 1v1m0 1v1m0 1v1m0 12v2M15.5 8v1m0 14v2m0 4v1m0 1v1m0 4v1M16.5 8v2m0 6v1m0 2v1m0 5v1m0 6v2M17.5 1v1m0 3v1m0 21v1M18.5 2v1m0 7v1m0 6v1m0 11v2M19.5 7v2m0 11v1M20.5 2v1m0 2v1m0 6v1m0 13v1m0 8v1M21.5 3v1m0 16v1m0 12v1M22.5 4v1m0 20v2m0 8v2M23.5 18v1m0 16v1M24.5 24v1m0 11v1M25.5 3v1m0 26v1m0 5v1"/>
<path stroke="#fde2a0" d="M0.5 3v1m0 3v2m0 14v1m0 1v1m0 7v1m0 2v1M1.5 0v1m0 8v4m0 2v1m0 2v1m0 1v1m0 1v2m0 3v1m0 6v1M2.5 0v1m0 2v1m0 1v1m0 4v2m0 1v1m0 4v2m0 4v1M3.5 0v2m0 5v1m0 3v1m0 3v3m0 9v2m0 1v2M4.5 1v1m0 1v2m0 2v1m0 6v1m0 3v1m0 5v2m0 9v1M5.5 5v2m0 2v1m0 1v2m0 1v1m0 1v2m0 6v1m0 3v1m0 3v1M6.5 0v1m0 8v1m0 3v1m0 4v1m0 5v1m0 5v1M7.5 4v2m0 4v1m0 5v1m0 3v1m0 1v2m0 3v1m0 4v2m0 1v2M8.5 7v1m0 3v3m0 10v1m0 1v1m0 1v1m0 1v2M9.5 0v1m0 5v1m0 4v2m0 15v2m0 6v1M10.5 1v1m0 6v1m0 6v1m0 7v1m0 1v2m0 1v1m0 3v2m0 2v1M11.5 3v1m0 1v1m0 3v1m0 3v1m0 13v1m0 6v1M12.5 6v1m0 6v1m0 2v2m0 4v1m0 6v1m0 2v2M13.5 1v1m0 4v1m0 2v2m0 5v2m0 3v1m0 5v1m0 8v1M14.5 0v1m0 3v2m0 7v1m0 6v1m0 2v1m0 2v4m0 5v2M15.5 1v2m0 11v1m0 1v1m0 2v2m0 6v1M17.5 12v1m0 3v1m0 8v1M18.5 25v1m0 8v3M19.5 16v1M20.5 14v1M21.5 6v1M22.5 32v1M23.5 10v1m0 3v1m0 18v1M24.5 4v1m0 22v1m0 7v1M25.5 4v1m0 11v1"/>
<path stroke="#f7a86a" d="M0.5 14v1m0 7v1M2.5 29v1M4.5 28v1M7.5 24v1M9.5 2v1m0 6v1m0 3v1M12.5 10v1M13.5 8v1m0 13v1M14.5 1v1M16.5 15v1m0 14v1M17.5 28v1m0 4v2M18.5 15v1m0 11v1M19.5 21v1m0 11v2M20.5 16v1m0 4v1m0 11v1M21.5 1v1m0 9v1m0 7v1m0 4v1m0 2v1M22.5 13v1m0 4v1m0 2v1m0 12v1M23.5 5v1m0 5v1m0 22v1M24.5 28v1m0 3v1M25.5 13v1m0 14v1"/>
<path stroke="#e4613f" d="M0.5 1v1m0 3v1m0 13v1m0 7v1M2.5 1v1M3.5 4v1M4.5 20v1m0 12v1M5.5 7v1m0 5v1m0 4v1m0 2v1M6.5 16v1M7.5 17v1m0 8v1m0 3v1M8.5 2v1m0 7v1m0 21v1m0 1v1M9.5 32v1M10.5 9v1M11.5 2v1m0 21v1M12.5 14v1m0 5v1M13.5 2v1m0 17v1m0 3v2M14.5 9v1m0 15v1M15.5 11v1m0 3v1m0 6v1m0 5v1M16.5 1v1m0 1v1m0 9v1m0 6v1m0 13v1M17.5 7v1m0 6v1m0 4v1m0 1v1m0 7v2m0 1v1M18.5 0v1m0 7v2m0 11v4m0 6v2M19.5 0v1m0 2v1m0 2v1m0 3v1m0 2v1m0 8v1m0 2v1m0 2v1m0 2v1M20.5 20v1m0 3v1m0 3v1m0 1v1M21.5 7v1m0 2v1m0 3v1m0 1v1m0 5v1m0 2v1m0 2v1M22.5 3v1m0 2v1m0 4v1m0 4v1m0 2v1m0 2v1m0 4v1m0 2v1M23.5 0v1m0 3v1m0 1v1m0 5v1m0 2v1m0 3v1m0 6v1m0 2v1M24.5 3v1m0 1v1m0 6v3m0 1v1m0 2v1m0 1v1m0 3v2m0 4v1M25.5 0v2m0 9v1m0 22v1"/>
<path stroke="#cc2d27" d="M1.5 4v1m0 16v1m0 8v1M2.5 8v1m0 7v1m0 17v1M3.5 26v1m0 8v1M4.5 9v1m0 1v2m0 4v1m0 4v1m0 7v1M6.5 27v1m0 1v1M7.5 8v1M8.5 3v1m0 14v1m0 2v1M9.5 25v1m0 8v1M10.5 12v1M11.5 0v2m0 2v1m0 2v1m0 2v2m0 14v1M12.5 7v1m0 18v1m0 3v1M13.5 7v1m0 4v1m0 2v1m0 13v3M14.5 22v1m0 7v1m0 2v2M15.5 4v1m0 7v2m0 3v1m0 12v1m0 2v1M16.5 10v1m0 1v1m0 1v1m0 3v1m0 2v2m0 1v1m0 11v1M17.5 4v1m0 1v1m0 2v1m0 3v1m0 8v1M18.5 4v1m0 6v4m0 18v1M19.5 1v1m0 3v1m0 9v1m0 1v1m0 6v1m0 2v1m0 1v1M20.5 0v2m0 2v1m0 4v1m0 7v1m0 14v1M21.5 0v1m0 8v1m0 5v1m0 5v1m0 4v1m0 4v1M22.5 0v1m0 1v1m0 5v1m0 1v1m0 3v2m0 8v1m0 4v1m0 1v1m0 1v1M23.5 8v1m0 7v1m0 3v1m0 1v1m0 2v1M24.5 2v1m0 3v1m0 2v1m0 1v1m0 21v1M25.5 2v1m0 3v4m0 4v1m0 3v2m0 1v1m0 10v2"/>
</g>
<g transform="translate(411.1 1596.1) scale(3.1194 3.6108)" fill="none" stroke-width="1.04">
<path stroke="#3f6fb5" d="M0.5 12v1M1.5 28v1M2.5 25v1M3.5 2v1M4.5 4v1m0 19v1M9.5 6v1m0 5v1M10.5 10v1m0 12v1m0 3v1M12.5 6v1M15.5 15v1M16.5 20v1M17.5 30v1M18.5 4v1M21.5 15v1m0 12v1M22.5 10v1m0 15v1m0 5v1M23.5 3v1m0 1v1m0 2v1m0 11v1M24.5 1v2m0 2v1m0 1v1m0 3v2M25.5 6v1m0 4v1m0 15v2M26.5 3v1m0 6v1m0 14v1m0 4v1M27.5 4v1m0 5v1m0 2v1m0 1v1m0 10v1m0 3v1M28.5 9v1m0 5v1m0 7v2m0 1v1m0 1v1m0 7v1M29.5 0v1m0 16v1m0 17v1M30.5 9v2m0 4v1m0 7v1m0 1v1m0 8v1"/>
<path stroke="#5d8fcc" d="M0.5 4v1M4.5 5v1M5.5 29v1M8.5 21v1m0 5v1m0 3v2M9.5 22v1M10.5 7v1M12.5 1v1M13.5 16v1m0 8v1M14.5 20v1M15.5 6v1m0 6v1M19.5 21v1M20.5 4v1m0 8v1M21.5 26v1M22.5 11v1m0 8v1M23.5 10v1m0 2v1m0 2v1m0 16v3M24.5 10v1m0 3v1m0 14v1M25.5 4v1m0 15v1m0 3v2m0 3v1M26.5 0v1m0 11v1m0 11v1m0 7v1M27.5 7v2m0 5v1m0 7v1m0 5v1M28.5 5v1m0 1v1m0 4v1m0 6v1m0 9v1m0 2v1m0 1v1M29.5 1v1m0 7v1m0 4v2m0 5v1m0 5v1M30.5 0v2m0 2v2m0 2v1m0 5v1m0 5v2m0 6v1"/>
<path stroke="#8fb8df" d="M0.5 8v1M1.5 0v1m0 20v1M2.5 22v1m0 3v1M3.5 35v2M4.5 36v1M5.5 14v2M7.5 10v1M8.5 2v1m0 31v1M9.5 9v1m0 9v1m0 13v1M10.5 0v1m0 13v1M13.5 22v1m0 4v1m0 4v1M14.5 6v1M15.5 30v1M18.5 21v1m0 7v1M19.5 18v1m0 6v1M20.5 14v1M21.5 34v1M22.5 24v1M24.5 0v1M25.5 10v1m0 19v1m0 5v1M26.5 9v1m0 8v1M27.5 0v1m0 17v1m0 12v1M28.5 22v1M29.5 13v1m0 17v1M30.5 13v1m0 19v1"/>
<path stroke="#c5def0" d="M0.5 7v1m0 1v1m0 8v1m0 4v1m0 8v1m0 2v1M1.5 3v1m0 12v1m0 1v1M2.5 1v1m0 15v1m0 13v1m0 4v1M3.5 0v1m0 11v1m0 1v1M5.5 23v1M6.5 36v1M7.5 32v1M8.5 29v1m0 5v1M9.5 18v1m0 9v1M10.5 5v1m0 23v1m0 6v1M11.5 26v1m0 7v1m0 1v1M12.5 8v1M13.5 31v1m0 2v1M14.5 23v1m0 9v1M16.5 28v1m0 3v1M17.5 11v1m0 4v1M18.5 15v1m0 8v1M19.5 15v1m0 20v1M21.5 22v1m0 13v1M22.5 5v2m0 10v1m0 7v1M23.5 29v1M24.5 8v1m0 22v1M25.5 0v1m0 1v1m0 18v1m0 4v1M26.5 13v1m0 1v1m0 4v1M27.5 3v1M28.5 25v1M29.5 10v1m0 8v2m0 3v1m0 1v1m0 2v1M30.5 30v1m0 4v1"/>
<path stroke="#f5f5d6" d="M0.5 3v1m0 2v1m0 7v1m0 5v1m0 3v1m0 2v3m0 3v1M1.5 2v1m0 2v1m0 4v2m0 7v1m0 2v1m0 3v2m0 1v1m0 1v2m0 1v1m0 1v1M2.5 5v1m0 14v1m0 2v2m0 4v1m0 2v1m0 2v1M3.5 3v1m0 5v1m0 5v1m0 8v2m0 6v2M4.5 27v1M5.5 7v1m0 4v1m0 13v2M6.5 11v1m0 2v2m0 2v1m0 16v1M7.5 1v1m0 11v1m0 2v1m0 9v1m0 2v1m0 1v1M8.5 4v1m0 4v1m0 2v1m0 1v1m0 9v1m0 11v1M9.5 10v1m0 12v1m0 2v1M10.5 16v1m0 9v1m0 3v1M11.5 1v1m0 6v1m0 5v1m0 2v1m0 14v1m0 2v1M12.5 0v1m0 13v1M13.5 0v1m0 3v1m0 28v1m0 1v2M14.5 3v1m0 5v2m0 15v1m0 4v1M15.5 19v1m0 4v2m0 1v1m0 7v2M16.5 12v1m0 22v1M18.5 19v1M20.5 6v1m0 28v2M21.5 35v1M22.5 14v1m0 4v1m0 16v1M23.5 1v1m0 34v1M24.5 15v1m0 19v2M25.5 15v3m0 1v1m0 12v1M27.5 12v1m0 11v2m0 3v1M28.5 0v1m0 3v1m0 1v1m0 10v2m0 16v1M29.5 4v1m0 2v2m0 14v1M30.5 18v2m0 11v1"/>
<path stroke="#fde2a0" d="M0.5 5v1m0 4v1m0 2v1m0 3v1m0 4v1m0 2v1m0 4v2m0 2v1M1.5 14v2m0 7v1m0 11v1M2.5 3v1m0 4v1m0 3v1m0 14v1m0 5v1M3.5 13v1m0 3v1m0 4v1M4.5 35v1M5.5 35v2M6.5 13v1m0 11v1M7.5 4v2m0 1v1m0 20v1m0 6v2M8.5 8v1m0 14v1M9.5 15v1m0 9v1m0 9v1M10.5 1v1m0 9v1m0 7v1m0 15v1M11.5 23v1M12.5 16v1m0 11v1m0 4v1m0 1v2M13.5 13v2m0 3v1M14.5 18v1M15.5 23v1m0 9v1M16.5 1v1M17.5 5v1m0 1v1m0 12v1m0 15v1M18.5 5v1m0 5v1M19.5 23v1m0 8v1M22.5 4v1m0 4v1m0 25v1M23.5 2v1M24.5 9v1m0 17v1M25.5 12v1m0 1v1m0 3v1m0 16v1M26.5 11v1m0 22v2M27.5 11v1m0 5v1m0 1v1m0 15v1M29.5 5v1m0 27v1m0 2v1M30.5 27v1m0 1v1"/>
<path stroke="#f7a86a" d="M0.5 19v1M1.5 25v1M2.5 19v1M3.5 16v1m0 17v1M4.5 0v2m0 18v1m0 1v1m0 11v1M5.5 8v1m0 7v1m0 3v1M6.5 0v1m0 33v1M7.5 18v2m0 4v1M8.5 28v1M9.5 0v1m0 1v1m0 5v1m0 18v1m0 2v1M10.5 2v1m0 6v1m0 22v2M11.5 7v1m0 2v1m0 7v1m0 8v1M12.5 13v1M13.5 17v1M14.5 0v1m0 3v1m0 8v1m0 14v1m0 5v1M15.5 9v1m0 16v1M16.5 2v1m0 2v1m0 19v1m0 5v1m0 1v1M17.5 6v1m0 20v3m0 2v1M18.5 2v1m0 3v1m0 1v2m0 2v1m0 3v1m0 5v1m0 4v1m0 3v1m0 1v3M19.5 0v1m0 5v1m0 1v1m0 13v1M20.5 25v1m0 1v1M21.5 10v1m0 2v2m0 6v1M22.5 29v1M23.5 15v1m0 5v3m0 4v1m0 3v1M24.5 19v1m0 10v1M25.5 8v1M26.5 14v1m0 7v1m0 10v1M27.5 6v1m0 2v1m0 17v1m0 8v1M28.5 11v1m0 1v2m0 5v1m0 9v1M29.5 16v1m0 15v1"/>
<path stroke="#e4613f" d="M0.5 0v1m0 1v1m0 12v2m0 9v1M1.5 4v1m0 1v1m0 1v2m0 2v2m0 3v1m0 2v1m0 3v1M2.5 0v1m0 1v1m0 1v1m0 6v1m0 1v3m0 5v1m0 12v1M3.5 6v1m0 4v1m0 7v1m0 1v1m0 1v1m0 2v1m0 1v1m0 1v1M4.5 2v1m0 8v2m0 1v1m0 1v1m0 2v1m0 1v1m0 6v1m0 3v2M5.5 0v2m0 1v1m0 1v2m0 4v1m0 5v2m0 3v1m0 5v1m0 4v1M6.5 2v4m0 3v1m0 2v1m0 4v1m0 2v1m0 1v2m0 4v1m0 1v1m0 2v1M7.5 0v1m0 1v1m0 5v2m0 1v2m0 4v1m0 4v2m0 9v1M8.5 5v2m0 4v1m0 1v1m0 1v2m0 2v2m0 4v1M9.5 1v1m0 9v1m0 1v2m0 1v1m0 7v1m0 4v1m0 1v2m0 1v1M10.5 4v1m0 1v1m0 1v1m0 4v1m0 1v1m0 2v1m0 2v1m0 6v1M11.5 2v4m0 7v1m0 1v1m0 4v1m0 3v2m0 3v2M12.5 3v1m0 1v1m0 5v1m0 7v1m0 3v2m0 4v1m0 1v1M13.5 1v1m0 5v2m0 2v1m0 7v2m0 3v1m0 3v2M14.5 1v2m0 4v1m0 6v2m0 1v1m0 1v1m0 2v1m0 4v1m0 1v2m0 1v1m0 3v1M15.5 2v3m0 2v2m0 2v1m0 5v2m0 9v2m0 1v1m0 2v1M16.5 3v1m0 2v3m0 4v2m0 2v1m0 1v1m0 1v2m0 1v1m0 1v2m0 1v2M17.5 2v1m0 5v3m0 1v1m0 9v1m0 8v1M18.5 3v1m0 10v1m0 3v1m0 1v1m0 2v1m0 1v1m0 2v1m0 3v1M19.5 1v1m0 1v1m0 5v1m0 1v2m0 3v1m0 12v1m0 1v1m0 2v1M20.5 0v1m0 2v1m0 3v1m0 2v1m0 4v1m0 1v1m0 2v1m0 1v1m0 1v1m0 1v1m0 1v1m0 3v1M21.5 3v3m0 3v1m0 1v2m0 10v1m0 1v1m0 1v1m0 2v1m0 1v2M22.5 0v1m0 11v1m0 2v2m0 6v1m0 3v1m0 5v2M23.5 4v1m0 1v1m0 10v3m0 6v2m0 2v1M24.5 16v3m0 2v1m0 1v1m0 2v1m0 1v1M25.5 1v1m0 3v1m0 1v1m0 5v1m0 8v2m0 7v1m0 2v1M26.5 1v2m0 4v1m0 8v1m0 10v3m0 6v1M27.5 20v2m0 1v1m0 9v2M28.5 1v1m0 6v1m0 7v1m0 10v1m0 5v1M29.5 2v1m0 8v1m0 6v1m0 3v1m0 2v1m0 2v1m0 1v1M30.5 6v1m0 5v1m0 3v2m0 6v1"/>
<path stroke="#cc2d27" d="M0.5 1v1m0 9v1m0 9v1m0 14v1M1.5 1v1m0 5v1m0 22v1m0 2v1M2.5 6v2m0 1v2m0 5v1m0 1v1m0 9v1m0 1v1M3.5 1v1m0 2v2m0 1v2m0 1v1m0 7v1m0 1v1m0 6v1m0 1v1m0 1v1M4.5 3v1m0 2v5m0 2v1m0 1v1m0 1v2m0 4v1m0 1v2m0 2v3M5.5 2v1m0 1v1m0 4v2m0 2v1m0 5v1m0 1v1m0 2v2m0 4v3m0 1v1M6.5 1v1m0 4v3m0 1v1m0 5v1m0 2v1m0 1v1m0 2v1m0 1v2m0 1v1m0 1v2M7.5 3v1m0 2v1m0 7v2m0 4v2m0 3v1m0 1v1m0 2v1m0 3v1M8.5 0v2m0 1v1m0 3v1m0 2v1m0 6v2m0 3v1m0 3v1m0 3v1m0 2v1M9.5 3v3m0 1v1m0 9v1m0 2v2m0 14v1M10.5 3v1m0 8v1m0 4v1m0 2v1m0 1v1m0 1v2m0 5v1m0 2v1M11.5 0v1m0 5v1m0 2v1m0 1v2m0 3v1m0 2v1m0 1v2m0 5v1m0 2v1m0 1v1M12.5 2v1m0 1v1m0 2v1m0 1v2m0 1v1m0 2v1m0 1v2m0 1v3m0 2v3m0 2v1m0 1v1m0 1v1M13.5 2v2m0 1v2m0 2v2m0 1v1m0 2v1m0 5v1m0 1v1m0 2v1m0 3v1M14.5 5v1m0 2v1m0 2v2m0 3v1m0 4v1m0 2v2m0 9v1M15.5 0v2m0 3v1m0 4v1m0 1v1m0 1v1m0 1v1m0 3v3m0 9v1M16.5 0v1m0 3v1m0 4v3m0 3v2m0 1v1m0 4v1m0 10v1m0 1v1M17.5 0v2m0 1v2m0 8v3m0 1v3m0 1v1m0 1v4m0 6v3M18.5 0v2m0 5v1m0 2v1m0 2v1m0 3v1m0 8v1m0 3v1m0 5v1M19.5 2v1m0 1v2m0 1v1m0 2v1m0 2v2m0 2v1m0 1v2m0 3v1m0 1v3m0 1v1m0 2v1m0 1v1M20.5 1v2m0 2v1m0 2v2m0 1v2m0 3v1m0 1v2m0 1v1m0 1v1m0 5v3m0 1v2M21.5 0v3m0 3v3m0 7v5m0 3v1m0 4v1m0 1v1M22.5 1v3m0 3v2m0 4v1m0 4v1m0 2v2m0 5v1m0 1v2M23.5 0v1m0 6v1m0 1v1m0 1v2m0 1v1m0 9v2m0 5v1M24.5 3v2m0 1v1m0 6v1m0 6v1m0 1v1m0 1v2m0 6v3M25.5 3v1m0 5v1m0 23v1M26.5 4v3m0 1v1m0 8v1m0 1v1m0 1v1m0 1v1m0 2v1m0 4v1M27.5 1v2m0 2v1m0 10v1m0 15v1M28.5 2v2m0 6v1m0 10v1m0 9v1M29.5 3v1m0 2v1m0 5v1m0 21v1M30.5 2v2m0 3v1m0 3v1m0 10v1m0 3v1m0 5v1m0 3v1"/>
</g>
<g transform="translate(72.1 1732.7) scale(3.1362 3.6583)" fill="none" stroke-width="1.04">
<path stroke="#3f6fb5" d="M1.5 1v2m0 2v1M2.5 9v1M3.5 8v1M4.5 3v1m0 2v1m0 3v2M5.5 2v2M6.5 1v3m0 1v1m0 2v1M8.5 6v1M9.5 4v1M10.5 0v1m0 8v1m0 1v1M11.5 2v1m0 3v1m0 1v2M12.5 4v1m0 5v2M13.5 5v1m0 2v1M14.5 1v1m0 1v1M15.5 0v1m0 5v1m0 1v1m0 2v1M16.5 1v1m0 3v1m0 4v1M17.5 1v1m0 1v1m0 2v3M18.5 0v3m0 2v1m0 1v1M19.5 4v1M20.5 1v1M21.5 0v1m0 3v1m0 1v1M22.5 1v2m0 1v1m0 4v1M23.5 1v1m0 8v1M24.5 0v2m0 1v1m0 3v1m0 2v2M25.5 4v1m0 4v1M26.5 5v1M27.5 0v1m0 5v1m0 1v1M28.5 5v2m0 3v1M29.5 1v1m0 5v1m0 1v1m0 1v1M30.5 8v1m0 2v1M31.5 5v1m0 4v1M32.5 0v2m0 5v3M33.5 0v3m0 1v1m0 1v1m0 1v1m0 1v1M34.5 5v2M37.5 5v1M38.5 2v2m0 3v1M39.5 3v1m0 2v1M40.5 9v2M42.5 2v1m0 7v1M44.5 2v1m0 4v1M45.5 6v1m0 3v1M46.5 5v1M47.5 5v1m0 1v1M48.5 4v1M49.5 0v1M50.5 2v1m0 1v1m0 3v1M52.5 9v1M58.5 6v1m0 3v1M59.5 2v1m0 5v2M60.5 7v1M61.5 10v1M62.5 8v1m0 2v1M63.5 2v1M64.5 2v3m0 1v1M65.5 0v1m0 7v1M66.5 2v1m0 5v1M67.5 1v1m0 2v1M70.5 1v3m0 1v2m0 2v2M71.5 0v1m0 3v1m0 1v2m0 3v1M72.5 3v1m0 4v1M73.5 7v1m0 2v1M74.5 2v1m0 7v1M76.5 1v1m0 5v1M77.5 0v1M78.5 7v1m0 2v1M79.5 4v1"/>
<path stroke="#5d8fcc" d="M0.5 1v1m0 6v1M1.5 6v2m0 1v1M2.5 2v1m0 2v2m0 1v1M3.5 0v1m0 2v5m0 1v1M4.5 2v1m0 2v1M5.5 1v1m0 4v1M6.5 6v2m0 1v3M7.5 0v1m0 1v3m0 1v1m0 2v1m0 1v1M8.5 7v4M9.5 1v2m0 3v1m0 4v1M10.5 1v1m0 1v1m0 1v1m0 2v1m0 1v1M11.5 0v2m0 1v1m0 1v1M12.5 1v2m0 2v2m0 1v1M13.5 0v1m0 1v1m0 7v1M14.5 0v1m0 4v1m0 1v3M15.5 4v1m0 4v2M16.5 6v2m0 1v1M18.5 4v1m0 1v1m0 3v2M19.5 1v1m0 7v1M20.5 6v1m0 2v2M21.5 1v2m0 6v3M22.5 3v1m0 2v3m0 1v2M23.5 0v1m0 2v1m0 1v1m0 1v1M24.5 2v1m0 5v1M25.5 5v4m0 1v1M26.5 1v1m0 2v1m0 2v3M27.5 2v1m0 8v1M28.5 2v1m0 4v3M29.5 3v2m0 3v1M30.5 1v3m0 2v1m0 3v1M31.5 4v1m0 2v3m0 1v1M32.5 2v1m0 7v2M33.5 3v1m0 1v1M34.5 4v1m0 3v1m0 2v1M35.5 0v1m0 5v1M36.5 4v1M37.5 0v1M39.5 1v1M40.5 0v1M43.5 3v1m0 1v1m0 1v1M44.5 0v2m0 3v1M45.5 3v1M46.5 4v1M47.5 4v1M49.5 6v1m0 1v1M50.5 5v1m0 1v1m0 1v1M51.5 0v1m0 8v1M52.5 10v1M53.5 2v1m0 1v2M54.5 1v1m0 1v1m0 7v1M55.5 9v1M56.5 1v3m0 2v1M57.5 3v1m0 5v1M58.5 7v1M59.5 3v1m0 1v1m0 5v1M60.5 0v1m0 4v1M62.5 3v1M63.5 4v2m0 4v1M64.5 1v1m0 8v1M65.5 1v1m0 1v2m0 6v1M66.5 0v1M68.5 3v1M69.5 3v1m0 6v2M70.5 4v1m0 2v1M71.5 2v2m0 1v1m0 2v2M72.5 0v3m0 1v2m0 4v1M73.5 6v1m0 2v1M74.5 3v1m0 3v1M75.5 11v1M76.5 3v2m0 1v1m0 3v1M77.5 1v1m0 6v1M78.5 1v1m0 3v1M79.5 3v1"/>
<path stroke="#8fb8df" d="M0.5 0v1m0 2v4M1.5 4v1m0 6v1M2.5 0v1m0 9v1M3.5 11v1M4.5 7v2M5.5 4v2m0 5v1M6.5 4v1M7.5 1v1m0 3v1m0 4v1M8.5 1v1M9.5 10v1M10.5 4v1M11.5 7v1m0 2v1M12.5 3v1M13.5 11v1M14.5 10v1M15.5 3v1M16.5 2v1M17.5 2v1m0 2v1M19.5 0v1m0 4v1m0 1v1m0 3v1M20.5 3v1M21.5 7v1M22.5 0v1M23.5 6v1m0 1v1M25.5 1v1m0 1v1m0 7v1M26.5 0v1m0 10v1M27.5 1v1m0 1v1M28.5 0v1M29.5 2v1m0 3v1M30.5 0v1m0 4v1M31.5 1v1m0 1v1M32.5 3v2M34.5 1v1m0 7v1M35.5 2v1m0 6v1M36.5 1v1m0 4v1M39.5 4v1m0 6v1M40.5 1v1M41.5 1v2m0 4v1M42.5 11v1M43.5 11v1M46.5 6v1M47.5 2v1M48.5 10v2M49.5 1v3M50.5 10v1M51.5 10v1M52.5 6v1M55.5 2v1M56.5 0v1m0 3v2M58.5 3v1M60.5 2v1m0 1v1m0 3v1M61.5 9v1M62.5 5v1m0 1v1M63.5 0v1m0 7v1m0 2v1M66.5 1v1m0 1v1m0 2v1M67.5 0v1m0 4v1m0 4v1M68.5 1v1m0 5v1M72.5 7v1m0 3v1M75.5 0v1m0 3v1M76.5 2v1M77.5 6v1M78.5 11v1M79.5 2v1m0 6v1m0 1v1"/>
<path stroke="#c5def0" d="M0.5 2v1m0 7v1M1.5 0v1M2.5 1v1m0 1v1m0 3v1M4.5 4v1M5.5 0v1m0 6v1m0 1v1M8.5 0v1M12.5 0v1m0 6v1M13.5 3v2M14.5 2v1m0 1v1m0 1v1M15.5 1v1m0 5v1M16.5 3v2m0 3v1M17.5 9v1M18.5 9v1M19.5 3v1m0 4v1M20.5 4v1M21.5 8v1M22.5 5v1M23.5 9v1m0 1v1M24.5 4v1M27.5 4v2M28.5 1v1m0 1v1M29.5 0v1m0 4v1M30.5 4v1m0 2v1M31.5 2v1M32.5 6v1M33.5 9v1M34.5 0v1m0 2v1m0 3v1m0 2v1M35.5 8v1m0 1v1M36.5 7v1m0 1v1M37.5 1v1m0 1v1m0 2v1m0 3v1M38.5 6v1m0 1v4M43.5 0v1m0 8v1M44.5 6v1m0 1v1M45.5 1v1m0 3v1m0 1v1M46.5 10v1M48.5 6v1M49.5 4v1M50.5 6v1M52.5 3v1M57.5 2v1M58.5 5v1M59.5 1v1M60.5 10v1M61.5 3v1m0 7v1M62.5 1v1M63.5 7v1M65.5 6v1M67.5 11v1M68.5 2v1M69.5 0v1m0 6v1M71.5 10v1M72.5 6v1M73.5 5v1M74.5 0v1m0 8v1M75.5 1v1M76.5 8v1"/>
<path stroke="#f5f5d6" d="M0.5 7v1m0 1v1M2.5 11v1M3.5 1v1M7.5 8v1M9.5 7v2M10.5 6v1M11.5 11v1M16.5 0v1m0 10v1M17.5 4v1M18.5 8v1M19.5 2v1M21.5 5v1M23.5 4v1M24.5 5v1M25.5 0v1M26.5 6v1M27.5 7v1m0 1v1M28.5 4v1m0 6v1M29.5 10v1M31.5 0v1m0 5v1M33.5 7v1M34.5 2v1M35.5 3v2M36.5 3v1m0 4v1m0 1v1M37.5 8v2M38.5 0v2m0 2v1M39.5 2v1m0 5v2M40.5 2v1m0 1v1m0 1v2m0 3v1M41.5 5v1m0 3v2M42.5 4v1m0 2v3M43.5 1v1M44.5 3v2m0 6v1M45.5 4v1M46.5 3v1m0 3v3M47.5 1v1m0 4v1m0 1v2M48.5 1v1M51.5 3v1m0 4v1M52.5 2v1M53.5 7v1M54.5 0v1m0 4v1m0 1v1M55.5 3v1m0 2v1m0 1v1M56.5 7v2M58.5 4v1m0 4v1M60.5 9v1M61.5 4v1M62.5 2v1M64.5 0v1M68.5 8v1M69.5 1v1m0 7v1M70.5 8v1M76.5 5v1M77.5 10v1M78.5 0v1m0 1v1M79.5 1v1m0 4v1"/>
<path stroke="#fde2a0" d="M1.5 8v1m0 1v1M3.5 10v1M4.5 9v1M5.5 10v1M9.5 3v1M10.5 2v1M13.5 7v1M14.5 11v1M15.5 5v1M17.5 0v1M19.5 10v1M20.5 8v1m0 2v1M23.5 2v1M26.5 2v1m0 7v1M27.5 10v1M32.5 5v1M35.5 5v1m0 1v1M36.5 2v1m0 2v1m0 5v1M37.5 7v1m0 3v1M38.5 5v1M39.5 0v1m0 4v1m0 4v1M40.5 5v1m0 2v1M41.5 0v1m0 2v2m0 3v1m0 2v1M42.5 1v1m0 1v1m0 1v2M43.5 2v1M44.5 10v1M45.5 0v1m0 7v2M46.5 0v1m0 1v1m0 8v1M47.5 3v1m0 7v1M48.5 0v1m0 1v1m0 6v1M50.5 0v1M51.5 5v1M52.5 0v1m0 4v1M54.5 6v1M55.5 4v1m0 2v1m0 3v1M57.5 5v1m0 1v1M58.5 11v1M61.5 2v1M64.5 8v1M67.5 7v2M68.5 5v1M69.5 5v1M70.5 11v1M71.5 1v1M74.5 8v1m0 2v1M77.5 2v1m0 2v1m0 3v1"/>
<path stroke="#f7a86a" d="M5.5 8v1M8.5 5v1M12.5 9v1M17.5 11v1M19.5 6v1M24.5 6v1m0 2v1M33.5 11v1M37.5 2v1M40.5 3v1M42.5 0v1M43.5 6v1M47.5 0v1M48.5 8v1M49.5 7v1m0 2v1M50.5 11v1M51.5 2v1m0 8v1M53.5 1v1m0 8v1M56.5 9v1m0 1v1M57.5 1v1M58.5 1v1M59.5 10v1M61.5 6v1M62.5 6v1m0 2v1M63.5 3v1m0 5v1M64.5 11v1M68.5 0v1M69.5 2v1m0 1v1M73.5 11v1M75.5 6v1M76.5 11v1M77.5 11v1M78.5 9v1"/>
<path stroke="#e4613f" d="M1.5 3v1M2.5 4v1M4.5 1v1M6.5 0v1M7.5 7v1M8.5 4v1M9.5 5v1M13.5 6v1M15.5 2v1M17.5 10v1M18.5 3v1M20.5 0v1m0 4v1m0 1v1M21.5 3v1M25.5 2v1M26.5 3v1M36.5 0v1M43.5 4v1m0 3v1m0 1v1M45.5 2v1m0 8v1M46.5 1v1M47.5 10v1M48.5 7v1M49.5 9v1M51.5 1v1m0 2v1M53.5 6v1m0 1v2m0 1v1M54.5 2v1m0 1v1m0 4v1M55.5 0v2m0 3v1M56.5 10v1M57.5 4v1m0 3v1m0 1v2M58.5 2v1m0 5v1M59.5 4v1m0 1v2M60.5 1v1m0 9v1M61.5 0v2m0 3v1M62.5 0v1M63.5 1v1M64.5 5v1m0 1v1m0 1v1M65.5 10v1M66.5 5v1m0 1v1m0 2v2M67.5 3v1m0 2v1m0 2v1M68.5 4v1m0 5v2M69.5 6v1M70.5 0v1M73.5 0v5m0 3v1M74.5 1v1m0 2v2M75.5 7v1m0 2v1M77.5 3v1m0 3v1M78.5 6v1M79.5 7v2"/>
<path stroke="#cc2d27" d="M0.5 11v1M3.5 2v1M4.5 0v1M8.5 2v2m0 7v1M9.5 0v1m0 8v1M10.5 7v1M11.5 4v1M13.5 1v1m0 7v1M20.5 2v1M30.5 9v1M35.5 1v1m0 9v1M37.5 4v1M39.5 7v1M41.5 6v1M44.5 9v1M48.5 3v1m0 1v1M49.5 5v1m0 5v1M50.5 1v1m0 1v1M51.5 6v2M52.5 1v1m0 2v1m0 2v2m0 2v1M53.5 0v1m0 2v1M54.5 8v1m0 1v1M55.5 10v1M57.5 0v1m0 5v1M58.5 0v1M59.5 0v1M60.5 3v1m0 2v1M61.5 7v2M62.5 4v1m0 5v1M63.5 6v1M65.5 2v1m0 2v1m0 1v1m0 1v1M66.5 4v1m0 4v1M67.5 2v1M68.5 6v1m0 2v1M69.5 8v1M72.5 9v1M74.5 6v1M75.5 2v2m0 1v1m0 2v2M76.5 0v1m0 8v1M77.5 4v1M78.5 3v2m0 3v1M79.5 0v1m0 4v1m0 4v1"/>
</g>
<g transform="translate(326.9 1732.7) scale(3.1000 3.6583)" fill="none" stroke-width="1.04">
<path stroke="#3f6fb5" d="M0.5 4v1M3.5 11v1M5.5 4v1m0 2v1M7.5 6v1M9.5 8v1M10.5 6v2M11.5 6v1M14.5 7v1M15.5 9v1M16.5 1v1m0 2v1M17.5 0v1m0 7v2M18.5 0v1m0 2v1m0 3v2M19.5 3v3M20.5 9v1M21.5 0v3M22.5 5v1M24.5 7v1M25.5 8v1"/>
<path stroke="#5d8fcc" d="M1.5 11v1M4.5 6v1M6.5 1v1m0 2v1M7.5 2v1m0 1v1M9.5 5v1M10.5 2v1m0 7v2M12.5 5v1M13.5 11v1M14.5 0v1M15.5 0v1M16.5 2v1m0 7v1M18.5 4v1m0 1v1M19.5 8v2M20.5 7v1M21.5 9v1M22.5 3v1m0 3v1M23.5 0v1m0 7v1M24.5 5v1m0 3v1M25.5 9v1"/>
<path stroke="#8fb8df" d="M1.5 6v1M2.5 7v1m0 3v1M3.5 1v1M6.5 3v1m0 3v1m0 3v1M7.5 7v1M8.5 0v1M9.5 0v1m0 6v1M12.5 11v1M14.5 1v2M15.5 3v1m0 4v1M17.5 3v2M18.5 5v1M19.5 0v2M20.5 1v1M24.5 2v1m0 5v1M25.5 4v1"/>
<path stroke="#c5def0" d="M0.5 7v1M1.5 0v1m0 9v1M2.5 3v1M3.5 3v1m0 5v1M4.5 0v1m0 2v1m0 5v1M5.5 0v1m0 8v1M6.5 0v1m0 1v1m0 6v1M7.5 1v1M8.5 2v1M9.5 3v2M10.5 5v1M11.5 0v1m0 6v1m0 2v1M12.5 0v1m0 1v2m0 5v1M13.5 7v1M14.5 8v2m0 1v1M15.5 4v4m0 3v1M16.5 6v1M17.5 6v1M25.5 6v2"/>
<path stroke="#f5f5d6" d="M0.5 1v1m0 7v1m0 1v1M1.5 1v1m0 7v1M2.5 0v1m0 1v1m0 1v3M3.5 0v1m0 1v1m0 1v2m0 1v1M4.5 1v2m0 2v1m0 1v2m0 1v2M5.5 2v2m0 7v1M7.5 5v1M8.5 1v1m0 2v1m0 2v1M9.5 9v3M10.5 0v2m0 2v1m0 4v1M11.5 3v1m0 1v1m0 2v2m0 1v1M13.5 0v2m0 3v1M14.5 4v1M16.5 3v1m0 4v1M18.5 1v1M19.5 2v1m0 3v1M20.5 4v1m0 5v1M21.5 6v1M22.5 11v1M25.5 1v1m0 9v1"/>
<path stroke="#fde2a0" d="M0.5 5v2m0 1v1M1.5 2v3m0 2v1M2.5 1v1m0 6v1M5.5 1v1m0 4v1m0 1v1M6.5 5v1m0 2v1M7.5 0v1m0 2v1m0 4v1M8.5 5v2m0 3v2M9.5 6v1M10.5 3v1M11.5 1v2m0 1v1M12.5 1v1m0 5v1m0 2v1M13.5 3v2m0 1v1m0 2v1M16.5 11v1M17.5 5v1M20.5 5v1M21.5 7v1M22.5 4v1M23.5 6v1m0 2v1M24.5 6v1M25.5 0v1"/>
<path stroke="#f7a86a" d="M2.5 10v1M4.5 4v1M5.5 10v1M6.5 6v1M8.5 9v1M13.5 8v1M15.5 2v1m0 7v1M17.5 7v1m0 2v1M18.5 2v1m0 8v1M21.5 5v1m0 2v1M22.5 8v1M23.5 1v2M24.5 3v1M25.5 2v1m0 2v1"/>
<path stroke="#e4613f" d="M0.5 0v1m0 9v1M1.5 5v1M2.5 9v1M3.5 8v1m0 1v1M7.5 11v1M8.5 3v1M9.5 1v1M12.5 4v1M13.5 2v1M14.5 6v1m0 3v1M16.5 5v1m0 1v1m0 1v1M17.5 11v1M18.5 9v2M19.5 11v1M20.5 2v1m0 3v1M21.5 3v1m0 6v1M22.5 0v1m0 8v2M23.5 4v1M24.5 0v1m0 9v1"/>
<path stroke="#cc2d27" d="M0.5 2v2M1.5 8v1M3.5 6v1M5.5 5v1M6.5 10v1M7.5 9v2M8.5 8v1M9.5 2v1M10.5 8v1M12.5 6v1m0 1v1M13.5 10v1M14.5 3v1m0 1v1M15.5 1v1M16.5 0v1M17.5 1v2M19.5 7v1m0 2v1M20.5 0v1m0 2v1m0 4v1m0 2v1M21.5 4v1m0 6v1M22.5 1v2m0 3v1M23.5 3v1m0 1v1m0 1v1m0 2v2M24.5 1v1m0 2v1m0 6v1M25.5 3v1m0 6v1"/>
</g>
<g transform="translate(411.1 1732.7) scale(3.1194 3.6583)" fill="none" stroke-width="1.04">
<path stroke="#3f6fb5" d="M1.5 11v1M4.5 7v1M7.5 3v1M8.5 2v1M10.5 6v1M11.5 1v1M12.5 7v1M13.5 0v1M17.5 5v1M19.5 5v1M21.5 1v1m0 3v1m0 3v1M22.5 2v2m0 4v1M23.5 2v1M24.5 4v1M26.5 8v1M27.5 2v1m0 2v2M28.5 9v1m0 1v1M29.5 0v2m0 3v1m0 3v1M30.5 2v1m0 5v2"/>
<path stroke="#5d8fcc" d="M0.5 6v1M3.5 4v1M4.5 11v1M6.5 8v1M8.5 6v1M9.5 11v1M13.5 5v1M15.5 0v1M18.5 1v1M23.5 6v1m0 1v2M24.5 3v1m0 4v1m0 1v1M25.5 4v2M26.5 3v3m0 4v1M27.5 7v1m0 3v1M28.5 1v1m0 1v1M30.5 10v2"/>
<path stroke="#8fb8df" d="M0.5 7v1M11.5 4v1M15.5 3v1M18.5 4v1M22.5 10v1M24.5 1v1M25.5 3v1M26.5 2v1m0 3v1m0 4v1M29.5 3v1m0 6v1"/>
<path stroke="#c5def0" d="M0.5 1v1M7.5 0v1M9.5 7v1m0 1v1M10.5 9v1M20.5 0v1M24.5 7v1M26.5 1v1M28.5 4v1m0 5v1M29.5 4v1m0 6v1"/>
<path stroke="#f5f5d6" d="M0.5 3v1M1.5 8v1M2.5 4v1m0 4v1M3.5 0v1m0 4v1M6.5 4v1M7.5 6v1M8.5 4v1m0 2v1M9.5 0v1m0 4v1M10.5 0v1m0 6v1M13.5 7v1M14.5 2v1m0 8v1M18.5 2v1M23.5 0v1m0 4v1M24.5 0v1m0 8v1M25.5 8v1M27.5 10v1M28.5 6v1M29.5 6v1m0 1v1"/>
<path stroke="#fde2a0" d="M0.5 9v1m0 1v1M1.5 0v1m0 3v1M2.5 5v1m0 1v1M3.5 10v1M4.5 10v1M6.5 7v1M8.5 8v1M14.5 6v1M17.5 11v1M19.5 4v1M21.5 2v1m0 7v1M23.5 10v1M24.5 6v1M25.5 7v1M27.5 0v1m0 3v1M28.5 2v1M30.5 6v1"/>
<path stroke="#f7a86a" d="M1.5 9v1M2.5 8v1m0 2v1M4.5 5v1m0 2v1M5.5 3v1m0 2v1M7.5 2v1m0 7v1M8.5 11v1M10.5 4v1M11.5 7v1M13.5 2v1m0 7v2M14.5 3v1m0 5v1M15.5 6v1M16.5 0v1m0 8v1M17.5 0v1M18.5 3v1m0 1v1m0 3v1M19.5 10v1M20.5 1v1M21.5 4v1M25.5 2v1m0 6v1M27.5 3v1M28.5 8v1M30.5 0v1"/>
<path stroke="#e4613f" d="M0.5 0v1m0 4v1m0 2v1M1.5 10v1M2.5 3v1m0 2v1M3.5 9v1m0 1v1M4.5 0v1m0 2v2m0 4v1M5.5 0v1m0 1v1m0 4v1m0 1v1M6.5 1v3m0 5v1m0 1v1M7.5 4v1m0 2v1M8.5 0v1m0 2v1M9.5 3v1m0 2v1m0 3v1M10.5 1v1m0 3v1M11.5 0v1m0 5v1m0 1v2m0 1v1M12.5 0v3m0 2v1m0 3v1M13.5 1v1m0 6v1M14.5 1v1m0 8v1M15.5 1v1m0 5v1m0 3v1M16.5 6v1m0 1v1m0 2v1M17.5 1v1m0 2v1m0 1v1m0 2v1M18.5 6v2m0 2v1M19.5 3v1m0 4v1m0 2v1M20.5 3v2m0 1v2m0 1v2M21.5 7v2M22.5 1v1m0 2v2M23.5 4v1m0 2v1m0 3v1M24.5 5v1m0 5v1M25.5 0v2m0 8v1M26.5 0v1m0 8v1M27.5 8v2M28.5 7v1M29.5 2v1M30.5 7v1"/>
<path stroke="#cc2d27" d="M0.5 2v1m0 1v1m0 5v1M1.5 1v3m0 1v3M2.5 0v3m0 7v1M3.5 1v3m0 2v3M4.5 1v2m0 3v1M5.5 1v1m0 2v2m0 2v1m0 1v2M6.5 0v1m0 4v2m0 3v1M7.5 1v1m0 3v1m0 2v2m0 1v1M8.5 1v1m0 3v1m0 3v2M9.5 1v2m0 1v1m0 3v1M10.5 2v2m0 4v1m0 1v2M11.5 2v2m0 1v1m0 4v1M12.5 3v2m0 1v1m0 1v1m0 1v2M13.5 3v2m0 1v1m0 2v1M14.5 0v1m0 3v2m0 1v2M15.5 2v1m0 1v2m0 2v3M16.5 1v5m0 1v1m0 2v1M17.5 2v2m0 3v2m0 1v1M18.5 0v1m0 7v1m0 2v1M19.5 0v3m0 3v2m0 1v1M20.5 2v1m0 2v1m0 2v1m0 2v1M21.5 0v1m0 2v1m0 2v1m0 4v1M22.5 0v1m0 5v2m0 1v1m0 1v1M23.5 1v1m0 1v1M24.5 2v1M25.5 6v1m0 4v1M26.5 7v1M27.5 1v1M28.5 0v1m0 4v1M29.5 7v1M30.5 1v1m0 1v3"/>
</g>
</g>
<rect x="72.1" y="1036.6" width="2.69" height="11.8" fill="#e9d3c0"/><rect x="74.5" y="1036.6" width="2.69" height="11.8" fill="#e2c0ae"/><rect x="76.9" y="1036.6" width="2.69" height="11.8" fill="#deb7a5"/><rect x="79.3" y="1036.6" width="2.69" height="11.8" fill="#e8d0bd"/><rect x="81.7" y="1036.6" width="2.69" height="11.8" fill="#f1e8d4"/><rect x="84.0" y="1036.6" width="2.69" height="11.8" fill="#f2ead6"/><rect x="86.4" y="1036.6" width="2.69" height="11.8" fill="#f3ebd7"/><rect x="88.8" y="1036.6" width="2.69" height="11.8" fill="#cd8f80"/><rect x="91.2" y="1036.6" width="2.69" height="11.8" fill="#d5a391"/><rect x="93.6" y="1036.6" width="2.69" height="11.8" fill="#f2e9d5"/><rect x="96.0" y="1036.6" width="2.69" height="11.8" fill="#e9d2be"/><rect x="98.4" y="1036.6" width="2.69" height="11.8" fill="#e9d4c1"/><rect x="100.8" y="1036.6" width="2.69" height="11.8" fill="#f1e6d2"/><rect x="103.2" y="1036.6" width="2.69" height="11.8" fill="#ce9182"/><rect x="105.6" y="1036.6" width="2.69" height="11.8" fill="#f2ead6"/><rect x="107.9" y="1036.6" width="2.69" height="11.8" fill="#cb8b7d"/><rect x="110.3" y="1036.6" width="2.69" height="11.8" fill="#c88375"/><rect x="112.7" y="1036.6" width="2.69" height="11.8" fill="#dfb9a7"/><rect x="115.1" y="1036.6" width="2.69" height="11.8" fill="#d5a190"/><rect x="117.5" y="1036.6" width="2.69" height="11.8" fill="#ebd7c3"/><rect x="119.9" y="1036.6" width="2.69" height="11.8" fill="#dfbba8"/><rect x="122.3" y="1036.6" width="2.69" height="11.8" fill="#e0bba9"/><rect x="124.7" y="1036.6" width="2.69" height="11.8" fill="#e6cab7"/><rect x="127.1" y="1036.6" width="2.69" height="11.8" fill="#e9d4c1"/><rect x="129.4" y="1036.6" width="2.69" height="11.8" fill="#f1e6d2"/><rect x="131.8" y="1036.6" width="2.69" height="11.8" fill="#e8cfbc"/><rect x="134.2" y="1036.6" width="2.69" height="11.8" fill="#dfb9a6"/><rect x="136.6" y="1036.6" width="2.69" height="11.8" fill="#e4c7b4"/><rect x="139.0" y="1036.6" width="2.69" height="11.8" fill="#d6a593"/><rect x="141.4" y="1036.6" width="2.69" height="11.8" fill="#d49f8e"/><rect x="143.8" y="1036.6" width="2.69" height="11.8" fill="#dbaf9c"/><rect x="146.2" y="1036.6" width="2.69" height="11.8" fill="#e1beac"/><rect x="148.6" y="1036.6" width="2.69" height="11.8" fill="#d5a290"/><rect x="151.0" y="1036.6" width="2.69" height="11.8" fill="#ddb5a3"/><rect x="153.3" y="1036.6" width="2.69" height="11.8" fill="#cd8e7f"/><rect x="155.7" y="1036.6" width="2.69" height="11.8" fill="#e7cebb"/><rect x="158.1" y="1036.6" width="2.69" height="11.8" fill="#c67e71"/><rect x="160.5" y="1036.6" width="2.69" height="11.8" fill="#e2c1af"/><rect x="162.9" y="1036.6" width="2.69" height="11.8" fill="#ce9283"/><rect x="165.3" y="1036.6" width="2.69" height="11.8" fill="#ddb5a3"/><rect x="167.7" y="1036.6" width="2.69" height="11.8" fill="#ba6359"/><rect x="170.1" y="1036.6" width="2.69" height="11.8" fill="#e0bdaa"/><rect x="172.5" y="1036.6" width="2.69" height="11.8" fill="#f5f0dc"/><rect x="174.8" y="1036.6" width="2.69" height="11.8" fill="#d09686"/><rect x="177.2" y="1036.6" width="2.69" height="11.8" fill="#e9d3bf"/><rect x="179.6" y="1036.6" width="2.69" height="11.8" fill="#d39c8c"/><rect x="182.0" y="1036.6" width="2.69" height="11.8" fill="#deb8a5"/><rect x="184.4" y="1036.6" width="2.69" height="11.8" fill="#be6d61"/><rect x="186.8" y="1036.6" width="2.69" height="11.8" fill="#e1beac"/><rect x="189.2" y="1036.6" width="2.69" height="11.8" fill="#e3c3b0"/><rect x="191.6" y="1036.6" width="2.69" height="11.8" fill="#efe3cf"/><rect x="194.0" y="1036.6" width="2.69" height="11.8" fill="#ce9182"/><rect x="196.4" y="1036.6" width="2.69" height="11.8" fill="#cf9484"/><rect x="198.7" y="1036.6" width="2.69" height="11.8" fill="#e6ccb9"/><rect x="201.1" y="1036.6" width="2.69" height="11.8" fill="#d7a695"/><rect x="203.5" y="1036.6" width="2.69" height="11.8" fill="#deb7a5"/><rect x="205.9" y="1036.6" width="2.69" height="11.8" fill="#e5c8b5"/><rect x="208.3" y="1036.6" width="2.69" height="11.8" fill="#d9aa98"/><rect x="210.7" y="1036.6" width="2.69" height="11.8" fill="#daae9c"/><rect x="213.1" y="1036.6" width="2.69" height="11.8" fill="#c78274"/><rect x="215.5" y="1036.6" width="2.69" height="11.8" fill="#dcb3a1"/><rect x="217.9" y="1036.6" width="2.69" height="11.8" fill="#b4564d"/><rect x="220.3" y="1036.6" width="2.69" height="11.8" fill="#bc675c"/><rect x="222.6" y="1036.6" width="2.69" height="11.8" fill="#c88476"/><rect x="225.0" y="1036.6" width="2.69" height="11.8" fill="#cb8b7c"/><rect x="227.4" y="1036.6" width="2.69" height="11.8" fill="#d19989"/><rect x="229.8" y="1036.6" width="2.69" height="11.8" fill="#c57e70"/><rect x="232.2" y="1036.6" width="2.69" height="11.8" fill="#d49e8d"/><rect x="234.6" y="1036.6" width="2.69" height="11.8" fill="#c57c6f"/><rect x="237.0" y="1036.6" width="2.69" height="11.8" fill="#cc8d7e"/><rect x="239.4" y="1036.6" width="2.69" height="11.8" fill="#d49f8f"/><rect x="241.8" y="1036.6" width="2.69" height="11.8" fill="#c47a6d"/><rect x="244.1" y="1036.6" width="2.69" height="11.8" fill="#ca8879"/><rect x="246.5" y="1036.6" width="2.69" height="11.8" fill="#e0bba9"/><rect x="248.9" y="1036.6" width="2.69" height="11.8" fill="#c98678"/><rect x="251.3" y="1036.6" width="2.69" height="11.8" fill="#e2c1ae"/><rect x="253.7" y="1036.6" width="2.69" height="11.8" fill="#c07165"/><rect x="256.1" y="1036.6" width="2.69" height="11.8" fill="#aa413a"/><rect x="258.5" y="1036.6" width="2.69" height="11.8" fill="#cc8e7f"/><rect x="260.9" y="1036.6" width="2.69" height="11.8" fill="#b75c52"/><rect x="263.3" y="1036.6" width="2.69" height="11.8" fill="#c27569"/><rect x="265.7" y="1036.6" width="2.69" height="11.8" fill="#bb665c"/><rect x="268.0" y="1036.6" width="2.69" height="11.8" fill="#b5584f"/><rect x="270.4" y="1036.6" width="2.69" height="11.8" fill="#ba645a"/><rect x="272.8" y="1036.6" width="2.69" height="11.8" fill="#af4c44"/><rect x="275.2" y="1036.6" width="2.69" height="11.8" fill="#bd6a5f"/><rect x="277.6" y="1036.6" width="2.69" height="11.8" fill="#bd695e"/><rect x="280.0" y="1036.6" width="2.69" height="11.8" fill="#aa413a"/><rect x="282.4" y="1036.6" width="2.69" height="11.8" fill="#d09686"/><rect x="284.8" y="1036.6" width="2.69" height="11.8" fill="#a93e38"/><rect x="287.2" y="1036.6" width="2.69" height="11.8" fill="#cc8e7f"/><rect x="289.5" y="1036.6" width="2.69" height="11.8" fill="#be6c61"/><rect x="291.9" y="1036.6" width="2.69" height="11.8" fill="#daae9b"/><rect x="294.3" y="1036.6" width="2.69" height="11.8" fill="#b25149"/><rect x="296.7" y="1036.6" width="2.69" height="11.8" fill="#d39e8d"/><rect x="299.1" y="1036.6" width="2.69" height="11.8" fill="#b75b52"/><rect x="301.5" y="1036.6" width="2.69" height="11.8" fill="#be6c61"/><rect x="303.9" y="1036.6" width="2.69" height="11.8" fill="#b65950"/><rect x="306.3" y="1036.6" width="2.69" height="11.8" fill="#9d2622"/><rect x="308.7" y="1036.6" width="2.69" height="11.8" fill="#ba6258"/><rect x="311.1" y="1036.6" width="2.69" height="11.8" fill="#a73b34"/><rect x="313.4" y="1036.6" width="2.69" height="11.8" fill="#af4b43"/><rect x="315.8" y="1036.6" width="2.69" height="11.8" fill="#c57c6f"/><rect x="318.2" y="1036.6" width="2.69" height="11.8" fill="#bc685d"/><rect x="320.6" y="1036.6" width="2.69" height="11.8" fill="#c78173"/><rect x="326.9" y="1036.6" width="2.67" height="11.8" fill="#ac453d"/><rect x="329.3" y="1036.6" width="2.67" height="11.8" fill="#b85f55"/><rect x="331.6" y="1036.6" width="2.67" height="11.8" fill="#a12e2a"/><rect x="334.0" y="1036.6" width="2.67" height="11.8" fill="#c3786b"/><rect x="336.4" y="1036.6" width="2.67" height="11.8" fill="#c47b6e"/><rect x="338.8" y="1036.6" width="2.67" height="11.8" fill="#ad4740"/><rect x="341.1" y="1036.6" width="2.67" height="11.8" fill="#b65b52"/><rect x="343.5" y="1036.6" width="2.67" height="11.8" fill="#bb665b"/><rect x="345.9" y="1036.6" width="2.67" height="11.8" fill="#b96157"/><rect x="348.2" y="1036.6" width="2.67" height="11.8" fill="#d4a08f"/><rect x="350.6" y="1036.6" width="2.67" height="11.8" fill="#be6d61"/><rect x="353.0" y="1036.6" width="2.67" height="11.8" fill="#c88275"/><rect x="355.3" y="1036.6" width="2.67" height="11.8" fill="#b75b52"/><rect x="357.7" y="1036.6" width="2.67" height="11.8" fill="#d8a997"/><rect x="360.1" y="1036.6" width="2.67" height="11.8" fill="#981c19"/><rect x="362.5" y="1036.6" width="2.67" height="11.8" fill="#b04d45"/><rect x="364.8" y="1036.6" width="2.67" height="11.8" fill="#bc685d"/><rect x="367.2" y="1036.6" width="2.67" height="11.8" fill="#d5a190"/><rect x="369.6" y="1036.6" width="2.67" height="11.8" fill="#b3534a"/><rect x="371.9" y="1036.6" width="2.67" height="11.8" fill="#d7a695"/><rect x="374.3" y="1036.6" width="2.67" height="11.8" fill="#c47a6d"/><rect x="376.7" y="1036.6" width="2.67" height="11.8" fill="#a73a34"/><rect x="379.1" y="1036.6" width="2.67" height="11.8" fill="#c3796c"/><rect x="381.4" y="1036.6" width="2.67" height="11.8" fill="#ba6359"/><rect x="383.8" y="1036.6" width="2.67" height="11.8" fill="#be6b60"/><rect x="386.2" y="1036.6" width="2.67" height="11.8" fill="#bd6b60"/><rect x="388.5" y="1036.6" width="2.67" height="11.8" fill="#961815"/><rect x="390.9" y="1036.6" width="2.67" height="11.8" fill="#ab433c"/><rect x="393.3" y="1036.6" width="2.67" height="11.8" fill="#b04e46"/><rect x="395.6" y="1036.6" width="2.67" height="11.8" fill="#a83c36"/><rect x="398.0" y="1036.6" width="2.67" height="11.8" fill="#b3534b"/><rect x="400.4" y="1036.6" width="2.67" height="11.8" fill="#b25149"/><rect x="402.8" y="1036.6" width="2.67" height="11.8" fill="#a93f39"/><rect x="405.1" y="1036.6" width="2.67" height="11.8" fill="#b96157"/><rect x="411.1" y="1036.6" width="2.72" height="11.8" fill="#a4342e"/><rect x="413.5" y="1036.6" width="2.72" height="11.8" fill="#9c2420"/><rect x="415.9" y="1036.6" width="2.72" height="11.8" fill="#a73b35"/><rect x="418.4" y="1036.6" width="2.72" height="11.8" fill="#900a09"/><rect x="420.8" y="1036.6" width="2.72" height="11.8" fill="#8f0908"/><rect x="423.2" y="1036.6" width="2.72" height="11.8" fill="#b5574e"/><rect x="425.6" y="1036.6" width="2.72" height="11.8" fill="#951412"/><rect x="428.0" y="1036.6" width="2.72" height="11.8" fill="#9b221f"/><rect x="430.4" y="1036.6" width="2.72" height="11.8" fill="#ad4740"/><rect x="432.9" y="1036.6" width="2.72" height="11.8" fill="#941311"/><rect x="435.3" y="1036.6" width="2.72" height="11.8" fill="#8e0605"/><rect x="437.7" y="1036.6" width="2.72" height="11.8" fill="#971a17"/><rect x="440.1" y="1036.6" width="2.72" height="11.8" fill="#981c19"/><rect x="442.5" y="1036.6" width="2.72" height="11.8" fill="#981b18"/><rect x="444.9" y="1036.6" width="2.72" height="11.8" fill="#8b0000"/><rect x="447.4" y="1036.6" width="2.72" height="11.8" fill="#8f0a09"/><rect x="449.8" y="1036.6" width="2.72" height="11.8" fill="#9b221e"/><rect x="452.2" y="1036.6" width="2.72" height="11.8" fill="#a83d36"/><rect x="454.6" y="1036.6" width="2.72" height="11.8" fill="#a02c28"/><rect x="457.0" y="1036.6" width="2.72" height="11.8" fill="#a83d37"/><rect x="459.5" y="1036.6" width="2.72" height="11.8" fill="#8b0000"/><rect x="461.9" y="1036.6" width="2.72" height="11.8" fill="#a53530"/><rect x="464.3" y="1036.6" width="2.72" height="11.8" fill="#ae4a42"/><rect x="466.7" y="1036.6" width="2.72" height="11.8" fill="#a94039"/><rect x="469.1" y="1036.6" width="2.72" height="11.8" fill="#8b0000"/><rect x="471.5" y="1036.6" width="2.72" height="11.8" fill="#981c19"/><rect x="474.0" y="1036.6" width="2.72" height="11.8" fill="#9c2420"/><rect x="476.4" y="1036.6" width="2.72" height="11.8" fill="#a73a34"/><rect x="478.8" y="1036.6" width="2.72" height="11.8" fill="#a4342e"/><rect x="481.2" y="1036.6" width="2.72" height="11.8" fill="#8b0000"/><rect x="483.6" y="1036.6" width="2.72" height="11.8" fill="#9b211d"/><rect x="486.0" y="1036.6" width="2.72" height="11.8" fill="#93110f"/><rect x="488.5" y="1036.6" width="2.72" height="11.8" fill="#a83c36"/><rect x="490.9" y="1036.6" width="2.72" height="11.8" fill="#8b0000"/><rect x="493.3" y="1036.6" width="2.72" height="11.8" fill="#8b0000"/><rect x="495.7" y="1036.6" width="2.72" height="11.8" fill="#8b0000"/><rect x="498.1" y="1036.6" width="2.72" height="11.8" fill="#ab423b"/><rect x="500.5" y="1036.6" width="2.72" height="11.8" fill="#971816"/><rect x="503.0" y="1036.6" width="2.72" height="11.8" fill="#8b0000"/><rect x="505.4" y="1036.6" width="2.72" height="11.8" fill="#93100f"/>
<rect x="72.1" y="1050.8" width="77.2" height="10.8" fill="#bdbdbd"/><rect x="75.1" y="1050.8" width="2.5" height="10.8" fill="#dcb27a" opacity="0.75"/><rect x="79.6" y="1050.8" width="2.5" height="10.8" fill="#d2b48c" opacity="0.75"/><rect x="82.1" y="1050.8" width="3.0" height="10.8" fill="#dcb27a" opacity="0.75"/><rect x="85.1" y="1050.8" width="3.0" height="10.8" fill="#cdb898" opacity="0.75"/><rect x="94.1" y="1050.8" width="4.0" height="10.8" fill="#d2b48c" opacity="0.75"/><rect x="100.1" y="1050.8" width="2.5" height="10.8" fill="#d2b48c" opacity="0.75"/><rect x="110.1" y="1050.8" width="2.5" height="10.8" fill="#cdb898" opacity="0.75"/><rect x="116.6" y="1050.8" width="4.0" height="10.8" fill="#d2b48c" opacity="0.75"/><rect x="126.1" y="1050.8" width="3.0" height="10.8" fill="#cdb898" opacity="0.75"/><rect x="133.6" y="1050.8" width="3.0" height="10.8" fill="#dcb27a" opacity="0.75"/><rect x="136.6" y="1050.8" width="2.5" height="10.8" fill="#cdb898" opacity="0.75"/><rect x="146.6" y="1050.8" width="2.0" height="10.8" fill="#cdb898" opacity="0.75"/><rect x="149.3" y="1050.8" width="22.5" height="10.8" fill="#f0b45a"/><rect x="171.8" y="1050.8" width="70.5" height="10.8" fill="#ffa500"/><rect x="242.3" y="1050.8" width="80.7" height="10.8" fill="#bdbdbd"/><rect x="245.3" y="1050.8" width="2.0" height="10.8" fill="#d2b48c" opacity="0.75"/><rect x="252.8" y="1050.8" width="4.0" height="10.8" fill="#d2b48c" opacity="0.75"/><rect x="256.8" y="1050.8" width="3.0" height="10.8" fill="#d2b48c" opacity="0.75"/><rect x="267.3" y="1050.8" width="4.0" height="10.8" fill="#cdb898" opacity="0.75"/><rect x="273.3" y="1050.8" width="3.0" height="10.8" fill="#d2b48c" opacity="0.75"/><rect x="276.3" y="1050.8" width="2.0" height="10.8" fill="#dcb27a" opacity="0.75"/><rect x="284.8" y="1050.8" width="4.0" height="10.8" fill="#cdb898" opacity="0.75"/><rect x="288.8" y="1050.8" width="2.5" height="10.8" fill="#dcb27a" opacity="0.75"/><rect x="291.3" y="1050.8" width="2.5" height="10.8" fill="#cdb898" opacity="0.75"/><rect x="293.8" y="1050.8" width="3.0" height="10.8" fill="#cdb898" opacity="0.75"/><rect x="298.8" y="1050.8" width="2.5" height="10.8" fill="#dcb27a" opacity="0.75"/><rect x="303.8" y="1050.8" width="2.5" height="10.8" fill="#d2b48c" opacity="0.75"/><rect x="306.3" y="1050.8" width="2.5" height="10.8" fill="#cdb898" opacity="0.75"/><rect x="308.8" y="1050.8" width="2.5" height="10.8" fill="#d2b48c" opacity="0.75"/><rect x="326.9" y="1050.8" width="80.6" height="10.8" fill="#ffa500"/><rect x="411.1" y="1050.8" width="45.2" height="10.8" fill="#ffa500"/><rect x="456.3" y="1050.8" width="51.5" height="10.8" fill="#bdbdbd"/><rect x="463.8" y="1050.8" width="3.0" height="10.8" fill="#cdb898" opacity="0.75"/><rect x="466.8" y="1050.8" width="2.5" height="10.8" fill="#dcb27a" opacity="0.75"/><rect x="482.8" y="1050.8" width="2.5" height="10.8" fill="#dcb27a" opacity="0.75"/><rect x="487.8" y="1050.8" width="2.0" height="10.8" fill="#d2b48c" opacity="0.75"/><rect x="492.8" y="1050.8" width="3.0" height="10.8" fill="#dcb27a" opacity="0.75"/>
<rect x="72.1" y="1063.2" width="250.9" height="10.9" fill="#f7f4e0"/><rect x="326.9" y="1063.2" width="80.6" height="10.9" fill="#f7f4e0"/><rect x="411.1" y="1063.2" width="96.7" height="10.9" fill="#f7f4e0"/><rect x="85.9" y="1063.2" width="7.1" height="10.9" fill="#f9875a"/><rect x="135.2" y="1063.2" width="11.3" height="10.9" fill="#f9875a"/><rect x="152" y="1063.2" width="4.3" height="10.9" fill="#f9875a"/><rect x="162" y="1063.2" width="4.2" height="10.9" fill="#f9875a"/><rect x="171.8" y="1063.2" width="11.3" height="10.9" fill="#f9875a"/><rect x="193" y="1063.2" width="23.9" height="10.9" fill="#f9875a"/><rect x="231" y="1063.2" width="2.8" height="10.9" fill="#f9875a"/><rect x="245" y="1063.2" width="5.7" height="10.9" fill="#f9875a"/><rect x="255" y="1063.2" width="4.0" height="10.9" fill="#f9875a"/><rect x="327.6" y="1063.2" width="45.6" height="10.9" fill="#f9875a"/><rect x="411.8" y="1063.2" width="11.6" height="10.9" fill="#f9875a"/><rect x="432.4" y="1063.2" width="14.1" height="10.9" fill="#f9875a"/><rect x="106.4" y="1063.2" width="3.0" height="10.9" fill="#f9875a"/><rect x="110.9" y="1063.2" width="2.5" height="10.9" fill="#f9875a"/><rect x="114.9" y="1063.2" width="2.0" height="10.9" fill="#f9875a"/><rect x="118.9" y="1063.2" width="2.5" height="10.9" fill="#f9875a"/><rect x="263.4" y="1063.2" width="2.0" height="10.9" fill="#f9875a"/><rect x="266.9" y="1063.2" width="1.5" height="10.9" fill="#f9875a"/><rect x="287.2" y="1063.2" width="3.0" height="10.9" fill="#f9875a"/><rect x="295.5" y="1063.2" width="0.3" height="10.9" fill="#f9875a"/><rect x="306.5" y="1063.2" width="2.0" height="10.9" fill="#f9875a"/><rect x="310.0" y="1063.2" width="3.0" height="10.9" fill="#f9875a"/><rect x="315.0" y="1063.2" width="3.0" height="10.9" fill="#f9875a"/><rect x="459.6" y="1063.2" width="2.0" height="10.9" fill="#f9875a"/><rect x="462.4" y="1063.2" width="2.5" height="10.9" fill="#f9875a"/><rect x="470.4" y="1063.2" width="2.5" height="10.9" fill="#f9875a"/><rect x="473.7" y="1063.2" width="3.0" height="10.9" fill="#f9875a"/><rect x="478.2" y="1063.2" width="0.7" height="10.9" fill="#f9875a"/><rect x="491.5" y="1063.2" width="2.0" height="10.9" fill="#f9875a"/><rect x="498.3" y="1063.2" width="1.5" height="10.9" fill="#f9875a"/><rect x="501.8" y="1063.2" width="2.5" height="10.9" fill="#f9875a"/><rect x="506.3" y="1063.2" width="1.5" height="10.9" fill="#f9875a"/>
<path d="M184.5 1025.5V1010.2H412.1V1024.5M112.8 1032V1025.5H256.8V1027.8M225.5 1032V1027.8H288V1032M367.9 1032V1024.5H473.2V1032M432.7 1032V1027.5H473.2M348 1032V1030.5H387.5V1032M421 1032V1030.5H451V1032M150 1032V1030H196V1032M260 1032V1030.5H300V1032" fill="none" stroke="#8a8a8a" stroke-width="1.3"/>
<path d="M72.1 1035.2L72.1 1032.0L74.5 1032.2L76.0 1032.2L78.1 1032.3L80.1 1031.9L83.2 1031.4L86.9 1031.4L90.2 1031.6L94.2 1032.5L95.9 1031.5L98.7 1031.3L101.9 1031.8L103.9 1031.8L107.8 1032.0L110.5 1032.1L113.1 1031.3L115.9 1031.4L118.7 1032.1L122.2 1031.9L125.2 1031.3L128.5 1032.6L131.6 1031.4L135.5 1031.6L138.3 1031.9L139.9 1032.0L143.2 1032.1L145.5 1032.0L147.7 1032.1L149.4 1031.8L151.6 1032.6L155.4 1032.0L157.7 1031.5L160.1 1031.8L162.2 1031.5L165.5 1032.1L168.5 1032.3L172.3 1031.6L175.1 1032.1L179.1 1031.9L181.3 1031.7L184.1 1032.2L187.0 1032.4L190.1 1032.0L192.8 1031.9L195.3 1032.3L197.2 1031.2L200.8 1032.0L202.9 1032.6L206.1 1031.6L209.0 1031.9L210.9 1031.8L213.4 1031.3L216.1 1031.9L217.8 1032.3L220.5 1032.3L222.8 1031.4L225.2 1031.2L227.8 1031.6L230.8 1032.0L233.2 1032.0L236.7 1031.7L239.3 1032.1L243.1 1031.5L244.8 1032.2L248.3 1031.7L250.0 1031.3L252.3 1031.3L255.9 1031.7L258.3 1032.5L260.6 1032.0L263.8 1032.6L267.8 1032.4L270.0 1031.7L273.9 1031.4L275.8 1031.5L279.4 1031.6L281.2 1031.7L283.8 1031.5L286.5 1032.1L289.7 1031.2L292.9 1032.4L295.7 1031.6L299.6 1032.5L302.4 1032.0L304.4 1031.5L306.6 1032.5L308.7 1031.3L311.4 1031.5L313.8 1031.4L317.4 1031.3L319.3 1031.5L321.8 1032.3L323.0 1032.8L323.0 1035.2zM326.9 1035.2L326.9 1032.2L330.5 1032.5L333.3 1031.6L336.0 1031.8L339.2 1031.7L342.4 1031.8L344.0 1031.4L346.6 1032.5L349.3 1031.6L352.7 1031.6L354.4 1031.9L358.4 1031.3L360.8 1032.0L362.8 1032.4L366.5 1032.4L369.4 1031.8L371.9 1031.4L375.6 1031.9L377.8 1032.1L381.0 1031.9L384.7 1032.3L388.2 1031.5L391.5 1031.4L393.7 1031.3L395.8 1031.9L398.6 1031.5L402.2 1032.4L404.2 1032.0L407.5 1032.8L407.5 1035.2zM411.1 1035.2L411.1 1031.4L414.7 1032.5L417.3 1031.6L419.0 1031.3L421.1 1032.1L424.4 1031.5L426.1 1031.4L428.5 1031.5L432.3 1031.6L436.2 1031.4L439.5 1032.2L442.0 1032.1L445.2 1031.8L447.9 1032.2L451.1 1032.5L452.7 1032.0L455.5 1031.8L457.9 1032.4L461.2 1031.6L464.1 1031.9L467.0 1031.6L469.1 1032.3L472.0 1032.1L475.4 1031.3L477.5 1031.8L480.7 1032.4L484.5 1031.4L487.0 1032.3L489.1 1032.2L491.1 1031.9L492.9 1031.5L495.1 1031.8L497.9 1032.2L501.8 1032.1L504.3 1031.8L506.4 1032.5L507.8 1032.8L507.8 1035.2z" fill="#1e1e1e"/>
<rect x="58.2" y="1077.8" width="10.4" height="209.7" fill="#8fd3bf"/>
<rect x="58.2" y="1292.1" width="10.4" height="299.8" fill="#3dab79"/>
<rect x="58.2" y="1596.1" width="10.4" height="133.6" fill="#8fd3bf"/>
<rect x="58.2" y="1732.7" width="10.4" height="43.9" fill="#8fd3bf"/>
<rect x="58.2" y="1091.1" width="10.4" height="5.5" fill="#1f8f5c" opacity="0.10"/><rect x="58.2" y="1134.0" width="10.4" height="5.6" fill="#1f8f5c" opacity="0.14"/><rect x="58.2" y="1139.6" width="10.4" height="7.8" fill="#ffffff" opacity="0.16"/><rect x="58.2" y="1159.6" width="10.4" height="5.5" fill="#1f8f5c" opacity="0.13"/><rect x="58.2" y="1187.8" width="10.4" height="5.7" fill="#1f8f5c" opacity="0.10"/><rect x="58.2" y="1206.3" width="10.4" height="3.7" fill="#ffffff" opacity="0.19"/><rect x="58.2" y="1210.1" width="10.4" height="5.8" fill="#ffffff" opacity="0.08"/><rect x="58.2" y="1243.0" width="10.4" height="8.6" fill="#ffffff" opacity="0.16"/><rect x="58.2" y="1251.7" width="10.4" height="7.2" fill="#1f8f5c" opacity="0.12"/><rect x="58.2" y="1258.8" width="10.4" height="5.6" fill="#1f8f5c" opacity="0.09"/><rect x="58.2" y="1269.6" width="10.4" height="6.8" fill="#ffffff" opacity="0.16"/><rect x="58.2" y="1276.4" width="10.4" height="6.1" fill="#1f8f5c" opacity="0.16"/><rect x="58.2" y="1286.5" width="10.4" height="1.0" fill="#ffffff" opacity="0.14"/><rect x="58.2" y="1301.1" width="10.4" height="3.3" fill="#ffffff" opacity="0.11"/><rect x="58.2" y="1310.8" width="10.4" height="5.8" fill="#1f8f5c" opacity="0.22"/><rect x="58.2" y="1321.6" width="10.4" height="4.9" fill="#ffffff" opacity="0.11"/><rect x="58.2" y="1326.6" width="10.4" height="6.6" fill="#ffffff" opacity="0.20"/><rect x="58.2" y="1342.1" width="10.4" height="7.9" fill="#1f8f5c" opacity="0.21"/><rect x="58.2" y="1350.1" width="10.4" height="5.5" fill="#ffffff" opacity="0.21"/><rect x="58.2" y="1360.6" width="10.4" height="6.2" fill="#1f8f5c" opacity="0.16"/><rect x="58.2" y="1366.8" width="10.4" height="5.3" fill="#ffffff" opacity="0.13"/><rect x="58.2" y="1372.1" width="10.4" height="5.2" fill="#1f8f5c" opacity="0.18"/><rect x="58.2" y="1383.6" width="10.4" height="6.0" fill="#1f8f5c" opacity="0.10"/><rect x="58.2" y="1396.2" width="10.4" height="6.8" fill="#1f8f5c" opacity="0.18"/><rect x="58.2" y="1411.3" width="10.4" height="5.6" fill="#ffffff" opacity="0.14"/><rect x="58.2" y="1416.9" width="10.4" height="7.7" fill="#1f8f5c" opacity="0.09"/><rect x="58.2" y="1444.4" width="10.4" height="6.3" fill="#1f8f5c" opacity="0.16"/><rect x="58.2" y="1460.9" width="10.4" height="8.5" fill="#1f8f5c" opacity="0.18"/><rect x="58.2" y="1469.5" width="10.4" height="7.3" fill="#ffffff" opacity="0.09"/><rect x="58.2" y="1476.8" width="10.4" height="5.1" fill="#1f8f5c" opacity="0.12"/><rect x="58.2" y="1481.8" width="10.4" height="4.0" fill="#1f8f5c" opacity="0.21"/><rect x="58.2" y="1502.5" width="10.4" height="7.7" fill="#1f8f5c" opacity="0.17"/><rect x="58.2" y="1518.1" width="10.4" height="3.7" fill="#1f8f5c" opacity="0.16"/><rect x="58.2" y="1539.7" width="10.4" height="4.3" fill="#ffffff" opacity="0.17"/><rect x="58.2" y="1553.4" width="10.4" height="3.2" fill="#ffffff" opacity="0.17"/><rect x="58.2" y="1556.7" width="10.4" height="4.2" fill="#1f8f5c" opacity="0.11"/><rect x="58.2" y="1560.9" width="10.4" height="5.6" fill="#1f8f5c" opacity="0.12"/><rect x="58.2" y="1566.5" width="10.4" height="3.7" fill="#1f8f5c" opacity="0.10"/><rect x="58.2" y="1570.3" width="10.4" height="4.9" fill="#1f8f5c" opacity="0.10"/><rect x="58.2" y="1586.5" width="10.4" height="5.4" fill="#ffffff" opacity="0.09"/><rect x="58.2" y="1596.1" width="10.4" height="4.0" fill="#1f8f5c" opacity="0.21"/><rect x="58.2" y="1606.1" width="10.4" height="5.6" fill="#1f8f5c" opacity="0.18"/><rect x="58.2" y="1611.8" width="10.4" height="7.6" fill="#ffffff" opacity="0.20"/><rect x="58.2" y="1619.3" width="10.4" height="5.8" fill="#1f8f5c" opacity="0.12"/><rect x="58.2" y="1629.1" width="10.4" height="7.6" fill="#1f8f5c" opacity="0.09"/><rect x="58.2" y="1650.1" width="10.4" height="6.5" fill="#1f8f5c" opacity="0.17"/><rect x="58.2" y="1656.6" width="10.4" height="5.2" fill="#1f8f5c" opacity="0.13"/><rect x="58.2" y="1661.8" width="10.4" height="5.4" fill="#1f8f5c" opacity="0.19"/><rect x="58.2" y="1674.3" width="10.4" height="8.0" fill="#1f8f5c" opacity="0.15"/><rect x="58.2" y="1714.0" width="10.4" height="4.8" fill="#1f8f5c" opacity="0.19"/><rect x="58.2" y="1718.8" width="10.4" height="7.6" fill="#ffffff" opacity="0.12"/><rect x="58.2" y="1726.4" width="10.4" height="3.3" fill="#ffffff" opacity="0.12"/><rect x="58.2" y="1732.7" width="10.4" height="3.4" fill="#1f8f5c" opacity="0.09"/><rect x="58.2" y="1736.1" width="10.4" height="4.3" fill="#ffffff" opacity="0.16"/><rect x="58.2" y="1762.1" width="10.4" height="8.5" fill="#ffffff" opacity="0.18"/><rect x="58.2" y="1774.9" width="10.4" height="1.7" fill="#1f8f5c" opacity="0.16"/>
<defs><pattern id="comb" x="0" y="0" width="10" height="2.6" patternUnits="userSpaceOnUse"><rect x="0" y="0" width="10" height="1" fill="#222"/></pattern></defs>
<rect x="48" y="1077.8" width="9.6" height="209.7" fill="url(#comb)"/>
<line x1="48.5" y1="1080.8" x2="48.5" y2="1284.5" stroke="#444" stroke-width="1"/>
<rect x="48" y="1292.1" width="9.6" height="299.8" fill="url(#comb)"/>
<line x1="48.5" y1="1295.1" x2="48.5" y2="1588.9" stroke="#444" stroke-width="1"/>
<rect x="48" y="1596.1" width="9.6" height="133.6" fill="url(#comb)"/>
<line x1="48.5" y1="1599.1" x2="48.5" y2="1726.7" stroke="#444" stroke-width="1"/>
<rect x="48" y="1732.7" width="9.6" height="43.9" fill="url(#comb)"/>
<line x1="48.5" y1="1735.7" x2="48.5" y2="1773.6" stroke="#444" stroke-width="1"/>
<path d="M45.4 1102V1198M31.6 1150H45.4M31.6 1150V1518H40.5M40.5 1405V1634M40.5 1405H47M40.5 1634H44.8M44.8 1597V1725" fill="none" stroke="#8a8a8a" stroke-width="1.2"/>
<text x="0" y="0" font-size="28" text-anchor="middle" transform="translate(25 1393) rotate(-90)" textLength="207" lengthAdjust="spacingAndGlyphs">scATAC on peak</text>
<text x="521.5" y="1070.4" font-size="23.5">C1</text>
<text x="521.5" y="1096.0" font-size="23.5" textLength="194.6" lengthAdjust="spacingAndGlyphs">Response-specific</text>
<text x="521.5" y="1121.6" font-size="23.5" textLength="186.9" lengthAdjust="spacingAndGlyphs">Age-independent</text>
<text x="521.5" y="1174.1" font-size="23.5" textLength="77.2" lengthAdjust="spacingAndGlyphs">CD109;</text>
<text x="521.5" y="1200.6" font-size="23.5" textLength="94.3" lengthAdjust="spacingAndGlyphs">CHRNA1;</text>
<text x="521.5" y="1226.2" font-size="23.5" textLength="113.1" lengthAdjust="spacingAndGlyphs">ADORA2A;</text>
<text x="521.5" y="1252.6" font-size="23.5" textLength="76" lengthAdjust="spacingAndGlyphs">MCHR1</text>
<text x="521.5" y="1278.2" font-size="23.5" textLength="149.8" lengthAdjust="spacingAndGlyphs">HAVCR2; IL4R</text>
<text x="521.5" y="1343.5" font-size="23.5">C2</text>
<text x="521.5" y="1369.5" font-size="23.5" textLength="163.4" lengthAdjust="spacingAndGlyphs">Age-associated</text>
<text x="521.5" y="1422.5" font-size="23.5" textLength="112.2" lengthAdjust="spacingAndGlyphs">TOX2; ID2;</text>
<text x="521.5" y="1448.9" font-size="23.5" textLength="166.4" lengthAdjust="spacingAndGlyphs">CBX8; IZUMO4;</text>
<text x="521.5" y="1475.0" font-size="23.5" textLength="129.3" lengthAdjust="spacingAndGlyphs">IRF4; MAFA;</text>
<text x="521.5" y="1500.6" font-size="23.5" textLength="111.4" lengthAdjust="spacingAndGlyphs">LAYN; SKI;</text>
<text x="521.5" y="1527.0" font-size="23.5" textLength="147.6" lengthAdjust="spacingAndGlyphs">CD74; CXCR6</text>
<text x="521.5" y="1623.9" font-size="23.5">C3</text>
<text x="521.5" y="1649.5" font-size="23.5" textLength="227.4" lengthAdjust="spacingAndGlyphs">No-response-specific</text>
<text x="521.5" y="1675.5" font-size="23.5" textLength="223.2" lengthAdjust="spacingAndGlyphs">weak age-associated</text>
<text x="521.5" y="1727.6" font-size="23.5" textLength="115.2" lengthAdjust="spacingAndGlyphs">CD80; SKI;</text>
<text x="521.5" y="1754.0" font-size="23.5" textLength="131.4" lengthAdjust="spacingAndGlyphs">TIGIT; DPP8;</text>
<text x="521.5" y="1780.0" font-size="23.5" textLength="132.3" lengthAdjust="spacingAndGlyphs">CASP9; IRF4</text>
<rect x="61.9" y="1814.7" width="40.2" height="40.1" fill="#bebebe"/><rect x="61.9" y="1854.8" width="40.2" height="39.8" fill="#ffa500"/>
<text x="115.8" y="1843.0" font-size="26">NR</text>
<text x="115.8" y="1884.6" font-size="26">R</text>
<rect x="304.7" y="1813.5" width="40.1" height="39.4" fill="#f5f5dc"/><rect x="304.7" y="1852.9" width="40.1" height="39.8" fill="#ff7f50"/>
<text x="358.6" y="1843.0" font-size="26" textLength="95" lengthAdjust="spacingAndGlyphs">Pre-PD1</text>
<text x="358.6" y="1881.6" font-size="26" textLength="108" lengthAdjust="spacingAndGlyphs">Post-PD1</text>
<rect x="66.1" y="1925.2" width="42.9" height="30.9" fill="#edf7fa"/>
<rect x="109" y="1925.2" width="42.0" height="30.9" fill="#b0e0df"/>
<rect x="151" y="1925.2" width="42.0" height="30.9" fill="#5fbf9b"/>
<rect x="193" y="1925.2" width="42.9" height="30.9" fill="#2ca25f"/>
<text x="87.2" y="1946.6" font-size="21" text-anchor="middle">0</text>
<text x="214.8" y="1946.6" font-size="21" text-anchor="middle" fill="#fff">0.3</text>
<text x="249.3" y="1947.3" font-size="28" textLength="285" lengthAdjust="spacingAndGlyphs">Correlation age × peak</text>
<rect x="63.8" y="1970.3" width="43.2" height="31.3" fill="#f5f3dc"/>
<rect x="107" y="1970.3" width="44.8" height="31.3" fill="#d4a091"/>
<rect x="151.8" y="1970.3" width="43.9" height="31.3" fill="#b04f48"/>
<rect x="195.7" y="1970.3" width="44.0" height="31.3" fill="#8b0000"/>
<text x="87.2" y="1991.3" font-size="21" text-anchor="middle">0</text>
<text x="214.8" y="1991.3" font-size="21" text-anchor="middle" fill="#fff">100</text>
<text x="252.3" y="1992.4" font-size="28" textLength="198.79195657160332" lengthAdjust="spacingAndGlyphs">sc EpiTrace age</text>
<text x="798.8" y="961.1" font-size="38" font-weight="bold" stroke="#000" stroke-width="1.2">d</text>
<g fill="none" stroke="#dedede" stroke-width="1.2"><rect x="903.5" y="1040" width="47.8" height="47.2"/><rect x="951.3" y="1040" width="46.2" height="47.2"/><rect x="997.5" y="1040" width="47.8" height="47.2"/><rect x="1045.3" y="1040" width="47.0" height="47.2"/><rect x="1092.3" y="1040" width="48.0" height="47.2"/><rect x="951.3" y="1087.2" width="46.2" height="46.9"/><rect x="997.5" y="1087.2" width="47.8" height="46.9"/><rect x="1045.3" y="1087.2" width="47.0" height="46.9"/><rect x="1092.3" y="1087.2" width="48.0" height="46.9"/><rect x="997.5" y="1134.1" width="47.8" height="47.2"/><rect x="1045.3" y="1134.1" width="47.0" height="47.2"/><rect x="1092.3" y="1134.1" width="48.0" height="47.2"/><rect x="1045.3" y="1181.3" width="47.0" height="47.4"/><rect x="1092.3" y="1181.3" width="48.0" height="47.4"/><rect x="1092.3" y="1228.7" width="48.0" height="47.1"/></g>
<text x="927.5" y="1037.5" font-size="21.5" text-anchor="middle">PD1</text>
<text x="977.0" y="1037.5" font-size="21.5" text-anchor="middle">R</text>
<text x="1023.5" y="1037.5" font-size="21.5" text-anchor="middle">C3</text>
<text x="1072.4" y="1037.5" font-size="21.5" text-anchor="middle">C2</text>
<text x="1121.5" y="1037.5" font-size="21.5" text-anchor="middle">C1</text>
<text x="893.3" y="1063.8" font-size="25.5" text-anchor="end" textLength="47.5" lengthAdjust="spacingAndGlyphs">Age</text>
<text x="929.0" y="1127.6" font-size="21.5" text-anchor="end" textLength="35.7" lengthAdjust="spacingAndGlyphs">PD1</text>
<text x="983.0" y="1173.5" font-size="21.5" text-anchor="end">R</text>
<text x="1036.5" y="1221.0" font-size="21.5" text-anchor="end">C3</text>
<text x="1082.5" y="1268.2" font-size="21.5" text-anchor="end">C2</text>
<path d="M920.0 1055.9L935.0 1070.9M935.0 1055.9L920.0 1070.9" stroke="#2a2a2a" stroke-width="1.9"/>
<path d="M967.1 1055.9L982.1 1070.9M982.1 1055.9L967.1 1070.9" stroke="#2a2a2a" stroke-width="1.9"/>
<circle cx="1022.2" cy="1063.8" r="9.1" fill="#f8cdd0" stroke="#6e6e6e" stroke-width="1.1"/>
<circle cx="1069.6" cy="1063.4" r="16.9" fill="#f1595e" stroke="#6e6e6e" stroke-width="1.1"/>
<circle cx="1116.7" cy="1063.4" r="4.5" fill="#ddd" stroke="#6e6e6e" stroke-width="1.1"/>
<path d="M1109.2 1055.9L1124.2 1070.9M1124.2 1055.9L1109.2 1070.9" stroke="#2a2a2a" stroke-width="1.9"/>
<path d="M967.1 1103.5L982.1 1118.5M982.1 1103.5L967.1 1118.5" stroke="#2a2a2a" stroke-width="1.9"/>
<circle cx="1022.2" cy="1111" r="5" fill="#ccc" stroke="#6e6e6e" stroke-width="1.1"/>
<path d="M1014.7 1103.5L1029.7 1118.5M1029.7 1103.5L1014.7 1118.5" stroke="#2a2a2a" stroke-width="1.9"/>
<circle cx="1069.6" cy="1111" r="5.4" fill="#fbfbfb" stroke="#6e6e6e" stroke-width="1.1"/>
<circle cx="1116.7" cy="1111" r="6.5" fill="#fad9dc" stroke="#6e6e6e" stroke-width="1.1"/>
<circle cx="1022.2" cy="1158.6" r="6.3" fill="#e9eef8" stroke="#6e6e6e" stroke-width="1.1"/>
<path d="M1062.1 1151.1L1077.1 1166.1M1077.1 1151.1L1062.1 1166.1" stroke="#2a2a2a" stroke-width="1.9"/>
<circle cx="1116.7" cy="1158.6" r="15.5" fill="#f4878b" stroke="#6e6e6e" stroke-width="1.1"/>
<circle cx="1069.6" cy="1205.5" r="10" fill="#f6b4b8" stroke="#6e6e6e" stroke-width="1.1"/>
<circle cx="1116.7" cy="1205.5" r="6.5" fill="#e8eef9" stroke="#6e6e6e" stroke-width="1.1"/>
<circle cx="1116.7" cy="1253.1" r="7.4" fill="#e8eef9" stroke="#6e6e6e" stroke-width="1.1"/>
<defs><linearGradient id="cc" x1="0" y1="0" x2="0" y2="1"><stop offset="0" stop-color="#ff0000"/><stop offset="0.25" stop-color="#f96b6b"/><stop offset="0.5" stop-color="#ffffff"/><stop offset="0.75" stop-color="#b6c9ee"/><stop offset="1" stop-color="#5b8de4"/></linearGradient></defs>
<rect x="835.3" y="1087.6" width="14.3" height="152.1" fill="url(#cc)" stroke="#222" stroke-width="1"/>
<path d="M849.6 1087.6h3.5M849.6 1102.8h3.5M849.6 1118.0h3.5M849.6 1133.2h3.5M849.6 1148.4h3.5M849.6 1163.6h3.5M849.6 1178.9h3.5M849.6 1194.1h3.5M849.6 1209.3h3.5M849.6 1224.5h3.5M849.6 1239.7h3.5" stroke="#222" stroke-width="1"/>
<text x="865.2" y="1094.0" font-size="23">1</text>
<text x="860.0" y="1246.6" font-size="23">−1</text>
<text x="0" y="0" font-size="26" text-anchor="middle" transform="translate(820 1163.3) rotate(-90)" textLength="124" lengthAdjust="spacingAndGlyphs">Corr. coef</text>
<text x="815.0" y="1289.9" font-size="26" textLength="187" lengthAdjust="spacingAndGlyphs">X: insignificant</text>
<text x="798.8" y="1376.4" font-size="38" font-weight="bold" stroke="#000" stroke-width="1.2">e</text>
<text x="849.8" y="1376.4" font-size="27" textLength="84.31306684581794" lengthAdjust="spacingAndGlyphs">GO:C1</text>
<path d="M1020.5 1420V1698.8H1203.5" fill="none" stroke="#222" stroke-width="1.5"/>
<line x1="1013.8" y1="1440.2" x2="1020.5" y2="1440.2" stroke="#222" stroke-width="1.4"/>
<text x="1005.4" y="1448.2" font-size="23.5" text-anchor="end" textLength="193.1" lengthAdjust="spacingAndGlyphs">Cytokine receptor</text>
<circle cx="1195.2" cy="1440.2" r="8.4" fill="#e8000b" stroke="#777" stroke-width="1"/>
<line x1="1013.8" y1="1474.4" x2="1020.5" y2="1474.4" stroke="#222" stroke-width="1.4"/>
<text x="1005.4" y="1482.4" font-size="23.5" text-anchor="end" textLength="185.8" lengthAdjust="spacingAndGlyphs">Immune receptor</text>
<circle cx="1152.5" cy="1474.4" r="8.4" fill="#f08a5e" stroke="#777" stroke-width="1"/>
<line x1="1013.8" y1="1509" x2="1020.5" y2="1509" stroke="#222" stroke-width="1.4"/>
<text x="1005.4" y="1517.0" font-size="23.5" text-anchor="end" textLength="225.7" lengthAdjust="spacingAndGlyphs">TF activity, Pol2-spec</text>
<circle cx="1083.6" cy="1509" r="10" fill="#c9d3e6" stroke="#777" stroke-width="1"/>
<line x1="1013.8" y1="1543.3" x2="1020.5" y2="1543.3" stroke="#222" stroke-width="1.4"/>
<text x="1005.4" y="1551.3" font-size="23.5" text-anchor="end" textLength="107.5" lengthAdjust="spacingAndGlyphs">TF activity</text>
<circle cx="1082.6" cy="1543.3" r="10" fill="#c9d3e6" stroke="#777" stroke-width="1"/>
<line x1="1013.8" y1="1577.6" x2="1020.5" y2="1577.6" stroke="#222" stroke-width="1.4"/>
<text x="1005.4" y="1585.6" font-size="23.5" text-anchor="end" textLength="255.3" lengthAdjust="spacingAndGlyphs">Chromatin DNA binding</text>
<circle cx="1059.1" cy="1577.6" r="6" fill="#9aaee0" stroke="#777" stroke-width="1"/>
<line x1="1013.8" y1="1611.5" x2="1020.5" y2="1611.5" stroke="#222" stroke-width="1.4"/>
<text x="1005.4" y="1619.5" font-size="23.5" text-anchor="end" textLength="183.1" lengthAdjust="spacingAndGlyphs">Cytokine binding</text>
<circle cx="1042.3" cy="1611.5" r="5.5" fill="#7c9ee6" stroke="#777" stroke-width="1"/>
<line x1="1013.8" y1="1645.8" x2="1020.5" y2="1645.8" stroke="#222" stroke-width="1.4"/>
<text x="1005.4" y="1653.8" font-size="23.5" text-anchor="end" textLength="205.6" lengthAdjust="spacingAndGlyphs">Coreceptor activity</text>
<circle cx="1035.6" cy="1645.8" r="2.2" fill="#6f8fd0" stroke="#777" stroke-width="1"/>
<line x1="1013.8" y1="1680" x2="1020.5" y2="1680" stroke="#222" stroke-width="1.4"/>
<text x="1005.4" y="1688.0" font-size="23.5" text-anchor="end" textLength="224.1" lengthAdjust="spacingAndGlyphs">Pol2-spec TF binding</text>
<circle cx="1028.2" cy="1680" r="7.5" fill="#5d8ee0" stroke="#777" stroke-width="1"/>
<line x1="1049" y1="1698.8" x2="1049" y2="1705" stroke="#222" stroke-width="1.4"/>
<text x="1049.0" y="1734.1" font-size="23" text-anchor="middle">6</text>
<line x1="1090" y1="1698.8" x2="1090" y2="1705" stroke="#222" stroke-width="1.4"/>
<text x="1090.0" y="1734.1" font-size="23" text-anchor="middle">8</text>
<line x1="1130.7" y1="1698.8" x2="1130.7" y2="1705" stroke="#222" stroke-width="1.4"/>
<text x="1130.7" y="1734.1" font-size="23" text-anchor="middle">10</text>
<line x1="1171.6" y1="1698.8" x2="1171.6" y2="1705" stroke="#222" stroke-width="1.4"/>
<text x="1171.6" y="1734.1" font-size="23" text-anchor="middle">12</text>
<text x="1035.6" y="1776.1" font-size="27" textLength="152.8" lengthAdjust="spacingAndGlyphs">−log <tspan font-style="italic">P</tspan> value</text>
<text x="871.0" y="1742.5" font-size="26" textLength="75.57944239166947" lengthAdjust="spacingAndGlyphs">Count</text>
<circle cx="883.8" cy="1764" r="12" fill="none" stroke="#8a8a8a" stroke-width="1.5"/>
<circle cx="913.7" cy="1764" r="11" fill="none" stroke="#8a8a8a" stroke-width="1.5"/>
<circle cx="943.2" cy="1764" r="9.5" fill="none" stroke="#8a8a8a" stroke-width="1.5"/>
<circle cx="971.8" cy="1764" r="7.5" fill="none" stroke="#8a8a8a" stroke-width="1.5"/>
<circle cx="1001.3" cy="1764" r="2.5" fill="none" stroke="#8a8a8a" stroke-width="1.5"/>
<text x="883.8" y="1799.6" font-size="23" text-anchor="middle">6</text>
<text x="913.7" y="1799.6" font-size="23" text-anchor="middle">5</text>
<text x="943.2" y="1799.6" font-size="23" text-anchor="middle">4</text>
<text x="974.5" y="1799.6" font-size="23" text-anchor="middle">3</text>
<text x="1004.4" y="1799.6" font-size="23" text-anchor="middle">2</text>
<text x="857.6" y="1851.3" font-size="27" textLength="153.8" lengthAdjust="spacingAndGlyphs">−log <tspan font-style="italic">q</tspan> value</text>
<text x="880.4" y="1886.0" font-size="23" text-anchor="middle">8</text>
<text x="923.7" y="1886.0" font-size="23" text-anchor="middle">6</text>
<text x="965.7" y="1886.0" font-size="23" text-anchor="middle">4</text>
<defs><linearGradient id="qg" x1="0" y1="0" x2="1" y2="0"><stop offset="0" stop-color="#ee2a1a"/><stop offset="0.3" stop-color="#f7b089"/><stop offset="0.5" stop-color="#f1ead8"/><stop offset="0.75" stop-color="#c0cdeb"/><stop offset="1" stop-color="#6b95e8"/></linearGradient></defs>
<rect x="871" y="1892.6" width="131.7" height="18.5" fill="url(#qg)"/>
<text x="1262.6" y="960.7" font-size="38" font-weight="bold" stroke="#000" stroke-width="1.2">f</text>
<text x="1328.1" y="982.8" font-size="28" textLength="49.2" lengthAdjust="spacingAndGlyphs">Cell</text>
<text x="1256.6" y="1022.0" font-size="28" textLength="121.3" lengthAdjust="spacingAndGlyphs">PD1 R age</text>
<text x="1626.9" y="990.3" font-size="28" textLength="388.8" lengthAdjust="spacingAndGlyphs">Response-specific CD109 peak</text>
<path d="M1949.1 1024.3V997.7H1576.5V1022.7" fill="none" stroke="#44546a" stroke-width="3.6"/>
<path d="M1568.5 1015.7L1576.5 1034.7L1584.5 1015.7L1576.5 1021.7z" fill="#44546a"/>
<line x1="1353.1" y1="1055.2" x2="1805" y2="1055.2" stroke="#b5b5b5" stroke-width="1.4"/>
<line x1="1353.1" y1="1055.2" x2="1700" y2="1055.2" stroke="#8c7b6b" stroke-width="1.4"/>
<path d="M1382.0 1055.2L1383.2 1053.9L1384.4 1055.2zM1386.8 1055.2L1388.0 1053.3L1389.2 1055.2zM1401.9 1055.2L1403.5 1051.1L1405.1 1055.2zM1409.9 1055.2L1411.7 1042.2L1413.5 1055.2zM1410.8 1055.2L1412.0 1052.5L1413.2 1055.2zM1427.0 1055.2L1428.2 1052.3L1429.4 1055.2zM1436.4 1055.2L1437.6 1052.0L1438.8 1055.2zM1456.3 1055.2L1457.5 1052.1L1458.7 1055.2zM1468.8 1055.2L1470.0 1053.6L1471.2 1055.2zM1512.1 1055.2L1514.3 1033.0L1516.5 1055.2zM1517.6 1055.2L1518.8 1053.5L1520.0 1055.2zM1519.0 1055.2L1520.3 1050.5L1521.6 1055.2zM1526.2 1055.2L1527.4 1054.2L1528.6 1055.2zM1542.8 1055.2L1544.0 1054.2L1545.2 1055.2zM1554.2 1055.2L1555.4 1051.7L1556.6 1055.2zM1554.5 1055.2L1555.7 1052.4L1556.9 1055.2zM1568.2 1055.2L1569.4 1053.2L1570.6 1055.2zM1576.8 1055.2L1578.6 1052.0L1580.4 1055.2zM1585.5 1055.2L1586.7 1052.1L1587.9 1055.2zM1589.5 1055.2L1590.7 1054.0L1591.9 1055.2zM1611.4 1055.2L1612.6 1052.5L1613.8 1055.2zM1617.8 1055.2L1619.3 1052.9L1620.8 1055.2zM1629.4 1055.2L1630.6 1054.0L1631.8 1055.2zM1633.8 1055.2L1635.0 1053.3L1636.2 1055.2zM1650.6 1055.2L1651.8 1052.6L1653.0 1055.2zM1655.9 1055.2L1657.1 1052.9L1658.3 1055.2zM1683.0 1055.2L1684.2 1053.1L1685.4 1055.2z" fill="#8c7b6b" stroke="#8c7b6b" stroke-width="0.6" stroke-linejoin="round"/>
<line x1="1353.1" y1="1076.9" x2="1805" y2="1076.9" stroke="#b5b5b5" stroke-width="1.4"/>
<line x1="1353.1" y1="1076.9" x2="1805" y2="1076.9" stroke="#c4a27a" stroke-width="1.4"/>
<path d="M1367.9 1076.9L1369.1 1075.7L1370.3 1076.9zM1375.2 1076.9L1376.4 1074.4L1377.6 1076.9zM1386.8 1076.9L1388.0 1074.9L1389.2 1076.9zM1397.1 1076.9L1398.3 1076.0L1399.5 1076.9zM1401.9 1076.9L1403.5 1072.9L1405.1 1076.9zM1409.9 1076.9L1411.7 1066.0L1413.5 1076.9zM1431.4 1076.9L1432.6 1074.7L1433.8 1076.9zM1450.6 1076.9L1451.8 1075.1L1453.0 1076.9zM1464.0 1076.9L1465.2 1074.1L1466.4 1076.9zM1468.8 1076.9L1470.0 1074.6L1471.2 1076.9zM1511.9 1076.9L1513.1 1075.1L1514.3 1076.9zM1512.1 1076.9L1514.3 1054.7L1516.5 1076.9zM1519.0 1076.9L1520.3 1073.5L1521.6 1076.9zM1531.0 1076.9L1532.2 1073.7L1533.4 1076.9zM1542.8 1076.9L1544.0 1075.7L1545.2 1076.9zM1554.2 1076.9L1555.4 1075.1L1556.6 1076.9zM1563.9 1076.9L1565.1 1074.3L1566.3 1076.9zM1576.8 1076.9L1578.6 1074.6L1580.4 1076.9zM1577.6 1076.9L1578.8 1075.1L1580.0 1076.9zM1585.9 1076.9L1587.1 1073.7L1588.3 1076.9zM1589.5 1076.9L1590.7 1075.7L1591.9 1076.9zM1617.8 1076.9L1619.3 1074.5L1620.8 1076.9zM1621.3 1076.9L1622.5 1075.9L1623.7 1076.9zM1633.8 1076.9L1635.0 1075.1L1636.2 1076.9zM1651.5 1076.9L1652.7 1074.2L1653.9 1076.9zM1655.9 1076.9L1657.1 1074.9L1658.3 1076.9zM1708.8 1076.9L1710.0 1074.3L1711.2 1076.9zM1725.9 1076.9L1727.1 1073.8L1728.3 1076.9z" fill="#c4a27a" stroke="#c4a27a" stroke-width="0.6" stroke-linejoin="round"/>
<line x1="1353.1" y1="1098.7" x2="1805" y2="1098.7" stroke="#b5b5b5" stroke-width="1.4"/>
<line x1="1353.1" y1="1098.7" x2="1790" y2="1098.7" stroke="#7f6a55" stroke-width="1.4"/>
<path d="M1386.8 1098.7L1388.0 1096.8L1389.2 1098.7zM1391.6 1098.7L1392.8 1096.0L1394.0 1098.7zM1401.9 1098.7L1403.5 1093.1L1405.1 1098.7zM1409.9 1098.7L1411.7 1089.6L1413.5 1098.7zM1455.6 1098.7L1456.8 1097.5L1458.0 1098.7zM1468.8 1098.7L1470.0 1096.4L1471.2 1098.7zM1494.3 1098.7L1495.5 1096.8L1496.7 1098.7zM1503.9 1098.7L1505.1 1097.6L1506.3 1098.7zM1512.1 1098.7L1514.3 1082.9L1516.5 1098.7zM1514.9 1098.7L1516.1 1097.4L1517.3 1098.7zM1519.0 1098.7L1520.3 1094.1L1521.6 1098.7zM1521.5 1098.7L1522.7 1097.0L1523.9 1098.7zM1542.8 1098.7L1544.0 1097.9L1545.2 1098.7zM1553.1 1098.7L1554.3 1097.2L1555.5 1098.7zM1554.2 1098.7L1555.4 1096.4L1556.6 1098.7zM1565.7 1098.7L1566.9 1095.9L1568.1 1098.7zM1576.8 1098.7L1578.6 1095.5L1580.4 1098.7zM1577.7 1098.7L1578.9 1096.4L1580.1 1098.7zM1589.5 1098.7L1590.7 1097.5L1591.9 1098.7zM1617.8 1098.7L1619.3 1095.2L1620.8 1098.7zM1633.8 1098.7L1635.0 1096.7L1636.2 1098.7zM1646.9 1098.7L1648.1 1097.6L1649.3 1098.7zM1655.9 1098.7L1657.1 1096.7L1658.3 1098.7zM1699.5 1098.7L1700.7 1095.8L1701.9 1098.7zM1705.5 1098.7L1706.7 1096.5L1707.9 1098.7zM1721.4 1098.7L1722.6 1096.4L1723.8 1098.7zM1741.6 1098.7L1742.8 1096.9L1744.0 1098.7zM1751.3 1098.7L1752.5 1095.6L1753.7 1098.7z" fill="#7f6a55" stroke="#7f6a55" stroke-width="0.6" stroke-linejoin="round"/>
<line x1="1353.1" y1="1120.4" x2="1805" y2="1120.4" stroke="#b5b5b5" stroke-width="1.4"/>
<line x1="1353.1" y1="1120.4" x2="1805" y2="1120.4" stroke="#f4b6c2" stroke-width="1.4"/>
<path d="M1376.1 1120.4L1377.3 1118.3L1378.5 1120.4zM1386.8 1120.4L1388.0 1118.2L1389.2 1120.4zM1401.9 1120.4L1403.5 1113.3L1405.1 1120.4zM1405.0 1120.4L1406.2 1119.0L1407.4 1120.4zM1409.9 1120.4L1411.7 1111.6L1413.5 1120.4zM1468.8 1120.4L1470.0 1118.6L1471.2 1120.4zM1483.5 1120.4L1484.7 1118.3L1485.9 1120.4zM1497.0 1120.4L1498.2 1117.8L1499.4 1120.4zM1512.4 1120.4L1513.6 1119.0L1514.8 1120.4zM1512.1 1120.4L1514.3 1101.7L1516.5 1120.4zM1519.0 1120.4L1520.3 1116.8L1521.6 1120.4zM1542.8 1120.4L1544.0 1119.4L1545.2 1120.4zM1554.2 1120.4L1555.4 1118.5L1556.6 1120.4zM1576.8 1120.4L1578.6 1116.8L1580.4 1120.4zM1589.5 1120.4L1590.7 1119.4L1591.9 1120.4zM1608.2 1120.4L1609.4 1117.6L1610.6 1120.4zM1617.3 1120.4L1618.5 1117.6L1619.7 1120.4zM1617.8 1120.4L1619.3 1117.8L1620.8 1120.4zM1633.8 1120.4L1635.0 1118.5L1636.2 1120.4zM1641.5 1120.4L1642.7 1118.9L1643.9 1120.4zM1655.9 1120.4L1657.1 1118.8L1658.3 1120.4zM1668.3 1120.4L1669.5 1118.3L1670.7 1120.4zM1682.2 1120.4L1683.4 1119.2L1684.6 1120.4zM1704.7 1120.4L1705.9 1117.6L1707.1 1120.4zM1768.7 1120.4L1769.9 1117.6L1771.1 1120.4z" fill="#f4b6c2" stroke="#f4b6c2" stroke-width="0.6" stroke-linejoin="round"/>
<line x1="1353.1" y1="1142.4" x2="1805" y2="1142.4" stroke="#b5b5b5" stroke-width="1.4"/>
<line x1="1353.1" y1="1142.4" x2="1780" y2="1142.4" stroke="#f0a30a" stroke-width="1.4"/>
<path d="M1382.9 1142.4L1384.1 1140.8L1385.3 1142.4zM1386.8 1142.4L1388.0 1140.4L1389.2 1142.4zM1398.5 1142.4L1399.7 1139.3L1400.9 1142.4zM1401.9 1142.4L1403.5 1138.0L1405.1 1142.4zM1409.9 1142.4L1411.7 1133.1L1413.5 1142.4zM1410.5 1142.4L1411.7 1139.9L1412.9 1142.4zM1468.8 1142.4L1470.0 1140.8L1471.2 1142.4zM1482.5 1142.4L1483.7 1141.0L1484.9 1142.4zM1512.1 1142.4L1514.3 1126.1L1516.5 1142.4zM1519.0 1142.4L1520.3 1138.3L1521.6 1142.4zM1519.7 1142.4L1520.9 1140.0L1522.1 1142.4zM1527.2 1142.4L1528.4 1140.2L1529.6 1142.4zM1542.8 1142.4L1544.0 1141.5L1545.2 1142.4zM1550.7 1142.4L1551.9 1139.7L1553.1 1142.4zM1554.2 1142.4L1555.4 1140.8L1556.6 1142.4zM1564.0 1142.4L1565.2 1139.3L1566.4 1142.4zM1576.8 1142.4L1578.6 1139.6L1580.4 1142.4zM1580.9 1142.4L1582.1 1141.3L1583.3 1142.4zM1589.5 1142.4L1590.7 1141.6L1591.9 1142.4zM1617.8 1142.4L1619.3 1139.3L1620.8 1142.4zM1621.6 1142.4L1622.8 1140.1L1624.0 1142.4zM1633.3 1142.4L1634.5 1140.8L1635.7 1142.4zM1633.8 1142.4L1635.0 1140.9L1636.2 1142.4zM1649.1 1142.4L1650.3 1140.7L1651.5 1142.4zM1655.9 1142.4L1657.1 1140.8L1658.3 1142.4zM1728.4 1142.4L1729.6 1141.5L1730.8 1142.4zM1737.6 1142.4L1738.8 1139.5L1740.0 1142.4zM1757.3 1142.4L1758.5 1139.5L1759.7 1142.4zM1773.2 1142.4L1774.4 1140.5L1775.6 1142.4z" fill="#f0a30a" stroke="#f0a30a" stroke-width="0.6" stroke-linejoin="round"/>
<line x1="1353.1" y1="1164.2" x2="1805" y2="1164.2" stroke="#b5b5b5" stroke-width="1.4"/>
<line x1="1353.1" y1="1164.2" x2="1800" y2="1164.2" stroke="#b8860b" stroke-width="1.4"/>
<path d="M1377.7 1164.2L1378.9 1161.1L1380.1 1164.2zM1386.8 1164.2L1388.0 1162.7L1389.2 1164.2zM1401.9 1164.2L1403.5 1160.1L1405.1 1164.2zM1409.9 1164.2L1411.7 1157.6L1413.5 1164.2zM1444.5 1164.2L1445.7 1162.9L1446.9 1164.2zM1450.9 1164.2L1452.1 1163.2L1453.3 1164.2zM1468.8 1164.2L1470.0 1162.3L1471.2 1164.2zM1475.1 1164.2L1476.3 1162.3L1477.5 1164.2zM1503.1 1164.2L1504.3 1162.8L1505.5 1164.2zM1512.1 1164.2L1514.3 1145.8L1516.5 1164.2zM1519.0 1164.2L1520.3 1160.5L1521.6 1164.2zM1536.2 1164.2L1537.4 1161.1L1538.6 1164.2zM1542.3 1164.2L1543.5 1161.5L1544.7 1164.2zM1542.8 1164.2L1544.0 1163.3L1545.2 1164.2zM1554.2 1164.2L1555.4 1162.5L1556.6 1164.2zM1554.9 1164.2L1556.1 1162.1L1557.3 1164.2zM1576.8 1164.2L1578.6 1160.8L1580.4 1164.2zM1588.3 1164.2L1589.5 1163.2L1590.7 1164.2zM1589.5 1164.2L1590.7 1163.4L1591.9 1164.2zM1608.7 1164.2L1609.9 1161.2L1611.1 1164.2zM1615.5 1164.2L1616.7 1163.3L1617.9 1164.2zM1617.8 1164.2L1619.3 1161.6L1620.8 1164.2zM1627.9 1164.2L1629.1 1162.8L1630.3 1164.2zM1633.8 1164.2L1635.0 1162.5L1636.2 1164.2zM1640.4 1164.2L1641.6 1163.3L1642.8 1164.2zM1655.9 1164.2L1657.1 1162.6L1658.3 1164.2zM1675.7 1164.2L1676.9 1163.1L1678.1 1164.2zM1715.4 1164.2L1716.6 1162.1L1717.8 1164.2zM1769.7 1164.2L1770.9 1161.4L1772.1 1164.2zM1779.3 1164.2L1780.5 1162.7L1781.7 1164.2z" fill="#b8860b" stroke="#b8860b" stroke-width="0.6" stroke-linejoin="round"/>
<line x1="1353.1" y1="1186.2" x2="1805" y2="1186.2" stroke="#b5b5b5" stroke-width="1.4"/>
<line x1="1353.1" y1="1186.2" x2="1805" y2="1186.2" stroke="#c4c4c4" stroke-width="1.4"/>
<path d="M1368.9 1186.2L1370.1 1184.4L1371.3 1186.2zM1386.8 1186.2L1388.0 1184.4L1389.2 1186.2zM1401.9 1186.2L1403.5 1177.3L1405.1 1186.2zM1409.9 1186.2L1411.7 1176.5L1413.5 1186.2zM1426.5 1186.2L1427.7 1183.4L1428.9 1186.2zM1468.8 1186.2L1470.0 1184.5L1471.2 1186.2zM1483.0 1186.2L1484.2 1185.2L1485.4 1186.2zM1491.7 1186.2L1492.9 1183.8L1494.1 1186.2zM1502.3 1186.2L1503.5 1183.6L1504.7 1186.2zM1512.1 1186.2L1514.3 1170.5L1516.5 1186.2zM1517.2 1186.2L1518.4 1185.3L1519.6 1186.2zM1519.0 1186.2L1520.3 1181.0L1521.6 1186.2zM1525.3 1186.2L1526.5 1183.3L1527.7 1186.2zM1542.8 1186.2L1544.0 1184.1L1545.2 1186.2zM1554.2 1186.2L1555.4 1184.7L1556.6 1186.2zM1556.2 1186.2L1557.4 1184.5L1558.6 1186.2zM1567.4 1186.2L1568.6 1184.0L1569.8 1186.2zM1576.8 1186.2L1578.6 1175.2L1580.4 1186.2zM1589.5 1186.2L1590.7 1182.4L1591.9 1186.2zM1617.8 1186.2L1619.3 1175.1L1620.8 1186.2zM1633.8 1186.2L1635.0 1182.8L1636.2 1186.2zM1634.8 1186.2L1636.0 1184.6L1637.2 1186.2zM1655.4 1186.2L1656.6 1184.4L1657.8 1186.2zM1655.9 1186.2L1657.1 1182.3L1658.3 1186.2zM1731.4 1186.2L1732.6 1183.1L1733.8 1186.2zM1763.9 1186.2L1765.1 1184.7L1766.3 1186.2zM1794.7 1186.2L1795.9 1184.8L1797.1 1186.2z" fill="#c4c4c4" stroke="#c4c4c4" stroke-width="0.6" stroke-linejoin="round"/>
<line x1="1353.1" y1="1208.5" x2="1805" y2="1208.5" stroke="#b5b5b5" stroke-width="1.4"/>
<line x1="1353.1" y1="1208.5" x2="1795" y2="1208.5" stroke="#7d8c8c" stroke-width="1.4"/>
<path d="M1375.7 1208.5L1376.9 1206.1L1378.1 1208.5zM1386.8 1208.5L1388.0 1206.8L1389.2 1208.5zM1401.9 1208.5L1403.5 1201.7L1405.1 1208.5zM1409.9 1208.5L1411.7 1200.6L1413.5 1208.5zM1414.3 1208.5L1415.5 1207.7L1416.7 1208.5zM1437.4 1208.5L1438.6 1206.9L1439.8 1208.5zM1443.8 1208.5L1445.0 1206.8L1446.2 1208.5zM1468.8 1208.5L1470.0 1206.2L1471.2 1208.5zM1512.1 1208.5L1514.3 1194.1L1516.5 1208.5zM1519.0 1208.5L1520.3 1204.8L1521.6 1208.5zM1542.8 1208.5L1544.0 1206.9L1545.2 1208.5zM1554.2 1208.5L1555.4 1206.4L1556.6 1208.5zM1559.8 1208.5L1561.0 1207.5L1562.2 1208.5zM1576.8 1208.5L1578.6 1197.1L1580.4 1208.5zM1589.5 1208.5L1590.7 1204.0L1591.9 1208.5zM1617.8 1208.5L1619.3 1197.8L1620.8 1208.5zM1633.8 1208.5L1635.0 1205.4L1636.2 1208.5zM1655.9 1208.5L1657.1 1204.4L1658.3 1208.5zM1690.4 1208.5L1691.6 1206.5L1692.8 1208.5zM1710.7 1208.5L1711.9 1205.4L1713.1 1208.5zM1725.4 1208.5L1726.6 1207.7L1727.8 1208.5zM1737.6 1208.5L1738.8 1206.1L1740.0 1208.5zM1773.8 1208.5L1775.0 1207.4L1776.2 1208.5z" fill="#7d8c8c" stroke="#7d8c8c" stroke-width="0.6" stroke-linejoin="round"/>
<line x1="1353.1" y1="1230.3" x2="1805" y2="1230.3" stroke="#b5b5b5" stroke-width="1.4"/>
<line x1="1353.1" y1="1230.3" x2="1770" y2="1230.3" stroke="#000000" stroke-width="1.4"/>
<path d="M1386.8 1230.3L1388.0 1228.6L1389.2 1230.3zM1400.8 1230.3L1402.0 1228.5L1403.2 1230.3zM1401.9 1230.3L1403.5 1224.3L1405.1 1230.3zM1409.9 1230.3L1411.7 1220.7L1413.5 1230.3zM1426.1 1230.3L1427.3 1228.0L1428.5 1230.3zM1447.6 1230.3L1448.8 1229.4L1450.0 1230.3zM1468.8 1230.3L1470.0 1228.1L1471.2 1230.3zM1471.1 1230.3L1472.3 1229.0L1473.5 1230.3zM1510.6 1230.3L1511.8 1227.5L1513.0 1230.3zM1512.1 1230.3L1514.3 1213.8L1516.5 1230.3zM1519.0 1230.3L1520.3 1223.4L1521.6 1230.3zM1532.0 1230.3L1533.2 1227.5L1534.4 1230.3zM1542.8 1230.3L1544.0 1226.2L1545.2 1230.3zM1554.2 1230.3L1555.4 1228.2L1556.6 1230.3zM1577.4 1230.3L1578.6 1229.3L1579.8 1230.3zM1576.8 1230.3L1578.6 1218.5L1580.4 1230.3zM1586.5 1230.3L1587.7 1229.3L1588.9 1230.3zM1589.5 1230.3L1590.7 1226.7L1591.9 1230.3zM1617.8 1230.3L1619.3 1220.7L1620.8 1230.3zM1633.8 1230.3L1635.0 1226.2L1636.2 1230.3zM1655.9 1230.3L1657.1 1224.5L1658.3 1230.3zM1683.7 1230.3L1684.9 1229.3L1686.1 1230.3zM1693.0 1230.3L1694.2 1228.4L1695.4 1230.3zM1717.2 1230.3L1718.4 1228.2L1719.6 1230.3zM1729.2 1230.3L1730.4 1228.1L1731.6 1230.3z" fill="#000000" stroke="#000000" stroke-width="0.6" stroke-linejoin="round"/>
<line x1="1353.1" y1="1251.7" x2="1805" y2="1251.7" stroke="#b5b5b5" stroke-width="1.4"/>
<line x1="1353.1" y1="1251.7" x2="1775" y2="1251.7" stroke="#f4845f" stroke-width="1.4"/>
<path d="M1386.3 1251.7L1387.5 1248.9L1388.7 1251.7zM1386.8 1251.7L1388.0 1249.6L1389.2 1251.7zM1400.6 1251.7L1401.8 1249.9L1403.0 1251.7zM1401.9 1251.7L1403.5 1247.0L1405.1 1251.7zM1409.9 1251.7L1411.7 1244.1L1413.5 1251.7zM1417.5 1251.7L1418.7 1250.7L1419.9 1251.7zM1445.8 1251.7L1447.0 1248.7L1448.2 1251.7zM1453.3 1251.7L1454.5 1249.0L1455.7 1251.7zM1468.8 1251.7L1470.0 1249.8L1471.2 1251.7zM1471.2 1251.7L1472.4 1250.3L1473.6 1251.7zM1484.5 1251.7L1485.7 1249.7L1486.9 1251.7zM1491.4 1251.7L1492.6 1248.6L1493.8 1251.7zM1504.4 1251.7L1505.6 1250.7L1506.8 1251.7zM1512.1 1251.7L1514.3 1230.2L1516.5 1251.7zM1519.0 1251.7L1520.3 1248.2L1521.6 1251.7zM1538.7 1251.7L1539.9 1249.0L1541.1 1251.7zM1542.8 1251.7L1544.0 1249.9L1545.2 1251.7zM1554.2 1251.7L1555.4 1249.9L1556.6 1251.7zM1576.8 1251.7L1578.6 1240.5L1580.4 1251.7zM1588.3 1251.7L1589.5 1250.8L1590.7 1251.7zM1589.5 1251.7L1590.7 1247.8L1591.9 1251.7zM1606.6 1251.7L1607.8 1248.8L1609.0 1251.7zM1617.8 1251.7L1619.3 1241.7L1620.8 1251.7zM1633.8 1251.7L1635.0 1247.4L1636.2 1251.7zM1655.9 1251.7L1657.1 1245.9L1658.3 1251.7zM1699.0 1251.7L1700.2 1249.9L1701.4 1251.7zM1709.4 1251.7L1710.6 1250.2L1711.8 1251.7zM1726.0 1251.7L1727.2 1250.5L1728.4 1251.7zM1739.3 1251.7L1740.5 1250.0L1741.7 1251.7zM1768.9 1251.7L1770.1 1248.9L1771.3 1251.7z" fill="#f4845f" stroke="#f4845f" stroke-width="0.6" stroke-linejoin="round"/>
<line x1="1353.1" y1="1273.4" x2="1805" y2="1273.4" stroke="#b5b5b5" stroke-width="1.4"/>
<line x1="1353.1" y1="1273.4" x2="1800" y2="1273.4" stroke="#e8000b" stroke-width="1.4"/>
<path d="M1386.8 1273.4L1388.0 1271.8L1389.2 1273.4zM1388.4 1273.4L1389.6 1272.3L1390.8 1273.4zM1401.9 1273.4L1403.5 1267.3L1405.1 1273.4zM1404.7 1273.4L1405.9 1271.7L1407.1 1273.4zM1409.9 1273.4L1411.7 1266.9L1413.5 1273.4zM1439.8 1273.4L1441.0 1271.2L1442.2 1273.4zM1467.7 1273.4L1468.9 1271.4L1470.1 1273.4zM1468.8 1273.4L1470.0 1271.2L1471.2 1273.4zM1485.0 1273.4L1486.2 1270.7L1487.4 1273.4zM1512.1 1273.4L1514.3 1256.3L1516.5 1273.4zM1519.0 1273.4L1520.3 1268.7L1521.6 1273.4zM1527.0 1273.4L1528.2 1271.8L1529.4 1273.4zM1533.3 1273.4L1534.5 1271.5L1535.7 1273.4zM1542.8 1273.4L1544.0 1271.2L1545.2 1273.4zM1554.2 1273.4L1555.4 1271.6L1556.6 1273.4zM1576.8 1273.4L1578.6 1257.0L1580.4 1273.4zM1589.5 1273.4L1590.7 1270.3L1591.9 1273.4zM1611.2 1273.4L1612.4 1270.4L1613.6 1273.4zM1617.8 1273.4L1619.3 1264.2L1620.8 1273.4zM1618.4 1273.4L1619.6 1270.8L1620.8 1273.4zM1632.9 1273.4L1634.1 1270.4L1635.3 1273.4zM1633.8 1273.4L1635.0 1269.6L1636.2 1273.4zM1655.9 1273.4L1657.1 1269.0L1658.3 1273.4zM1662.9 1273.4L1664.1 1271.8L1665.3 1273.4zM1686.2 1273.4L1687.4 1272.5L1688.6 1273.4zM1693.6 1273.4L1694.8 1272.3L1696.0 1273.4zM1715.1 1273.4L1716.3 1271.9L1717.5 1273.4zM1759.8 1273.4L1761.0 1271.1L1762.2 1273.4zM1769.7 1273.4L1770.9 1270.5L1772.1 1273.4zM1791.6 1273.4L1792.8 1272.5L1794.0 1273.4z" fill="#e8000b" stroke="#e8000b" stroke-width="0.6" stroke-linejoin="round"/>
<line x1="1353.1" y1="1295.5" x2="1805" y2="1295.5" stroke="#b5b5b5" stroke-width="1.4"/>
<line x1="1353.1" y1="1295.5" x2="1805" y2="1295.5" stroke="#8b0000" stroke-width="1.4"/>
<path d="M1378.1 1295.5L1379.3 1294.5L1380.5 1295.5zM1386.8 1295.5L1388.0 1293.8L1389.2 1295.5zM1395.0 1295.5L1396.2 1294.5L1397.4 1295.5zM1401.9 1295.5L1403.5 1290.5L1405.1 1295.5zM1409.9 1295.5L1411.7 1290.2L1413.5 1295.5zM1455.3 1295.5L1456.5 1292.9L1457.7 1295.5zM1465.4 1295.5L1466.6 1294.7L1467.8 1295.5zM1468.8 1295.5L1470.0 1293.4L1471.2 1295.5zM1504.0 1295.5L1505.2 1294.3L1506.4 1295.5zM1512.1 1295.5L1514.3 1280.1L1516.5 1295.5zM1513.4 1295.5L1514.6 1292.4L1515.8 1295.5zM1519.0 1295.5L1520.3 1291.0L1521.6 1295.5zM1522.7 1295.5L1523.9 1293.9L1525.1 1295.5zM1530.0 1295.5L1531.2 1293.2L1532.4 1295.5zM1542.8 1295.5L1544.0 1293.4L1545.2 1295.5zM1546.4 1295.5L1547.6 1294.4L1548.8 1295.5zM1554.2 1295.5L1555.4 1293.4L1556.6 1295.5zM1576.8 1295.5L1578.6 1281.9L1580.4 1295.5zM1589.5 1295.5L1590.7 1290.9L1591.9 1295.5zM1594.0 1295.5L1595.2 1294.1L1596.4 1295.5zM1617.8 1295.5L1619.3 1287.1L1620.8 1295.5zM1633.8 1295.5L1635.0 1291.4L1636.2 1295.5zM1644.9 1295.5L1646.1 1292.8L1647.3 1295.5zM1655.9 1295.5L1657.1 1291.5L1658.3 1295.5zM1664.3 1295.5L1665.5 1294.4L1666.7 1295.5zM1674.4 1295.5L1675.6 1292.6L1676.8 1295.5zM1720.2 1295.5L1721.4 1293.2L1722.6 1295.5zM1776.2 1295.5L1777.4 1293.7L1778.6 1295.5zM1787.5 1295.5L1788.7 1294.5L1789.9 1295.5z" fill="#8b0000" stroke="#8b0000" stroke-width="0.6" stroke-linejoin="round"/>
<defs><linearGradient id="tg" x1="0" y1="0" x2="0.3" y2="1"><stop offset="0" stop-color="#ffffff"/><stop offset="0.55" stop-color="#b8b8b8"/><stop offset="1" stop-color="#505050"/></linearGradient></defs>
<path d="M1331.1 1049.2L1331.1 1101.7L1317.5 1101.7z" fill="url(#tg)" stroke="#111" stroke-width="1.2"/>
<rect x="1336.2" y="1044.6" width="7.6" height="57.1" fill="#a6a6a6"/>
<text x="1242.7" y="1092.5" font-size="28" text-anchor="middle">−</text>
<text x="1282.8" y="1092.5" font-size="28" text-anchor="middle">−</text>
<path d="M1331.1 1114.3L1331.1 1166.8L1317.5 1166.8z" fill="url(#tg)" stroke="#111" stroke-width="1.2"/>
<rect x="1336.2" y="1109.5" width="7.6" height="55.5" fill="#ffc0cb"/>
<text x="1242.7" y="1157.4" font-size="28" text-anchor="middle">+</text>
<text x="1282.8" y="1157.4" font-size="28" text-anchor="middle">−</text>
<path d="M1331.1 1179.4L1331.1 1231.9L1317.5 1231.9z" fill="url(#tg)" stroke="#111" stroke-width="1.2"/>
<rect x="1336.2" y="1175.6" width="7.6" height="55.3" fill="#000"/>
<text x="1242.7" y="1223.2" font-size="28" text-anchor="middle">−</text>
<text x="1282.8" y="1223.2" font-size="28" text-anchor="middle">+</text>
<path d="M1331.1 1244.5L1331.1 1297.0L1317.5 1297.0z" fill="url(#tg)" stroke="#111" stroke-width="1.2"/>
<rect x="1336.2" y="1242.3" width="7.6" height="55.0" fill="#c00000"/>
<text x="1242.7" y="1288.7" font-size="28" text-anchor="middle">+</text>
<text x="1282.8" y="1288.7" font-size="28" text-anchor="middle">+</text>
<rect x="1568" y="1038.6" width="19.0" height="258.7" fill="none" stroke="#111" stroke-width="2.3" stroke-dasharray="7 5"/>
<rect x="1609.7" y="1039.2" width="60.0" height="259.0" fill="none" stroke="#111" stroke-width="2.3" stroke-dasharray="7 5"/>
<path d="M1374.2 1298A194.4 120.0 0 0 0 1762.9 1298" fill="none" stroke="#4a8fdf" stroke-opacity="0.64" stroke-width="1.4"/>
<path d="M1376.4 1298A124.4 76.0 0 0 0 1625.3 1298M1376.4 1298A104.8 65.0 0 0 0 1586.0 1298" fill="none" stroke="#4a8fdf" stroke-opacity="0.68" stroke-width="1.4"/>
<path d="M1538.0 1298A47.0 26.0 0 0 0 1631.9 1298M1631.9 1298A51.3 34.0 0 0 0 1734.5 1298M1615.0 1298A22.5 15.0 0 0 0 1660.0 1298" fill="none" stroke="#4a8fdf" stroke-opacity="0.59" stroke-width="1.4"/>
<path d="M1579.5 1298A69.9 48.0 0 0 0 1719.2 1298" fill="none" stroke="#4a8fdf" stroke-opacity="0.30" stroke-width="1.4"/>
<path d="M1580.0 1298A22.5 14.0 0 0 0 1625.0 1298M1585.0 1298A27.5 19.0 0 0 0 1640.0 1298M1598.0 1298A17.0 10.0 0 0 0 1632.0 1298M1605.0 1298A20.0 12.0 0 0 0 1645.0 1298" fill="none" stroke="#4a8fdf" stroke-opacity="0.77" stroke-width="1.4"/>
<path d="M1590.0 1298A30.0 24.0 0 0 0 1650.0 1298" fill="none" stroke="#4a8fdf" stroke-opacity="0.51" stroke-width="1.4"/>
<path d="M1640.0 1298A64.0 62.0 0 0 0 1768.0 1298M1660.0 1298A42.5 40.0 0 0 0 1745.0 1298M1700.0 1298A22.5 16.0 0 0 0 1745.0 1298" fill="none" stroke="#4a8fdf" stroke-opacity="0.26" stroke-width="1.4"/>
<path d="M1550.0 1298A25.0 18.0 0 0 0 1600.0 1298" fill="none" stroke="#4a8fdf" stroke-opacity="0.42" stroke-width="1.4"/>
<rect x="1579.7" y="1427" width="200.3" height="5.6" fill="#f31010"/>
<path d="M1663.9 1424.5v10.5M1746.5 1424.5v10.5M1601.3 1424.5v10.5M1644.3 1424.5v10.5M1622.4 1424.5v10.5M1759.8 1424.5v10.5M1732.3 1424.5v10.5M1751.3 1424.5v10.5M1681.1 1424.5v10.5M1608.8 1424.5v10.5M1664.9 1424.5v10.5M1630.7 1424.5v10.5M1594.8 1424.5v10.5M1691.7 1424.5v10.5M1642.2 1424.5v10.5M1609.4 1424.5v10.5M1682.1 1424.5v10.5M1758.0 1424.5v10.5M1760.3 1424.5v10.5M1673.9 1424.5v10.5M1608.5 1424.5v10.5M1728.4 1424.5v10.5M1610.7 1424.5v10.5M1686.7 1424.5v10.5M1605.1 1424.5v10.5M1767.7 1424.5v10.5" stroke="#f31010" stroke-opacity="0.35" stroke-width="1.6"/>
<rect x="1773.3" y="1423" width="6.9" height="13" fill="#f31010"/>
<rect x="1579.5" y="1425" width="2" height="9.5" fill="#f31010" opacity="0.6"/>
<text x="1580.3" y="1467.8" font-size="27" textLength="83.4061135371179" lengthAdjust="spacingAndGlyphs">CD109</text>
<path d="M1863.4 1045.7V1188.6H2006.3" fill="none" stroke="#222" stroke-width="1.4"/>
<line x1="1857" y1="1065.7" x2="1863.4" y2="1065.7" stroke="#222" stroke-width="1.3"/>
<line x1="1857" y1="1091.4" x2="1863.4" y2="1091.4" stroke="#222" stroke-width="1.3"/>
<line x1="1857" y1="1117.1" x2="1863.4" y2="1117.1" stroke="#222" stroke-width="1.3"/>
<line x1="1857" y1="1142.3" x2="1863.4" y2="1142.3" stroke="#222" stroke-width="1.3"/>
<line x1="1857" y1="1168.6" x2="1863.4" y2="1168.6" stroke="#222" stroke-width="1.3"/>
<line x1="1870.6" y1="1188.6" x2="1870.6" y2="1194" stroke="#222" stroke-width="1.3"/>
<line x1="1902.9" y1="1188.6" x2="1902.9" y2="1194" stroke="#222" stroke-width="1.3"/>
<line x1="1936.3" y1="1188.6" x2="1936.3" y2="1194" stroke="#222" stroke-width="1.3"/>
<line x1="1968.6" y1="1188.6" x2="1968.6" y2="1194" stroke="#222" stroke-width="1.3"/>
<line x1="2001.4" y1="1188.6" x2="2001.4" y2="1194" stroke="#222" stroke-width="1.3"/>
<text x="1842.9" y="1072.9" font-size="23" text-anchor="end">0.5</text>
<text x="1842.9" y="1175.7" font-size="23" text-anchor="end">0.1</text>
<text x="1870.6" y="1223.7" font-size="23" text-anchor="middle">0</text>
<text x="2000.6" y="1223.7" font-size="23" text-anchor="middle">1.00</text>
<text x="1935.7" y="1260.0" font-size="27" text-anchor="middle" textLength="104" lengthAdjust="spacingAndGlyphs">Cell age</text>
<path d="M1870.6 1180.0C1876.0 1178.3 1892.8 1173.0 1902.9 1170.0C1913.0 1167.0 1920.5 1162.5 1931.4 1162.3C1942.4 1162.1 1956.9 1165.3 1968.6 1168.6C1980.3 1171.9 1995.9 1180.0 2001.4 1182.3" fill="none" stroke="#c8c8c8" stroke-width="2.6" stroke-opacity="1"/>
<path d="M1870.6 1167.1C1881.5 1164.7 1914.5 1158.3 1936.3 1152.9C1958.1 1147.5 1990.6 1137.9 2001.4 1134.9" fill="none" stroke="#f6b8c4" stroke-width="2.6" stroke-opacity="1"/>
<path d="M1870.6 1151.4C1873.1 1149.0 1880.3 1141.8 1885.7 1137.1C1891.1 1132.4 1897.2 1125.9 1902.9 1123.4C1908.6 1120.9 1913.3 1122.1 1920.0 1122.3C1926.7 1122.5 1936.2 1125.0 1942.9 1124.6C1949.6 1124.2 1954.3 1123.6 1960.0 1120.0C1965.7 1116.4 1971.9 1108.6 1977.1 1102.9C1982.3 1097.2 1987.4 1091.9 1991.4 1085.7C1995.5 1079.5 1999.7 1069.0 2001.4 1065.7" fill="none" stroke="#f0a0a0" stroke-width="5" stroke-opacity="0.5"/>
<path d="M1870.6 1151.4C1873.1 1149.0 1880.3 1141.8 1885.7 1137.1C1891.1 1132.4 1897.2 1125.9 1902.9 1123.4C1908.6 1120.9 1913.3 1122.1 1920.0 1122.3C1926.7 1122.5 1936.2 1125.0 1942.9 1124.6C1949.6 1124.2 1954.3 1123.6 1960.0 1120.0C1965.7 1116.4 1971.9 1108.6 1977.1 1102.9C1982.3 1097.2 1987.4 1091.9 1991.4 1085.7C1995.5 1079.5 1999.7 1069.0 2001.4 1065.7" fill="none" stroke="#dd2c2c" stroke-width="2.2" stroke-opacity="1"/>
<path d="M1870.6 1121.4C1876.0 1119.3 1892.0 1113.6 1902.9 1108.6C1913.9 1103.6 1925.3 1097.6 1936.3 1091.4C1947.2 1085.2 1957.8 1078.0 1968.6 1071.4C1979.4 1064.8 1995.9 1055.2 2001.4 1052.0" fill="none" stroke="#222" stroke-width="2.4" stroke-opacity="1"/>
<rect x="1815.5" y="1292.1" width="24.7" height="9" fill="#a6a6a6"/>
<text x="1856.0" y="1304.9" font-size="26.5" textLength="238.9" lengthAdjust="spacingAndGlyphs">Pre-PD1, responder</text>
<rect x="1815.5" y="1324.4" width="24.7" height="9" fill="#ffc0cb"/>
<text x="1856.0" y="1336.8" font-size="26.5" textLength="311" lengthAdjust="spacingAndGlyphs">Post-PD1, non-responder</text>
<rect x="1815.5" y="1356.3" width="24.7" height="9" fill="#000000"/>
<text x="1856.0" y="1368.6" font-size="26.5" textLength="297" lengthAdjust="spacingAndGlyphs">Pre-PD1, non-responder</text>
<rect x="1815.5" y="1388.2" width="24.7" height="9" fill="#c00000"/>
<text x="1856.0" y="1400.5" font-size="26.5" textLength="252.8" lengthAdjust="spacingAndGlyphs">Post-PD1, responder</text>
<text x="1262.6" y="1512.0" font-size="38" font-weight="bold" stroke="#000" stroke-width="1.2">g</text>
<text x="1328.1" y="1567.5" font-size="28" textLength="49.2" lengthAdjust="spacingAndGlyphs">Cell</text>
<text x="1262.6" y="1606.8" font-size="28" textLength="115.3" lengthAdjust="spacingAndGlyphs">PD1R age</text>
<text x="1642.9" y="1576.6" font-size="28" textLength="410" lengthAdjust="spacingAndGlyphs">Response-specific CHRNA1 peak</text>
<path d="M1965.7 1614.3V1588.6H1593.7V1612.9" fill="none" stroke="#44546a" stroke-width="3.6"/>
<path d="M1585.7 1605.9L1593.7 1624.9L1601.7 1605.9L1593.7 1611.9z" fill="#44546a"/>
<line x1="1368.2" y1="1645.4" x2="1818.5" y2="1645.4" stroke="#b5b5b5" stroke-width="1.4"/>
<line x1="1368.2" y1="1645.4" x2="1818.5" y2="1645.4" stroke="#8c7b6b" stroke-width="1.4"/>
<path d="M1370.5 1645.4L1371.9 1631.5L1373.3 1645.4zM1373.3 1645.4L1374.5 1640.7L1375.7 1645.4zM1386.0 1645.4L1387.2 1642.8L1388.4 1645.4zM1389.6 1645.4L1390.9 1640.2L1392.2 1645.4zM1396.1 1645.4L1397.3 1642.8L1398.5 1645.4zM1411.8 1645.4L1413.0 1644.1L1414.2 1645.4zM1411.5 1645.4L1413.0 1640.6L1414.5 1645.4zM1413.8 1645.4L1415.6 1635.4L1417.4 1645.4zM1444.7 1645.4L1445.9 1644.4L1447.1 1645.4zM1477.5 1645.4L1478.7 1642.9L1479.9 1645.4zM1486.2 1645.4L1488.0 1636.0L1489.8 1645.4zM1495.2 1645.4L1496.4 1644.5L1497.6 1645.4zM1509.4 1645.4L1510.7 1642.0L1512.0 1645.4zM1512.8 1645.4L1514.0 1642.8L1515.2 1645.4zM1538.7 1645.4L1540.0 1637.5L1541.3 1645.4zM1540.4 1645.4L1541.6 1642.5L1542.8 1645.4zM1558.7 1645.4L1559.9 1640.7L1561.1 1645.4zM1561.1 1645.4L1562.3 1643.8L1563.5 1645.4zM1581.1 1645.4L1582.3 1643.6L1583.5 1645.4zM1588.5 1645.4L1590.0 1641.3L1591.5 1645.4zM1592.3 1645.4L1594.3 1634.3L1596.3 1645.4zM1595.6 1645.4L1597.0 1639.6L1598.4 1645.4zM1621.1 1645.4L1622.4 1643.6L1623.7 1645.4zM1632.1 1645.4L1633.5 1632.0L1634.9 1645.4zM1653.5 1645.4L1654.7 1642.6L1655.9 1645.4zM1655.7 1645.4L1657.0 1639.5L1658.3 1645.4zM1670.3 1645.4L1671.5 1642.8L1672.7 1645.4zM1702.8 1645.4L1704.0 1643.1L1705.2 1645.4zM1708.8 1645.4L1710.0 1644.6L1711.2 1645.4zM1710.1 1645.4L1711.4 1643.0L1712.7 1645.4zM1718.2 1645.4L1719.5 1639.2L1720.8 1645.4zM1722.8 1645.4L1724.0 1642.6L1725.2 1645.4zM1726.7 1645.4L1728.0 1640.7L1729.3 1645.4zM1731.2 1645.4L1732.5 1641.6L1733.8 1645.4zM1746.8 1645.4L1748.0 1643.3L1749.2 1645.4zM1760.5 1645.4L1761.7 1644.1L1762.9 1645.4zM1808.3 1645.4L1809.5 1643.1L1810.7 1645.4zM1814.8 1645.4L1816.0 1642.4L1817.2 1645.4z" fill="#8c7b6b" stroke="#8c7b6b" stroke-width="0.6" stroke-linejoin="round"/>
<line x1="1368.2" y1="1667.1" x2="1818.5" y2="1667.1" stroke="#b5b5b5" stroke-width="1.4"/>
<line x1="1368.2" y1="1667.1" x2="1818.5" y2="1667.1" stroke="#c4a27a" stroke-width="1.4"/>
<path d="M1370.5 1667.1L1371.9 1656.6L1373.3 1667.1zM1373.3 1667.1L1374.5 1663.3L1375.7 1667.1zM1385.3 1667.1L1386.5 1664.4L1387.7 1667.1zM1389.6 1667.1L1390.9 1661.9L1392.2 1667.1zM1411.5 1667.1L1413.0 1662.8L1414.5 1667.1zM1413.8 1667.1L1415.6 1652.9L1417.4 1667.1zM1476.3 1667.1L1477.5 1664.2L1478.7 1667.1zM1486.2 1667.1L1488.0 1659.3L1489.8 1667.1zM1498.2 1667.1L1499.4 1666.1L1500.6 1667.1zM1509.4 1667.1L1510.7 1664.3L1512.0 1667.1zM1509.6 1667.1L1510.8 1665.4L1512.0 1667.1zM1517.0 1667.1L1518.2 1666.3L1519.4 1667.1zM1529.9 1667.1L1531.1 1664.6L1532.3 1667.1zM1538.7 1667.1L1540.0 1663.5L1541.3 1667.1zM1542.1 1667.1L1543.3 1664.0L1544.5 1667.1zM1558.7 1667.1L1559.9 1663.9L1561.1 1667.1zM1571.9 1667.1L1573.1 1665.2L1574.3 1667.1zM1584.4 1667.1L1585.6 1665.2L1586.8 1667.1zM1588.5 1667.1L1590.0 1664.0L1591.5 1667.1zM1592.3 1667.1L1594.3 1657.9L1596.3 1667.1zM1595.6 1667.1L1597.0 1661.6L1598.4 1667.1zM1621.1 1667.1L1622.4 1666.1L1623.7 1667.1zM1632.1 1667.1L1633.5 1658.6L1634.9 1667.1zM1655.7 1667.1L1657.0 1664.0L1658.3 1667.1zM1702.8 1667.1L1704.0 1664.9L1705.2 1667.1zM1708.0 1667.1L1709.2 1665.8L1710.4 1667.1zM1710.1 1667.1L1711.4 1664.5L1712.7 1667.1zM1718.2 1667.1L1719.5 1660.3L1720.8 1667.1zM1719.2 1667.1L1720.4 1664.7L1721.6 1667.1zM1722.8 1667.1L1724.0 1664.8L1725.2 1667.1zM1726.7 1667.1L1728.0 1662.2L1729.3 1667.1zM1731.2 1667.1L1732.5 1663.2L1733.8 1667.1zM1737.5 1667.1L1738.7 1665.0L1739.9 1667.1zM1756.9 1667.1L1758.1 1666.1L1759.3 1667.1zM1772.6 1667.1L1773.8 1666.0L1775.0 1667.1zM1783.2 1667.1L1784.4 1665.9L1785.6 1667.1zM1796.1 1667.1L1797.3 1666.3L1798.5 1667.1zM1814.8 1667.1L1816.0 1664.7L1817.2 1667.1z" fill="#c4a27a" stroke="#c4a27a" stroke-width="0.6" stroke-linejoin="round"/>
<line x1="1368.2" y1="1689.2" x2="1818.5" y2="1689.2" stroke="#b5b5b5" stroke-width="1.4"/>
<line x1="1368.2" y1="1689.2" x2="1818.5" y2="1689.2" stroke="#7f6a55" stroke-width="1.4"/>
<path d="M1370.5 1689.2L1371.9 1682.0L1373.3 1689.2zM1373.3 1689.2L1374.5 1683.4L1375.7 1689.2zM1386.6 1689.2L1387.8 1686.8L1389.0 1689.2zM1389.6 1689.2L1390.9 1686.1L1392.2 1689.2zM1402.1 1689.2L1403.3 1686.6L1404.5 1689.2zM1411.5 1689.2L1413.0 1686.2L1414.5 1689.2zM1413.8 1689.2L1415.6 1676.1L1417.4 1689.2zM1414.6 1689.2L1415.8 1686.3L1417.0 1689.2zM1433.1 1689.2L1434.3 1686.8L1435.5 1689.2zM1486.2 1689.2L1488.0 1681.4L1489.8 1689.2zM1489.2 1689.2L1490.4 1688.0L1491.6 1689.2zM1499.6 1689.2L1500.8 1688.2L1502.0 1689.2zM1509.4 1689.2L1510.7 1686.1L1512.0 1689.2zM1516.4 1689.2L1517.6 1687.7L1518.8 1689.2zM1523.9 1689.2L1525.1 1686.2L1526.3 1689.2zM1534.6 1689.2L1535.8 1687.6L1537.0 1689.2zM1538.7 1689.2L1540.0 1684.8L1541.3 1689.2zM1555.7 1689.2L1556.9 1687.6L1558.1 1689.2zM1558.7 1689.2L1559.9 1686.3L1561.1 1689.2zM1578.4 1689.2L1579.6 1686.3L1580.8 1689.2zM1588.5 1689.2L1590.0 1685.4L1591.5 1689.2zM1592.3 1689.2L1594.3 1680.3L1596.3 1689.2zM1595.6 1689.2L1597.0 1684.5L1598.4 1689.2zM1609.8 1689.2L1611.0 1687.7L1612.2 1689.2zM1621.1 1689.2L1622.4 1688.2L1623.7 1689.2zM1632.1 1689.2L1633.5 1685.2L1634.9 1689.2zM1634.1 1689.2L1635.3 1687.2L1636.5 1689.2zM1655.7 1689.2L1657.0 1685.9L1658.3 1689.2zM1682.7 1689.2L1683.9 1687.4L1685.1 1689.2zM1690.8 1689.2L1692.0 1686.3L1693.2 1689.2zM1701.7 1689.2L1702.9 1687.0L1704.1 1689.2zM1702.8 1689.2L1704.0 1687.0L1705.2 1689.2zM1710.1 1689.2L1711.4 1686.4L1712.7 1689.2zM1717.2 1689.2L1718.4 1687.3L1719.6 1689.2zM1718.2 1689.2L1719.5 1684.5L1720.8 1689.2zM1722.8 1689.2L1724.0 1686.6L1725.2 1689.2zM1726.7 1689.2L1728.0 1682.5L1729.3 1689.2zM1731.2 1689.2L1732.5 1685.8L1733.8 1689.2zM1734.9 1689.2L1736.1 1688.1L1737.3 1689.2zM1760.1 1689.2L1761.3 1686.9L1762.5 1689.2zM1777.2 1689.2L1778.4 1688.0L1779.6 1689.2zM1814.8 1689.2L1816.0 1686.9L1817.2 1689.2z" fill="#7f6a55" stroke="#7f6a55" stroke-width="0.6" stroke-linejoin="round"/>
<line x1="1368.2" y1="1711.5" x2="1818.5" y2="1711.5" stroke="#b5b5b5" stroke-width="1.4"/>
<line x1="1368.2" y1="1711.5" x2="1790" y2="1711.5" stroke="#f4b6c2" stroke-width="1.4"/>
<path d="M1370.5 1711.5L1371.9 1697.1L1373.3 1711.5zM1373.3 1711.5L1374.5 1705.8L1375.7 1711.5zM1389.6 1711.5L1390.9 1706.5L1392.2 1711.5zM1392.9 1711.5L1394.1 1710.1L1395.3 1711.5zM1408.8 1711.5L1410.0 1709.2L1411.2 1711.5zM1411.5 1711.5L1413.0 1707.9L1414.5 1711.5zM1413.8 1711.5L1415.6 1696.1L1417.4 1711.5zM1422.1 1711.5L1423.3 1710.6L1424.5 1711.5zM1451.1 1711.5L1452.3 1709.3L1453.5 1711.5zM1483.6 1711.5L1484.8 1709.9L1486.0 1711.5zM1486.2 1711.5L1488.0 1701.2L1489.8 1711.5zM1499.4 1711.5L1500.6 1708.5L1501.8 1711.5zM1506.1 1711.5L1507.3 1710.0L1508.5 1711.5zM1509.4 1711.5L1510.7 1705.1L1512.0 1711.5zM1520.5 1711.5L1521.7 1710.2L1522.9 1711.5zM1538.7 1711.5L1540.0 1706.9L1541.3 1711.5zM1551.9 1711.5L1553.1 1710.6L1554.3 1711.5zM1558.7 1711.5L1559.9 1708.7L1561.1 1711.5zM1559.8 1711.5L1561.0 1708.3L1562.2 1711.5zM1570.8 1711.5L1572.0 1710.5L1573.2 1711.5zM1588.5 1711.5L1590.0 1705.6L1591.5 1711.5zM1592.3 1711.5L1594.3 1702.7L1596.3 1711.5zM1595.6 1711.5L1597.0 1705.6L1598.4 1711.5zM1621.1 1711.5L1622.4 1710.6L1623.7 1711.5zM1625.9 1711.5L1627.1 1710.1L1628.3 1711.5zM1632.1 1711.5L1633.5 1705.8L1634.9 1711.5zM1632.9 1711.5L1634.1 1709.0L1635.3 1711.5zM1646.8 1711.5L1648.0 1710.0L1649.2 1711.5zM1655.7 1711.5L1657.0 1707.9L1658.3 1711.5zM1702.8 1711.5L1704.0 1709.8L1705.2 1711.5zM1710.1 1711.5L1711.4 1709.9L1712.7 1711.5zM1718.2 1711.5L1719.5 1708.2L1720.8 1711.5zM1722.8 1711.5L1724.0 1709.7L1725.2 1711.5zM1726.7 1711.5L1728.0 1707.2L1729.3 1711.5zM1727.3 1711.5L1728.5 1710.1L1729.7 1711.5zM1731.2 1711.5L1732.5 1707.7L1733.8 1711.5zM1740.6 1711.5L1741.8 1710.5L1743.0 1711.5zM1750.6 1711.5L1751.8 1708.4L1753.0 1711.5zM1814.8 1711.5L1816.0 1708.7L1817.2 1711.5z" fill="#f4b6c2" stroke="#f4b6c2" stroke-width="0.6" stroke-linejoin="round"/>
<line x1="1368.2" y1="1732.9" x2="1818.5" y2="1732.9" stroke="#b5b5b5" stroke-width="1.4"/>
<line x1="1368.2" y1="1732.9" x2="1818.5" y2="1732.9" stroke="#f0a30a" stroke-width="1.4"/>
<path d="M1370.5 1732.9L1371.9 1725.5L1373.3 1732.9zM1373.3 1732.9L1374.5 1728.4L1375.7 1732.9zM1389.6 1732.9L1390.9 1728.8L1392.2 1732.9zM1411.5 1732.9L1413.0 1728.5L1414.5 1732.9zM1413.8 1732.9L1415.6 1710.2L1417.4 1732.9zM1426.4 1732.9L1427.6 1731.0L1428.8 1732.9zM1441.1 1732.9L1442.3 1730.3L1443.5 1732.9zM1452.7 1732.9L1453.9 1730.8L1455.1 1732.9zM1472.1 1732.9L1473.3 1730.8L1474.5 1732.9zM1486.2 1732.9L1488.0 1715.2L1489.8 1732.9zM1498.8 1732.9L1500.0 1731.0L1501.2 1732.9zM1509.4 1732.9L1510.7 1729.6L1512.0 1732.9zM1522.5 1732.9L1523.7 1730.8L1524.9 1732.9zM1531.7 1732.9L1532.9 1729.9L1534.1 1732.9zM1538.0 1732.9L1539.2 1731.4L1540.4 1732.9zM1538.7 1732.9L1540.0 1730.6L1541.3 1732.9zM1544.5 1732.9L1545.7 1731.7L1546.9 1732.9zM1558.7 1732.9L1559.9 1730.9L1561.1 1732.9zM1564.2 1732.9L1565.4 1730.4L1566.6 1732.9zM1580.2 1732.9L1581.4 1731.6L1582.6 1732.9zM1588.5 1732.9L1590.0 1730.6L1591.5 1732.9zM1592.3 1732.9L1594.3 1727.8L1596.3 1732.9zM1595.6 1732.9L1597.0 1729.4L1598.4 1732.9zM1603.7 1732.9L1604.9 1730.9L1606.1 1732.9zM1617.5 1732.9L1618.7 1730.5L1619.9 1732.9zM1621.1 1732.9L1622.4 1732.0L1623.7 1732.9zM1632.1 1732.9L1633.5 1731.2L1634.9 1732.9zM1635.0 1732.9L1636.2 1730.8L1637.4 1732.9zM1655.7 1732.9L1657.0 1730.8L1658.3 1732.9zM1669.2 1732.9L1670.4 1730.9L1671.6 1732.9zM1685.7 1732.9L1686.9 1730.5L1688.1 1732.9zM1702.8 1732.9L1704.0 1731.3L1705.2 1732.9zM1710.1 1732.9L1711.4 1730.9L1712.7 1732.9zM1718.2 1732.9L1719.5 1731.1L1720.8 1732.9zM1722.8 1732.9L1724.0 1730.6L1725.2 1732.9zM1726.7 1732.9L1728.0 1730.7L1729.3 1732.9zM1731.2 1732.9L1732.5 1731.2L1733.8 1732.9zM1777.2 1732.9L1778.4 1730.3L1779.6 1732.9zM1786.9 1732.9L1788.1 1730.8L1789.3 1732.9zM1814.8 1732.9L1816.0 1729.9L1817.2 1732.9z" fill="#f0a30a" stroke="#f0a30a" stroke-width="0.6" stroke-linejoin="round"/>
<line x1="1368.2" y1="1755" x2="1818.5" y2="1755" stroke="#b5b5b5" stroke-width="1.4"/>
<line x1="1368.2" y1="1755" x2="1818.5" y2="1755" stroke="#b8860b" stroke-width="1.4"/>
<path d="M1370.5 1755L1371.9 1745.6L1373.3 1755zM1373.3 1755L1374.5 1750.3L1375.7 1755zM1389.6 1755L1390.9 1751.0L1392.2 1755zM1410.7 1755L1411.9 1752.4L1413.1 1755zM1411.5 1755L1413.0 1751.4L1414.5 1755zM1413.8 1755L1415.6 1735.9L1417.4 1755zM1472.7 1755L1473.9 1752.6L1475.1 1755zM1486.2 1755L1488.0 1735.7L1489.8 1755zM1487.7 1755L1488.9 1751.9L1490.1 1755zM1498.8 1755L1500.0 1754.1L1501.2 1755zM1509.4 1755L1510.7 1750.3L1512.0 1755zM1518.3 1755L1519.5 1752.3L1520.7 1755zM1538.7 1755L1540.0 1751.8L1541.3 1755zM1556.9 1755L1558.1 1753.6L1559.3 1755zM1558.7 1755L1559.9 1752.8L1561.1 1755zM1568.7 1755L1569.9 1753.9L1571.1 1755zM1577.1 1755L1578.3 1752.4L1579.5 1755zM1588.5 1755L1590.0 1752.0L1591.5 1755zM1592.3 1755L1594.3 1744.6L1596.3 1755zM1595.6 1755L1597.0 1750.6L1598.4 1755zM1598.2 1755L1599.4 1753.6L1600.6 1755zM1621.1 1755L1622.4 1753.9L1623.7 1755zM1622.5 1755L1623.7 1752.9L1624.9 1755zM1632.1 1755L1633.5 1753.4L1634.9 1755zM1632.8 1755L1634.0 1752.3L1635.2 1755zM1640.5 1755L1641.7 1752.4L1642.9 1755zM1655.7 1755L1657.0 1752.1L1658.3 1755zM1685.8 1755L1687.0 1753.6L1688.2 1755zM1702.8 1755L1704.0 1753.4L1705.2 1755zM1710.1 1755L1711.4 1752.9L1712.7 1755zM1718.2 1755L1719.5 1752.9L1720.8 1755zM1722.8 1755L1724.0 1752.8L1725.2 1755zM1726.7 1755L1728.0 1752.6L1729.3 1755zM1731.2 1755L1732.5 1752.8L1733.8 1755zM1731.5 1755L1732.7 1753.1L1733.9 1755zM1775.3 1755L1776.5 1754.0L1777.7 1755zM1801.4 1755L1802.6 1751.9L1803.8 1755zM1814.8 1755L1816.0 1752.2L1817.2 1755z" fill="#b8860b" stroke="#b8860b" stroke-width="0.6" stroke-linejoin="round"/>
<line x1="1368.2" y1="1777" x2="1818.5" y2="1777" stroke="#b5b5b5" stroke-width="1.4"/>
<line x1="1368.2" y1="1777" x2="1818.5" y2="1777" stroke="#c4c4c4" stroke-width="1.4"/>
<path d="M1370.5 1777L1371.9 1769.9L1373.3 1777zM1373.3 1777L1374.5 1771.5L1375.7 1777zM1385.9 1777L1387.1 1774.2L1388.3 1777zM1389.6 1777L1390.9 1771.8L1392.2 1777zM1399.6 1777L1400.8 1776.0L1402.0 1777zM1411.5 1777L1413.0 1773.8L1414.5 1777zM1413.8 1777L1415.6 1762.0L1417.4 1777zM1465.0 1777L1466.2 1774.2L1467.4 1777zM1480.5 1777L1481.7 1775.6L1482.9 1777zM1486.2 1777L1488.0 1765.0L1489.8 1777zM1496.5 1777L1497.7 1774.1L1498.9 1777zM1509.4 1777L1510.7 1762.6L1512.0 1777zM1516.9 1777L1518.1 1774.3L1519.3 1777zM1538.7 1777L1540.0 1768.8L1541.3 1777zM1544.9 1777L1546.1 1774.1L1547.3 1777zM1558.7 1777L1559.9 1769.1L1561.1 1777zM1588.5 1777L1590.0 1771.7L1591.5 1777zM1592.3 1777L1594.3 1758.0L1596.3 1777zM1595.6 1777L1597.0 1771.1L1598.4 1777zM1603.8 1777L1605.0 1775.5L1606.2 1777zM1621.1 1777L1622.4 1772.4L1623.7 1777zM1632.1 1777L1633.5 1759.0L1634.9 1777zM1637.2 1777L1638.4 1775.4L1639.6 1777zM1648.7 1777L1649.9 1775.7L1651.1 1777zM1655.7 1777L1657.0 1767.8L1658.3 1777zM1663.0 1777L1664.2 1775.6L1665.4 1777zM1702.8 1777L1704.0 1775.3L1705.2 1777zM1710.1 1777L1711.4 1772.2L1712.7 1777zM1712.0 1777L1713.2 1774.1L1714.4 1777zM1718.2 1777L1719.5 1762.1L1720.8 1777zM1719.6 1777L1720.8 1774.4L1722.0 1777zM1722.8 1777L1724.0 1773.4L1725.2 1777zM1726.7 1777L1728.0 1772.5L1729.3 1777zM1731.2 1777L1732.5 1766.5L1733.8 1777zM1764.1 1777L1765.3 1775.7L1766.5 1777zM1771.9 1777L1773.1 1773.9L1774.3 1777zM1793.1 1777L1794.3 1775.2L1795.5 1777zM1814.8 1777L1816.0 1774.3L1817.2 1777z" fill="#c4c4c4" stroke="#c4c4c4" stroke-width="0.6" stroke-linejoin="round"/>
<line x1="1368.2" y1="1798.1" x2="1818.5" y2="1798.1" stroke="#b5b5b5" stroke-width="1.4"/>
<line x1="1368.2" y1="1798.1" x2="1818.5" y2="1798.1" stroke="#7d8c8c" stroke-width="1.4"/>
<path d="M1370.5 1798.1L1371.9 1789.8L1373.3 1798.1zM1373.3 1798.1L1374.5 1792.4L1375.7 1798.1zM1389.4 1798.1L1390.6 1796.3L1391.8 1798.1zM1389.6 1798.1L1390.9 1791.1L1392.2 1798.1zM1397.9 1798.1L1399.1 1795.7L1400.3 1798.1zM1409.2 1798.1L1410.4 1797.2L1411.6 1798.1zM1411.5 1798.1L1413.0 1794.3L1414.5 1798.1zM1413.8 1798.1L1415.6 1787.3L1417.4 1798.1zM1427.2 1798.1L1428.4 1795.7L1429.6 1798.1zM1482.5 1798.1L1483.7 1795.2L1484.9 1798.1zM1486.2 1798.1L1488.0 1786.2L1489.8 1798.1zM1509.4 1798.1L1510.7 1789.8L1512.0 1798.1zM1534.9 1798.1L1536.1 1796.7L1537.3 1798.1zM1538.7 1798.1L1540.0 1794.5L1541.3 1798.1zM1558.7 1798.1L1559.9 1795.4L1561.1 1798.1zM1562.7 1798.1L1563.9 1796.0L1565.1 1798.1zM1579.2 1798.1L1580.4 1797.1L1581.6 1798.1zM1588.5 1798.1L1590.0 1793.0L1591.5 1798.1zM1592.3 1798.1L1594.3 1778.6L1596.3 1798.1zM1595.6 1798.1L1597.0 1792.2L1598.4 1798.1zM1621.1 1798.1L1622.4 1792.3L1623.7 1798.1zM1632.1 1798.1L1633.5 1774.9L1634.9 1798.1zM1640.2 1798.1L1641.4 1796.3L1642.6 1798.1zM1653.8 1798.1L1655.0 1795.5L1656.2 1798.1zM1655.7 1798.1L1657.0 1792.3L1658.3 1798.1zM1669.0 1798.1L1670.2 1795.0L1671.4 1798.1zM1702.8 1798.1L1704.0 1796.1L1705.2 1798.1zM1710.1 1798.1L1711.4 1791.0L1712.7 1798.1zM1713.4 1798.1L1714.6 1797.0L1715.8 1798.1zM1718.2 1798.1L1719.5 1793.4L1720.8 1798.1zM1722.8 1798.1L1724.0 1791.9L1725.2 1798.1zM1726.7 1798.1L1728.0 1789.2L1729.3 1798.1zM1731.1 1798.1L1732.3 1797.0L1733.5 1798.1zM1731.2 1798.1L1732.5 1786.4L1733.8 1798.1zM1768.3 1798.1L1769.5 1797.0L1770.7 1798.1zM1786.5 1798.1L1787.7 1795.7L1788.9 1798.1zM1803.6 1798.1L1804.8 1797.3L1806.0 1798.1zM1814.8 1798.1L1816.0 1794.8L1817.2 1798.1z" fill="#7d8c8c" stroke="#7d8c8c" stroke-width="0.6" stroke-linejoin="round"/>
<line x1="1368.2" y1="1820.1" x2="1818.5" y2="1820.1" stroke="#b5b5b5" stroke-width="1.4"/>
<line x1="1368.2" y1="1820.1" x2="1818.5" y2="1820.1" stroke="#000000" stroke-width="1.4"/>
<path d="M1370.5 1820.1L1371.9 1811.3L1373.3 1820.1zM1373.3 1820.1L1374.5 1815.0L1375.7 1820.1zM1389.6 1820.1L1390.9 1815.3L1392.2 1820.1zM1400.2 1820.1L1401.4 1817.3L1402.6 1820.1zM1411.5 1820.1L1412.7 1817.5L1413.9 1820.1zM1411.5 1820.1L1413.0 1815.8L1414.5 1820.1zM1413.8 1820.1L1415.6 1804.7L1417.4 1820.1zM1428.3 1820.1L1429.5 1817.2L1430.7 1820.1zM1486.2 1820.1L1488.0 1808.7L1489.8 1820.1zM1509.4 1820.1L1510.7 1816.1L1512.0 1820.1zM1517.1 1820.1L1518.3 1819.0L1519.5 1820.1zM1534.0 1820.1L1535.2 1817.3L1536.4 1820.1zM1538.7 1820.1L1540.0 1818.3L1541.3 1820.1zM1542.3 1820.1L1543.5 1817.0L1544.7 1820.1zM1558.7 1820.1L1559.9 1815.8L1561.1 1820.1zM1567.8 1820.1L1569.0 1818.4L1570.2 1820.1zM1588.5 1820.1L1590.0 1816.0L1591.5 1820.1zM1589.6 1820.1L1590.8 1817.1L1592.0 1820.1zM1592.3 1820.1L1594.3 1806.1L1596.3 1820.1zM1595.6 1820.1L1597.0 1813.1L1598.4 1820.1zM1621.1 1820.1L1622.4 1815.0L1623.7 1820.1zM1632.1 1820.1L1633.5 1800.6L1634.9 1820.1zM1655.7 1820.1L1657.0 1815.9L1658.3 1820.1zM1679.6 1820.1L1680.8 1817.8L1682.0 1820.1zM1686.4 1820.1L1687.6 1818.4L1688.8 1820.1zM1696.5 1820.1L1697.7 1819.1L1698.9 1820.1zM1702.8 1820.1L1704.0 1818.6L1705.2 1820.1zM1710.1 1820.1L1711.4 1816.0L1712.7 1820.1zM1718.2 1820.1L1719.5 1814.5L1720.8 1820.1zM1722.8 1820.1L1724.0 1816.4L1725.2 1820.1zM1726.7 1820.1L1728.0 1814.9L1729.3 1820.1zM1731.2 1820.1L1732.5 1811.6L1733.8 1820.1zM1774.8 1820.1L1776.0 1817.2L1777.2 1820.1zM1794.1 1820.1L1795.3 1817.2L1796.5 1820.1zM1814.8 1820.1L1816.0 1817.6L1817.2 1820.1z" fill="#000000" stroke="#000000" stroke-width="0.6" stroke-linejoin="round"/>
<line x1="1368.2" y1="1841.9" x2="1818.5" y2="1841.9" stroke="#b5b5b5" stroke-width="1.4"/>
<line x1="1368.2" y1="1841.9" x2="1818.5" y2="1841.9" stroke="#f4845f" stroke-width="1.4"/>
<path d="M1370.5 1841.9L1371.9 1832.7L1373.3 1841.9zM1373.3 1841.9L1374.5 1837.9L1375.7 1841.9zM1386.7 1841.9L1387.9 1839.0L1389.1 1841.9zM1389.6 1841.9L1390.9 1837.5L1392.2 1841.9zM1405.2 1841.9L1406.4 1840.8L1407.6 1841.9zM1411.5 1841.9L1413.0 1838.1L1414.5 1841.9zM1413.8 1841.9L1415.6 1822.6L1417.4 1841.9zM1458.6 1841.9L1459.8 1840.7L1461.0 1841.9zM1468.6 1841.9L1469.8 1840.7L1471.0 1841.9zM1486.2 1841.9L1488.0 1833.2L1489.8 1841.9zM1496.2 1841.9L1497.4 1840.8L1498.6 1841.9zM1504.0 1841.9L1505.2 1840.9L1506.4 1841.9zM1509.4 1841.9L1510.7 1837.3L1512.0 1841.9zM1518.3 1841.9L1519.5 1839.2L1520.7 1841.9zM1538.7 1841.9L1540.0 1837.2L1541.3 1841.9zM1558.7 1841.9L1559.9 1840.0L1561.1 1841.9zM1588.5 1841.9L1590.0 1832.3L1591.5 1841.9zM1592.3 1841.9L1594.3 1825.0L1596.3 1841.9zM1595.6 1841.9L1597.0 1830.0L1598.4 1841.9zM1621.1 1841.9L1622.4 1838.6L1623.7 1841.9zM1625.7 1841.9L1626.9 1841.0L1628.1 1841.9zM1632.1 1841.9L1633.5 1826.8L1634.9 1841.9zM1636.0 1841.9L1637.2 1840.2L1638.4 1841.9zM1651.3 1841.9L1652.5 1840.0L1653.7 1841.9zM1655.7 1841.9L1657.0 1833.3L1658.3 1841.9zM1702.8 1841.9L1704.0 1840.2L1705.2 1841.9zM1710.1 1841.9L1711.4 1836.4L1712.7 1841.9zM1718.2 1841.9L1719.5 1822.6L1720.8 1841.9zM1722.8 1841.9L1724.0 1835.8L1725.2 1841.9zM1722.9 1841.9L1724.1 1839.9L1725.3 1841.9zM1726.7 1841.9L1728.0 1831.3L1729.3 1841.9zM1731.2 1841.9L1732.5 1829.7L1733.8 1841.9zM1759.5 1841.9L1760.7 1839.5L1761.9 1841.9zM1814.8 1841.9L1816.0 1839.4L1817.2 1841.9z" fill="#f4845f" stroke="#f4845f" stroke-width="0.6" stroke-linejoin="round"/>
<line x1="1368.2" y1="1864.2" x2="1818.5" y2="1864.2" stroke="#b5b5b5" stroke-width="1.4"/>
<line x1="1368.2" y1="1864.2" x2="1818.5" y2="1864.2" stroke="#e8000b" stroke-width="1.4"/>
<path d="M1370.5 1864.2L1371.9 1856.5L1373.3 1864.2zM1373.3 1864.2L1374.5 1860.3L1375.7 1864.2zM1384.1 1864.2L1385.3 1861.2L1386.5 1864.2zM1389.6 1864.2L1390.9 1860.6L1392.2 1864.2zM1411.5 1864.2L1413.0 1860.2L1414.5 1864.2zM1413.1 1864.2L1414.3 1862.9L1415.5 1864.2zM1413.8 1864.2L1415.6 1846.2L1417.4 1864.2zM1438.1 1864.2L1439.3 1862.5L1440.5 1864.2zM1451.5 1864.2L1452.7 1861.2L1453.9 1864.2zM1467.2 1864.2L1468.4 1862.6L1469.6 1864.2zM1481.3 1864.2L1482.5 1862.5L1483.7 1864.2zM1486.2 1864.2L1488.0 1853.8L1489.8 1864.2zM1509.4 1864.2L1510.7 1861.0L1512.0 1864.2zM1523.8 1864.2L1525.0 1862.1L1526.2 1864.2zM1538.7 1864.2L1539.9 1862.1L1541.1 1864.2zM1538.7 1864.2L1540.0 1860.7L1541.3 1864.2zM1552.6 1864.2L1553.8 1862.3L1555.0 1864.2zM1558.7 1864.2L1559.9 1861.8L1561.1 1864.2zM1583.3 1864.2L1584.5 1861.9L1585.7 1864.2zM1588.5 1864.2L1590.0 1857.7L1591.5 1864.2zM1592.3 1864.2L1594.3 1846.3L1596.3 1864.2zM1595.6 1864.2L1597.0 1857.5L1598.4 1864.2zM1598.1 1864.2L1599.3 1862.3L1600.5 1864.2zM1621.1 1864.2L1622.4 1860.9L1623.7 1864.2zM1630.7 1864.2L1631.9 1862.1L1633.1 1864.2zM1632.1 1864.2L1633.5 1849.8L1634.9 1864.2zM1655.6 1864.2L1656.8 1861.2L1658.0 1864.2zM1655.7 1864.2L1657.0 1859.3L1658.3 1864.2zM1674.1 1864.2L1675.3 1862.3L1676.5 1864.2zM1683.9 1864.2L1685.1 1861.1L1686.3 1864.2zM1690.5 1864.2L1691.7 1861.6L1692.9 1864.2zM1702.4 1864.2L1703.6 1861.5L1704.8 1864.2zM1702.8 1864.2L1704.0 1862.5L1705.2 1864.2zM1710.1 1864.2L1711.4 1857.4L1712.7 1864.2zM1718.2 1864.2L1719.5 1845.4L1720.8 1864.2zM1722.8 1864.2L1724.0 1851.3L1725.2 1864.2zM1724.1 1864.2L1725.3 1861.7L1726.5 1864.2zM1726.7 1864.2L1728.0 1852.8L1729.3 1864.2zM1731.2 1864.2L1732.5 1853.4L1733.8 1864.2zM1768.6 1864.2L1769.8 1862.3L1771.0 1864.2zM1785.9 1864.2L1787.1 1863.2L1788.3 1864.2zM1814.8 1864.2L1816.0 1861.4L1817.2 1864.2z" fill="#e8000b" stroke="#e8000b" stroke-width="0.6" stroke-linejoin="round"/>
<line x1="1368.2" y1="1885.9" x2="1818.5" y2="1885.9" stroke="#b5b5b5" stroke-width="1.4"/>
<line x1="1368.2" y1="1885.9" x2="1818.5" y2="1885.9" stroke="#8b0000" stroke-width="1.4"/>
<path d="M1370.5 1885.9L1371.9 1879.7L1373.3 1885.9zM1373.3 1885.9L1374.5 1880.6L1375.7 1885.9zM1389.6 1885.9L1390.8 1883.9L1392.0 1885.9zM1389.6 1885.9L1390.9 1881.1L1392.2 1885.9zM1401.9 1885.9L1403.1 1884.3L1404.3 1885.9zM1411.5 1885.9L1413.0 1881.6L1414.5 1885.9zM1413.8 1885.9L1415.6 1874.9L1417.4 1885.9zM1434.3 1885.9L1435.5 1883.5L1436.7 1885.9zM1453.4 1885.9L1454.6 1883.0L1455.8 1885.9zM1474.4 1885.9L1475.6 1883.6L1476.8 1885.9zM1486.5 1885.9L1487.7 1883.8L1488.9 1885.9zM1486.2 1885.9L1488.0 1874.5L1489.8 1885.9zM1509.4 1885.9L1510.7 1881.8L1512.0 1885.9zM1526.5 1885.9L1527.7 1883.2L1528.9 1885.9zM1538.8 1885.9L1540.0 1883.2L1541.2 1885.9zM1538.7 1885.9L1540.0 1882.4L1541.3 1885.9zM1554.0 1885.9L1555.2 1883.0L1556.4 1885.9zM1558.7 1885.9L1559.9 1883.0L1561.1 1885.9zM1588.5 1885.9L1590.0 1879.4L1591.5 1885.9zM1589.6 1885.9L1590.8 1883.8L1592.0 1885.9zM1592.3 1885.9L1594.3 1870.2L1596.3 1885.9zM1595.6 1885.9L1597.0 1874.1L1598.4 1885.9zM1604.4 1885.9L1605.6 1883.8L1606.8 1885.9zM1621.1 1885.9L1622.4 1881.6L1623.7 1885.9zM1632.1 1885.9L1633.5 1871.8L1634.9 1885.9zM1651.9 1885.9L1653.1 1883.5L1654.3 1885.9zM1655.7 1885.9L1657.0 1881.8L1658.3 1885.9zM1686.9 1885.9L1688.1 1884.3L1689.3 1885.9zM1702.8 1885.9L1704.0 1883.7L1705.2 1885.9zM1710.1 1885.9L1711.4 1882.7L1712.7 1885.9zM1716.8 1885.9L1718.0 1884.5L1719.2 1885.9zM1718.2 1885.9L1719.5 1873.2L1720.8 1885.9zM1722.8 1885.9L1724.0 1880.8L1725.2 1885.9zM1726.7 1885.9L1728.0 1878.4L1729.3 1885.9zM1731.2 1885.9L1732.5 1876.3L1733.8 1885.9zM1746.9 1885.9L1748.1 1883.9L1749.3 1885.9zM1755.0 1885.9L1756.2 1884.1L1757.4 1885.9zM1762.9 1885.9L1764.1 1883.6L1765.3 1885.9zM1814.8 1885.9L1816.0 1882.6L1817.2 1885.9z" fill="#8b0000" stroke="#8b0000" stroke-width="0.6" stroke-linejoin="round"/>
<defs><linearGradient id="tg" x1="0" y1="0" x2="0.3" y2="1"><stop offset="0" stop-color="#ffffff"/><stop offset="0.55" stop-color="#b8b8b8"/><stop offset="1" stop-color="#505050"/></linearGradient></defs>
<path d="M1347.1 1635.4L1347.1 1688.3L1333.2 1688.3z" fill="url(#tg)" stroke="#111" stroke-width="1.2"/>
<rect x="1351.3" y="1631.8" width="7.9" height="56.5" fill="#a6a6a6"/>
<text x="1257.2" y="1679.0" font-size="28" text-anchor="middle">−</text>
<text x="1297.9" y="1679.0" font-size="28" text-anchor="middle">−</text>
<path d="M1347.1 1701.1L1347.1 1754.0L1333.2 1754.0z" fill="url(#tg)" stroke="#111" stroke-width="1.2"/>
<rect x="1351.3" y="1696.7" width="7.9" height="55.5" fill="#ffc0cb"/>
<text x="1257.2" y="1744.5" font-size="28" text-anchor="middle">+</text>
<text x="1297.9" y="1744.5" font-size="28" text-anchor="middle">−</text>
<path d="M1347.1 1766.8L1347.1 1819.7L1333.2 1819.7z" fill="url(#tg)" stroke="#111" stroke-width="1.2"/>
<rect x="1351.3" y="1762.8" width="7.9" height="55.2" fill="#000"/>
<text x="1257.2" y="1810.3" font-size="28" text-anchor="middle">−</text>
<text x="1297.9" y="1810.3" font-size="28" text-anchor="middle">+</text>
<path d="M1347.1 1832.5L1347.1 1885.4L1333.2 1885.4z" fill="url(#tg)" stroke="#111" stroke-width="1.2"/>
<rect x="1351.3" y="1829.5" width="7.9" height="54.9" fill="#c00000"/>
<text x="1257.2" y="1875.8" font-size="28" text-anchor="middle">+</text>
<text x="1297.9" y="1875.8" font-size="28" text-anchor="middle">+</text>
<rect x="1582.5" y="1627.9" width="18.7" height="258.0" fill="none" stroke="#111" stroke-width="2.3" stroke-dasharray="7 5"/>
<rect x="1702.3" y="1627" width="44.7" height="258.9" fill="none" stroke="#111" stroke-width="2.3" stroke-dasharray="7 5"/>
<path d="M1370.0 1888A183.5 122.0 0 0 0 1737.0 1888M1605.0 1888A58.5 40.0 0 0 0 1722.0 1888M1612.0 1888A62.5 44.0 0 0 0 1737.0 1888M1620.0 1888A55.0 38.0 0 0 0 1730.0 1888M1630.0 1888A45.0 30.0 0 0 0 1720.0 1888M1633.0 1888A52.0 35.0 0 0 0 1737.0 1888" fill="none" stroke="#4a8fdf" stroke-opacity="0.59" stroke-width="1.4"/>
<path d="M1372.0 1888A180.5 116.0 0 0 0 1733.0 1888M1375.0 1888A176.5 110.0 0 0 0 1728.0 1888M1640.0 1888A36.0 24.0 0 0 0 1712.0 1888M1650.0 1888A41.0 28.0 0 0 0 1732.0 1888M1479.0 1888A6.5 7.0 0 0 0 1492.0 1888M1612.4 1888A50.3 47.1 0 0 0 1713.1 1888M1628.6 1888A43.0 33.7 0 0 0 1714.5 1888M1631.2 1888A47.0 43.5 0 0 0 1725.2 1888M1629.6 1888A43.1 44.8 0 0 0 1715.8 1888M1602.1 1888A56.8 43.5 0 0 0 1715.6 1888M1632.8 1888A43.6 36.9 0 0 0 1719.9 1888M1628.7 1888A45.5 38.0 0 0 0 1719.6 1888M1641.6 1888A36.9 47.0 0 0 0 1715.4 1888" fill="none" stroke="#4a8fdf" stroke-opacity="0.51" stroke-width="1.4"/>
<path d="M1380.0 1888A171.0 104.0 0 0 0 1722.0 1888M1385.0 1888A166.5 97.0 0 0 0 1718.0 1888" fill="none" stroke="#4a8fdf" stroke-opacity="0.47" stroke-width="1.4"/>
<path d="M1392.0 1888A160.0 92.0 0 0 0 1712.0 1888M1398.0 1888A169.5 100.0 0 0 0 1737.0 1888M1405.0 1888A162.5 88.0 0 0 0 1730.0 1888M1660.0 1888A38.5 25.0 0 0 0 1737.0 1888" fill="none" stroke="#4a8fdf" stroke-opacity="0.42" stroke-width="1.4"/>
<path d="M1413.0 1888A153.5 80.0 0 0 0 1720.0 1888M1372.0 1888A134.0 75.0 0 0 0 1640.0 1888M1396.1 1888A163.5 114.4 0 0 0 1723.0 1888M1392.5 1888A168.9 116.1 0 0 0 1730.3 1888M1380.3 1888A167.8 105.3 0 0 0 1715.9 1888M1398.8 1888A157.1 102.9 0 0 0 1713.0 1888M1379.3 1888A172.1 119.4 0 0 0 1723.4 1888M1375.2 1888A169.8 95.5 0 0 0 1714.7 1888M1380.2 1888A175.3 107.7 0 0 0 1730.9 1888M1389.4 1888A168.0 105.1 0 0 0 1725.3 1888" fill="none" stroke="#4a8fdf" stroke-opacity="0.38" stroke-width="1.4"/>
<path d="M1376.0 1888A114.5 62.0 0 0 0 1605.0 1888" fill="none" stroke="#4a8fdf" stroke-opacity="0.34" stroke-width="1.4"/>
<path d="M1380.0 1888A108.0 55.0 0 0 0 1596.0 1888M1560.0 1888A40.0 32.0 0 0 0 1640.0 1888M1600.0 1888A30.0 22.0 0 0 0 1660.0 1888M1372.0 1888A21.5 20.0 0 0 0 1415.0 1888M1560.0 1888A88.5 70.0 0 0 0 1737.0 1888" fill="none" stroke="#4a8fdf" stroke-opacity="0.30" stroke-width="1.4"/>
<path d="M1415.0 1888A92.5 50.0 0 0 0 1600.0 1888M1540.0 1888A30.0 25.0 0 0 0 1600.0 1888M1500.0 1888A118.5 88.0 0 0 0 1737.0 1888" fill="none" stroke="#4a8fdf" stroke-opacity="0.26" stroke-width="1.4"/>
<path d="M1590.0 1888A73.5 48.0 0 0 0 1737.0 1888M1595.0 1888A68.5 45.0 0 0 0 1732.0 1888M1600.0 1888A64.0 42.0 0 0 0 1728.0 1888" fill="none" stroke="#4a8fdf" stroke-opacity="0.64" stroke-width="1.4"/>
<path d="M1737.0 1888A40.5 48.0 0 0 0 1818.0 1888M1700.0 1888A59.0 60.0 0 0 0 1818.0 1888M1415.0 1888A27.5 25.0 0 0 0 1470.0 1888" fill="none" stroke="#4a8fdf" stroke-opacity="0.17" stroke-width="1.4"/>
<path d="M1620.0 1888A99.0 80.0 0 0 0 1818.0 1888" fill="none" stroke="#4a8fdf" stroke-opacity="0.13" stroke-width="1.4"/>
<rect x="1586" y="2022" width="26.2" height="6" fill="#1e78e6"/>
<path d="M1590 2019.5v11M1596 2019.5v11M1603 2019.5v11M1608 2019.5v11" stroke="#1e78e6" stroke-width="1.3" stroke-opacity="0.6"/>
<text x="1618.8" y="2036.9" font-size="27" textLength="103.93013100436681" lengthAdjust="spacingAndGlyphs">CHRNA1</text>
<path d="M1884.9 1640.6V1783.4H2034.9" fill="none" stroke="#222" stroke-width="1.4"/>
<line x1="1878.5" y1="1664.3" x2="1884.9" y2="1664.3" stroke="#222" stroke-width="1.3"/>
<line x1="1878.5" y1="1710.9" x2="1884.9" y2="1710.9" stroke="#222" stroke-width="1.3"/>
<line x1="1878.5" y1="1757.1" x2="1884.9" y2="1757.1" stroke="#222" stroke-width="1.3"/>
<line x1="1891.4" y1="1783.4" x2="1891.4" y2="1789" stroke="#222" stroke-width="1.3"/>
<line x1="1925.7" y1="1783.4" x2="1925.7" y2="1789" stroke="#222" stroke-width="1.3"/>
<line x1="1960" y1="1783.4" x2="1960" y2="1789" stroke="#222" stroke-width="1.3"/>
<line x1="1994.3" y1="1783.4" x2="1994.3" y2="1789" stroke="#222" stroke-width="1.3"/>
<line x1="2028.6" y1="1783.4" x2="2028.6" y2="1789" stroke="#222" stroke-width="1.3"/>
<text x="1868.6" y="1671.4" font-size="23" text-anchor="end">0.6</text>
<text x="1868.6" y="1764.9" font-size="23" text-anchor="end">0.2</text>
<text x="1891.4" y="1818.6" font-size="23" text-anchor="middle">0</text>
<text x="2020.6" y="1818.6" font-size="23" text-anchor="middle">1.00</text>
<text x="1959.4" y="1854.3" font-size="27" text-anchor="middle" textLength="104" lengthAdjust="spacingAndGlyphs">Cell age</text>
<path d="M1891.4 1760.6C1914.3 1762.1 2005.7 1767.9 2028.6 1769.4" fill="none" stroke="#c8c8c8" stroke-width="2.6" stroke-opacity="1"/>
<path d="M1891.4 1777.7C1900.0 1777.6 1928.6 1779.1 1942.9 1777.1C1957.2 1775.1 1962.8 1771.8 1977.1 1765.7C1991.4 1759.6 2020.0 1744.8 2028.6 1740.6" fill="none" stroke="#f6b8c4" stroke-width="2.6" stroke-opacity="1"/>
<path d="M1891.4 1745.1C1914.3 1741.5 2005.7 1727.0 2028.6 1723.4" fill="none" stroke="#222" stroke-width="2.4" stroke-opacity="1"/>
<path d="M1891.4 1734.3C1897.1 1731.9 1914.3 1726.2 1925.7 1720.0C1937.1 1713.8 1948.6 1705.2 1960.0 1697.1C1971.4 1689.0 1982.9 1680.7 1994.3 1671.4C2005.7 1662.1 2022.9 1646.4 2028.6 1641.4" fill="none" stroke="#f0a0a0" stroke-width="5" stroke-opacity="0.5"/>
<path d="M1891.4 1734.3C1897.1 1731.9 1914.3 1726.2 1925.7 1720.0C1937.1 1713.8 1948.6 1705.2 1960.0 1697.1C1971.4 1689.0 1982.9 1680.7 1994.3 1671.4C2005.7 1662.1 2022.9 1646.4 2028.6 1641.4" fill="none" stroke="#dd2c2c" stroke-width="2.2" stroke-opacity="1"/>
<rect x="1815.5" y="1927.5" width="24.7" height="9" fill="#a6a6a6"/>
<text x="1856.0" y="1940.8" font-size="26.5" textLength="238.9" lengthAdjust="spacingAndGlyphs">Pre-PD1, responder</text>
<rect x="1815.5" y="1960.7" width="24.7" height="9" fill="#ffc0cb"/>
<text x="1856.0" y="1974.4" font-size="26.5" textLength="311" lengthAdjust="spacingAndGlyphs">Post-PD1, non-responder</text>
<rect x="1815.5" y="1993.5" width="24.7" height="9" fill="#000000"/>
<text x="1856.0" y="2006.3" font-size="26.5" textLength="297" lengthAdjust="spacingAndGlyphs">Pre-PD1, non-responder</text>
<rect x="1815.5" y="2023.6" width="24.7" height="9" fill="#c00000"/>
<text x="1856.0" y="2036.9" font-size="26.5" textLength="252.8" lengthAdjust="spacingAndGlyphs">Post-PD1, responder</text>
</svg>
</body></html>
